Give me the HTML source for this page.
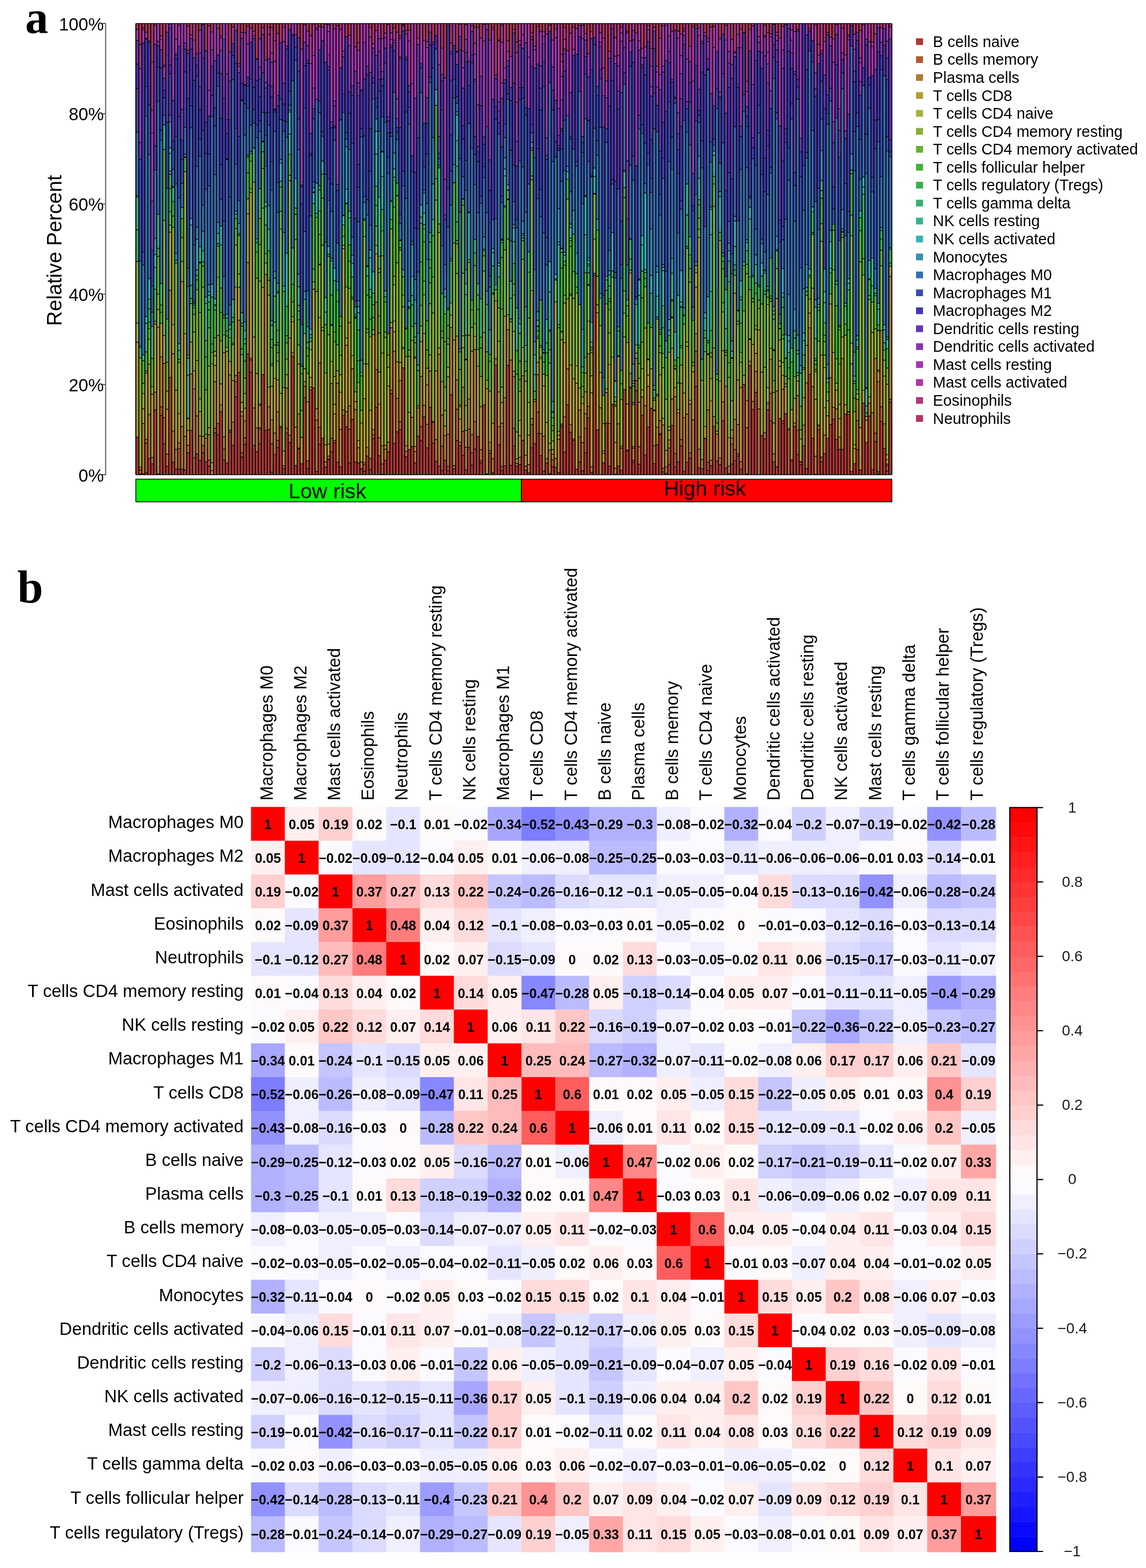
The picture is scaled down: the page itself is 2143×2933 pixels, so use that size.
<!DOCTYPE html>
<html><head><meta charset="utf-8"><title>Figure</title>
<style>html,body{margin:0;padding:0;background:#fff;width:2143px;height:2933px;overflow:hidden}body{position:relative}</style>
</head><body>
<svg width="2143" height="2933" viewBox="0 0 2143 2933" style="position:absolute;left:0;top:0">
<rect width="2143" height="2933" fill="#fff"/>
<path fill="#B23636" d="M254 818h5.6v70h-5.6zM259.6 886.9h5.6v1.1h-5.6zM265.2 886.2h5.6v1.8h-5.6zM270.8 884.3h5.6v3.7h-5.6zM276.4 857.4h5.6v30.6h-5.6zM281.9 867.8h5.6v20.2h-5.6zM287.5 766.9h5.6v121.1h-5.6zM293.1 886.5h5.6v1.5h-5.6zM298.7 777h5.6v111h-5.6zM304.3 830.2h5.6v57.8h-5.6zM309.9 872.2h5.6v15.8h-5.6zM315.5 706.2h5.6v181.8h-5.6zM321.1 864.8h5.6v23.2h-5.6zM326.6 877.3h5.6v10.7h-5.6zM332.2 878.3h5.6v9.7h-5.6zM337.8 877.8h5.6v10.2h-5.6zM343.4 878.9h5.6v9.1h-5.6zM349 847h5.6v41h-5.6zM354.6 805.1h5.6v82.9h-5.6zM360.2 887.8h5.6v0.2h-5.6zM365.8 849h5.6v39h-5.6zM371.3 861.1h5.6v26.9h-5.6zM376.9 846.9h5.6v41.1h-5.6zM382.5 864.2h5.6v23.8h-5.6zM388.1 871.9h5.6v16.1h-5.6zM393.7 887.6h5.6v0.4h-5.6zM399.3 809.5h5.6v78.5h-5.6zM404.9 813.5h5.6v74.5h-5.6zM410.5 770.3h5.6v117.7h-5.6zM416 860.5h5.6v27.5h-5.6zM421.6 865.6h5.6v22.4h-5.6zM427.2 808.3h5.6v79.7h-5.6zM432.8 833h5.6v55h-5.6zM438.4 741.9h5.6v146.1h-5.6zM444 696.5h5.6v191.5h-5.6zM449.6 854.9h5.6v33.1h-5.6zM455.2 830.9h5.6v57.1h-5.6zM460.7 662h5.6v226h-5.6zM466.3 696.5h5.6v191.5h-5.6zM471.9 832.9h5.6v55.1h-5.6zM477.5 845.2h5.6v42.8h-5.6zM483.1 829.6h5.6v58.4h-5.6zM488.7 700.7h5.6v187.3h-5.6zM494.3 805h5.6v83h-5.6zM499.9 803.5h5.6v84.5h-5.6zM505.4 883.3h5.6v4.7h-5.6zM511 850.1h5.6v37.9h-5.6zM516.6 837.3h5.6v50.7h-5.6zM522.2 800.3h5.6v87.7h-5.6zM527.8 876.2h5.6v11.8h-5.6zM533.4 810.1h5.6v77.9h-5.6zM539 827.8h5.6v60.2h-5.6zM544.6 666.9h5.6v221.1h-5.6zM550.2 870.8h5.6v17.2h-5.6zM555.7 839.7h5.6v48.3h-5.6zM561.3 867.4h5.6v20.6h-5.6zM566.9 744.3h5.6v143.7h-5.6zM572.5 876.4h5.6v11.6h-5.6zM578.1 729.5h5.6v158.5h-5.6zM583.7 725.4h5.6v162.6h-5.6zM589.3 881.8h5.6v6.2h-5.6zM594.9 830.9h5.6v57.1h-5.6zM600.4 819.9h5.6v68.1h-5.6zM606 873.8h5.6v14.2h-5.6zM611.6 860.2h5.6v27.8h-5.6zM617.2 845.2h5.6v42.8h-5.6zM622.8 827.6h5.6v60.4h-5.6zM628.4 864.5h5.6v23.5h-5.6zM634 873.2h5.6v14.8h-5.6zM639.6 777.1h5.6v110.9h-5.6zM645.1 798.4h5.6v89.6h-5.6zM650.7 866.1h5.6v21.9h-5.6zM656.3 784.8h5.6v103.2h-5.6zM661.9 864.3h5.6v23.7h-5.6zM667.5 866.2h5.6v21.8h-5.6zM673.1 877.3h5.6v10.7h-5.6zM678.7 881.3h5.6v6.7h-5.6zM684.3 853.3h5.6v34.7h-5.6zM689.8 878.8h5.6v9.2h-5.6zM695.4 820.5h5.6v67.5h-5.6zM701 762.2h5.6v125.8h-5.6zM706.6 852.5h5.6v35.5h-5.6zM712.2 887.1h5.6v0.9h-5.6zM717.8 861.1h5.6v26.9h-5.6zM723.4 845.3h5.6v42.7h-5.6zM729 736.4h5.6v151.6h-5.6zM734.5 829.4h5.6v58.6h-5.6zM740.1 807.7h5.6v80.3h-5.6zM745.7 804.3h5.6v83.7h-5.6zM751.3 687.9h5.6v200.1h-5.6zM756.9 854.3h5.6v33.7h-5.6zM762.5 840.9h5.6v47.1h-5.6zM768.1 835.4h5.6v52.6h-5.6zM773.7 866h5.6v22h-5.6zM779.2 816.2h5.6v71.8h-5.6zM784.8 824.3h5.6v63.7h-5.6zM790.4 779.7h5.6v108.3h-5.6zM796 837.7h5.6v50.3h-5.6zM801.6 762h5.6v126h-5.6zM807.2 828.9h5.6v59.1h-5.6zM812.8 862.9h5.6v25.1h-5.6zM818.4 871.8h5.6v16.2h-5.6zM824 879.9h5.6v8.1h-5.6zM829.5 860.8h5.6v27.2h-5.6zM835.1 880.7h5.6v7.3h-5.6zM840.7 738.5h5.6v149.5h-5.6zM846.3 877h5.6v11h-5.6zM851.9 824.3h5.6v63.7h-5.6zM857.5 833.4h5.6v54.6h-5.6zM863.1 852.2h5.6v35.8h-5.6zM868.7 878.8h5.6v9.2h-5.6zM874.2 837.3h5.6v50.7h-5.6zM879.8 870.2h5.6v17.8h-5.6zM885.4 839.9h5.6v48.1h-5.6zM891 816.5h5.6v71.5h-5.6zM896.6 865.7h5.6v22.3h-5.6zM902.2 757.1h5.6v130.9h-5.6zM913.4 847.7h5.6v40.3h-5.6zM918.9 884.5h5.6v3.5h-5.6zM924.5 683.1h5.6v204.9h-5.6zM930.1 832.3h5.6v55.7h-5.6zM935.7 879.9h5.6v8.1h-5.6zM941.3 871.1h5.6v16.9h-5.6zM946.9 683.4h5.6v204.6h-5.6zM952.5 870.4h5.6v17.6h-5.6zM958.1 834.3h5.6v53.7h-5.6zM963.6 872.2h5.6v15.8h-5.6zM969.2 868.7h5.6v19.3h-5.6zM974.8 823.8h5.6v64.2h-5.6zM980.4 879.5h5.6v8.5h-5.6zM986 884.7h5.6v3.3h-5.6zM991.6 837.6h5.6v50.4h-5.6zM997.2 830.1h5.6v57.9h-5.6zM1002.8 810.8h5.6v77.2h-5.6zM1008.3 852.1h5.6v35.9h-5.6zM1013.9 881.3h5.6v6.7h-5.6zM1019.5 865.9h5.6v22.1h-5.6zM1025.1 885.8h5.6v2.2h-5.6zM1030.7 873h5.6v15h-5.6zM1036.3 874.3h5.6v13.7h-5.6zM1041.9 883.9h5.6v4.1h-5.6zM1047.5 797.2h5.6v90.8h-5.6zM1053 845.7h5.6v42.3h-5.6zM1058.6 757.2h5.6v130.8h-5.6zM1064.2 808.5h5.6v79.5h-5.6zM1069.8 823.7h5.6v64.3h-5.6zM1075.4 877.7h5.6v10.3h-5.6zM1081 864.5h5.6v23.5h-5.6zM1086.6 880.7h5.6v7.3h-5.6zM1092.2 847.1h5.6v40.9h-5.6zM1097.7 781.6h5.6v106.4h-5.6zM1103.3 883.4h5.6v4.6h-5.6zM1108.9 514.4h5.6v373.6h-5.6zM1114.5 804.2h5.6v83.8h-5.6zM1120.1 887.7h5.6v0.3h-5.6zM1125.7 865.7h5.6v22.3h-5.6zM1131.3 791.5h5.6v96.5h-5.6zM1136.9 871.9h5.6v16.1h-5.6zM1142.5 756.8h5.6v131.2h-5.6zM1148 887h5.6v1h-5.6zM1153.6 871.7h5.6v16.3h-5.6zM1159.2 880.1h5.6v7.9h-5.6zM1164.8 728.7h5.6v159.3h-5.6zM1170.4 843.7h5.6v44.3h-5.6zM1176 725.9h5.6v162.1h-5.6zM1181.6 864.6h5.6v23.4h-5.6zM1187.2 730.8h5.6v157.2h-5.6zM1192.7 868.3h5.6v19.7h-5.6zM1198.3 776.6h5.6v111.4h-5.6zM1203.9 851h5.6v37h-5.6zM1209.5 798.9h5.6v89.1h-5.6zM1215.1 763.7h5.6v124.3h-5.6zM1220.7 867.2h5.6v20.8h-5.6zM1226.3 831.9h5.6v56.1h-5.6zM1231.9 813.2h5.6v74.8h-5.6zM1237.4 882.5h5.6v5.5h-5.6zM1243 885.4h5.6v2.6h-5.6zM1248.6 868.5h5.6v19.5h-5.6zM1254.2 795.7h5.6v92.3h-5.6zM1259.8 873.6h5.6v14.4h-5.6zM1265.4 863.7h5.6v24.3h-5.6zM1271 834h5.6v54h-5.6zM1276.6 881.6h5.6v6.4h-5.6zM1282.1 864.8h5.6v23.2h-5.6zM1287.7 856.8h5.6v31.2h-5.6zM1293.3 887.8h5.6v0.2h-5.6zM1298.9 722.7h5.6v165.3h-5.6zM1304.5 875.2h5.6v12.8h-5.6zM1310.1 876.8h5.6v11.2h-5.6zM1315.7 820.8h5.6v67.2h-5.6zM1321.3 879.6h5.6v8.4h-5.6zM1326.8 871.3h5.6v16.7h-5.6zM1332.4 797.6h5.6v90.4h-5.6zM1338 862.2h5.6v25.8h-5.6zM1343.6 868.9h5.6v19.1h-5.6zM1349.2 787.2h5.6v100.8h-5.6zM1354.8 875.5h5.6v12.5h-5.6zM1360.4 886h5.6v2h-5.6zM1366 867.9h5.6v20.1h-5.6zM1371.5 862.1h5.6v25.9h-5.6zM1377.1 853h5.6v35h-5.6zM1382.7 877.6h5.6v10.4h-5.6zM1388.3 719.3h5.6v168.7h-5.6zM1393.9 886.1h5.6v1.9h-5.6zM1399.5 684h5.6v204h-5.6zM1405.1 765.6h5.6v122.4h-5.6zM1410.7 733.7h5.6v154.3h-5.6zM1416.3 887.6h5.6v0.4h-5.6zM1421.8 814.4h5.6v73.6h-5.6zM1427.4 820.6h5.6v67.4h-5.6zM1433 766.4h5.6v121.6h-5.6zM1438.6 787.2h5.6v100.8h-5.6zM1444.2 863.9h5.6v24.1h-5.6zM1449.8 872.9h5.6v15.1h-5.6zM1455.4 782.9h5.6v105.1h-5.6zM1461 792.1h5.6v95.9h-5.6zM1466.5 774h5.6v114h-5.6zM1472.1 887.6h5.6v0.4h-5.6zM1477.7 862.6h5.6v25.4h-5.6zM1483.3 797.9h5.6v90.1h-5.6zM1488.9 850.4h5.6v37.6h-5.6zM1494.5 869.2h5.6v18.8h-5.6zM1500.1 834.1h5.6v53.9h-5.6zM1505.7 876.5h5.6v11.5h-5.6zM1511.2 700.2h5.6v187.8h-5.6zM1516.8 819.7h5.6v68.3h-5.6zM1522.4 887.3h5.6v0.7h-5.6zM1528 803h5.6v85h-5.6zM1533.6 863.8h5.6v24.2h-5.6zM1539.2 848.7h5.6v39.3h-5.6zM1544.8 820.1h5.6v67.9h-5.6zM1550.4 794h5.6v94h-5.6zM1555.9 783.9h5.6v104.1h-5.6zM1561.5 821.6h5.6v66.4h-5.6zM1567.1 840.4h5.6v47.6h-5.6zM1572.7 840.7h5.6v47.3h-5.6zM1578.3 774.4h5.6v113.6h-5.6zM1583.9 775.2h5.6v112.8h-5.6zM1589.5 881.6h5.6v6.4h-5.6zM1595.1 867.1h5.6v20.9h-5.6zM1600.6 840.9h5.6v47.1h-5.6zM1606.2 879.2h5.6v8.8h-5.6zM1611.8 753.9h5.6v134.1h-5.6zM1617.4 827.6h5.6v60.4h-5.6zM1623 778.2h5.6v109.8h-5.6zM1628.6 878.5h5.6v9.5h-5.6zM1634.2 826.3h5.6v61.7h-5.6zM1639.8 886.8h5.6v1.2h-5.6zM1645.3 788.6h5.6v99.4h-5.6zM1650.9 838.6h5.6v49.4h-5.6zM1656.5 880.8h5.6v7.2h-5.6zM1662.1 752.3h5.6v135.7h-5.6z"/>
<path fill="#B25836" d="M259.6 879h5.6v7.8h-5.6zM270.8 828.8h5.6v55.5h-5.6zM298.7 761h5.6v16h-5.6zM304.3 781.2h5.6v49h-5.6zM332.2 839.1h5.6v39.2h-5.6zM360.2 856.3h5.6v31.5h-5.6zM376.9 832.9h5.6v14h-5.6zM388.1 860.7h5.6v11.2h-5.6zM399.3 801.2h5.6v8.3h-5.6zM404.9 792.5h5.6v21h-5.6zM416 839.9h5.6v20.6h-5.6zM427.2 804.8h5.6v3.4h-5.6zM438.4 714h5.6v27.9h-5.6zM449.6 846.7h5.6v8.2h-5.6zM455.2 818.9h5.6v12.1h-5.6zM466.3 673.2h5.6v23.3h-5.6zM483.1 802.6h5.6v26.9h-5.6zM505.4 830.2h5.6v53.1h-5.6zM516.6 823.7h5.6v13.6h-5.6zM533.4 801.1h5.6v9h-5.6zM555.7 838.2h5.6v1.5h-5.6zM566.9 722.5h5.6v21.8h-5.6zM572.5 862h5.6v14.4h-5.6zM594.9 799.2h5.6v31.6h-5.6zM611.6 858.1h5.6v2.1h-5.6zM617.2 819.6h5.6v25.6h-5.6zM650.7 803h5.6v63h-5.6zM656.3 784.5h5.6v0.3h-5.6zM678.7 869.1h5.6v12.2h-5.6zM689.8 857.4h5.6v21.5h-5.6zM695.4 813.2h5.6v7.3h-5.6zM701 691.5h5.6v70.7h-5.6zM712.2 868h5.6v19h-5.6zM729 729.6h5.6v6.7h-5.6zM745.7 789h5.6v15.4h-5.6zM784.8 797.9h5.6v26.4h-5.6zM807.2 790.1h5.6v38.7h-5.6zM824 834.5h5.6v45.4h-5.6zM835.1 872.1h5.6v8.6h-5.6zM851.9 765.4h5.6v58.9h-5.6zM863.1 806.9h5.6v45.3h-5.6zM874.2 803h5.6v34.3h-5.6zM879.8 847.2h5.6v22.9h-5.6zM885.4 788.6h5.6v51.4h-5.6zM896.6 861.6h5.6v4h-5.6zM913.4 842.5h5.6v5.2h-5.6zM935.7 872.8h5.6v7.1h-5.6zM958.1 801.3h5.6v33h-5.6zM991.6 794.3h5.6v43.3h-5.6zM1002.8 770.7h5.6v40.1h-5.6zM1030.7 860.3h5.6v12.7h-5.6zM1047.5 793.2h5.6v3.9h-5.6zM1081 817.1h5.6v47.4h-5.6zM1092.2 801.1h5.6v46h-5.6zM1097.7 760.2h5.6v21.4h-5.6zM1176 723.6h5.6v2.4h-5.6zM1181.6 861.3h5.6v3.3h-5.6zM1187.2 712h5.6v18.8h-5.6zM1231.9 811.2h5.6v2h-5.6zM1237.4 875.7h5.6v6.8h-5.6zM1248.6 838h5.6v30.5h-5.6zM1259.8 848.2h5.6v25.4h-5.6zM1271 822.3h5.6v11.7h-5.6zM1287.7 847.3h5.6v9.5h-5.6zM1298.9 656.8h5.6v65.9h-5.6zM1321.3 864.7h5.6v14.9h-5.6zM1366 830.6h5.6v37.3h-5.6zM1371.5 840.8h5.6v21.2h-5.6zM1377.1 848.8h5.6v4.2h-5.6zM1438.6 735.7h5.6v51.5h-5.6zM1461 787.4h5.6v4.7h-5.6zM1472.1 803.9h5.6v83.7h-5.6zM1477.7 859.6h5.6v3h-5.6zM1488.9 805.1h5.6v45.3h-5.6zM1494.5 864.5h5.6v4.7h-5.6zM1533.6 854.9h5.6v8.9h-5.6zM1600.6 786.7h5.6v54.2h-5.6zM1634.2 810.5h5.6v15.8h-5.6zM1639.8 882.4h5.6v4.3h-5.6zM1645.3 760.8h5.6v27.8h-5.6zM1656.5 871h5.6v9.8h-5.6zM1662.1 747h5.6v5.3h-5.6z"/>
<path fill="#B27A36" d="M259.6 873.6h5.6v5.5h-5.6zM265.2 792.3h5.6v93.9h-5.6zM270.8 822.2h5.6v6.5h-5.6zM276.4 775.4h5.6v82h-5.6zM281.9 855.8h5.6v12h-5.6zM287.5 733.4h5.6v33.5h-5.6zM298.7 667.6h5.6v93.4h-5.6zM304.3 679.8h5.6v101.4h-5.6zM309.9 849.4h5.6v22.8h-5.6zM315.5 542.9h5.6v163.3h-5.6zM321.1 806.3h5.6v58.4h-5.6zM326.6 840.4h5.6v36.9h-5.6zM332.2 828.8h5.6v10.3h-5.6zM337.8 797.7h5.6v80.1h-5.6zM343.4 816h5.6v62.9h-5.6zM349 832.7h5.6v14.3h-5.6zM354.6 699.5h5.6v105.6h-5.6zM360.2 727.6h5.6v128.7h-5.6zM365.8 778h5.6v71h-5.6zM371.3 815.5h5.6v45.6h-5.6zM382.5 819.6h5.6v44.6h-5.6zM388.1 813.3h5.6v47.3h-5.6zM399.3 714h5.6v87.2h-5.6zM410.5 757.1h5.6v13.2h-5.6zM416 816.9h5.6v23h-5.6zM427.2 701.2h5.6v103.6h-5.6zM432.8 789.6h5.6v43.4h-5.6zM438.4 702.5h5.6v11.6h-5.6zM444 598.9h5.6v97.6h-5.6zM449.6 778.1h5.6v68.6h-5.6zM455.2 787.4h5.6v31.5h-5.6zM460.7 491.3h5.6v170.7h-5.6zM466.3 670.3h5.6v3h-5.6zM471.9 763.3h5.6v69.6h-5.6zM477.5 800.4h5.6v44.9h-5.6zM483.1 800.2h5.6v2.4h-5.6zM494.3 513.3h5.6v291.7h-5.6zM499.9 760.8h5.6v42.7h-5.6zM505.4 785.1h5.6v45.1h-5.6zM511 810.2h5.6v39.9h-5.6zM516.6 770.5h5.6v53.2h-5.6zM522.2 797.4h5.6v2.9h-5.6zM527.8 871.3h5.6v4.9h-5.6zM533.4 725.8h5.6v75.3h-5.6zM539 814h5.6v13.8h-5.6zM544.6 659.1h5.6v7.9h-5.6zM555.7 774.4h5.6v63.8h-5.6zM566.9 713.6h5.6v8.9h-5.6zM578.1 724h5.6v5.5h-5.6zM589.3 785.7h5.6v96.1h-5.6zM594.9 679.2h5.6v120h-5.6zM606 863.8h5.6v10.1h-5.6zM611.6 853.1h5.6v5h-5.6zM617.2 717.5h5.6v102.1h-5.6zM622.8 824h5.6v3.6h-5.6zM628.4 716.9h5.6v147.7h-5.6zM634 803.2h5.6v70h-5.6zM639.6 766.8h5.6v10.3h-5.6zM645.1 769.9h5.6v28.5h-5.6zM650.7 759.5h5.6v43.5h-5.6zM656.3 689.7h5.6v94.8h-5.6zM661.9 766h5.6v98.4h-5.6zM667.5 837.5h5.6v28.7h-5.6zM673.1 863.7h5.6v13.5h-5.6zM678.7 865.6h5.6v3.5h-5.6zM684.3 837.1h5.6v16.3h-5.6zM695.4 803.5h5.6v9.7h-5.6zM701 565.2h5.6v126.3h-5.6zM706.6 819h5.6v33.5h-5.6zM712.2 833.7h5.6v34.4h-5.6zM717.8 840.2h5.6v20.9h-5.6zM723.4 826.9h5.6v18.4h-5.6zM729 613.3h5.6v116.4h-5.6zM734.5 657.2h5.6v172.2h-5.6zM740.1 745.3h5.6v62.4h-5.6zM745.7 711.6h5.6v77.4h-5.6zM756.9 844.3h5.6v10h-5.6zM768.1 780.6h5.6v54.7h-5.6zM773.7 844.5h5.6v21.5h-5.6zM779.2 763h5.6v53.1h-5.6zM784.8 704.3h5.6v93.5h-5.6zM790.4 758.2h5.6v21.5h-5.6zM796 793.6h5.6v44.1h-5.6zM801.6 694h5.6v68h-5.6zM807.2 788.5h5.6v1.7h-5.6zM812.8 822.2h5.6v40.7h-5.6zM818.4 662.8h5.6v209h-5.6zM824 776.2h5.6v58.3h-5.6zM829.5 814.7h5.6v46.2h-5.6zM835.1 812.3h5.6v59.8h-5.6zM840.7 612.5h5.6v126h-5.6zM846.3 870.9h5.6v6.1h-5.6zM851.9 710.5h5.6v54.9h-5.6zM857.5 827.1h5.6v6.4h-5.6zM863.1 724.4h5.6v82.5h-5.6zM868.7 836.5h5.6v42.4h-5.6zM874.2 746.3h5.6v56.7h-5.6zM879.8 813.1h5.6v34.1h-5.6zM885.4 653.7h5.6v134.9h-5.6zM896.6 841h5.6v20.7h-5.6zM907.8 886.4h5.6v1.5h-5.6zM913.4 827.1h5.6v15.4h-5.6zM918.9 857.9h5.6v26.5h-5.6zM924.5 670.9h5.6v12.2h-5.6zM930.1 798.2h5.6v34.2h-5.6zM935.7 791.8h5.6v81.1h-5.6zM941.3 744.1h5.6v127.1h-5.6zM946.9 617h5.6v66.4h-5.6zM952.5 673.5h5.6v196.9h-5.6zM958.1 704.2h5.6v97.1h-5.6zM963.6 866.7h5.6v5.4h-5.6zM969.2 855.4h5.6v13.3h-5.6zM974.8 702.7h5.6v121.1h-5.6zM980.4 872h5.6v7.4h-5.6zM986 869.2h5.6v15.5h-5.6zM991.6 782.9h5.6v11.4h-5.6zM997.2 751.2h5.6v78.9h-5.6zM1002.8 700.8h5.6v69.9h-5.6zM1008.3 810.9h5.6v41.3h-5.6zM1013.9 816.3h5.6v65h-5.6zM1019.5 858h5.6v7.9h-5.6zM1025.1 841.7h5.6v44.1h-5.6zM1030.7 849.5h5.6v10.8h-5.6zM1036.3 857.4h5.6v17h-5.6zM1041.9 821.5h5.6v62.4h-5.6zM1053 779.6h5.6v66.1h-5.6zM1058.6 689.7h5.6v67.5h-5.6zM1064.2 794.1h5.6v14.4h-5.6zM1069.8 821.3h5.6v2.4h-5.6zM1081 767h5.6v50.1h-5.6zM1086.6 828h5.6v52.7h-5.6zM1092.2 774h5.6v27.1h-5.6zM1097.7 661.8h5.6v98.4h-5.6zM1103.3 873.4h5.6v10h-5.6zM1108.9 511.2h5.6v3.1h-5.6zM1120.1 762.7h5.6v125h-5.6zM1131.3 734.5h5.6v57h-5.6zM1136.9 792.3h5.6v79.6h-5.6zM1142.5 756.4h5.6v0.5h-5.6zM1148 875.8h5.6v11.3h-5.6zM1153.6 792.8h5.6v78.9h-5.6zM1159.2 838.4h5.6v41.7h-5.6zM1170.4 842h5.6v1.7h-5.6zM1176 698.4h5.6v25.2h-5.6zM1181.6 838.3h5.6v23h-5.6zM1187.2 670.3h5.6v41.7h-5.6zM1192.7 835.7h5.6v32.6h-5.6zM1198.3 742.7h5.6v33.9h-5.6zM1203.9 759h5.6v92h-5.6zM1209.5 722.7h5.6v76.3h-5.6zM1220.7 833.5h5.6v33.7h-5.6zM1226.3 799.1h5.6v32.8h-5.6zM1231.9 786.7h5.6v24.5h-5.6zM1237.4 794.9h5.6v80.8h-5.6zM1243 873.1h5.6v12.2h-5.6zM1248.6 822.7h5.6v15.3h-5.6zM1254.2 746.2h5.6v49.5h-5.6zM1259.8 741.8h5.6v106.4h-5.6zM1265.4 772.1h5.6v91.6h-5.6zM1271 717h5.6v105.4h-5.6zM1276.6 781.1h5.6v100.5h-5.6zM1282.1 774.7h5.6v90.1h-5.6zM1287.7 755.9h5.6v91.4h-5.6zM1293.3 785.4h5.6v102.4h-5.6zM1298.9 624.1h5.6v32.7h-5.6zM1304.5 840.4h5.6v34.8h-5.6zM1310.1 859.7h5.6v17.1h-5.6zM1315.7 819.6h5.6v1.2h-5.6zM1321.3 766.8h5.6v97.9h-5.6zM1326.8 861h5.6v10.3h-5.6zM1332.4 778.9h5.6v18.7h-5.6zM1338 811.9h5.6v50.3h-5.6zM1343.6 856.6h5.6v12.2h-5.6zM1349.2 751.6h5.6v35.6h-5.6zM1354.8 722.6h5.6v152.9h-5.6zM1360.4 872h5.6v14.1h-5.6zM1366 819.4h5.6v11.2h-5.6zM1371.5 784.4h5.6v56.4h-5.6zM1377.1 793.8h5.6v55h-5.6zM1382.7 863.4h5.6v14.2h-5.6zM1393.9 799.7h5.6v86.4h-5.6zM1399.5 675.6h5.6v8.4h-5.6zM1405.1 750.7h5.6v14.8h-5.6zM1410.7 694.8h5.6v38.9h-5.6zM1416.3 764.9h5.6v122.7h-5.6zM1427.4 809.4h5.6v11.2h-5.6zM1433 756.1h5.6v10.3h-5.6zM1438.6 672.1h5.6v63.6h-5.6zM1444.2 848.7h5.6v15.2h-5.6zM1449.8 731.2h5.6v141.7h-5.6zM1461 728h5.6v59.5h-5.6zM1483.3 791.2h5.6v6.7h-5.6zM1488.9 740h5.6v65h-5.6zM1500.1 795.2h5.6v38.9h-5.6zM1505.7 716.3h5.6v160.3h-5.6zM1511.2 613.1h5.6v87.1h-5.6zM1516.8 723.3h5.6v96.4h-5.6zM1522.4 853.4h5.6v33.9h-5.6zM1528 797.5h5.6v5.5h-5.6zM1539.2 813.8h5.6v34.8h-5.6zM1550.4 706.5h5.6v87.5h-5.6zM1555.9 762h5.6v21.9h-5.6zM1561.5 764.9h5.6v56.6h-5.6zM1567.1 817.4h5.6v23h-5.6zM1572.7 670.8h5.6v169.8h-5.6zM1600.6 746.9h5.6v39.8h-5.6zM1623 754.3h5.6v23.9h-5.6zM1628.6 771.9h5.6v106.6h-5.6zM1634.2 670.4h5.6v140.1h-5.6zM1639.8 714.1h5.6v168.4h-5.6zM1645.3 618.3h5.6v142.5h-5.6zM1650.9 792.6h5.6v46h-5.6zM1656.5 868h5.6v3h-5.6zM1662.1 516.9h5.6v230.1h-5.6z"/>
<path fill="#B29C36" d="M254 640.3h5.6v177.7h-5.6zM265.2 764.7h5.6v27.6h-5.6zM270.8 698h5.6v124.2h-5.6zM276.4 681.5h5.6v93.9h-5.6zM281.9 737.4h5.6v118.3h-5.6zM287.5 606h5.6v127.4h-5.6zM293.1 612.1h5.6v274.5h-5.6zM298.7 604.6h5.6v63h-5.6zM304.3 627.4h5.6v52.4h-5.6zM309.9 765.5h5.6v83.9h-5.6zM315.5 434.2h5.6v108.6h-5.6zM321.1 661.5h5.6v144.9h-5.6zM326.6 729.9h5.6v110.5h-5.6zM332.2 773.6h5.6v55.2h-5.6zM337.8 526.7h5.6v271h-5.6zM343.4 624.3h5.6v191.7h-5.6zM349 805.2h5.6v27.5h-5.6zM354.6 639.9h5.6v59.5h-5.6zM360.2 693.6h5.6v34h-5.6zM365.8 674.2h5.6v103.8h-5.6zM371.3 769.8h5.6v45.7h-5.6zM376.9 816.3h5.6v16.6h-5.6zM382.5 812.5h5.6v7.1h-5.6zM388.1 800h5.6v13.3h-5.6zM393.7 880.2h5.6v7.4h-5.6zM399.3 683.4h5.6v30.7h-5.6zM404.9 627.4h5.6v165.1h-5.6zM410.5 717.9h5.6v39.2h-5.6zM416 659.8h5.6v157.1h-5.6zM421.6 657.4h5.6v208.3h-5.6zM427.2 676.3h5.6v24.9h-5.6zM432.8 711.8h5.6v77.8h-5.6zM438.4 536.6h5.6v165.9h-5.6zM444 537.4h5.6v61.5h-5.6zM449.6 770.2h5.6v8h-5.6zM455.2 763.4h5.6v24h-5.6zM460.7 400h5.6v91.3h-5.6zM466.3 360.3h5.6v310h-5.6zM471.9 630.5h5.6v132.8h-5.6zM477.5 699h5.6v101.3h-5.6zM483.1 758.5h5.6v41.8h-5.6zM488.7 537.4h5.6v163.3h-5.6zM499.9 723.8h5.6v36.9h-5.6zM505.4 722.7h5.6v62.4h-5.6zM511 707.7h5.6v102.5h-5.6zM516.6 710.6h5.6v59.9h-5.6zM522.2 735.8h5.6v61.6h-5.6zM527.8 843.4h5.6v27.8h-5.6zM533.4 701h5.6v24.8h-5.6zM539 632.4h5.6v181.5h-5.6zM544.6 601.6h5.6v57.5h-5.6zM550.2 799.3h5.6v71.5h-5.6zM555.7 680.9h5.6v93.5h-5.6zM561.3 818h5.6v49.5h-5.6zM566.9 689.8h5.6v23.8h-5.6zM572.5 751.7h5.6v110.3h-5.6zM578.1 706h5.6v18h-5.6zM583.7 540.9h5.6v184.5h-5.6zM589.3 764.8h5.6v21h-5.6zM594.9 593.8h5.6v85.4h-5.6zM600.4 618.2h5.6v201.7h-5.6zM606 832.3h5.6v31.5h-5.6zM611.6 830.5h5.6v22.6h-5.6zM617.2 676.1h5.6v41.3h-5.6zM622.8 774.2h5.6v49.8h-5.6zM628.4 693.5h5.6v23.4h-5.6zM634 733.6h5.6v69.6h-5.6zM639.6 465.2h5.6v301.6h-5.6zM645.1 645.8h5.6v124.1h-5.6zM650.7 603.4h5.6v156.2h-5.6zM656.3 665.1h5.6v24.6h-5.6zM661.9 751.3h5.6v14.7h-5.6zM667.5 823.8h5.6v13.7h-5.6zM673.1 791.1h5.6v72.6h-5.6zM678.7 745.8h5.6v119.7h-5.6zM684.3 680.8h5.6v156.2h-5.6zM689.8 767.5h5.6v89.9h-5.6zM695.4 625.8h5.6v177.7h-5.6zM701 475.1h5.6v90.1h-5.6zM706.6 756.1h5.6v62.9h-5.6zM712.2 660.4h5.6v173.3h-5.6zM717.8 833.5h5.6v6.7h-5.6zM723.4 722.2h5.6v104.7h-5.6zM729 603.2h5.6v10h-5.6zM734.5 620.4h5.6v36.8h-5.6zM740.1 676.9h5.6v68.3h-5.6zM745.7 678.2h5.6v33.4h-5.6zM751.3 652.3h5.6v35.6h-5.6zM756.9 833.7h5.6v10.6h-5.6zM762.5 771.2h5.6v69.6h-5.6zM768.1 636.7h5.6v143.9h-5.6zM773.7 835.3h5.6v9.2h-5.6zM779.2 759.3h5.6v3.8h-5.6zM784.8 638.8h5.6v65.5h-5.6zM790.4 623.9h5.6v134.3h-5.6zM796 720.2h5.6v73.4h-5.6zM801.6 663.7h5.6v30.3h-5.6zM812.8 693.8h5.6v128.4h-5.6zM818.4 650.7h5.6v12.1h-5.6zM824 713.9h5.6v62.3h-5.6zM829.5 797h5.6v17.7h-5.6zM835.1 704.8h5.6v107.5h-5.6zM840.7 589.5h5.6v23.1h-5.6zM846.3 636h5.6v234.9h-5.6zM851.9 628.6h5.6v81.9h-5.6zM857.5 783.6h5.6v43.5h-5.6zM863.1 650.2h5.6v74.1h-5.6zM868.7 805.3h5.6v31.2h-5.6zM874.2 627.3h5.6v119h-5.6zM879.8 656.7h5.6v156.4h-5.6zM885.4 629.1h5.6v24.5h-5.6zM891 685.1h5.6v131.5h-5.6zM896.6 760.5h5.6v80.5h-5.6zM902.2 622h5.6v135.1h-5.6zM907.8 727.3h5.6v159.1h-5.6zM913.4 731.6h5.6v95.5h-5.6zM918.9 791.6h5.6v66.3h-5.6zM924.5 562.6h5.6v108.3h-5.6zM930.1 732.9h5.6v65.2h-5.6zM935.7 753h5.6v38.7h-5.6zM941.3 591.4h5.6v152.7h-5.6zM946.9 588.6h5.6v28.4h-5.6zM958.1 694.4h5.6v9.8h-5.6zM963.6 858.2h5.6v8.5h-5.6zM969.2 814.7h5.6v40.7h-5.6zM974.8 649.7h5.6v53h-5.6zM980.4 851.5h5.6v20.5h-5.6zM986 813.9h5.6v55.4h-5.6zM991.6 543.6h5.6v239.3h-5.6zM997.2 747.5h5.6v3.7h-5.6zM1002.8 678h5.6v22.8h-5.6zM1008.3 670.6h5.6v140.2h-5.6zM1013.9 721.7h5.6v94.6h-5.6zM1019.5 790.2h5.6v67.8h-5.6zM1025.1 829.5h5.6v12.2h-5.6zM1030.7 841h5.6v8.5h-5.6zM1036.3 564.5h5.6v292.9h-5.6zM1041.9 814.2h5.6v7.3h-5.6zM1047.5 635.4h5.6v157.8h-5.6zM1053 640.7h5.6v139h-5.6zM1058.6 558.9h5.6v130.8h-5.6zM1064.2 682.7h5.6v111.3h-5.6zM1069.8 708.4h5.6v112.9h-5.6zM1075.4 716.7h5.6v161h-5.6zM1081 726.3h5.6v40.7h-5.6zM1086.6 754.6h5.6v73.4h-5.6zM1092.2 732.9h5.6v41.2h-5.6zM1097.7 600.6h5.6v61.2h-5.6zM1103.3 734.7h5.6v138.8h-5.6zM1108.9 447.1h5.6v64.1h-5.6zM1114.5 585.3h5.6v218.9h-5.6zM1120.1 696.5h5.6v66.2h-5.6zM1125.7 848h5.6v17.7h-5.6zM1131.3 727.5h5.6v7h-5.6zM1136.9 681.6h5.6v110.7h-5.6zM1142.5 668.1h5.6v88.3h-5.6zM1148 827.7h5.6v48.1h-5.6zM1153.6 667h5.6v125.8h-5.6zM1159.2 834.9h5.6v3.6h-5.6zM1164.8 629.9h5.6v98.8h-5.6zM1170.4 755.7h5.6v86.3h-5.6zM1176 510.6h5.6v187.8h-5.6zM1181.6 835.1h5.6v3.2h-5.6zM1187.2 660.5h5.6v9.8h-5.6zM1192.7 752.3h5.6v83.5h-5.6zM1198.3 729.5h5.6v13.2h-5.6zM1203.9 613.4h5.6v145.5h-5.6zM1209.5 701.4h5.6v21.2h-5.6zM1215.1 690h5.6v73.7h-5.6zM1220.7 768.5h5.6v65h-5.6zM1226.3 740.4h5.6v58.7h-5.6zM1231.9 701h5.6v85.7h-5.6zM1237.4 782.5h5.6v12.4h-5.6zM1243 842.4h5.6v30.7h-5.6zM1248.6 805h5.6v17.7h-5.6zM1254.2 651.4h5.6v94.8h-5.6zM1259.8 725h5.6v16.8h-5.6zM1271 682.9h5.6v34h-5.6zM1276.6 735.3h5.6v45.8h-5.6zM1282.1 647.8h5.6v126.8h-5.6zM1287.7 748.6h5.6v7.3h-5.6zM1293.3 695.5h5.6v89.9h-5.6zM1298.9 536.9h5.6v87.1h-5.6zM1304.5 444.3h5.6v396.1h-5.6zM1315.7 797.6h5.6v22h-5.6zM1321.3 663.4h5.6v103.4h-5.6zM1326.8 750.1h5.6v110.9h-5.6zM1332.4 650.8h5.6v128.1h-5.6zM1343.6 712.6h5.6v144h-5.6zM1349.2 655.9h5.6v95.6h-5.6zM1360.4 818.6h5.6v53.4h-5.6zM1366 804.2h5.6v15.1h-5.6zM1371.5 548.4h5.6v236h-5.6zM1377.1 710.8h5.6v83h-5.6zM1382.7 724.8h5.6v138.6h-5.6zM1388.3 701.9h5.6v17.4h-5.6zM1393.9 749.4h5.6v50.3h-5.6zM1399.5 635.2h5.6v40.4h-5.6zM1405.1 644.2h5.6v106.6h-5.6zM1410.7 661.2h5.6v33.6h-5.6zM1416.3 617.4h5.6v147.4h-5.6zM1421.8 696.3h5.6v118.1h-5.6zM1433 752.6h5.6v3.5h-5.6zM1438.6 651.4h5.6v20.7h-5.6zM1444.2 791.3h5.6v57.4h-5.6zM1449.8 558.4h5.6v172.8h-5.6zM1455.4 685.4h5.6v97.4h-5.6zM1461 701.6h5.6v26.4h-5.6zM1466.5 723.3h5.6v50.7h-5.6zM1472.1 801.6h5.6v2.2h-5.6zM1477.7 766.6h5.6v93h-5.6zM1483.3 745.3h5.6v45.9h-5.6zM1488.9 712.7h5.6v27.3h-5.6zM1494.5 863.7h5.6v0.8h-5.6zM1500.1 744h5.6v51.2h-5.6zM1505.7 646h5.6v70.3h-5.6zM1511.2 585.7h5.6v27.3h-5.6zM1516.8 539.3h5.6v184.1h-5.6zM1522.4 747h5.6v106.4h-5.6zM1528 795h5.6v2.6h-5.6zM1533.6 664.1h5.6v190.8h-5.6zM1539.2 762.6h5.6v51.2h-5.6zM1544.8 777.8h5.6v42.3h-5.6zM1550.4 568.5h5.6v138h-5.6zM1555.9 659.3h5.6v102.7h-5.6zM1561.5 729.9h5.6v35h-5.6zM1567.1 782.9h5.6v34.5h-5.6zM1572.7 630.4h5.6v40.4h-5.6zM1578.3 757.2h5.6v17.2h-5.6zM1589.5 680.4h5.6v201.2h-5.6zM1595.1 838.9h5.6v28.2h-5.6zM1606.2 799.7h5.6v79.5h-5.6zM1611.8 730.1h5.6v23.8h-5.6zM1617.4 785.9h5.6v41.7h-5.6zM1623 742.4h5.6v11.9h-5.6zM1628.6 622.3h5.6v149.6h-5.6zM1639.8 694.7h5.6v19.4h-5.6zM1650.9 703.5h5.6v89.1h-5.6zM1656.5 859.6h5.6v8.4h-5.6zM1662.1 498.1h5.6v18.7h-5.6z"/>
<path fill="#A7B236" d="M254 604.1h5.6v36.2h-5.6zM293.1 578.9h5.6v33.2h-5.6zM321.1 607.1h5.6v54.4h-5.6zM393.7 865.4h5.6v14.8h-5.6zM399.3 665.6h5.6v17.7h-5.6zM421.6 649.6h5.6v7.8h-5.6zM449.6 752.8h5.6v17.4h-5.6zM483.1 755.9h5.6v2.5h-5.6zM578.1 654.1h5.6v51.8h-5.6zM600.4 612.5h5.6v5.7h-5.6zM622.8 756.4h5.6v17.8h-5.6zM645.1 632.4h5.6v13.4h-5.6zM678.7 680.4h5.6v65.4h-5.6zM734.5 600.6h5.6v19.8h-5.6zM751.3 649.5h5.6v2.7h-5.6zM835.1 686.9h5.6v17.9h-5.6zM863.1 628.2h5.6v22.1h-5.6zM958.1 620.3h5.6v74.1h-5.6zM969.2 786.5h5.6v28.2h-5.6zM1008.3 667.6h5.6v3.1h-5.6zM1075.4 684.1h5.6v32.6h-5.6zM1125.7 843.7h5.6v4.3h-5.6zM1220.7 766.7h5.6v1.8h-5.6zM1226.3 737.7h5.6v2.7h-5.6zM1248.6 798.4h5.6v6.6h-5.6zM1265.4 766.1h5.6v6h-5.6zM1282.1 639.8h5.6v8.1h-5.6zM1298.9 510.3h5.6v26.6h-5.6zM1399.5 633.7h5.6v1.5h-5.6zM1410.7 615.9h5.6v45.3h-5.6zM1433 725.2h5.6v27.5h-5.6zM1455.4 675.2h5.6v10.3h-5.6zM1461 677.8h5.6v23.8h-5.6zM1539.2 687.6h5.6v75h-5.6zM1589.5 642.1h5.6v38.3h-5.6zM1595.1 831.7h5.6v7.2h-5.6zM1600.6 736.7h5.6v10.2h-5.6zM1639.8 692.2h5.6v2.5h-5.6zM1656.5 850.4h5.6v9.2h-5.6z"/>
<path fill="#85B236" d="M254 489.2h5.6v114.9h-5.6zM259.6 669.5h5.6v204h-5.6zM265.2 736.1h5.6v28.6h-5.6zM276.4 634.6h5.6v47h-5.6zM281.9 723.6h5.6v13.9h-5.6zM287.5 601h5.6v5h-5.6zM293.1 550.3h5.6v28.6h-5.6zM304.3 412.3h5.6v215.1h-5.6zM309.9 731.5h5.6v34h-5.6zM315.5 421h5.6v13.2h-5.6zM321.1 425.3h5.6v181.7h-5.6zM326.6 491.9h5.6v238h-5.6zM332.2 678.3h5.6v95.4h-5.6zM337.8 489.3h5.6v37.4h-5.6zM343.4 321.2h5.6v303.1h-5.6zM349 783.1h5.6v22.2h-5.6zM354.6 567.9h5.6v72h-5.6zM360.2 620.8h5.6v72.9h-5.6zM365.8 541.8h5.6v132.4h-5.6zM371.3 745.9h5.6v23.9h-5.6zM376.9 536.9h5.6v279.5h-5.6zM388.1 684.8h5.6v115.3h-5.6zM393.7 680.6h5.6v184.9h-5.6zM399.3 657h5.6v8.6h-5.6zM404.9 518.6h5.6v108.8h-5.6zM410.5 637.4h5.6v80.5h-5.6zM416 626.6h5.6v33.2h-5.6zM432.8 645h5.6v66.8h-5.6zM438.4 458.4h5.6v78.1h-5.6zM444 512.5h5.6v24.9h-5.6zM449.6 663.2h5.6v89.6h-5.6zM455.2 736.2h5.6v27.2h-5.6zM460.7 372h5.6v28h-5.6zM466.3 352.6h5.6v7.7h-5.6zM471.9 340.4h5.6v290.1h-5.6zM477.5 520.5h5.6v178.5h-5.6zM483.1 525.9h5.6v230h-5.6zM488.7 389.3h5.6v148.1h-5.6zM494.3 491.8h5.6v21.6h-5.6zM499.9 551.9h5.6v171.9h-5.6zM505.4 683.7h5.6v39h-5.6zM511 645.4h5.6v62.3h-5.6zM516.6 675.6h5.6v35h-5.6zM522.2 428.6h5.6v307.2h-5.6zM527.8 724.9h5.6v118.5h-5.6zM533.4 671.6h5.6v29.4h-5.6zM539 337.8h5.6v294.6h-5.6zM544.6 592.3h5.6v9.3h-5.6zM550.2 448.2h5.6v351.1h-5.6zM555.7 645.4h5.6v35.5h-5.6zM566.9 624.1h5.6v65.7h-5.6zM572.5 698.4h5.6v53.3h-5.6zM578.1 638.8h5.6v15.3h-5.6zM583.7 527.1h5.6v13.8h-5.6zM589.3 545h5.6v219.7h-5.6zM594.9 495.6h5.6v98.2h-5.6zM600.4 458.4h5.6v154.1h-5.6zM606 697.6h5.6v134.7h-5.6zM611.6 626.3h5.6v204.2h-5.6zM617.2 608.8h5.6v67.3h-5.6zM622.8 704.3h5.6v52.1h-5.6zM628.4 644.7h5.6v48.8h-5.6zM634 700.7h5.6v32.9h-5.6zM639.6 459h5.6v6.2h-5.6zM645.1 536.6h5.6v95.8h-5.6zM650.7 539.3h5.6v64.1h-5.6zM656.3 559.4h5.6v105.6h-5.6zM661.9 732.9h5.6v18.4h-5.6zM667.5 715.4h5.6v108.3h-5.6zM673.1 767.5h5.6v23.6h-5.6zM678.7 442.6h5.6v237.9h-5.6zM684.3 622.1h5.6v58.7h-5.6zM689.8 630.1h5.6v137.4h-5.6zM695.4 616.7h5.6v9.2h-5.6zM701 459.1h5.6v16h-5.6zM706.6 695.8h5.6v60.3h-5.6zM712.2 478.4h5.6v182h-5.6zM717.8 630.9h5.6v202.6h-5.6zM723.4 686.9h5.6v35.3h-5.6zM729 428.2h5.6v175.1h-5.6zM734.5 532.7h5.6v67.8h-5.6zM740.1 491.4h5.6v185.5h-5.6zM745.7 468h5.6v210.3h-5.6zM751.3 573.9h5.6v75.6h-5.6zM756.9 666.6h5.6v167.1h-5.6zM762.5 666.5h5.6v104.7h-5.6zM768.1 610.4h5.6v26.3h-5.6zM773.7 669.9h5.6v165.4h-5.6zM784.8 609.6h5.6v29.2h-5.6zM790.4 551.5h5.6v72.4h-5.6zM796 688.7h5.6v31.4h-5.6zM801.6 567.9h5.6v95.8h-5.6zM807.2 585.5h5.6v203h-5.6zM812.8 374.3h5.6v319.5h-5.6zM818.4 435.2h5.6v215.4h-5.6zM824 632h5.6v81.9h-5.6zM829.5 767.8h5.6v29.1h-5.6zM835.1 643.7h5.6v43.1h-5.6zM840.7 566.6h5.6v22.9h-5.6zM846.3 454.7h5.6v181.3h-5.6zM851.9 511.4h5.6v117.3h-5.6zM857.5 760.4h5.6v23.2h-5.6zM863.1 511h5.6v117.2h-5.6zM868.7 758.5h5.6v46.8h-5.6zM874.2 491.1h5.6v136.1h-5.6zM879.8 612.5h5.6v44.2h-5.6zM885.4 605.6h5.6v23.6h-5.6zM891 653.6h5.6v31.5h-5.6zM896.6 703.9h5.6v56.6h-5.6zM902.2 506.8h5.6v115.2h-5.6zM907.8 711.1h5.6v16.2h-5.6zM918.9 550.4h5.6v241.2h-5.6zM924.5 541.8h5.6v20.7h-5.6zM930.1 638.4h5.6v94.5h-5.6zM935.7 723.9h5.6v29.1h-5.6zM941.3 467.4h5.6v124h-5.6zM946.9 447.4h5.6v141.2h-5.6zM952.5 601.9h5.6v71.6h-5.6zM958.1 551.6h5.6v68.7h-5.6zM963.6 807.9h5.6v50.4h-5.6zM969.2 732.5h5.6v54h-5.6zM974.8 485.3h5.6v164.4h-5.6zM980.4 713.2h5.6v138.3h-5.6zM986 752.4h5.6v61.5h-5.6zM991.6 336.3h5.6v207.2h-5.6zM1002.8 632.7h5.6v45.3h-5.6zM1008.3 650.1h5.6v17.5h-5.6zM1013.9 699.7h5.6v22h-5.6zM1019.5 702.4h5.6v87.8h-5.6zM1025.1 678.9h5.6v150.6h-5.6zM1030.7 824.9h5.6v16.1h-5.6zM1036.3 523.8h5.6v40.7h-5.6zM1041.9 807h5.6v7.2h-5.6zM1047.5 620.9h5.6v14.5h-5.6zM1053 567h5.6v73.7h-5.6zM1058.6 372.3h5.6v186.6h-5.6zM1064.2 552.5h5.6v130.2h-5.6zM1069.8 558.3h5.6v150.1h-5.6zM1075.4 548.1h5.6v136.1h-5.6zM1081 569.7h5.6v156.6h-5.6zM1086.6 742.5h5.6v12.1h-5.6zM1092.2 698h5.6v34.9h-5.6zM1097.7 534h5.6v66.6h-5.6zM1103.3 703h5.6v31.7h-5.6zM1108.9 363.2h5.6v83.9h-5.6zM1114.5 570.2h5.6v15.1h-5.6zM1120.1 608.9h5.6v87.6h-5.6zM1125.7 792.4h5.6v51.3h-5.6zM1131.3 568.5h5.6v159.1h-5.6zM1136.9 622.7h5.6v58.9h-5.6zM1142.5 518.4h5.6v149.7h-5.6zM1148 760.3h5.6v67.4h-5.6zM1153.6 665.5h5.6v1.5h-5.6zM1159.2 747.4h5.6v87.4h-5.6zM1164.8 585.6h5.6v44.3h-5.6zM1170.4 640.7h5.6v115h-5.6zM1176 505.5h5.6v5.2h-5.6zM1181.6 756.8h5.6v78.3h-5.6zM1187.2 645.1h5.6v15.4h-5.6zM1192.7 707.4h5.6v44.9h-5.6zM1198.3 689.8h5.6v39.7h-5.6zM1203.9 536.3h5.6v77.2h-5.6zM1209.5 672.9h5.6v28.6h-5.6zM1215.1 612.4h5.6v77.5h-5.6zM1220.7 748.8h5.6v17.9h-5.6zM1226.3 596.8h5.6v140.9h-5.6zM1231.9 659.7h5.6v41.3h-5.6zM1237.4 687.8h5.6v94.8h-5.6zM1243 746.8h5.6v95.6h-5.6zM1248.6 659.1h5.6v139.3h-5.6zM1254.2 594.4h5.6v57h-5.6zM1259.8 690.4h5.6v34.6h-5.6zM1276.6 606.5h5.6v128.8h-5.6zM1282.1 464.4h5.6v175.4h-5.6zM1287.7 527.8h5.6v220.8h-5.6zM1293.3 684.2h5.6v11.3h-5.6zM1304.5 428.8h5.6v15.5h-5.6zM1310.1 711.4h5.6v148.3h-5.6zM1315.7 657.7h5.6v140h-5.6zM1321.3 661.5h5.6v1.9h-5.6zM1326.8 708.1h5.6v42h-5.6zM1332.4 386.1h5.6v264.7h-5.6zM1338 806.4h5.6v5.5h-5.6zM1343.6 450.1h5.6v262.5h-5.6zM1349.2 583.5h5.6v72.4h-5.6zM1360.4 705.8h5.6v112.7h-5.6zM1366 749.7h5.6v54.5h-5.6zM1371.5 515.1h5.6v33.3h-5.6zM1377.1 606.4h5.6v104.4h-5.6zM1382.7 677.8h5.6v47h-5.6zM1388.3 581.6h5.6v120.3h-5.6zM1393.9 512.1h5.6v237.3h-5.6zM1399.5 541.7h5.6v92h-5.6zM1405.1 564.9h5.6v79.3h-5.6zM1410.7 609.1h5.6v6.8h-5.6zM1416.3 577.3h5.6v40.2h-5.6zM1421.8 569h5.6v127.3h-5.6zM1427.4 686.7h5.6v122.7h-5.6zM1433 569.6h5.6v155.6h-5.6zM1438.6 563.8h5.6v87.7h-5.6zM1444.2 733.9h5.6v57.4h-5.6zM1449.8 502.4h5.6v56h-5.6zM1455.4 636h5.6v39.2h-5.6zM1461 633.8h5.6v43.9h-5.6zM1466.5 717.9h5.6v5.4h-5.6zM1472.1 708.4h5.6v93.3h-5.6zM1477.7 766.1h5.6v0.5h-5.6zM1483.3 704.4h5.6v40.9h-5.6zM1488.9 702.6h5.6v10.1h-5.6zM1494.5 821h5.6v42.7h-5.6zM1500.1 690.7h5.6v53.3h-5.6zM1505.7 552.5h5.6v93.5h-5.6zM1511.2 559.5h5.6v26.2h-5.6zM1516.8 438.4h5.6v100.9h-5.6zM1522.4 695.5h5.6v51.5h-5.6zM1528 638h5.6v156.9h-5.6zM1533.6 451.5h5.6v212.6h-5.6zM1539.2 664.2h5.6v23.4h-5.6zM1544.8 749.6h5.6v28.2h-5.6zM1550.4 549.7h5.6v18.8h-5.6zM1555.9 504.6h5.6v154.7h-5.6zM1561.5 716.7h5.6v13.2h-5.6zM1567.1 756.3h5.6v26.7h-5.6zM1572.7 444.2h5.6v186.2h-5.6zM1578.3 627h5.6v130.2h-5.6zM1583.9 771.1h5.6v4h-5.6zM1589.5 440.8h5.6v201.4h-5.6zM1595.1 769.9h5.6v61.8h-5.6zM1600.6 728.8h5.6v7.9h-5.6zM1606.2 489.9h5.6v309.8h-5.6zM1611.8 514.3h5.6v215.8h-5.6zM1617.4 779.3h5.6v6.5h-5.6zM1623 560.3h5.6v182.1h-5.6zM1628.6 565.2h5.6v57.1h-5.6zM1634.2 614.9h5.6v55.5h-5.6zM1639.8 618.5h5.6v73.7h-5.6zM1645.3 496.9h5.6v121.4h-5.6zM1650.9 673.7h5.6v29.8h-5.6zM1656.5 718.8h5.6v131.6h-5.6z"/>
<path fill="#63B236" d="M265.2 716.9h5.6v19.2h-5.6zM270.8 694h5.6v4h-5.6zM276.4 614.6h5.6v20h-5.6zM293.1 479.5h5.6v70.8h-5.6zM309.9 677.4h5.6v54.1h-5.6zM315.5 396.1h5.6v24.9h-5.6zM337.8 444.2h5.6v45.1h-5.6zM360.2 588h5.6v32.7h-5.6zM371.3 584.6h5.6v161.3h-5.6zM376.9 497.4h5.6v39.5h-5.6zM382.5 729.3h5.6v83.2h-5.6zM388.1 613.3h5.6v71.5h-5.6zM393.7 659.1h5.6v21.4h-5.6zM399.3 631.7h5.6v25.3h-5.6zM404.9 460.4h5.6v58.1h-5.6zM427.2 631.6h5.6v44.7h-5.6zM432.8 641.8h5.6v3.1h-5.6zM438.4 427.6h5.6v30.8h-5.6zM444 440.5h5.6v72h-5.6zM449.6 652.7h5.6v10.5h-5.6zM455.2 707.3h5.6v28.9h-5.6zM466.3 301.4h5.6v51.2h-5.6zM483.1 457.5h5.6v68.4h-5.6zM488.7 315.2h5.6v74.1h-5.6zM494.3 474.6h5.6v17.2h-5.6zM499.9 524.4h5.6v27.6h-5.6zM505.4 680.1h5.6v3.6h-5.6zM511 602.4h5.6v43h-5.6zM516.6 659.6h5.6v16h-5.6zM522.2 395.3h5.6v33.3h-5.6zM533.4 641.2h5.6v30.4h-5.6zM539 328h5.6v9.9h-5.6zM544.6 564.6h5.6v27.7h-5.6zM550.2 401.3h5.6v46.9h-5.6zM561.3 767.8h5.6v50.1h-5.6zM583.7 503.4h5.6v23.7h-5.6zM589.3 406.6h5.6v138.5h-5.6zM594.9 494.2h5.6v1.5h-5.6zM600.4 370.8h5.6v87.5h-5.6zM611.6 479.4h5.6v146.9h-5.6zM617.2 607h5.6v1.9h-5.6zM622.8 638.7h5.6v65.6h-5.6zM634 664.5h5.6v36.2h-5.6zM639.6 441.9h5.6v17.1h-5.6zM650.7 488.8h5.6v50.5h-5.6zM678.7 412h5.6v30.6h-5.6zM684.3 615.7h5.6v6.4h-5.6zM701 423h5.6v36.2h-5.6zM706.6 622.9h5.6v72.9h-5.6zM712.2 431.6h5.6v46.8h-5.6zM717.8 621h5.6v9.9h-5.6zM723.4 663.9h5.6v22.9h-5.6zM734.5 516.8h5.6v16h-5.6zM740.1 366.3h5.6v125.1h-5.6zM751.3 552.1h5.6v21.8h-5.6zM762.5 654.4h5.6v12.1h-5.6zM773.7 667.8h5.6v2.1h-5.6zM784.8 571.1h5.6v38.5h-5.6zM790.4 526h5.6v25.5h-5.6zM801.6 528.9h5.6v39h-5.6zM807.2 518h5.6v67.5h-5.6zM812.8 334.5h5.6v39.8h-5.6zM824 619.4h5.6v12.5h-5.6zM829.5 724h5.6v43.8h-5.6zM835.1 632.6h5.6v11.1h-5.6zM851.9 456.2h5.6v55.2h-5.6zM857.5 757.3h5.6v3.1h-5.6zM863.1 384.2h5.6v126.7h-5.6zM868.7 673.2h5.6v85.3h-5.6zM874.2 485.6h5.6v5.5h-5.6zM879.8 580.1h5.6v32.4h-5.6zM885.4 496.8h5.6v108.8h-5.6zM902.2 478.4h5.6v28.3h-5.6zM913.4 675.6h5.6v56h-5.6zM930.1 576h5.6v62.4h-5.6zM935.7 578.3h5.6v145.6h-5.6zM958.1 531h5.6v20.6h-5.6zM963.6 699.7h5.6v108.2h-5.6zM974.8 450.3h5.6v35h-5.6zM980.4 694.3h5.6v19h-5.6zM986 594.8h5.6v157.6h-5.6zM991.6 329.3h5.6v7h-5.6zM1002.8 629.1h5.6v3.6h-5.6zM1008.3 646.4h5.6v3.7h-5.6zM1025.1 654.2h5.6v24.8h-5.6zM1030.7 805.5h5.6v19.4h-5.6zM1047.5 619.9h5.6v1h-5.6zM1053 552.4h5.6v14.6h-5.6zM1064.2 550.1h5.6v2.4h-5.6zM1069.8 508h5.6v50.3h-5.6zM1086.6 723h5.6v19.5h-5.6zM1092.2 668.4h5.6v29.6h-5.6zM1097.7 532.2h5.6v1.8h-5.6zM1103.3 659.6h5.6v43.4h-5.6zM1108.9 361.6h5.6v1.7h-5.6zM1114.5 517h5.6v53.2h-5.6zM1120.1 557.6h5.6v51.3h-5.6zM1125.7 739.8h5.6v52.6h-5.6zM1136.9 579.1h5.6v43.6h-5.6zM1148 757.3h5.6v3h-5.6zM1164.8 544h5.6v41.6h-5.6zM1181.6 753.2h5.6v3.7h-5.6zM1192.7 680.3h5.6v27h-5.6zM1198.3 640.2h5.6v49.6h-5.6zM1209.5 671.8h5.6v1.1h-5.6zM1231.9 647.3h5.6v12.4h-5.6zM1237.4 661.1h5.6v26.6h-5.6zM1254.2 593h5.6v1.3h-5.6zM1259.8 689.8h5.6v0.7h-5.6zM1265.4 716.3h5.6v49.8h-5.6zM1271 650.6h5.6v32.4h-5.6zM1287.7 502.5h5.6v25.3h-5.6zM1293.3 677.4h5.6v6.8h-5.6zM1298.9 497h5.6v13.3h-5.6zM1304.5 407.8h5.6v21h-5.6zM1315.7 632.3h5.6v25.4h-5.6zM1321.3 640.9h5.6v20.6h-5.6zM1326.8 668h5.6v40h-5.6zM1332.4 344.1h5.6v42h-5.6zM1338 790.9h5.6v15.6h-5.6zM1349.2 566.3h5.6v17.2h-5.6zM1354.8 664.7h5.6v57.8h-5.6zM1360.4 678.5h5.6v27.3h-5.6zM1377.1 601h5.6v5.4h-5.6zM1382.7 659.1h5.6v18.7h-5.6zM1393.9 494.4h5.6v17.7h-5.6zM1410.7 548.6h5.6v60.5h-5.6zM1416.3 561.4h5.6v15.9h-5.6zM1421.8 568.1h5.6v1h-5.6zM1427.4 550.5h5.6v136.1h-5.6zM1433 556h5.6v13.6h-5.6zM1438.6 558.5h5.6v5.3h-5.6zM1444.2 711.9h5.6v22h-5.6zM1449.8 469.4h5.6v33h-5.6zM1455.4 615.3h5.6v20.7h-5.6zM1461 626.6h5.6v7.2h-5.6zM1466.5 704h5.6v13.9h-5.6zM1494.5 803.9h5.6v17.1h-5.6zM1500.1 687.5h5.6v3.2h-5.6zM1511.2 518.6h5.6v41h-5.6zM1522.4 691.3h5.6v4.2h-5.6zM1533.6 418.5h5.6v33h-5.6zM1539.2 639.3h5.6v24.9h-5.6zM1544.8 733.2h5.6v16.4h-5.6zM1555.9 430.8h5.6v73.8h-5.6zM1561.5 671.3h5.6v45.4h-5.6zM1567.1 681.1h5.6v75.2h-5.6zM1583.9 770h5.6v1.1h-5.6zM1589.5 402.3h5.6v38.4h-5.6zM1606.2 431.4h5.6v58.5h-5.6zM1623 552.7h5.6v7.6h-5.6zM1634.2 553.1h5.6v61.8h-5.6zM1645.3 468h5.6v28.9h-5.6zM1650.9 654.6h5.6v19.1h-5.6zM1656.5 688.5h5.6v30.3h-5.6z"/>
<path fill="#41B236" d="M265.2 674.5h5.6v42.4h-5.6zM270.8 658.3h5.6v35.7h-5.6zM276.4 602.4h5.6v12.2h-5.6zM281.9 670.5h5.6v53.1h-5.6zM287.5 541.1h5.6v59.9h-5.6zM298.7 584.1h5.6v20.5h-5.6zM304.3 279.4h5.6v133h-5.6zM315.5 352.6h5.6v43.5h-5.6zM321.1 404.3h5.6v21.1h-5.6zM332.2 672.2h5.6v6.1h-5.6zM337.8 408.9h5.6v35.2h-5.6zM343.4 294.5h5.6v26.7h-5.6zM349 782.1h5.6v0.9h-5.6zM354.6 558.3h5.6v9.6h-5.6zM365.8 523.5h5.6v18.3h-5.6zM371.3 491.8h5.6v92.8h-5.6zM376.9 489.6h5.6v7.8h-5.6zM382.5 667.7h5.6v61.5h-5.6zM388.1 579.7h5.6v33.6h-5.6zM393.7 643.5h5.6v15.7h-5.6zM399.3 580.3h5.6v51.4h-5.6zM410.5 584.1h5.6v53.3h-5.6zM416 594.9h5.6v31.7h-5.6zM421.6 628.5h5.6v21.1h-5.6zM432.8 601.9h5.6v40h-5.6zM438.4 408.6h5.6v19h-5.6zM444 437.4h5.6v3.1h-5.6zM449.6 609.7h5.6v43h-5.6zM455.2 675.4h5.6v31.9h-5.6zM460.7 323.3h5.6v48.7h-5.6zM466.3 287.1h5.6v14.3h-5.6zM477.5 471.1h5.6v49.4h-5.6zM483.1 408.8h5.6v48.7h-5.6zM488.7 283.8h5.6v31.4h-5.6zM505.4 650.3h5.6v29.8h-5.6zM511 554h5.6v48.4h-5.6zM516.6 645.5h5.6v14.1h-5.6zM522.2 349.8h5.6v45.5h-5.6zM527.8 545h5.6v180h-5.6zM533.4 627.7h5.6v13.5h-5.6zM539 289.1h5.6v38.9h-5.6zM550.2 400.8h5.6v0.4h-5.6zM555.7 598.1h5.6v47.4h-5.6zM561.3 699.3h5.6v68.5h-5.6zM572.5 665.9h5.6v32.5h-5.6zM578.1 631.6h5.6v7.3h-5.6zM583.7 380.9h5.6v122.6h-5.6zM594.9 438.5h5.6v55.7h-5.6zM600.4 325.7h5.6v45.1h-5.6zM606 607.5h5.6v90.1h-5.6zM611.6 475.4h5.6v4h-5.6zM617.2 551.8h5.6v55.2h-5.6zM622.8 621.1h5.6v17.6h-5.6zM628.4 564.2h5.6v80.5h-5.6zM634 610h5.6v54.5h-5.6zM639.6 420.6h5.6v21.2h-5.6zM645.1 381.3h5.6v155.4h-5.6zM650.7 457.9h5.6v30.9h-5.6zM656.3 555.9h5.6v3.6h-5.6zM661.9 595.4h5.6v137.5h-5.6zM667.5 674.6h5.6v40.8h-5.6zM673.1 703h5.6v64.5h-5.6zM678.7 409.4h5.6v2.6h-5.6zM684.3 551.8h5.6v64h-5.6zM689.8 596.9h5.6v33.2h-5.6zM695.4 593.9h5.6v22.8h-5.6zM701 384.3h5.6v38.6h-5.6zM706.6 591.1h5.6v31.8h-5.6zM712.2 391.7h5.6v39.9h-5.6zM717.8 564.6h5.6v56.4h-5.6zM723.4 623.7h5.6v40.3h-5.6zM729 410.6h5.6v17.5h-5.6zM734.5 387.5h5.6v129.2h-5.6zM740.1 365.7h5.6v0.5h-5.6zM745.7 463.4h5.6v4.6h-5.6zM751.3 517.5h5.6v34.5h-5.6zM756.9 615.3h5.6v51.3h-5.6zM762.5 577h5.6v77.4h-5.6zM768.1 570.5h5.6v39.9h-5.6zM773.7 641.3h5.6v26.5h-5.6zM779.2 693.3h5.6v66h-5.6zM784.8 490.1h5.6v81.1h-5.6zM790.4 451.9h5.6v74.1h-5.6zM796 654.8h5.6v33.9h-5.6zM801.6 500.9h5.6v28h-5.6zM807.2 441h5.6v77h-5.6zM812.8 197.2h5.6v137.3h-5.6zM818.4 418.9h5.6v16.3h-5.6zM824 548.7h5.6v70.7h-5.6zM829.5 639.2h5.6v84.8h-5.6zM835.1 608.7h5.6v23.9h-5.6zM846.3 341.7h5.6v113.1h-5.6zM851.9 449.9h5.6v6.2h-5.6zM857.5 690.9h5.6v66.4h-5.6zM863.1 372.4h5.6v11.8h-5.6zM868.7 672h5.6v1.3h-5.6zM879.8 561.4h5.6v18.7h-5.6zM885.4 473.3h5.6v23.5h-5.6zM891 578.5h5.6v75.1h-5.6zM896.6 650.9h5.6v53h-5.6zM902.2 469.1h5.6v9.3h-5.6zM907.8 658h5.6v53.1h-5.6zM913.4 663h5.6v12.6h-5.6zM918.9 547.9h5.6v2.5h-5.6zM930.1 518.1h5.6v57.9h-5.6zM935.7 481.4h5.6v96.9h-5.6zM941.3 387.2h5.6v80.1h-5.6zM946.9 373.5h5.6v74h-5.6zM963.6 655.7h5.6v44h-5.6zM969.2 709.9h5.6v22.6h-5.6zM986 509.1h5.6v85.7h-5.6zM1002.8 618.8h5.6v10.4h-5.6zM1008.3 561.3h5.6v85.1h-5.6zM1013.9 676.9h5.6v22.8h-5.6zM1019.5 660.3h5.6v42.1h-5.6zM1025.1 619.7h5.6v34.5h-5.6zM1030.7 796.3h5.6v9.2h-5.6zM1041.9 612.9h5.6v194.1h-5.6zM1047.5 501.4h5.6v118.5h-5.6zM1053 495.9h5.6v56.5h-5.6zM1058.6 335.1h5.6v37.1h-5.6zM1064.2 460.7h5.6v89.4h-5.6zM1069.8 438.2h5.6v69.8h-5.6zM1075.4 537.1h5.6v10.9h-5.6zM1086.6 696.6h5.6v26.4h-5.6zM1092.2 510.1h5.6v158.3h-5.6zM1097.7 510.2h5.6v22h-5.6zM1103.3 654.3h5.6v5.2h-5.6zM1114.5 430.6h5.6v86.4h-5.6zM1131.3 543.2h5.6v25.3h-5.6zM1136.9 563.8h5.6v15.3h-5.6zM1148 750.8h5.6v6.5h-5.6zM1153.6 619.3h5.6v46.2h-5.6zM1159.2 717.8h5.6v29.7h-5.6zM1164.8 369.4h5.6v174.6h-5.6zM1170.4 590.6h5.6v50.1h-5.6zM1176 484.7h5.6v20.7h-5.6zM1181.6 722.3h5.6v30.9h-5.6zM1198.3 557.3h5.6v82.9h-5.6zM1203.9 521h5.6v15.3h-5.6zM1209.5 604.2h5.6v67.6h-5.6zM1231.9 624.9h5.6v22.4h-5.6zM1237.4 613.3h5.6v47.9h-5.6zM1243 669.3h5.6v77.5h-5.6zM1248.6 627.6h5.6v31.4h-5.6zM1254.2 563h5.6v30h-5.6zM1259.8 684.1h5.6v5.7h-5.6zM1265.4 669.2h5.6v47.1h-5.6zM1271 646.5h5.6v4.1h-5.6zM1282.1 461h5.6v3.4h-5.6zM1287.7 476.6h5.6v25.9h-5.6zM1293.3 599.3h5.6v78.1h-5.6zM1304.5 383.2h5.6v24.6h-5.6zM1315.7 618.1h5.6v14.1h-5.6zM1326.8 660.1h5.6v7.9h-5.6zM1332.4 329.7h5.6v14.5h-5.6zM1338 710.3h5.6v80.5h-5.6zM1343.6 434.4h5.6v15.7h-5.6zM1349.2 502.4h5.6v63.9h-5.6zM1354.8 659h5.6v5.7h-5.6zM1360.4 526.6h5.6v151.9h-5.6zM1366 670h5.6v79.7h-5.6zM1371.5 505.1h5.6v10h-5.6zM1377.1 581.5h5.6v19.5h-5.6zM1382.7 604.3h5.6v54.9h-5.6zM1388.3 496.7h5.6v84.9h-5.6zM1405.1 558.3h5.6v6.6h-5.6zM1410.7 529.5h5.6v19.1h-5.6zM1433 544.5h5.6v11.5h-5.6zM1438.6 553.6h5.6v4.8h-5.6zM1444.2 655.7h5.6v56.1h-5.6zM1449.8 466.7h5.6v2.7h-5.6zM1455.4 614.4h5.6v0.9h-5.6zM1461 575h5.6v51.6h-5.6zM1472.1 688.1h5.6v20.3h-5.6zM1477.7 677.5h5.6v88.6h-5.6zM1483.3 632.4h5.6v72.1h-5.6zM1488.9 696.8h5.6v5.8h-5.6zM1494.5 760.3h5.6v43.6h-5.6zM1505.7 544.7h5.6v7.9h-5.6zM1516.8 435h5.6v3.3h-5.6zM1522.4 682h5.6v9.3h-5.6zM1528 580.7h5.6v57.3h-5.6zM1533.6 371h5.6v47.5h-5.6zM1539.2 627.2h5.6v12.1h-5.6zM1544.8 715.6h5.6v17.7h-5.6zM1555.9 419.6h5.6v11.1h-5.6zM1561.5 572h5.6v99.3h-5.6zM1567.1 616.6h5.6v64.4h-5.6zM1572.7 434.4h5.6v9.9h-5.6zM1578.3 606.3h5.6v20.6h-5.6zM1583.9 617h5.6v153.1h-5.6zM1589.5 325.3h5.6v77.1h-5.6zM1595.1 744.9h5.6v25h-5.6zM1600.6 653.1h5.6v75.6h-5.6zM1606.2 407.2h5.6v24.2h-5.6zM1611.8 483.7h5.6v30.6h-5.6zM1623 522.9h5.6v29.8h-5.6zM1634.2 548.4h5.6v4.7h-5.6zM1639.8 618h5.6v0.6h-5.6zM1645.3 447.1h5.6v21h-5.6zM1662.1 492.1h5.6v6h-5.6z"/>
<path fill="#36B24C" d="M254 429.8h5.6v59.4h-5.6zM276.4 577.4h5.6v25h-5.6zM293.1 464.5h5.6v15h-5.6zM298.7 570.4h5.6v13.7h-5.6zM315.5 325.8h5.6v26.8h-5.6zM321.1 377h5.6v27.3h-5.6zM343.4 293.2h5.6v1.3h-5.6zM354.6 533.7h5.6v24.7h-5.6zM360.2 576.1h5.6v11.9h-5.6zM365.8 515h5.6v8.5h-5.6zM371.3 490h5.6v1.8h-5.6zM382.5 637.3h5.6v30.4h-5.6zM388.1 564.8h5.6v14.9h-5.6zM393.7 555.5h5.6v87.9h-5.6zM399.3 571.6h5.6v8.7h-5.6zM410.5 538.7h5.6v45.4h-5.6zM416 591.3h5.6v3.6h-5.6zM421.6 619.2h5.6v9.3h-5.6zM432.8 594h5.6v7.9h-5.6zM455.2 643.3h5.6v32.1h-5.6zM460.7 293.4h5.6v29.9h-5.6zM477.5 454h5.6v17h-5.6zM488.7 265.5h5.6v18.3h-5.6zM494.3 420.9h5.6v53.7h-5.6zM499.9 469.5h5.6v54.9h-5.6zM505.4 634.8h5.6v15.5h-5.6zM516.6 640.4h5.6v5.1h-5.6zM522.2 338.9h5.6v10.9h-5.6zM533.4 573.2h5.6v54.6h-5.6zM544.6 531.6h5.6v32.9h-5.6zM550.2 389.2h5.6v11.6h-5.6zM555.7 581.8h5.6v16.2h-5.6zM561.3 685.2h5.6v14.1h-5.6zM566.9 560h5.6v64.1h-5.6zM572.5 651h5.6v14.9h-5.6zM600.4 325.6h5.6v0.2h-5.6zM622.8 525.2h5.6v95.9h-5.6zM628.4 542.6h5.6v21.6h-5.6zM634 592h5.6v18h-5.6zM656.3 517.7h5.6v38.2h-5.6zM661.9 593.5h5.6v1.9h-5.6zM667.5 617.4h5.6v57.2h-5.6zM684.3 516h5.6v35.8h-5.6zM689.8 555.9h5.6v40.9h-5.6zM695.4 570h5.6v23.9h-5.6zM701 348.3h5.6v36h-5.6zM706.6 509.7h5.6v81.4h-5.6zM717.8 554.7h5.6v9.9h-5.6zM734.5 331.4h5.6v56.1h-5.6zM740.1 342.5h5.6v23.2h-5.6zM745.7 449.9h5.6v13.4h-5.6zM762.5 574.6h5.6v2.4h-5.6zM773.7 630.1h5.6v11.2h-5.6zM784.8 417.7h5.6v72.3h-5.6zM790.4 428.1h5.6v23.8h-5.6zM796 600.3h5.6v54.5h-5.6zM801.6 485.6h5.6v15.3h-5.6zM829.5 587.1h5.6v52.2h-5.6zM835.1 578.7h5.6v30h-5.6zM840.7 487.9h5.6v78.7h-5.6zM846.3 341.4h5.6v0.3h-5.6zM851.9 414.9h5.6v35h-5.6zM857.5 658.3h5.6v32.5h-5.6zM868.7 626.7h5.6v45.3h-5.6zM891 551.7h5.6v26.8h-5.6zM896.6 630.6h5.6v20.4h-5.6zM902.2 466.1h5.6v3h-5.6zM918.9 497.3h5.6v50.5h-5.6zM935.7 454.1h5.6v27.3h-5.6zM941.3 387.2h5.6v0.1h-5.6zM946.9 372.5h5.6v1h-5.6zM952.5 596.5h5.6v5.3h-5.6zM958.1 493.1h5.6v37.9h-5.6zM969.2 675.5h5.6v34.3h-5.6zM974.8 445.2h5.6v5.1h-5.6zM980.4 676.1h5.6v18.1h-5.6zM986 470.9h5.6v38.1h-5.6zM991.6 281h5.6v48.3h-5.6zM997.2 732h5.6v15.5h-5.6zM1013.9 660.8h5.6v16.1h-5.6zM1019.5 641.3h5.6v19h-5.6zM1025.1 616.9h5.6v2.8h-5.6zM1030.7 781.1h5.6v15.2h-5.6zM1041.9 607h5.6v5.9h-5.6zM1047.5 472.2h5.6v29.3h-5.6zM1053 488.7h5.6v7.2h-5.6zM1064.2 450.3h5.6v10.4h-5.6zM1075.4 511.8h5.6v25.3h-5.6zM1097.7 497.1h5.6v13.1h-5.6zM1103.3 649.4h5.6v4.9h-5.6zM1131.3 523.8h5.6v19.4h-5.6zM1136.9 558.6h5.6v5.2h-5.6zM1142.5 506.7h5.6v11.7h-5.6zM1153.6 611.2h5.6v8.1h-5.6zM1159.2 692.5h5.6v25.3h-5.6zM1164.8 351h5.6v18.4h-5.6zM1176 448.1h5.6v36.7h-5.6zM1192.7 650.4h5.6v29.9h-5.6zM1198.3 507.2h5.6v50.1h-5.6zM1203.9 509.8h5.6v11.2h-5.6zM1215.1 548.6h5.6v63.8h-5.6zM1220.7 744.4h5.6v4.4h-5.6zM1231.9 621.5h5.6v3.4h-5.6zM1237.4 571.6h5.6v41.7h-5.6zM1254.2 560.5h5.6v2.5h-5.6zM1259.8 673.5h5.6v10.6h-5.6zM1271 574.9h5.6v71.6h-5.6zM1276.6 590.8h5.6v15.7h-5.6zM1282.1 402.3h5.6v58.7h-5.6zM1304.5 373.4h5.6v9.8h-5.6zM1310.1 672h5.6v39.4h-5.6zM1321.3 637.2h5.6v3.7h-5.6zM1326.8 618.6h5.6v41.5h-5.6zM1338 699.9h5.6v10.4h-5.6zM1349.2 489.3h5.6v13.1h-5.6zM1354.8 655.2h5.6v3.9h-5.6zM1371.5 495.4h5.6v9.7h-5.6zM1393.9 468.9h5.6v25.5h-5.6zM1405.1 517.5h5.6v40.8h-5.6zM1421.8 516.5h5.6v51.6h-5.6zM1427.4 544.2h5.6v6.3h-5.6zM1433 541.9h5.6v2.6h-5.6zM1438.6 482.6h5.6v71h-5.6zM1444.2 654h5.6v1.8h-5.6zM1455.4 605.4h5.6v9h-5.6zM1461 556.1h5.6v18.9h-5.6zM1466.5 670.5h5.6v33.5h-5.6zM1472.1 659.6h5.6v28.5h-5.6zM1483.3 618.7h5.6v13.7h-5.6zM1511.2 514.9h5.6v3.7h-5.6zM1516.8 396.1h5.6v38.9h-5.6zM1522.4 674.2h5.6v7.9h-5.6zM1528 574.9h5.6v5.8h-5.6zM1539.2 603.6h5.6v23.5h-5.6zM1550.4 510.6h5.6v39.1h-5.6zM1567.1 611.5h5.6v5.2h-5.6zM1583.9 542.3h5.6v74.7h-5.6zM1589.5 318.3h5.6v7h-5.6zM1595.1 717.2h5.6v27.7h-5.6zM1600.6 649h5.6v4.1h-5.6zM1611.8 363.3h5.6v120.4h-5.6zM1617.4 772.2h5.6v7.2h-5.6zM1623 521.4h5.6v1.5h-5.6zM1639.8 607.7h5.6v10.3h-5.6zM1645.3 431.1h5.6v15.9h-5.6zM1650.9 641.2h5.6v13.4h-5.6zM1656.5 652.3h5.6v36.2h-5.6zM1662.1 466.3h5.6v25.8h-5.6z"/>
<path fill="#36B26E" d="M254 368.5h5.6v61.2h-5.6zM259.6 650h5.6v19.6h-5.6zM276.4 559.7h5.6v17.7h-5.6zM315.5 320h5.6v5.8h-5.6zM404.9 455.8h5.6v4.6h-5.6zM421.6 594.9h5.6v24.3h-5.6zM438.4 400.5h5.6v8.1h-5.6zM449.6 604.2h5.6v5.4h-5.6zM455.2 634.3h5.6v9h-5.6zM516.6 617.6h5.6v22.8h-5.6zM555.7 571.3h5.6v10.6h-5.6zM594.9 394.7h5.6v43.8h-5.6zM689.8 541.5h5.6v14.5h-5.6zM695.4 548.5h5.6v21.5h-5.6zM706.6 502.3h5.6v7.4h-5.6zM729 377h5.6v33.6h-5.6zM768.1 552.7h5.6v17.8h-5.6zM773.7 605.3h5.6v24.8h-5.6zM779.2 693h5.6v0.2h-5.6zM790.4 420.3h5.6v7.8h-5.6zM801.6 452.7h5.6v32.8h-5.6zM851.9 311.1h5.6v103.8h-5.6zM885.4 448.1h5.6v25.2h-5.6zM935.7 449.6h5.6v4.5h-5.6zM941.3 384.6h5.6v2.6h-5.6zM946.9 356h5.6v16.4h-5.6zM969.2 623.8h5.6v51.7h-5.6zM1002.8 611.1h5.6v7.6h-5.6zM1097.7 493.8h5.6v3.3h-5.6zM1136.9 534.8h5.6v23.9h-5.6zM1148 742.6h5.6v8.2h-5.6zM1170.4 571.7h5.6v18.9h-5.6zM1192.7 645.8h5.6v4.6h-5.6zM1226.3 593.2h5.6v3.5h-5.6zM1271 573.1h5.6v1.9h-5.6zM1326.8 545.2h5.6v73.3h-5.6zM1349.2 478.9h5.6v10.5h-5.6zM1360.4 488.5h5.6v38.1h-5.6zM1382.7 560.7h5.6v43.6h-5.6zM1399.5 518.1h5.6v23.7h-5.6zM1416.3 536.3h5.6v25.1h-5.6zM1444.2 596.7h5.6v57.3h-5.6zM1500.1 663.8h5.6v23.6h-5.6zM1522.4 670.6h5.6v3.6h-5.6zM1533.6 356.5h5.6v14.4h-5.6zM1578.3 572.8h5.6v33.5h-5.6zM1628.6 534.8h5.6v30.4h-5.6z"/>
<path fill="#36B290" d="M254 365.6h5.6v3h-5.6zM270.8 605h5.6v53.3h-5.6zM281.9 610.6h5.6v59.9h-5.6zM287.5 500.4h5.6v40.8h-5.6zM293.1 400.7h5.6v63.8h-5.6zM298.7 530.5h5.6v39.9h-5.6zM304.3 233.7h5.6v45.6h-5.6zM309.9 597.1h5.6v80.2h-5.6zM315.5 287.3h5.6v32.7h-5.6zM321.1 350.6h5.6v26.5h-5.6zM326.6 486.8h5.6v5.1h-5.6zM332.2 655.4h5.6v16.8h-5.6zM337.8 388.3h5.6v20.7h-5.6zM349 701.5h5.6v80.6h-5.6zM354.6 421.1h5.6v112.6h-5.6zM360.2 571.5h5.6v4.6h-5.6zM365.8 504.7h5.6v10.3h-5.6zM371.3 461.5h5.6v28.6h-5.6zM376.9 469.3h5.6v20.3h-5.6zM382.5 568h5.6v69.3h-5.6zM388.1 552.2h5.6v12.6h-5.6zM399.3 569.6h5.6v2h-5.6zM404.9 436.5h5.6v19.3h-5.6zM410.5 458.1h5.6v80.6h-5.6zM416 588.1h5.6v3.2h-5.6zM427.2 615.7h5.6v15.9h-5.6zM432.8 559.9h5.6v34.1h-5.6zM449.6 585h5.6v19.3h-5.6zM460.7 290.4h5.6v3h-5.6zM471.9 277h5.6v63.4h-5.6zM483.1 352.8h5.6v56h-5.6zM488.7 263.9h5.6v1.7h-5.6zM494.3 386.2h5.6v34.7h-5.6zM499.9 429h5.6v40.5h-5.6zM505.4 608.7h5.6v26.1h-5.6zM511 520.5h5.6v33.5h-5.6zM516.6 547.9h5.6v69.7h-5.6zM527.8 534.9h5.6v10.1h-5.6zM539 250.5h5.6v38.6h-5.6zM544.6 463.8h5.6v67.8h-5.6zM550.2 333.5h5.6v55.8h-5.6zM555.7 536.2h5.6v35.1h-5.6zM561.3 684.8h5.6v0.4h-5.6zM572.5 640.9h5.6v10.1h-5.6zM578.1 625.7h5.6v5.9h-5.6zM583.7 360.6h5.6v20.3h-5.6zM589.3 399.2h5.6v7.3h-5.6zM594.9 355.5h5.6v39.2h-5.6zM600.4 301.5h5.6v24.1h-5.6zM606 583.7h5.6v23.8h-5.6zM617.2 488.1h5.6v63.7h-5.6zM645.1 380.1h5.6v1.2h-5.6zM650.7 407.5h5.6v50.4h-5.6zM656.3 493h5.6v24.7h-5.6zM661.9 591.6h5.6v1.9h-5.6zM667.5 584.7h5.6v32.7h-5.6zM673.1 696.6h5.6v6.4h-5.6zM684.3 498.7h5.6v17.3h-5.6zM689.8 482h5.6v59.4h-5.6zM701 288h5.6v60.3h-5.6zM706.6 479.1h5.6v23.1h-5.6zM712.2 329.9h5.6v61.8h-5.6zM729 375.1h5.6v1.8h-5.6zM734.5 316h5.6v15.4h-5.6zM745.7 448.8h5.6v1.2h-5.6zM751.3 504.4h5.6v13.1h-5.6zM756.9 613.6h5.6v1.7h-5.6zM762.5 573.7h5.6v1h-5.6zM768.1 517.1h5.6v35.6h-5.6zM779.2 683h5.6v10h-5.6zM784.8 406.3h5.6v11.4h-5.6zM790.4 398.7h5.6v21.6h-5.6zM801.6 434.9h5.6v17.9h-5.6zM807.2 410.4h5.6v30.6h-5.6zM818.4 314h5.6v105h-5.6zM835.1 576.4h5.6v2.3h-5.6zM840.7 484.3h5.6v3.6h-5.6zM851.9 263.1h5.6v48.1h-5.6zM868.7 551h5.6v75.7h-5.6zM874.2 397.8h5.6v87.8h-5.6zM891 530.7h5.6v21h-5.6zM896.6 559h5.6v71.5h-5.6zM907.8 569.6h5.6v88.4h-5.6zM918.9 472.5h5.6v24.9h-5.6zM930.1 497h5.6v21.1h-5.6zM935.7 448.9h5.6v0.7h-5.6zM941.3 329.1h5.6v55.5h-5.6zM946.9 355.2h5.6v0.8h-5.6zM952.5 558h5.6v38.6h-5.6zM958.1 451.9h5.6v41.2h-5.6zM963.6 576h5.6v79.6h-5.6zM969.2 623.3h5.6v0.5h-5.6zM974.8 440.5h5.6v4.6h-5.6zM980.4 646.1h5.6v30h-5.6zM991.6 276.9h5.6v4.1h-5.6zM997.2 700.8h5.6v31.2h-5.6zM1002.8 609.6h5.6v1.5h-5.6zM1019.5 597.5h5.6v43.9h-5.6zM1025.1 546h5.6v71h-5.6zM1030.7 771.8h5.6v9.3h-5.6zM1036.3 521.5h5.6v2.3h-5.6zM1041.9 457.8h5.6v149.2h-5.6zM1047.5 465.4h5.6v6.7h-5.6zM1053 477.5h5.6v11.2h-5.6zM1058.6 320.9h5.6v14.3h-5.6zM1064.2 445.3h5.6v5.1h-5.6zM1086.6 686.3h5.6v10.3h-5.6zM1092.2 439.2h5.6v70.8h-5.6zM1097.7 486.9h5.6v6.9h-5.6zM1103.3 640.1h5.6v9.3h-5.6zM1108.9 330h5.6v31.5h-5.6zM1131.3 516.6h5.6v7.2h-5.6zM1136.9 514.4h5.6v20.4h-5.6zM1142.5 435h5.6v71.8h-5.6zM1164.8 320.9h5.6v30.1h-5.6zM1170.4 560.9h5.6v10.9h-5.6zM1181.6 717.3h5.6v4.9h-5.6zM1187.2 569.6h5.6v75.5h-5.6zM1192.7 552.4h5.6v93.4h-5.6zM1198.3 458.2h5.6v49h-5.6zM1203.9 504.5h5.6v5.3h-5.6zM1220.7 729.4h5.6v15h-5.6zM1226.3 554.1h5.6v39h-5.6zM1237.4 506.3h5.6v65.3h-5.6zM1248.6 617.4h5.6v10.2h-5.6zM1254.2 511.2h5.6v49.3h-5.6zM1265.4 552.5h5.6v116.7h-5.6zM1271 564.6h5.6v8.5h-5.6zM1282.1 344.2h5.6v58.1h-5.6zM1287.7 442.6h5.6v34.1h-5.6zM1304.5 333.7h5.6v39.7h-5.6zM1315.7 594.9h5.6v23.2h-5.6zM1326.8 438.9h5.6v106.3h-5.6zM1332.4 290.4h5.6v39.3h-5.6zM1354.8 614.8h5.6v40.4h-5.6zM1366 669h5.6v1h-5.6zM1371.5 460.9h5.6v34.6h-5.6zM1377.1 580.2h5.6v1.3h-5.6zM1382.7 555.6h5.6v5.2h-5.6zM1388.3 489.7h5.6v7h-5.6zM1393.9 453.8h5.6v15.1h-5.6zM1399.5 409.6h5.6v108.4h-5.6zM1410.7 494.7h5.6v34.8h-5.6zM1416.3 533.2h5.6v3.1h-5.6zM1427.4 511h5.6v33.2h-5.6zM1444.2 587.7h5.6v9h-5.6zM1461 548.1h5.6v8h-5.6zM1466.5 669.6h5.6v0.8h-5.6zM1472.1 638h5.6v21.7h-5.6zM1477.7 651h5.6v26.5h-5.6zM1488.9 661.8h5.6v35h-5.6zM1494.5 698.2h5.6v62.1h-5.6zM1500.1 637.3h5.6v26.5h-5.6zM1505.7 537.8h5.6v6.9h-5.6zM1516.8 387.3h5.6v8.8h-5.6zM1522.4 633.5h5.6v37.1h-5.6zM1533.6 337.4h5.6v19.1h-5.6zM1539.2 566h5.6v37.6h-5.6zM1550.4 501.6h5.6v8.9h-5.6zM1561.5 531.7h5.6v40.3h-5.6zM1572.7 432.2h5.6v2.2h-5.6zM1578.3 567.3h5.6v5.5h-5.6zM1583.9 530h5.6v12.3h-5.6zM1595.1 712.7h5.6v4.5h-5.6zM1600.6 635.7h5.6v13.3h-5.6zM1611.8 350h5.6v13.2h-5.6zM1617.4 759.2h5.6v13h-5.6zM1623 486.9h5.6v34.5h-5.6zM1628.6 482.6h5.6v52.2h-5.6zM1639.8 578.4h5.6v29.3h-5.6zM1650.9 617.2h5.6v24h-5.6zM1662.1 463.3h5.6v3h-5.6z"/>
<path fill="#36B2B2" d="M259.6 647.2h5.6v2.8h-5.6zM265.2 663.8h5.6v10.8h-5.6zM270.8 591.9h5.6v13.1h-5.6zM276.4 521.2h5.6v38.5h-5.6zM287.5 476h5.6v24.4h-5.6zM315.5 276.4h5.6v10.9h-5.6zM321.1 349.3h5.6v1.3h-5.6zM332.2 643.1h5.6v12.2h-5.6zM349 669.9h5.6v31.6h-5.6zM354.6 409h5.6v12.1h-5.6zM360.2 568.4h5.6v3.2h-5.6zM365.8 447.4h5.6v57.3h-5.6zM382.5 555.6h5.6v12.4h-5.6zM388.1 545.8h5.6v6.4h-5.6zM393.7 531.4h5.6v24.1h-5.6zM399.3 558.7h5.6v10.8h-5.6zM410.5 422.8h5.6v35.3h-5.6zM421.6 588.1h5.6v6.9h-5.6zM427.2 607.9h5.6v7.8h-5.6zM438.4 395.3h5.6v5.2h-5.6zM455.2 618.5h5.6v15.8h-5.6zM471.9 276.5h5.6v0.5h-5.6zM494.3 377.9h5.6v8.3h-5.6zM516.6 545.3h5.6v2.7h-5.6zM522.2 305.1h5.6v33.8h-5.6zM533.4 473.5h5.6v99.7h-5.6zM539 209.6h5.6v40.9h-5.6zM561.3 681.5h5.6v3.3h-5.6zM578.1 615.6h5.6v10.1h-5.6zM583.7 359.2h5.6v1.3h-5.6zM589.3 342.5h5.6v56.7h-5.6zM606 556.4h5.6v27.3h-5.6zM611.6 460.7h5.6v14.6h-5.6zM622.8 501.5h5.6v23.7h-5.6zM639.6 403.6h5.6v17.1h-5.6zM645.1 353.9h5.6v26.1h-5.6zM650.7 395.3h5.6v12.2h-5.6zM661.9 588.2h5.6v3.4h-5.6zM667.5 573.8h5.6v10.9h-5.6zM684.3 496.7h5.6v1.9h-5.6zM689.8 467.7h5.6v14.3h-5.6zM695.4 508.5h5.6v40h-5.6zM701 245.7h5.6v42.3h-5.6zM706.6 369.1h5.6v110.1h-5.6zM712.2 284.5h5.6v45.3h-5.6zM717.8 544h5.6v10.7h-5.6zM762.5 563.3h5.6v10.3h-5.6zM784.8 383.2h5.6v23.1h-5.6zM812.8 167.7h5.6v29.5h-5.6zM829.5 555.5h5.6v31.6h-5.6zM851.9 215.2h5.6v47.9h-5.6zM863.1 371.7h5.6v0.7h-5.6zM868.7 531.1h5.6v19.9h-5.6zM874.2 396.8h5.6v1h-5.6zM918.9 464.7h5.6v7.8h-5.6zM924.5 532.6h5.6v9.2h-5.6zM930.1 492.4h5.6v4.6h-5.6zM935.7 447.3h5.6v1.6h-5.6zM941.3 315.9h5.6v13.2h-5.6zM946.9 346.1h5.6v9.1h-5.6zM952.5 526.2h5.6v31.8h-5.6zM958.1 426.6h5.6v25.3h-5.6zM969.2 605.4h5.6v17.8h-5.6zM974.8 436.7h5.6v3.8h-5.6zM997.2 663.6h5.6v37.2h-5.6zM1002.8 598.9h5.6v10.7h-5.6zM1013.9 659.2h5.6v1.5h-5.6zM1025.1 489.3h5.6v56.6h-5.6zM1030.7 769.6h5.6v2.2h-5.6zM1036.3 513.3h5.6v8.2h-5.6zM1041.9 452.8h5.6v5h-5.6zM1053 472.3h5.6v5.2h-5.6zM1064.2 425.6h5.6v19.7h-5.6zM1092.2 367.5h5.6v71.7h-5.6zM1097.7 482.5h5.6v4.4h-5.6zM1103.3 603.1h5.6v37h-5.6zM1108.9 314.4h5.6v15.6h-5.6zM1148 713.3h5.6v29.3h-5.6zM1181.6 712.5h5.6v4.8h-5.6zM1192.7 524h5.6v28.4h-5.6zM1198.3 440.7h5.6v17.5h-5.6zM1203.9 361.3h5.6v143.2h-5.6zM1215.1 515h5.6v33.6h-5.6zM1220.7 729h5.6v0.4h-5.6zM1226.3 509.3h5.6v44.8h-5.6zM1231.9 617.1h5.6v4.4h-5.6zM1237.4 500.3h5.6v6h-5.6zM1248.6 597.8h5.6v19.6h-5.6zM1259.8 621h5.6v52.5h-5.6zM1271 505.9h5.6v58.7h-5.6zM1276.6 588.6h5.6v2.2h-5.6zM1315.7 585.2h5.6v9.6h-5.6zM1321.3 555h5.6v82.2h-5.6zM1326.8 391.6h5.6v47.4h-5.6zM1332.4 282.6h5.6v7.8h-5.6zM1343.6 367.8h5.6v66.6h-5.6zM1354.8 542h5.6v72.8h-5.6zM1360.4 469.3h5.6v19.1h-5.6zM1366 657.2h5.6v11.8h-5.6zM1371.5 412.9h5.6v48h-5.6zM1382.7 525.2h5.6v30.4h-5.6zM1399.5 387.8h5.6v21.8h-5.6zM1421.8 491.8h5.6v24.7h-5.6zM1427.4 506.9h5.6v4.2h-5.6zM1444.2 581.6h5.6v6.1h-5.6zM1461 502.3h5.6v45.8h-5.6zM1466.5 626.1h5.6v43.5h-5.6zM1472.1 627.5h5.6v10.4h-5.6zM1488.9 655.4h5.6v6.4h-5.6zM1500.1 623.3h5.6v14.1h-5.6zM1511.2 503.2h5.6v11.7h-5.6zM1522.4 574.1h5.6v59.4h-5.6zM1528 569.4h5.6v5.4h-5.6zM1539.2 545.7h5.6v20.3h-5.6zM1544.8 708h5.6v7.6h-5.6zM1550.4 451.9h5.6v49.8h-5.6zM1561.5 525.7h5.6v6h-5.6zM1567.1 609h5.6v2.5h-5.6zM1572.7 428h5.6v4.1h-5.6zM1583.9 521.5h5.6v8.5h-5.6zM1595.1 703.5h5.6v9.2h-5.6zM1606.2 394.4h5.6v12.8h-5.6zM1611.8 331.2h5.6v18.8h-5.6zM1617.4 727h5.6v32.2h-5.6zM1634.2 539.4h5.6v9h-5.6zM1639.8 567.4h5.6v10.9h-5.6zM1650.9 607.7h5.6v9.5h-5.6zM1656.5 634.9h5.6v17.4h-5.6z"/>
<path fill="#3690B2" d="M287.5 446h5.6v30h-5.6zM315.5 228.1h5.6v48.3h-5.6zM326.6 473.6h5.6v13.2h-5.6zM343.4 288.4h5.6v4.8h-5.6zM349 664.1h5.6v5.8h-5.6zM360.2 565.8h5.6v2.6h-5.6zM365.8 424.5h5.6v22.9h-5.6zM376.9 432.4h5.6v36.9h-5.6zM388.1 532.4h5.6v13.4h-5.6zM404.9 415.7h5.6v20.8h-5.6zM444 417.7h5.6v19.7h-5.6zM455.2 602.2h5.6v16.4h-5.6zM466.3 283.2h5.6v3.8h-5.6zM477.5 446.6h5.6v7.4h-5.6zM499.9 383.9h5.6v45.1h-5.6zM505.4 599.4h5.6v9.3h-5.6zM511 508.1h5.6v12.4h-5.6zM516.6 529.7h5.6v15.6h-5.6zM522.2 297.9h5.6v7.1h-5.6zM527.8 434.8h5.6v100.1h-5.6zM539 206.1h5.6v3.5h-5.6zM555.7 512.4h5.6v23.8h-5.6zM566.9 544.9h5.6v15.1h-5.6zM572.5 610.9h5.6v30.1h-5.6zM583.7 351.3h5.6v7.9h-5.6zM594.9 346.9h5.6v8.6h-5.6zM606 556.2h5.6v0.2h-5.6zM617.2 482.9h5.6v5.3h-5.6zM628.4 526.6h5.6v16h-5.6zM639.6 402.5h5.6v1.1h-5.6zM645.1 274.5h5.6v79.4h-5.6zM656.3 477.2h5.6v15.8h-5.6zM661.9 573.9h5.6v14.4h-5.6zM667.5 562.8h5.6v11h-5.6zM673.1 673.7h5.6v22.9h-5.6zM678.7 378.5h5.6v30.9h-5.6zM701 222.4h5.6v23.3h-5.6zM712.2 282.7h5.6v1.9h-5.6zM734.5 286.5h5.6v29.5h-5.6zM768.1 457.4h5.6v59.7h-5.6zM773.7 561.1h5.6v44.2h-5.6zM779.2 623.1h5.6v59.9h-5.6zM790.4 361.1h5.6v37.6h-5.6zM796 485.1h5.6v115.2h-5.6zM807.2 343.9h5.6v66.5h-5.6zM829.5 540.6h5.6v14.8h-5.6zM846.3 308.1h5.6v33.3h-5.6zM851.9 209.2h5.6v5.9h-5.6zM857.5 652.2h5.6v6.1h-5.6zM868.7 504.6h5.6v26.5h-5.6zM902.2 443.2h5.6v22.9h-5.6zM907.8 544.1h5.6v25.5h-5.6zM913.4 617.3h5.6v45.7h-5.6zM941.3 295.3h5.6v20.6h-5.6zM958.1 420.1h5.6v6.5h-5.6zM969.2 595.6h5.6v9.8h-5.6zM974.8 413.4h5.6v23.3h-5.6zM980.4 573.8h5.6v72.3h-5.6zM991.6 266.4h5.6v10.4h-5.6zM997.2 639.2h5.6v24.4h-5.6zM1002.8 582.8h5.6v16.1h-5.6zM1013.9 653.8h5.6v5.4h-5.6zM1030.7 751h5.6v18.6h-5.6zM1041.9 390.4h5.6v62.4h-5.6zM1047.5 464.3h5.6v1.2h-5.6zM1058.6 311.3h5.6v9.6h-5.6zM1064.2 419h5.6v6.6h-5.6zM1069.8 393.9h5.6v44.3h-5.6zM1075.4 473.6h5.6v38.2h-5.6zM1086.6 616.1h5.6v70.2h-5.6zM1092.2 366.2h5.6v1.3h-5.6zM1114.5 410.2h5.6v20.4h-5.6zM1120.1 548.8h5.6v8.8h-5.6zM1136.9 506.4h5.6v7.9h-5.6zM1148 712.4h5.6v0.8h-5.6zM1164.8 318.3h5.6v2.6h-5.6zM1176 446.5h5.6v1.5h-5.6zM1181.6 680.7h5.6v31.8h-5.6zM1187.2 560.1h5.6v9.5h-5.6zM1192.7 521.9h5.6v2.1h-5.6zM1215.1 428.1h5.6v86.9h-5.6zM1220.7 721.3h5.6v7.7h-5.6zM1226.3 497.8h5.6v11.5h-5.6zM1237.4 494.9h5.6v5.5h-5.6zM1243 637.7h5.6v31.6h-5.6zM1254.2 483.1h5.6v28.1h-5.6zM1276.6 575.5h5.6v13.1h-5.6zM1298.9 489.6h5.6v7.4h-5.6zM1304.5 292.2h5.6v41.4h-5.6zM1326.8 387.3h5.6v4.3h-5.6zM1343.6 358.3h5.6v9.5h-5.6zM1349.2 473.2h5.6v5.7h-5.6zM1360.4 454.8h5.6v14.5h-5.6zM1366 637.7h5.6v19.5h-5.6zM1371.5 404.4h5.6v8.5h-5.6zM1393.9 448.3h5.6v5.5h-5.6zM1405.1 514.5h5.6v3h-5.6zM1410.7 476.5h5.6v18.2h-5.6zM1421.8 455.7h5.6v36.1h-5.6zM1427.4 504.8h5.6v2.1h-5.6zM1433 535.5h5.6v6.4h-5.6zM1444.2 573.2h5.6v8.4h-5.6zM1449.8 442.1h5.6v24.6h-5.6zM1472.1 551h5.6v76.5h-5.6zM1483.3 578.6h5.6v40.2h-5.6zM1488.9 626.7h5.6v28.7h-5.6zM1494.5 683.8h5.6v14.4h-5.6zM1500.1 540h5.6v83.3h-5.6zM1505.7 494.6h5.6v43.2h-5.6zM1522.4 560.4h5.6v13.7h-5.6zM1528 557.5h5.6v11.9h-5.6zM1533.6 281.7h5.6v55.7h-5.6zM1539.2 503.3h5.6v42.4h-5.6zM1544.8 681.4h5.6v26.5h-5.6zM1550.4 431.3h5.6v20.5h-5.6zM1572.7 391.9h5.6v36.1h-5.6zM1589.5 287.7h5.6v30.6h-5.6zM1595.1 658.8h5.6v44.7h-5.6zM1600.6 627.8h5.6v7.9h-5.6zM1617.4 724.9h5.6v2.1h-5.6zM1645.3 425.5h5.6v5.7h-5.6zM1656.5 630.5h5.6v4.5h-5.6z"/>
<path fill="#366EB2" d="M254 246.9h5.6v118.6h-5.6zM259.6 487.9h5.6v159.3h-5.6zM265.2 495.5h5.6v168.3h-5.6zM270.8 216.7h5.6v375.2h-5.6zM276.4 288.9h5.6v232.3h-5.6zM281.9 584.1h5.6v26.5h-5.6zM287.5 318h5.6v128h-5.6zM293.1 189.5h5.6v211.2h-5.6zM298.7 262.6h5.6v267.9h-5.6zM304.3 215.1h5.6v18.7h-5.6zM309.9 352.4h5.6v244.7h-5.6zM315.5 215.6h5.6v12.5h-5.6zM321.1 316.5h5.6v32.7h-5.6zM326.6 343.9h5.6v129.7h-5.6zM332.2 370.5h5.6v272.6h-5.6zM337.8 342.9h5.6v45.4h-5.6zM343.4 237.9h5.6v50.6h-5.6zM349 535.7h5.6v128.5h-5.6zM354.6 239h5.6v170h-5.6zM360.2 562.7h5.6v3.1h-5.6zM365.8 311h5.6v113.5h-5.6zM371.3 292.2h5.6v169.3h-5.6zM376.9 383.8h5.6v48.5h-5.6zM382.5 354.2h5.6v201.4h-5.6zM388.1 347.8h5.6v184.6h-5.6zM393.7 218h5.6v313.4h-5.6zM399.3 326.6h5.6v232.1h-5.6zM404.9 161.3h5.6v254.4h-5.6zM410.5 372.4h5.6v50.4h-5.6zM416 517.2h5.6v70.9h-5.6zM421.6 298.7h5.6v289.4h-5.6zM427.2 570.4h5.6v37.5h-5.6zM432.8 149.2h5.6v410.6h-5.6zM438.4 307.6h5.6v87.7h-5.6zM444 374.9h5.6v42.7h-5.6zM449.6 188.7h5.6v396.3h-5.6zM455.2 252.5h5.6v349.7h-5.6zM460.7 201.9h5.6v88.6h-5.6zM466.3 233.9h5.6v49.3h-5.6zM471.9 230.2h5.6v46.3h-5.6zM477.5 257.4h5.6v189.2h-5.6zM483.1 246.1h5.6v106.7h-5.6zM488.7 210h5.6v53.9h-5.6zM494.3 310.6h5.6v67.2h-5.6zM499.9 233.7h5.6v150.2h-5.6zM505.4 356.1h5.6v243.2h-5.6zM511 245.9h5.6v262.2h-5.6zM516.6 397.5h5.6v132.2h-5.6zM522.2 223.8h5.6v74.2h-5.6zM527.8 245.3h5.6v189.4h-5.6zM533.4 256.8h5.6v216.7h-5.6zM539 196.9h5.6v9.2h-5.6zM544.6 151.1h5.6v312.7h-5.6zM550.2 112.4h5.6v221.1h-5.6zM555.7 280h5.6v232.3h-5.6zM561.3 607.4h5.6v74.1h-5.6zM566.9 433.2h5.6v111.7h-5.6zM572.5 543.9h5.6v67h-5.6zM578.1 403.7h5.6v211.9h-5.6zM583.7 339.9h5.6v11.4h-5.6zM589.3 185.9h5.6v156.6h-5.6zM594.9 211.2h5.6v135.7h-5.6zM600.4 254.7h5.6v46.9h-5.6zM606 452.8h5.6v103.5h-5.6zM611.6 374.6h5.6v86.2h-5.6zM617.2 395.7h5.6v87.2h-5.6zM622.8 261.8h5.6v239.7h-5.6zM628.4 454.7h5.6v71.9h-5.6zM634 224.5h5.6v367.5h-5.6zM639.6 210.1h5.6v192.4h-5.6zM645.1 260h5.6v14.6h-5.6zM650.7 279.5h5.6v115.8h-5.6zM656.3 443.4h5.6v33.8h-5.6zM667.5 414.4h5.6v148.4h-5.6zM673.1 256.4h5.6v417.4h-5.6zM678.7 367.6h5.6v10.9h-5.6zM684.3 401.9h5.6v94.8h-5.6zM689.8 421.2h5.6v46.5h-5.6zM695.4 185.1h5.6v323.4h-5.6zM706.6 245.2h5.6v123.9h-5.6zM712.2 218.5h5.6v64.2h-5.6zM717.8 229.1h5.6v314.9h-5.6zM723.4 324.2h5.6v299.4h-5.6zM729 255h5.6v120.2h-5.6zM734.5 172.9h5.6v113.6h-5.6zM740.1 261.2h5.6v81.3h-5.6zM745.7 418.4h5.6v30.3h-5.6zM751.3 347.4h5.6v157h-5.6zM756.9 371.2h5.6v242.4h-5.6zM762.5 232.6h5.6v330.8h-5.6zM768.1 451.5h5.6v5.9h-5.6zM773.7 523.3h5.6v37.7h-5.6zM779.2 508.7h5.6v114.5h-5.6zM784.8 172.9h5.6v210.3h-5.6zM790.4 355.5h5.6v5.6h-5.6zM796 380.4h5.6v104.6h-5.6zM801.6 154.5h5.6v280.4h-5.6zM807.2 257h5.6v86.9h-5.6zM812.8 92.1h5.6v75.6h-5.6zM818.4 309.4h5.6v4.5h-5.6zM824 459.6h5.6v89.1h-5.6zM829.5 494.8h5.6v45.8h-5.6zM835.1 424.4h5.6v152h-5.6zM840.7 383.5h5.6v100.8h-5.6zM846.3 183.3h5.6v124.7h-5.6zM851.9 192.8h5.6v16.4h-5.6zM857.5 396.9h5.6v255.3h-5.6zM863.1 330.7h5.6v41h-5.6zM868.7 355.7h5.6v148.9h-5.6zM874.2 231.3h5.6v165.5h-5.6zM879.8 277.6h5.6v283.8h-5.6zM885.4 345.1h5.6v103.1h-5.6zM891 397.7h5.6v133h-5.6zM896.6 380.3h5.6v178.7h-5.6zM902.2 332.1h5.6v111.2h-5.6zM907.8 397.4h5.6v146.6h-5.6zM913.4 537.1h5.6v80.2h-5.6zM918.9 411.1h5.6v53.6h-5.6zM924.5 409.1h5.6v123.5h-5.6zM930.1 251.1h5.6v241.3h-5.6zM935.7 378.4h5.6v69h-5.6zM941.3 257.3h5.6v38h-5.6zM946.9 185.7h5.6v160.4h-5.6zM952.5 451h5.6v75.1h-5.6zM958.1 377.2h5.6v42.9h-5.6zM963.6 426.3h5.6v149.7h-5.6zM969.2 301.1h5.6v294.5h-5.6zM974.8 311.9h5.6v101.5h-5.6zM980.4 396.9h5.6v176.9h-5.6zM986 344.2h5.6v126.7h-5.6zM991.6 248.2h5.6v18.2h-5.6zM997.2 504.1h5.6v135.1h-5.6zM1002.8 371.5h5.6v211.3h-5.6zM1008.3 405.4h5.6v155.9h-5.6zM1013.9 435.7h5.6v218.1h-5.6zM1019.5 495.5h5.6v101.9h-5.6zM1025.1 154.5h5.6v334.9h-5.6zM1030.7 301.9h5.6v449.1h-5.6zM1036.3 293.5h5.6v219.8h-5.6zM1041.9 281.8h5.6v108.6h-5.6zM1047.5 339.2h5.6v125.1h-5.6zM1053 318.8h5.6v153.6h-5.6zM1058.6 216.1h5.6v95.3h-5.6zM1064.2 358.7h5.6v60.4h-5.6zM1069.8 278.4h5.6v115.5h-5.6zM1075.4 311h5.6v162.5h-5.6zM1081 171.5h5.6v398.2h-5.6zM1086.6 381.2h5.6v234.9h-5.6zM1092.2 221.9h5.6v144.3h-5.6zM1097.7 301.7h5.6v180.8h-5.6zM1103.3 331.2h5.6v271.9h-5.6zM1108.9 239.7h5.6v74.7h-5.6zM1114.5 290.3h5.6v119.9h-5.6zM1120.1 238.1h5.6v310.7h-5.6zM1125.7 706h5.6v33.8h-5.6zM1131.3 266.4h5.6v250.2h-5.6zM1136.9 467.9h5.6v38.5h-5.6zM1142.5 344.2h5.6v90.8h-5.6zM1148 520.3h5.6v192.1h-5.6zM1153.6 353.4h5.6v257.9h-5.6zM1159.2 520.4h5.6v172.1h-5.6zM1164.8 157.9h5.6v160.3h-5.6zM1170.4 495.5h5.6v65.3h-5.6zM1176 309.2h5.6v137.4h-5.6zM1181.6 336.7h5.6v344.1h-5.6zM1192.7 241.6h5.6v280.3h-5.6zM1198.3 249.6h5.6v191.1h-5.6zM1203.9 343.6h5.6v17.8h-5.6zM1209.5 308.1h5.6v296h-5.6zM1215.1 359.7h5.6v68.4h-5.6zM1220.7 241h5.6v480.3h-5.6zM1226.3 246.6h5.6v251.2h-5.6zM1231.9 401.9h5.6v215.2h-5.6zM1237.4 333.4h5.6v161.5h-5.6zM1248.6 302.1h5.6v295.6h-5.6zM1254.2 316.6h5.6v166.4h-5.6zM1259.8 192.8h5.6v428.2h-5.6zM1265.4 436.1h5.6v116.4h-5.6zM1271 391h5.6v114.8h-5.6zM1276.6 225.6h5.6v349.9h-5.6zM1282.1 247.6h5.6v96.6h-5.6zM1287.7 271.3h5.6v171.3h-5.6zM1293.3 574.3h5.6v25.1h-5.6zM1298.9 363.6h5.6v126h-5.6zM1304.5 229.3h5.6v63h-5.6zM1310.1 313.9h5.6v358.1h-5.6zM1315.7 423.6h5.6v161.7h-5.6zM1321.3 131.1h5.6v423.9h-5.6zM1326.8 303.1h5.6v84.1h-5.6zM1332.4 271.6h5.6v11h-5.6zM1338 203.2h5.6v496.8h-5.6zM1343.6 305.7h5.6v52.5h-5.6zM1349.2 267h5.6v206.2h-5.6zM1354.8 517.2h5.6v24.7h-5.6zM1360.4 414.2h5.6v40.6h-5.6zM1366 512h5.6v125.8h-5.6zM1371.5 237.2h5.6v167.2h-5.6zM1377.1 413.1h5.6v167.1h-5.6zM1382.7 316.8h5.6v208.4h-5.6zM1388.3 208.6h5.6v281.1h-5.6zM1393.9 313.7h5.6v134.6h-5.6zM1399.5 370.5h5.6v17.3h-5.6zM1405.1 296.7h5.6v217.8h-5.6zM1410.7 428.7h5.6v47.8h-5.6zM1416.3 249h5.6v284.2h-5.6zM1421.8 447.2h5.6v8.5h-5.6zM1427.4 471.3h5.6v33.5h-5.6zM1433 363.4h5.6v172.2h-5.6zM1438.6 323.6h5.6v159h-5.6zM1444.2 146.7h5.6v426.4h-5.6zM1449.8 222.3h5.6v219.7h-5.6zM1455.4 588.3h5.6v17.1h-5.6zM1461 448.5h5.6v53.8h-5.6zM1466.5 410.2h5.6v215.9h-5.6zM1472.1 337.4h5.6v213.7h-5.6zM1477.7 222.5h5.6v428.5h-5.6zM1483.3 413.9h5.6v164.7h-5.6zM1488.9 185.5h5.6v441.2h-5.6zM1494.5 500.6h5.6v183.2h-5.6zM1500.1 393.2h5.6v146.8h-5.6zM1505.7 295.7h5.6v198.8h-5.6zM1511.2 95.2h5.6v408h-5.6zM1516.8 244.3h5.6v143.1h-5.6zM1522.4 376.9h5.6v183.5h-5.6zM1528 429.3h5.6v128.2h-5.6zM1533.6 222.5h5.6v59.2h-5.6zM1544.8 232h5.6v449.5h-5.6zM1550.4 189.3h5.6v242.1h-5.6zM1561.5 220.6h5.6v305.2h-5.6zM1567.1 449.7h5.6v159.2h-5.6zM1572.7 166h5.6v226h-5.6zM1578.3 441.1h5.6v126.2h-5.6zM1583.9 434.6h5.6v86.9h-5.6zM1589.5 85.8h5.6v201.9h-5.6zM1595.1 319.3h5.6v339.5h-5.6zM1600.6 236.6h5.6v391.2h-5.6zM1606.2 334.9h5.6v59.5h-5.6zM1611.8 160.2h5.6v171h-5.6zM1617.4 324.2h5.6v400.6h-5.6zM1623 202.8h5.6v284.1h-5.6zM1628.6 358.9h5.6v123.7h-5.6zM1634.2 502.5h5.6v36.9h-5.6zM1639.8 264.8h5.6v302.6h-5.6zM1645.3 330.3h5.6v95.1h-5.6zM1650.9 142h5.6v465.7h-5.6zM1656.5 282.1h5.6v348.3h-5.6zM1662.1 292.8h5.6v170.6h-5.6z"/>
<path fill="#364CB2" d="M254 166h5.6v81h-5.6zM259.6 297.7h5.6v190.2h-5.6zM265.2 471h5.6v24.5h-5.6zM270.8 161.6h5.6v55.1h-5.6zM276.4 196.5h5.6v92.4h-5.6zM281.9 534.7h5.6v49.5h-5.6zM293.1 125.2h5.6v64.3h-5.6zM298.7 244.2h5.6v18.3h-5.6zM304.3 182.8h5.6v32.2h-5.6zM315.5 138h5.6v77.6h-5.6zM321.1 279.3h5.6v37.2h-5.6zM326.6 254.9h5.6v89h-5.6zM332.2 217.9h5.6v152.6h-5.6zM337.8 298.5h5.6v44.4h-5.6zM343.4 134.4h5.6v103.5h-5.6zM349 501.6h5.6v34.1h-5.6zM354.6 197.8h5.6v41.2h-5.6zM360.2 458h5.6v104.7h-5.6zM365.8 142.3h5.6v168.7h-5.6zM371.3 260.5h5.6v31.7h-5.6zM376.9 244.3h5.6v139.5h-5.6zM382.5 287.5h5.6v66.7h-5.6zM388.1 287.9h5.6v59.9h-5.6zM393.7 178.7h5.6v39.3h-5.6zM399.3 235.4h5.6v91.2h-5.6zM404.9 136.6h5.6v24.7h-5.6zM410.5 307.7h5.6v64.7h-5.6zM416 413.4h5.6v103.8h-5.6zM421.6 297h5.6v1.7h-5.6zM427.2 368.4h5.6v201.9h-5.6zM432.8 103.9h5.6v45.3h-5.6zM438.4 239.8h5.6v67.8h-5.6zM449.6 186.4h5.6v2.3h-5.6zM455.2 194.2h5.6v58.3h-5.6zM460.7 161h5.6v40.8h-5.6zM466.3 147.6h5.6v86.3h-5.6zM471.9 204.8h5.6v25.4h-5.6zM477.5 233.5h5.6v23.9h-5.6zM483.1 225.7h5.6v20.4h-5.6zM488.7 136h5.6v74h-5.6zM494.3 253.1h5.6v57.5h-5.6zM499.9 210.2h5.6v23.5h-5.6zM505.4 302.6h5.6v53.5h-5.6zM511 209.4h5.6v36.5h-5.6zM516.6 341.5h5.6v56h-5.6zM522.2 185.6h5.6v38.2h-5.6zM527.8 225.8h5.6v19.6h-5.6zM533.4 227.6h5.6v29.2h-5.6zM539 170h5.6v26.9h-5.6zM550.2 88.7h5.6v23.8h-5.6zM555.7 222.5h5.6v57.5h-5.6zM566.9 201.6h5.6v231.6h-5.6zM578.1 290.5h5.6v113.2h-5.6zM583.7 222.2h5.6v117.7h-5.6zM594.9 188.7h5.6v22.4h-5.6zM600.4 246.4h5.6v8.2h-5.6zM606 325.7h5.6v127.1h-5.6zM611.6 334.4h5.6v40.2h-5.6zM617.2 344.2h5.6v51.5h-5.6zM622.8 239h5.6v22.8h-5.6zM645.1 248.1h5.6v11.9h-5.6zM650.7 212.3h5.6v67.2h-5.6zM656.3 268.6h5.6v174.8h-5.6zM661.9 562.5h5.6v11.3h-5.6zM667.5 350.3h5.6v64.1h-5.6zM673.1 240.8h5.6v15.5h-5.6zM678.7 254.4h5.6v113.2h-5.6zM684.3 373.3h5.6v28.6h-5.6zM689.8 320.1h5.6v101.1h-5.6zM695.4 155.3h5.6v29.8h-5.6zM701 201.1h5.6v21.3h-5.6zM706.6 170.4h5.6v74.8h-5.6zM717.8 117.6h5.6v111.5h-5.6zM723.4 294.2h5.6v30.1h-5.6zM729 248.2h5.6v6.8h-5.6zM740.1 247.4h5.6v13.8h-5.6zM745.7 401.6h5.6v16.8h-5.6zM751.3 320h5.6v27.4h-5.6zM756.9 209.4h5.6v161.8h-5.6zM762.5 200.7h5.6v31.9h-5.6zM768.1 320.9h5.6v130.6h-5.6zM773.7 427.2h5.6v96.1h-5.6zM779.2 427.6h5.6v81.1h-5.6zM784.8 127.1h5.6v45.8h-5.6zM790.4 313.6h5.6v41.9h-5.6zM796 287.8h5.6v92.7h-5.6zM801.6 143.9h5.6v10.6h-5.6zM807.2 127.3h5.6v129.6h-5.6zM818.4 297.1h5.6v12.3h-5.6zM824 205.6h5.6v254h-5.6zM829.5 410.5h5.6v84.3h-5.6zM835.1 352.6h5.6v71.7h-5.6zM840.7 319.9h5.6v63.6h-5.6zM846.3 148.1h5.6v35.2h-5.6zM851.9 181h5.6v11.8h-5.6zM857.5 296.5h5.6v100.4h-5.6zM863.1 260h5.6v70.7h-5.6zM868.7 300.2h5.6v55.5h-5.6zM879.8 117.3h5.6v160.2h-5.6zM885.4 288.5h5.6v56.6h-5.6zM891 302.4h5.6v95.2h-5.6zM896.6 367.3h5.6v13h-5.6zM902.2 311.6h5.6v20.4h-5.6zM907.8 236.6h5.6v160.9h-5.6zM913.4 516.8h5.6v20.3h-5.6zM924.5 223.3h5.6v185.8h-5.6zM935.7 367.5h5.6v10.9h-5.6zM941.3 232.1h5.6v25.2h-5.6zM946.9 175.3h5.6v10.4h-5.6zM952.5 281.2h5.6v169.8h-5.6zM958.1 308.4h5.6v68.8h-5.6zM963.6 410.6h5.6v15.7h-5.6zM969.2 186.8h5.6v114.3h-5.6zM974.8 183.7h5.6v128.2h-5.6zM980.4 214.8h5.6v182.1h-5.6zM991.6 232.8h5.6v15.4h-5.6zM997.2 295.1h5.6v209h-5.6zM1002.8 277.9h5.6v93.6h-5.6zM1008.3 354.6h5.6v50.9h-5.6zM1013.9 161.5h5.6v274.2h-5.6zM1019.5 444.4h5.6v51.1h-5.6zM1030.7 205.4h5.6v96.5h-5.6zM1041.9 278h5.6v3.8h-5.6zM1047.5 278.7h5.6v60.5h-5.6zM1053 224.7h5.6v94.1h-5.6zM1064.2 259.7h5.6v98.9h-5.6zM1075.4 302.2h5.6v8.8h-5.6zM1086.6 285h5.6v96.2h-5.6zM1092.2 138.5h5.6v83.3h-5.6zM1097.7 225.5h5.6v76.1h-5.6zM1103.3 328.9h5.6v2.3h-5.6zM1108.9 83.4h5.6v156.3h-5.6zM1114.5 263h5.6v27.3h-5.6zM1120.1 146.9h5.6v91.2h-5.6zM1125.7 552h5.6v154h-5.6zM1131.3 241h5.6v25.4h-5.6zM1136.9 427.1h5.6v40.9h-5.6zM1142.5 335.7h5.6v8.5h-5.6zM1148 509.7h5.6v10.6h-5.6zM1159.2 494.6h5.6v25.8h-5.6zM1176 124.4h5.6v184.8h-5.6zM1181.6 291.8h5.6v44.8h-5.6zM1187.2 555.2h5.6v4.8h-5.6zM1192.7 215.7h5.6v25.9h-5.6zM1198.3 233.2h5.6v16.3h-5.6zM1203.9 267.4h5.6v76.2h-5.6zM1209.5 286.7h5.6v21.4h-5.6zM1215.1 333.8h5.6v25.9h-5.6zM1220.7 174.1h5.6v66.9h-5.6zM1231.9 364.3h5.6v37.6h-5.6zM1237.4 296.1h5.6v37.3h-5.6zM1243 507.5h5.6v130.3h-5.6zM1248.6 190.8h5.6v111.4h-5.6zM1254.2 256.3h5.6v60.4h-5.6zM1259.8 183.8h5.6v9h-5.6zM1265.4 324.6h5.6v111.5h-5.6zM1271 375.7h5.6v15.4h-5.6zM1282.1 203.4h5.6v44.3h-5.6zM1287.7 190.8h5.6v80.5h-5.6zM1293.3 394.2h5.6v180h-5.6zM1298.9 226.3h5.6v137.4h-5.6zM1304.5 215.5h5.6v13.8h-5.6zM1310.1 263.3h5.6v50.5h-5.6zM1321.3 129.8h5.6v1.3h-5.6zM1326.8 265.6h5.6v37.5h-5.6zM1332.4 259.7h5.6v12h-5.6zM1338 166.4h5.6v36.8h-5.6zM1349.2 138h5.6v129h-5.6zM1360.4 323h5.6v91.2h-5.6zM1366 475h5.6v37h-5.6zM1382.7 255.5h5.6v61.2h-5.6zM1388.3 177.3h5.6v31.4h-5.6zM1393.9 236.6h5.6v77.1h-5.6zM1399.5 367.1h5.6v3.4h-5.6zM1405.1 276.4h5.6v20.3h-5.6zM1410.7 309.1h5.6v119.6h-5.6zM1416.3 197.2h5.6v51.8h-5.6zM1421.8 326.5h5.6v120.8h-5.6zM1427.4 358.5h5.6v112.8h-5.6zM1433 272.8h5.6v90.6h-5.6zM1438.6 313.1h5.6v10.5h-5.6zM1444.2 107.1h5.6v39.6h-5.6zM1449.8 211.2h5.6v11.2h-5.6zM1455.4 453.1h5.6v135.2h-5.6zM1461 424h5.6v24.4h-5.6zM1466.5 266.6h5.6v143.6h-5.6zM1472.1 277.1h5.6v60.2h-5.6zM1477.7 194.4h5.6v28.1h-5.6zM1483.3 347h5.6v66.9h-5.6zM1488.9 162.6h5.6v22.9h-5.6zM1494.5 330.4h5.6v170.2h-5.6zM1500.1 309.7h5.6v83.5h-5.6zM1505.7 285.2h5.6v10.5h-5.6zM1516.8 115.6h5.6v128.7h-5.6zM1528 352.1h5.6v77.2h-5.6zM1533.6 151.8h5.6v70.7h-5.6zM1544.8 212.6h5.6v19.3h-5.6zM1550.4 164.9h5.6v24.4h-5.6zM1555.9 390.7h5.6v28.9h-5.6zM1572.7 136.1h5.6v29.9h-5.6zM1578.3 343.3h5.6v97.8h-5.6zM1583.9 395.6h5.6v38.9h-5.6zM1595.1 246.2h5.6v73h-5.6zM1600.6 211.5h5.6v25.1h-5.6zM1606.2 260.7h5.6v74.1h-5.6zM1617.4 251h5.6v73.2h-5.6zM1623 158.5h5.6v44.4h-5.6zM1628.6 332h5.6v26.9h-5.6zM1634.2 277.7h5.6v224.8h-5.6zM1639.8 223.6h5.6v41.3h-5.6zM1645.3 130.1h5.6v200.3h-5.6zM1656.5 255.7h5.6v26.4h-5.6zM1662.1 284.3h5.6v8.5h-5.6z"/>
<path fill="#4136B2" d="M254 119.8h5.6v46.2h-5.6zM265.2 80.3h5.6v390.8h-5.6zM270.8 73.6h5.6v88h-5.6zM276.4 78.9h5.6v117.5h-5.6zM281.9 468.1h5.6v66.6h-5.6zM287.5 272.9h5.6v45.1h-5.6zM293.1 85.8h5.6v39.4h-5.6zM298.7 127.2h5.6v117h-5.6zM304.3 168.7h5.6v14.1h-5.6zM309.9 228.8h5.6v123.6h-5.6zM315.5 121.5h5.6v16.5h-5.6zM321.1 264.5h5.6v14.8h-5.6zM326.6 110.2h5.6v144.7h-5.6zM332.2 86.7h5.6v131.2h-5.6zM337.8 261.6h5.6v36.9h-5.6zM343.4 92.1h5.6v42.2h-5.6zM349 184h5.6v317.7h-5.6zM354.6 91.6h5.6v106.2h-5.6zM360.2 150.4h5.6v307.5h-5.6zM365.8 122.1h5.6v20.2h-5.6zM371.3 205.7h5.6v54.8h-5.6zM376.9 108.5h5.6v135.8h-5.6zM382.5 229h5.6v58.5h-5.6zM388.1 217.4h5.6v70.5h-5.6zM393.7 124.4h5.6v54.3h-5.6zM399.3 201.7h5.6v33.6h-5.6zM404.9 103h5.6v33.6h-5.6zM410.5 221.5h5.6v86.2h-5.6zM416 183.8h5.6v229.6h-5.6zM421.6 249.6h5.6v47.4h-5.6zM427.2 224.1h5.6v144.3h-5.6zM432.8 81.1h5.6v22.8h-5.6zM438.4 118.4h5.6v121.3h-5.6zM444 254.9h5.6v120.1h-5.6zM449.6 155.9h5.6v30.5h-5.6zM455.2 159.8h5.6v34.4h-5.6zM460.7 144.4h5.6v16.6h-5.6zM466.3 79.1h5.6v68.5h-5.6zM471.9 162.9h5.6v41.9h-5.6zM477.5 150.6h5.6v82.9h-5.6zM483.1 181.3h5.6v44.5h-5.6zM494.3 211.2h5.6v41.9h-5.6zM499.9 159.4h5.6v50.8h-5.6zM505.4 180.6h5.6v122h-5.6zM511 205.8h5.6v3.5h-5.6zM516.6 198.4h5.6v143.1h-5.6zM522.2 80h5.6v105.6h-5.6zM527.8 194.4h5.6v31.4h-5.6zM533.4 91.8h5.6v135.8h-5.6zM539 55.2h5.6v114.8h-5.6zM544.6 66.6h5.6v84.5h-5.6zM555.7 133.1h5.6v89.4h-5.6zM561.3 381.5h5.6v225.9h-5.6zM566.9 122.7h5.6v79h-5.6zM572.5 118.3h5.6v425.6h-5.6zM578.1 286.9h5.6v3.7h-5.6zM583.7 203.2h5.6v19h-5.6zM594.9 93.2h5.6v95.5h-5.6zM600.4 75.8h5.6v170.7h-5.6zM606 116.4h5.6v209.3h-5.6zM611.6 130.7h5.6v203.7h-5.6zM617.2 239.3h5.6v104.9h-5.6zM622.8 236h5.6v3h-5.6zM628.4 356.7h5.6v98h-5.6zM634 127h5.6v97.5h-5.6zM639.6 176.1h5.6v33.9h-5.6zM645.1 68.5h5.6v179.6h-5.6zM650.7 172.3h5.6v40h-5.6zM656.3 178.1h5.6v90.5h-5.6zM661.9 408.4h5.6v154.1h-5.6zM667.5 307.5h5.6v42.7h-5.6zM673.1 169.6h5.6v71.2h-5.6zM678.7 148.2h5.6v106.2h-5.6zM684.3 139.8h5.6v233.4h-5.6zM689.8 240.7h5.6v79.4h-5.6zM695.4 146h5.6v9.3h-5.6zM701 182.6h5.6v18.5h-5.6zM706.6 148.7h5.6v21.7h-5.6zM712.2 159.8h5.6v58.7h-5.6zM717.8 90h5.6v27.5h-5.6zM723.4 248.7h5.6v45.4h-5.6zM729 88.9h5.6v159.3h-5.6zM734.5 94.7h5.6v78.3h-5.6zM740.1 238.5h5.6v9h-5.6zM745.7 238.2h5.6v163.5h-5.6zM751.3 58.5h5.6v261.5h-5.6zM756.9 111.5h5.6v97.9h-5.6zM762.5 171.3h5.6v29.5h-5.6zM768.1 291.4h5.6v29.4h-5.6zM773.7 322.5h5.6v104.6h-5.6zM779.2 257.7h5.6v169.9h-5.6zM784.8 118.6h5.6v8.5h-5.6zM790.4 230.5h5.6v83.1h-5.6zM796 231.4h5.6v56.4h-5.6zM801.6 84.3h5.6v59.6h-5.6zM807.2 82.4h5.6v45h-5.6zM812.8 66.9h5.6v25.3h-5.6zM818.4 286.6h5.6v10.5h-5.6zM824 151.1h5.6v54.5h-5.6zM835.1 47.9h5.6v304.7h-5.6zM840.7 252.3h5.6v67.6h-5.6zM846.3 85.3h5.6v62.8h-5.6zM851.9 120.4h5.6v60.5h-5.6zM857.5 93.5h5.6v203h-5.6zM863.1 235.2h5.6v24.8h-5.6zM868.7 116.1h5.6v184.1h-5.6zM874.2 159.6h5.6v71.7h-5.6zM879.8 102.8h5.6v14.6h-5.6zM885.4 255h5.6v33.5h-5.6zM891 284.1h5.6v18.3h-5.6zM896.6 197.7h5.6v169.6h-5.6zM902.2 270h5.6v41.6h-5.6zM913.4 355.8h5.6v160.9h-5.6zM918.9 185.5h5.6v225.6h-5.6zM924.5 199.1h5.6v24.2h-5.6zM930.1 229.8h5.6v21.3h-5.6zM935.7 275.3h5.6v92.2h-5.6zM941.3 155.5h5.6v76.6h-5.6zM946.9 123.1h5.6v52.2h-5.6zM952.5 187.9h5.6v93.3h-5.6zM958.1 155.5h5.6v152.9h-5.6zM963.6 311h5.6v99.6h-5.6zM969.2 164h5.6v22.8h-5.6zM974.8 163.7h5.6v20h-5.6zM980.4 201.8h5.6v13h-5.6zM986 203.2h5.6v141h-5.6zM991.6 124.6h5.6v108.2h-5.6zM1002.8 119.6h5.6v158.3h-5.6zM1008.3 205.9h5.6v148.7h-5.6zM1013.9 115.3h5.6v46.3h-5.6zM1019.5 298.2h5.6v146.2h-5.6zM1025.1 59h5.6v95.5h-5.6zM1030.7 168.8h5.6v36.6h-5.6zM1036.3 264.8h5.6v28.7h-5.6zM1041.9 272.1h5.6v5.9h-5.6zM1047.5 244.4h5.6v34.2h-5.6zM1053 133.1h5.6v91.6h-5.6zM1064.2 254.8h5.6v4.9h-5.6zM1069.8 103.4h5.6v175h-5.6zM1075.4 101.2h5.6v201h-5.6zM1081 68.5h5.6v103h-5.6zM1086.6 266.7h5.6v18.2h-5.6zM1092.2 105.7h5.6v32.8h-5.6zM1097.7 224.4h5.6v1.1h-5.6zM1103.3 130.6h5.6v198.4h-5.6zM1108.9 69.6h5.6v13.8h-5.6zM1114.5 179.1h5.6v83.9h-5.6zM1120.1 129.9h5.6v17h-5.6zM1125.7 237.6h5.6v314.5h-5.6zM1136.9 198.4h5.6v228.7h-5.6zM1142.5 150.1h5.6v185.7h-5.6zM1148 339.2h5.6v170.6h-5.6zM1153.6 204.3h5.6v149.1h-5.6zM1159.2 413.8h5.6v80.7h-5.6zM1164.8 136h5.6v21.9h-5.6zM1176 97.3h5.6v27.1h-5.6zM1181.6 117h5.6v174.8h-5.6zM1187.2 310.5h5.6v244.7h-5.6zM1198.3 125.8h5.6v107.5h-5.6zM1203.9 139.9h5.6v127.4h-5.6zM1209.5 78.3h5.6v208.5h-5.6zM1215.1 261h5.6v72.8h-5.6zM1220.7 91.1h5.6v83h-5.6zM1226.3 197h5.6v49.6h-5.6zM1231.9 282.6h5.6v81.7h-5.6zM1237.4 228.9h5.6v67.2h-5.6zM1243 208.7h5.6v298.8h-5.6zM1248.6 117.2h5.6v73.6h-5.6zM1254.2 153.5h5.6v102.8h-5.6zM1259.8 181.9h5.6v1.9h-5.6zM1265.4 279.6h5.6v45h-5.6zM1271 236.4h5.6v139.3h-5.6zM1276.6 83h5.6v142.6h-5.6zM1287.7 154.5h5.6v36.2h-5.6zM1293.3 385.4h5.6v8.8h-5.6zM1298.9 122.7h5.6v103.5h-5.6zM1304.5 206.5h5.6v9h-5.6zM1310.1 134.6h5.6v128.8h-5.6zM1315.7 140.5h5.6v283h-5.6zM1321.3 128.7h5.6v1.1h-5.6zM1332.4 197.6h5.6v62.1h-5.6zM1338 96.6h5.6v69.8h-5.6zM1343.6 181.5h5.6v124.3h-5.6zM1349.2 64h5.6v74h-5.6zM1354.8 356.7h5.6v160.5h-5.6zM1360.4 163.4h5.6v159.7h-5.6zM1366 334.9h5.6v140.2h-5.6zM1371.5 105.7h5.6v131.5h-5.6zM1377.1 163.4h5.6v249.7h-5.6zM1388.3 61.5h5.6v115.7h-5.6zM1393.9 217.6h5.6v19h-5.6zM1399.5 95h5.6v272.1h-5.6zM1405.1 276.2h5.6v0.3h-5.6zM1410.7 113.2h5.6v195.8h-5.6zM1416.3 96h5.6v101.2h-5.6zM1421.8 128h5.6v198.5h-5.6zM1427.4 295.7h5.6v62.8h-5.6zM1433 243.5h5.6v29.3h-5.6zM1438.6 202.9h5.6v110.2h-5.6zM1444.2 83.8h5.6v23.3h-5.6zM1449.8 116.2h5.6v95h-5.6zM1455.4 411h5.6v42h-5.6zM1461 301.4h5.6v122.6h-5.6zM1466.5 240.9h5.6v25.7h-5.6zM1472.1 96h5.6v181.1h-5.6zM1477.7 128.2h5.6v66.2h-5.6zM1483.3 322.8h5.6v24.2h-5.6zM1488.9 148.5h5.6v14.1h-5.6zM1494.5 284.2h5.6v46.1h-5.6zM1500.1 44.1h5.6v265.6h-5.6zM1505.7 129.8h5.6v155.4h-5.6zM1511.2 58.3h5.6v36.8h-5.6zM1516.8 76.2h5.6v39.4h-5.6zM1522.4 179.9h5.6v197h-5.6zM1528 119h5.6v233.1h-5.6zM1533.6 99.8h5.6v52h-5.6zM1539.2 203.1h5.6v300.2h-5.6zM1544.8 177.6h5.6v35h-5.6zM1555.9 349.5h5.6v41.2h-5.6zM1561.5 121h5.6v99.6h-5.6zM1567.1 294.1h5.6v155.6h-5.6zM1572.7 111.3h5.6v24.8h-5.6zM1578.3 258.9h5.6v84.3h-5.6zM1583.9 213.7h5.6v182h-5.6zM1589.5 48.1h5.6v37.7h-5.6zM1595.1 153h5.6v93.2h-5.6zM1600.6 75.7h5.6v135.8h-5.6zM1606.2 178.1h5.6v82.6h-5.6zM1611.8 126.7h5.6v33.5h-5.6zM1617.4 83.8h5.6v167.2h-5.6zM1623 144.6h5.6v13.8h-5.6zM1628.6 141.5h5.6v190.5h-5.6zM1634.2 224.5h5.6v53.2h-5.6zM1639.8 97.2h5.6v126.4h-5.6zM1645.3 104.1h5.6v25.9h-5.6zM1650.9 85.3h5.6v56.7h-5.6zM1656.5 149.2h5.6v106.6h-5.6zM1662.1 261.1h5.6v23.1h-5.6z"/>
<path fill="#6336B2" d="M254 75.9h5.6v43.9h-5.6zM287.5 82.9h5.6v190.1h-5.6zM298.7 93.2h5.6v34h-5.6zM304.3 146.5h5.6v22.2h-5.6zM309.9 60.2h5.6v168.6h-5.6zM315.5 52.4h5.6v69.1h-5.6zM321.1 187.9h5.6v76.6h-5.6zM326.6 103.7h5.6v6.5h-5.6zM343.4 80.3h5.6v11.8h-5.6zM349 99.7h5.6v84.3h-5.6zM354.6 72h5.6v19.6h-5.6zM360.2 108.3h5.6v42.1h-5.6zM365.8 100.1h5.6v22h-5.6zM371.3 161.8h5.6v43.9h-5.6zM376.9 46.1h5.6v62.4h-5.6zM382.5 95h5.6v134h-5.6zM399.3 113.4h5.6v88.3h-5.6zM410.5 137.7h5.6v83.8h-5.6zM416 74.1h5.6v109.7h-5.6zM421.6 223.6h5.6v26h-5.6zM427.2 151.6h5.6v72.5h-5.6zM438.4 57h5.6v61.5h-5.6zM444 135.9h5.6v119h-5.6zM449.6 71.4h5.6v84.5h-5.6zM471.9 72.3h5.6v90.6h-5.6zM477.5 110.7h5.6v39.9h-5.6zM483.1 147.6h5.6v33.6h-5.6zM488.7 64.5h5.6v71.5h-5.6zM494.3 164.7h5.6v46.5h-5.6zM499.9 110.2h5.6v49.2h-5.6zM505.4 161.8h5.6v18.8h-5.6zM516.6 178.6h5.6v19.8h-5.6zM527.8 155.7h5.6v38.7h-5.6zM533.4 85.9h5.6v6h-5.6zM544.6 64.7h5.6v1.9h-5.6zM550.2 64.8h5.6v23.9h-5.6zM555.7 70.6h5.6v62.6h-5.6zM561.3 349h5.6v32.5h-5.6zM566.9 78.9h5.6v43.8h-5.6zM572.5 113h5.6v5.3h-5.6zM578.1 249.8h5.6v37.1h-5.6zM611.6 124.4h5.6v6.3h-5.6zM617.2 228.2h5.6v11h-5.6zM622.8 198.3h5.6v37.7h-5.6zM628.4 344.8h5.6v11.9h-5.6zM639.6 106.3h5.6v69.9h-5.6zM656.3 159.9h5.6v18.2h-5.6zM661.9 133.5h5.6v274.9h-5.6zM667.5 179.1h5.6v128.4h-5.6zM684.3 123.7h5.6v16.1h-5.6zM689.8 135.7h5.6v105h-5.6zM695.4 89.9h5.6v56.2h-5.6zM701 103.5h5.6v79.1h-5.6zM706.6 96h5.6v52.8h-5.6zM712.2 147.7h5.6v12h-5.6zM723.4 225.9h5.6v22.9h-5.6zM729 84.2h5.6v4.7h-5.6zM734.5 79.6h5.6v15h-5.6zM745.7 109.6h5.6v128.6h-5.6zM756.9 106.9h5.6v4.6h-5.6zM762.5 160.3h5.6v11h-5.6zM773.7 184.3h5.6v138.2h-5.6zM779.2 83.2h5.6v174.5h-5.6zM796 182.7h5.6v48.7h-5.6zM801.6 59.7h5.6v24.6h-5.6zM818.4 255.8h5.6v30.8h-5.6zM824 139.3h5.6v11.8h-5.6zM829.5 402.2h5.6v8.3h-5.6zM840.7 149.6h5.6v102.7h-5.6zM857.5 67.9h5.6v25.6h-5.6zM863.1 164.8h5.6v70.4h-5.6zM868.7 98.4h5.6v17.7h-5.6zM874.2 114.4h5.6v45.3h-5.6zM879.8 59h5.6v43.8h-5.6zM885.4 151.7h5.6v103.3h-5.6zM891 274.3h5.6v9.8h-5.6zM896.6 142.4h5.6v55.3h-5.6zM902.2 256.3h5.6v13.8h-5.6zM907.8 55.3h5.6v181.3h-5.6zM913.4 298.9h5.6v56.9h-5.6zM924.5 147.4h5.6v51.7h-5.6zM930.1 207.5h5.6v22.3h-5.6zM935.7 184h5.6v91.3h-5.6zM941.3 149.2h5.6v6.3h-5.6zM946.9 113.6h5.6v9.5h-5.6zM952.5 163.7h5.6v24.2h-5.6zM958.1 61.7h5.6v93.8h-5.6zM969.2 83.6h5.6v80.4h-5.6zM974.8 90.2h5.6v73.4h-5.6zM980.4 79.9h5.6v121.9h-5.6zM991.6 74h5.6v50.6h-5.6zM997.2 127.5h5.6v167.6h-5.6zM1008.3 164.8h5.6v41.2h-5.6zM1013.9 82.1h5.6v33.2h-5.6zM1019.5 290.7h5.6v7.4h-5.6zM1030.7 124.9h5.6v43.9h-5.6zM1036.3 187.7h5.6v77h-5.6zM1041.9 253.3h5.6v18.8h-5.6zM1047.5 240.8h5.6v3.6h-5.6zM1053 91.6h5.6v41.5h-5.6zM1064.2 173.2h5.6v81.6h-5.6zM1086.6 255.7h5.6v11h-5.6zM1092.2 74.9h5.6v30.8h-5.6zM1097.7 143.8h5.6v80.6h-5.6zM1103.3 71.9h5.6v58.7h-5.6zM1114.5 161.6h5.6v17.5h-5.6zM1120.1 87.1h5.6v42.9h-5.6zM1136.9 109h5.6v89.4h-5.6zM1142.5 53.7h5.6v96.3h-5.6zM1148 119h5.6v220.2h-5.6zM1153.6 170.4h5.6v33.9h-5.6zM1159.2 173.4h5.6v240.4h-5.6zM1164.8 88.9h5.6v47.1h-5.6zM1170.4 409.1h5.6v86.4h-5.6zM1181.6 74.8h5.6v42.2h-5.6zM1192.7 93.7h5.6v122h-5.6zM1198.3 121.4h5.6v4.4h-5.6zM1203.9 108h5.6v32h-5.6zM1215.1 179.7h5.6v81.3h-5.6zM1220.7 59.1h5.6v32h-5.6zM1231.9 167.7h5.6v114.9h-5.6zM1237.4 134.7h5.6v94.2h-5.6zM1243 113.2h5.6v95.5h-5.6zM1248.6 96.3h5.6v20.9h-5.6zM1259.8 56.8h5.6v125h-5.6zM1265.4 249.9h5.6v29.7h-5.6zM1271 184.8h5.6v51.6h-5.6zM1276.6 65.9h5.6v17.1h-5.6zM1287.7 114.9h5.6v39.6h-5.6zM1293.3 324.7h5.6v60.8h-5.6zM1298.9 52.9h5.6v69.8h-5.6zM1304.5 167.3h5.6v39.2h-5.6zM1310.1 81.5h5.6v53h-5.6zM1315.7 67h5.6v73.5h-5.6zM1321.3 109.8h5.6v18.8h-5.6zM1326.8 175.3h5.6v90.3h-5.6zM1354.8 211.7h5.6v145h-5.6zM1360.4 117.6h5.6v45.7h-5.6zM1366 146.6h5.6v188.3h-5.6zM1377.1 89.3h5.6v74h-5.6zM1382.7 235.8h5.6v19.8h-5.6zM1388.3 60.8h5.6v0.7h-5.6zM1393.9 199.5h5.6v18.1h-5.6zM1405.1 257.7h5.6v18.4h-5.6zM1410.7 44h5.6v69.2h-5.6zM1427.4 104.4h5.6v191.3h-5.6zM1433 155.5h5.6v88h-5.6zM1444.2 45.7h5.6v38.1h-5.6zM1449.8 93.4h5.6v22.8h-5.6zM1455.4 235.9h5.6v175.1h-5.6zM1461 128h5.6v173.4h-5.6zM1466.5 46.2h5.6v194.7h-5.6zM1472.1 53.5h5.6v42.5h-5.6zM1477.7 98.9h5.6v29.3h-5.6zM1483.3 138.8h5.6v184h-5.6zM1488.9 58.2h5.6v90.3h-5.6zM1494.5 258.5h5.6v25.8h-5.6zM1505.7 65.3h5.6v64.5h-5.6zM1522.4 166.2h5.6v13.7h-5.6zM1539.2 140.5h5.6v62.6h-5.6zM1544.8 65.3h5.6v112.3h-5.6zM1550.4 85.7h5.6v79.2h-5.6zM1555.9 266.9h5.6v82.6h-5.6zM1561.5 64.4h5.6v56.6h-5.6zM1567.1 243.6h5.6v50.5h-5.6zM1578.3 244.8h5.6v14.2h-5.6zM1595.1 132.5h5.6v20.6h-5.6zM1600.6 60.4h5.6v15.2h-5.6zM1617.4 73.3h5.6v10.5h-5.6zM1634.2 129.6h5.6v94.9h-5.6zM1639.8 52.1h5.6v45.1h-5.6zM1650.9 54.3h5.6v31h-5.6zM1656.5 108.6h5.6v40.6h-5.6zM1662.1 72.6h5.6v188.5h-5.6z"/>
<path fill="#8536B2" d="M259.6 266.6h5.6v31.1h-5.6zM270.8 71.5h5.6v2.1h-5.6zM281.9 376.1h5.6v92h-5.6zM293.1 77.3h5.6v8.5h-5.6zM315.5 45.1h5.6v7.2h-5.6zM326.6 100.6h5.6v3.1h-5.6zM337.8 204.4h5.6v57.3h-5.6zM371.3 99.3h5.6v62.5h-5.6zM376.9 44.4h5.6v1.7h-5.6zM388.1 216.9h5.6v0.5h-5.6zM393.7 93.5h5.6v30.9h-5.6zM410.5 94.1h5.6v43.6h-5.6zM421.6 138.3h5.6v85.3h-5.6zM427.2 96.7h5.6v54.9h-5.6zM455.2 157.7h5.6v2.1h-5.6zM471.9 66.5h5.6v5.8h-5.6zM483.1 125.5h5.6v22.2h-5.6zM494.3 154.2h5.6v10.5h-5.6zM505.4 116.7h5.6v45.1h-5.6zM561.3 346.3h5.6v2.7h-5.6zM572.5 85.8h5.6v27.1h-5.6zM583.7 164.5h5.6v38.7h-5.6zM611.6 102.1h5.6v22.2h-5.6zM622.8 189h5.6v9.3h-5.6zM639.6 95.4h5.6v10.9h-5.6zM650.7 85.1h5.6v87.1h-5.6zM667.5 155h5.6v24.1h-5.6zM673.1 168.1h5.6v1.6h-5.6zM678.7 79.6h5.6v68.6h-5.6zM706.6 72.2h5.6v23.7h-5.6zM712.2 133.7h5.6v14h-5.6zM717.8 70.4h5.6v19.6h-5.6zM723.4 218.9h5.6v7h-5.6zM740.1 221.5h5.6v17h-5.6zM745.7 106.5h5.6v3.1h-5.6zM751.3 48h5.6v10.5h-5.6zM818.4 121.2h5.6v134.6h-5.6zM829.5 335.5h5.6v66.7h-5.6zM840.7 100.9h5.6v48.7h-5.6zM868.7 73.7h5.6v24.7h-5.6zM885.4 148.2h5.6v3.6h-5.6zM891 196h5.6v78.3h-5.6zM924.5 141.3h5.6v6h-5.6zM930.1 190.7h5.6v16.8h-5.6zM963.6 264.4h5.6v46.6h-5.6zM991.6 68.3h5.6v5.7h-5.6zM1008.3 123.3h5.6v41.5h-5.6zM1013.9 68.1h5.6v14h-5.6zM1019.5 257.9h5.6v32.9h-5.6zM1041.9 202.6h5.6v50.6h-5.6zM1047.5 187h5.6v53.8h-5.6zM1081 47.5h5.6v21h-5.6zM1120.1 79.1h5.6v8h-5.6zM1125.7 179.1h5.6v58.5h-5.6zM1131.3 183h5.6v58h-5.6zM1142.5 44h5.6v9.7h-5.6zM1153.6 122.9h5.6v47.5h-5.6zM1159.2 76.9h5.6v96.5h-5.6zM1164.8 44h5.6v44.9h-5.6zM1170.4 301h5.6v108.2h-5.6zM1181.6 56.9h5.6v17.9h-5.6zM1198.3 107.9h5.6v13.5h-5.6zM1209.5 55.9h5.6v22.4h-5.6zM1226.3 162.5h5.6v34.5h-5.6zM1237.4 124h5.6v10.7h-5.6zM1248.6 67h5.6v29.2h-5.6zM1254.2 148.6h5.6v4.8h-5.6zM1265.4 211h5.6v38.9h-5.6zM1271 137.6h5.6v47.2h-5.6zM1282.1 190.2h5.6v13.2h-5.6zM1310.1 77.4h5.6v4.1h-5.6zM1343.6 171.7h5.6v9.8h-5.6zM1360.4 96.2h5.6v21.4h-5.6zM1366 120.4h5.6v26.2h-5.6zM1405.1 158.2h5.6v99.6h-5.6zM1416.3 79.2h5.6v16.9h-5.6zM1421.8 97.7h5.6v30.3h-5.6zM1427.4 68.7h5.6v35.6h-5.6zM1433 119.6h5.6v35.9h-5.6zM1438.6 170h5.6v32.9h-5.6zM1449.8 75.8h5.6v17.6h-5.6zM1461 93.5h5.6v34.5h-5.6zM1472.1 44h5.6v9.5h-5.6zM1477.7 74.9h5.6v24h-5.6zM1483.3 134h5.6v4.7h-5.6zM1500.1 44h5.6v0.1h-5.6zM1511.2 52.9h5.6v5.5h-5.6zM1522.4 136.4h5.6v29.8h-5.6zM1555.9 227.8h5.6v39.1h-5.6zM1567.1 203.5h5.6v40.1h-5.6zM1572.7 99.3h5.6v11.9h-5.6zM1583.9 74.5h5.6v139.2h-5.6zM1589.5 44h5.6v4.1h-5.6zM1595.1 92.2h5.6v40.3h-5.6zM1606.2 152.5h5.6v25.6h-5.6zM1645.3 79.3h5.6v24.8h-5.6zM1656.5 77.3h5.6v31.3h-5.6z"/>
<path fill="#A736B2" d="M254 55h5.6v20.9h-5.6zM259.6 128.3h5.6v138.3h-5.6zM265.2 55.5h5.6v24.8h-5.6zM270.8 60.3h5.6v11.2h-5.6zM281.9 248.6h5.6v127.5h-5.6zM287.5 47.5h5.6v35.4h-5.6zM293.1 44h5.6v33.3h-5.6zM298.7 74.1h5.6v19.2h-5.6zM309.9 44h5.6v16.2h-5.6zM321.1 44h5.6v143.9h-5.6zM326.6 73.2h5.6v27.4h-5.6zM332.2 47.3h5.6v39.5h-5.6zM337.8 44h5.6v160.4h-5.6zM343.4 44h5.6v36.3h-5.6zM349 94.4h5.6v5.3h-5.6zM354.6 65.6h5.6v6.4h-5.6zM360.2 74.8h5.6v33.5h-5.6zM371.3 56.3h5.6v43h-5.6zM388.1 168.9h5.6v48.1h-5.6zM393.7 59.6h5.6v33.9h-5.6zM399.3 44h5.6v69.4h-5.6zM404.9 53h5.6v50.1h-5.6zM410.5 70.7h5.6v23.4h-5.6zM416 44h5.6v30.1h-5.6zM421.6 44h5.6v94.3h-5.6zM438.4 44h5.6v13h-5.6zM444 124.4h5.6v11.5h-5.6zM449.6 60.7h5.6v10.7h-5.6zM455.2 60.9h5.6v96.8h-5.6zM460.7 82h5.6v62.5h-5.6zM466.3 52.6h5.6v26.5h-5.6zM477.5 109.1h5.6v1.6h-5.6zM483.1 72.4h5.6v53.1h-5.6zM488.7 52h5.6v12.5h-5.6zM494.3 112.3h5.6v41.9h-5.6zM505.4 99.5h5.6v17.2h-5.6zM511 203.8h5.6v2h-5.6zM516.6 62.5h5.6v116.1h-5.6zM527.8 77.7h5.6v78h-5.6zM533.4 44h5.6v41.9h-5.6zM544.6 44h5.6v20.7h-5.6zM550.2 44h5.6v20.8h-5.6zM561.3 92h5.6v254.3h-5.6zM566.9 46.6h5.6v32.3h-5.6zM572.5 58.3h5.6v27.6h-5.6zM578.1 118.8h5.6v131h-5.6zM583.7 103.6h5.6v60.9h-5.6zM589.3 55.2h5.6v130.7h-5.6zM594.9 48.9h5.6v44.3h-5.6zM600.4 50.7h5.6v25.1h-5.6zM606 45.2h5.6v71.2h-5.6zM611.6 59.2h5.6v43h-5.6zM617.2 44h5.6v184.2h-5.6zM622.8 54.1h5.6v134.9h-5.6zM628.4 48.3h5.6v296.5h-5.6zM639.6 44h5.6v51.4h-5.6zM656.3 44h5.6v115.9h-5.6zM661.9 87.4h5.6v46.2h-5.6zM667.5 94.3h5.6v60.6h-5.6zM673.1 44h5.6v124.1h-5.6zM684.3 44h5.6v79.7h-5.6zM689.8 69.2h5.6v66.4h-5.6zM695.4 81.8h5.6v8.1h-5.6zM701 56.9h5.6v46.7h-5.6zM706.6 44h5.6v28.2h-5.6zM712.2 72.2h5.6v61.5h-5.6zM717.8 62h5.6v8.4h-5.6zM723.4 45.8h5.6v173.1h-5.6zM729 73.9h5.6v10.3h-5.6zM734.5 75.2h5.6v4.4h-5.6zM740.1 184.8h5.6v36.7h-5.6zM745.7 71.5h5.6v34.9h-5.6zM751.3 45.7h5.6v2.3h-5.6zM756.9 63.4h5.6v43.5h-5.6zM762.5 76.5h5.6v83.8h-5.6zM768.1 156.5h5.6v135h-5.6zM773.7 44h5.6v140.3h-5.6zM784.8 44h5.6v74.6h-5.6zM790.4 75.5h5.6v155h-5.6zM796 89.1h5.6v93.6h-5.6zM801.6 44.1h5.6v15.7h-5.6zM812.8 66.7h5.6v0.1h-5.6zM818.4 44h5.6v77.2h-5.6zM824 89.9h5.6v49.4h-5.6zM829.5 145.8h5.6v189.6h-5.6zM835.1 44.4h5.6v3.5h-5.6zM840.7 96.8h5.6v4.1h-5.6zM846.3 44h5.6v41.3h-5.6zM851.9 97.9h5.6v22.5h-5.6zM857.5 45.2h5.6v22.7h-5.6zM863.1 126.8h5.6v38h-5.6zM868.7 46.2h5.6v27.5h-5.6zM874.2 44h5.6v70.4h-5.6zM879.8 47.8h5.6v11.2h-5.6zM885.4 101.4h5.6v46.8h-5.6zM891 50.8h5.6v145.2h-5.6zM896.6 71h5.6v71.4h-5.6zM902.2 76.8h5.6v179.5h-5.6zM907.8 44.9h5.6v10.4h-5.6zM913.4 75.3h5.6v223.7h-5.6zM918.9 55.1h5.6v130.4h-5.6zM930.1 76.6h5.6v114.1h-5.6zM935.7 155.3h5.6v28.7h-5.6zM941.3 127.2h5.6v22h-5.6zM946.9 95.9h5.6v17.6h-5.6zM952.5 105.6h5.6v58.1h-5.6zM958.1 55.2h5.6v6.5h-5.6zM963.6 191.4h5.6v73h-5.6zM969.2 75.9h5.6v7.7h-5.6zM974.8 64.8h5.6v25.4h-5.6zM980.4 44h5.6v35.9h-5.6zM986 106.9h5.6v96.3h-5.6zM991.6 61.4h5.6v6.9h-5.6zM997.2 92.8h5.6v34.7h-5.6zM1002.8 49.6h5.6v70h-5.6zM1008.3 58.8h5.6v64.5h-5.6zM1013.9 59.1h5.6v9h-5.6zM1019.5 63.6h5.6v194.2h-5.6zM1025.1 47.3h5.6v11.7h-5.6zM1030.7 74.9h5.6v50h-5.6zM1036.3 70.4h5.6v117.3h-5.6zM1041.9 44h5.6v158.6h-5.6zM1047.5 143h5.6v44h-5.6zM1053 74h5.6v17.6h-5.6zM1058.6 94.7h5.6v121.3h-5.6zM1064.2 62h5.6v111.2h-5.6zM1069.8 92.3h5.6v11.1h-5.6zM1075.4 53.5h5.6v47.7h-5.6zM1086.6 71.9h5.6v183.8h-5.6zM1092.2 62.8h5.6v12.1h-5.6zM1097.7 100.4h5.6v43.5h-5.6zM1114.5 44h5.6v117.6h-5.6zM1120.1 61.3h5.6v17.7h-5.6zM1125.7 127.3h5.6v51.8h-5.6zM1131.3 151.5h5.6v31.5h-5.6zM1148 105h5.6v14h-5.6zM1153.6 103.8h5.6v19.1h-5.6zM1159.2 62h5.6v14.9h-5.6zM1170.4 61.2h5.6v239.8h-5.6zM1176 76.4h5.6v20.9h-5.6zM1181.6 44h5.6v12.9h-5.6zM1187.2 61.6h5.6v248.9h-5.6zM1192.7 76.6h5.6v17.1h-5.6zM1198.3 90.5h5.6v17.5h-5.6zM1203.9 87.6h5.6v20.4h-5.6zM1209.5 47.7h5.6v8.2h-5.6zM1215.1 162.1h5.6v17.7h-5.6zM1220.7 51h5.6v8.1h-5.6zM1226.3 134.6h5.6v27.9h-5.6zM1231.9 139.6h5.6v28.1h-5.6zM1237.4 48h5.6v76h-5.6zM1243 47.6h5.6v65.6h-5.6zM1248.6 44h5.6v23h-5.6zM1254.2 58.4h5.6v90.2h-5.6zM1265.4 70.9h5.6v140.2h-5.6zM1271 104h5.6v33.5h-5.6zM1276.6 58h5.6v7.9h-5.6zM1282.1 110.4h5.6v79.8h-5.6zM1287.7 86.3h5.6v28.6h-5.6zM1293.3 151.8h5.6v172.9h-5.6zM1298.9 47.6h5.6v5.3h-5.6zM1304.5 66.4h5.6v100.9h-5.6zM1310.1 44h5.6v33.4h-5.6zM1315.7 61.1h5.6v5.9h-5.6zM1321.3 77.8h5.6v32.1h-5.6zM1326.8 50.5h5.6v124.8h-5.6zM1332.4 88.4h5.6v109.1h-5.6zM1338 44h5.6v52.6h-5.6zM1343.6 72.6h5.6v99.1h-5.6zM1354.8 75.1h5.6v136.6h-5.6zM1360.4 44h5.6v52.2h-5.6zM1366 73.8h5.6v46.6h-5.6zM1371.5 99.2h5.6v6.4h-5.6zM1377.1 64.1h5.6v25.2h-5.6zM1382.7 89.1h5.6v146.6h-5.6zM1393.9 171.2h5.6v28.3h-5.6zM1399.5 54.6h5.6v40.4h-5.6zM1405.1 48.5h5.6v109.6h-5.6zM1416.3 68.4h5.6v10.7h-5.6zM1427.4 66.4h5.6v2.3h-5.6zM1433 98h5.6v21.6h-5.6zM1438.6 69h5.6v101.1h-5.6zM1444.2 45.4h5.6v0.4h-5.6zM1449.8 66.4h5.6v9.4h-5.6zM1455.4 71.1h5.6v164.8h-5.6zM1461 49.6h5.6v43.9h-5.6zM1466.5 44h5.6v2.2h-5.6zM1477.7 55.9h5.6v19.1h-5.6zM1483.3 58.8h5.6v75.3h-5.6zM1488.9 55.2h5.6v3h-5.6zM1494.5 44h5.6v214.5h-5.6zM1505.7 44h5.6v21.3h-5.6zM1528 103.3h5.6v15.6h-5.6zM1533.6 95.3h5.6v4.5h-5.6zM1539.2 77.5h5.6v63h-5.6zM1544.8 60.7h5.6v4.6h-5.6zM1550.4 69.4h5.6v16.3h-5.6zM1555.9 116.4h5.6v111.5h-5.6zM1561.5 46h5.6v18.5h-5.6zM1567.1 44.5h5.6v159h-5.6zM1572.7 52.6h5.6v46.8h-5.6zM1578.3 102.8h5.6v142h-5.6zM1583.9 68.5h5.6v6h-5.6zM1595.1 63.9h5.6v28.3h-5.6zM1606.2 117h5.6v35.5h-5.6zM1611.8 46.8h5.6v80h-5.6zM1617.4 44h5.6v29.3h-5.6zM1623 77.9h5.6v66.8h-5.6zM1628.6 87h5.6v54.5h-5.6zM1634.2 63.4h5.6v66.1h-5.6zM1639.8 44h5.6v8h-5.6zM1645.3 51.8h5.6v27.5h-5.6zM1656.5 44h5.6v33.3h-5.6zM1662.1 50.2h5.6v22.4h-5.6z"/>
<path fill="#B2369C" d="M265.2 52.2h5.6v3.3h-5.6zM281.9 206.5h5.6v42.1h-5.6zM298.7 66.9h5.6v7.2h-5.6zM304.3 125.3h5.6v21.2h-5.6zM326.6 44h5.6v29.2h-5.6zM332.2 44h5.6v3.3h-5.6zM349 48.9h5.6v45.5h-5.6zM354.6 65.5h5.6v0.1h-5.6zM360.2 44h5.6v30.8h-5.6zM388.1 48.3h5.6v120.6h-5.6zM404.9 44h5.6v9h-5.6zM432.8 50.5h5.6v30.7h-5.6zM460.7 49.1h5.6v32.9h-5.6zM471.9 58.6h5.6v7.9h-5.6zM499.9 64.5h5.6v45.6h-5.6zM505.4 51.4h5.6v48.1h-5.6zM511 114.8h5.6v89h-5.6zM527.8 51.1h5.6v26.6h-5.6zM578.1 66.8h5.6v52h-5.6zM583.7 44.8h5.6v58.9h-5.6zM589.3 52.2h5.6v3h-5.6zM611.6 46.8h5.6v12.4h-5.6zM634 54.7h5.6v72.3h-5.6zM650.7 65.8h5.6v19.3h-5.6zM678.7 44h5.6v35.6h-5.6zM689.8 51.1h5.6v18.1h-5.6zM729 61.5h5.6v12.4h-5.6zM734.5 51.9h5.6v23.3h-5.6zM740.1 60h5.6v124.8h-5.6zM745.7 66.8h5.6v4.8h-5.6zM762.5 56.6h5.6v19.8h-5.6zM768.1 44h5.6v112.5h-5.6zM779.2 71.3h5.6v12h-5.6zM796 77.8h5.6v11.3h-5.6zM807.2 78.8h5.6v3.6h-5.6zM835.1 44h5.6v0.4h-5.6zM857.5 44h5.6v1.2h-5.6zM863.1 95.6h5.6v31.2h-5.6zM879.8 44h5.6v3.8h-5.6zM885.4 81h5.6v20.4h-5.6zM902.2 46.2h5.6v30.6h-5.6zM918.9 51.1h5.6v4h-5.6zM930.1 74.7h5.6v1.9h-5.6zM935.7 79.2h5.6v76.1h-5.6zM941.3 44h5.6v83.2h-5.6zM946.9 75.9h5.6v20.1h-5.6zM963.6 98.2h5.6v93.2h-5.6zM969.2 44h5.6v31.9h-5.6zM974.8 44h5.6v20.8h-5.6zM986 44h5.6v62.9h-5.6zM997.2 86.4h5.6v6.4h-5.6zM1036.3 54.4h5.6v16h-5.6zM1047.5 114.9h5.6v28.2h-5.6zM1053 51.6h5.6v22.4h-5.6zM1069.8 50.4h5.6v41.9h-5.6zM1081 44h5.6v3.5h-5.6zM1086.6 47.7h5.6v24.1h-5.6zM1103.3 59.1h5.6v12.8h-5.6zM1125.7 71.1h5.6v56.2h-5.6zM1136.9 95.9h5.6v13.1h-5.6zM1148 70.4h5.6v34.6h-5.6zM1153.6 44.6h5.6v59.2h-5.6zM1159.2 50.7h5.6v11.3h-5.6zM1170.4 58.5h5.6v2.7h-5.6zM1192.7 44h5.6v32.6h-5.6zM1209.5 44h5.6v3.7h-5.6zM1215.1 123.6h5.6v38.5h-5.6zM1226.3 123.4h5.6v11.3h-5.6zM1231.9 71.7h5.6v67.8h-5.6zM1237.4 44h5.6v4h-5.6zM1243 44h5.6v3.6h-5.6zM1265.4 58.2h5.6v12.6h-5.6zM1271 63.7h5.6v40.3h-5.6zM1276.6 53.8h5.6v4.2h-5.6zM1282.1 44.6h5.6v65.9h-5.6zM1293.3 49.7h5.6v102.1h-5.6zM1304.5 52.1h5.6v14.3h-5.6zM1321.3 71.5h5.6v6.2h-5.6zM1332.4 49.5h5.6v38.9h-5.6zM1354.8 47.6h5.6v27.5h-5.6zM1371.5 96.8h5.6v2.4h-5.6zM1377.1 44h5.6v20.1h-5.6zM1382.7 54.5h5.6v34.7h-5.6zM1405.1 44h5.6v4.5h-5.6zM1416.3 44h5.6v24.4h-5.6zM1421.8 44h5.6v53.7h-5.6zM1427.4 47.4h5.6v19h-5.6zM1433 61.2h5.6v36.8h-5.6zM1438.6 63.4h5.6v5.6h-5.6zM1449.8 60.5h5.6v5.9h-5.6zM1477.7 44h5.6v11.9h-5.6zM1483.3 44h5.6v14.8h-5.6zM1516.8 44h5.6v32.2h-5.6zM1522.4 47.1h5.6v89.3h-5.6zM1533.6 44h5.6v51.3h-5.6zM1555.9 72.4h5.6v44h-5.6zM1583.9 65.4h5.6v3h-5.6zM1606.2 108.2h5.6v8.8h-5.6zM1623 44h5.6v33.9h-5.6zM1628.6 78.4h5.6v8.6h-5.6zM1634.2 44h5.6v19.4h-5.6z"/>
<path fill="#B2367A" d="M259.6 83.3h5.6v45h-5.6zM276.4 76.5h5.6v2.5h-5.6zM281.9 116.1h5.6v90.4h-5.6zM304.3 122h5.6v3.3h-5.6zM315.5 44h5.6v1.1h-5.6zM410.5 66.9h5.6v3.8h-5.6zM444 119.3h5.6v5.1h-5.6zM499.9 50.8h5.6v13.7h-5.6zM511 76.3h5.6v38.5h-5.6zM667.5 80.1h5.6v14.2h-5.6zM756.9 56.5h5.6v6.9h-5.6zM840.7 80.2h5.6v16.7h-5.6zM851.9 95.9h5.6v2h-5.6zM885.4 50.4h5.6v30.6h-5.6zM902.2 44h5.6v2.2h-5.6zM935.7 47.3h5.6v31.9h-5.6zM963.6 78.6h5.6v19.6h-5.6zM1047.5 101.8h5.6v13.1h-5.6zM1125.7 44h5.6v27.1h-5.6zM1198.3 44h5.6v46.5h-5.6zM1215.1 90.6h5.6v33h-5.6zM1259.8 44h5.6v12.8h-5.6zM1371.5 44h5.6v52.8h-5.6zM1393.9 152h5.6v19.2h-5.6zM1444.2 44h5.6v1.4h-5.6zM1528 82.8h5.6v20.6h-5.6zM1578.3 44h5.6v58.8h-5.6zM1606.2 56.9h5.6v51.3h-5.6zM1650.9 44h5.6v10.3h-5.6z"/>
<path fill="#B23658" d="M254 44h5.6v11h-5.6zM259.6 44h5.6v39.3h-5.6zM265.2 44h5.6v8.2h-5.6zM270.8 44h5.6v16.3h-5.6zM276.4 44h5.6v32.5h-5.6zM281.9 44h5.6v72.1h-5.6zM287.5 44h5.6v3.5h-5.6zM298.7 44h5.6v22.9h-5.6zM304.3 44h5.6v78h-5.6zM349 44h5.6v4.9h-5.6zM354.6 44h5.6v21.5h-5.6zM365.8 44h5.6v56.1h-5.6zM371.3 44h5.6v12.3h-5.6zM376.9 44h5.6v0.4h-5.6zM382.5 44h5.6v51h-5.6zM388.1 44h5.6v4.3h-5.6zM393.7 44h5.6v15.6h-5.6zM410.5 44h5.6v22.9h-5.6zM427.2 44h5.6v52.7h-5.6zM432.8 44h5.6v6.5h-5.6zM444 44h5.6v75.3h-5.6zM449.6 44h5.6v16.7h-5.6zM455.2 44h5.6v16.9h-5.6zM460.7 44h5.6v5.1h-5.6zM466.3 44h5.6v8.6h-5.6zM471.9 44h5.6v14.6h-5.6zM477.5 44h5.6v65.1h-5.6zM483.1 44h5.6v28.4h-5.6zM488.7 44h5.6v8h-5.6zM494.3 44h5.6v68.3h-5.6zM499.9 44h5.6v6.8h-5.6zM505.4 44h5.6v7.4h-5.6zM511 44h5.6v32.3h-5.6zM516.6 44h5.6v18.5h-5.6zM522.2 44h5.6v36h-5.6zM527.8 44h5.6v7.1h-5.6zM539 44h5.6v11.2h-5.6zM555.7 44h5.6v26.6h-5.6zM561.3 44h5.6v48h-5.6zM566.9 44h5.6v2.6h-5.6zM572.5 44h5.6v14.3h-5.6zM578.1 44h5.6v22.8h-5.6zM583.7 44h5.6v0.8h-5.6zM589.3 44h5.6v8.2h-5.6zM594.9 44h5.6v4.9h-5.6zM600.4 44h5.6v6.7h-5.6zM606 44h5.6v1.2h-5.6zM611.6 44h5.6v2.8h-5.6zM622.8 44h5.6v10.1h-5.6zM628.4 44h5.6v4.3h-5.6zM634 44h5.6v10.7h-5.6zM645.1 44h5.6v24.5h-5.6zM650.7 44h5.6v21.8h-5.6zM661.9 44h5.6v43.4h-5.6zM667.5 44h5.6v36.1h-5.6zM689.8 44h5.6v7.1h-5.6zM695.4 44h5.6v37.8h-5.6zM701 44h5.6v12.9h-5.6zM712.2 44h5.6v28.2h-5.6zM717.8 44h5.6v18h-5.6zM723.4 44h5.6v1.8h-5.6zM729 44h5.6v17.5h-5.6zM734.5 44h5.6v7.9h-5.6zM740.1 44h5.6v16h-5.6zM745.7 44h5.6v22.8h-5.6zM751.3 44h5.6v1.7h-5.6zM756.9 44h5.6v12.5h-5.6zM762.5 44h5.6v12.6h-5.6zM779.2 44h5.6v27.3h-5.6zM790.4 44h5.6v31.5h-5.6zM796 44h5.6v33.8h-5.6zM801.6 44h5.6v0.1h-5.6zM807.2 44h5.6v34.8h-5.6zM812.8 44h5.6v22.7h-5.6zM824 44h5.6v45.9h-5.6zM829.5 44h5.6v101.8h-5.6zM840.7 44h5.6v36.2h-5.6zM851.9 44h5.6v51.9h-5.6zM863.1 44h5.6v51.6h-5.6zM868.7 44h5.6v2.2h-5.6zM885.4 44h5.6v6.4h-5.6zM891 44h5.6v6.8h-5.6zM896.6 44h5.6v27h-5.6zM907.8 44h5.6v0.9h-5.6zM913.4 44h5.6v31.3h-5.6zM918.9 44h5.6v7.1h-5.6zM924.5 44h5.6v97.3h-5.6zM930.1 44h5.6v30.7h-5.6zM935.7 44h5.6v3.3h-5.6zM946.9 44h5.6v31.9h-5.6zM952.5 44h5.6v61.6h-5.6zM958.1 44h5.6v11.2h-5.6zM963.6 44h5.6v34.6h-5.6zM991.6 44h5.6v17.4h-5.6zM997.2 44h5.6v42.4h-5.6zM1002.8 44h5.6v5.6h-5.6zM1008.3 44h5.6v14.8h-5.6zM1013.9 44h5.6v15.1h-5.6zM1019.5 44h5.6v19.6h-5.6zM1025.1 44h5.6v3.3h-5.6zM1030.7 44h5.6v30.9h-5.6zM1036.3 44h5.6v10.4h-5.6zM1047.5 44h5.6v57.8h-5.6zM1053 44h5.6v7.6h-5.6zM1058.6 44h5.6v50.7h-5.6zM1064.2 44h5.6v18h-5.6zM1069.8 44h5.6v6.4h-5.6zM1075.4 44h5.6v9.5h-5.6zM1086.6 44h5.6v3.7h-5.6zM1092.2 44h5.6v18.8h-5.6zM1097.7 44h5.6v56.4h-5.6zM1103.3 44h5.6v15.1h-5.6zM1108.9 44h5.6v25.6h-5.6zM1120.1 44h5.6v17.3h-5.6zM1131.3 44h5.6v107.5h-5.6zM1136.9 44h5.6v51.9h-5.6zM1148 44h5.6v26.4h-5.6zM1153.6 44h5.6v0.6h-5.6zM1159.2 44h5.6v6.7h-5.6zM1170.4 44h5.6v14.5h-5.6zM1176 44h5.6v32.4h-5.6zM1187.2 44h5.6v17.6h-5.6zM1203.9 44h5.6v43.6h-5.6zM1215.1 44h5.6v46.6h-5.6zM1220.7 44h5.6v7h-5.6zM1226.3 44h5.6v79.4h-5.6zM1231.9 44h5.6v27.7h-5.6zM1254.2 44h5.6v14.4h-5.6zM1265.4 44h5.6v14.2h-5.6zM1271 44h5.6v19.7h-5.6zM1276.6 44h5.6v9.8h-5.6zM1282.1 44h5.6v0.6h-5.6zM1287.7 44h5.6v42.3h-5.6zM1293.3 44h5.6v5.7h-5.6zM1298.9 44h5.6v3.6h-5.6zM1304.5 44h5.6v8.1h-5.6zM1315.7 44h5.6v17.1h-5.6zM1321.3 44h5.6v27.5h-5.6zM1326.8 44h5.6v6.5h-5.6zM1332.4 44h5.6v5.5h-5.6zM1343.6 44h5.6v28.6h-5.6zM1349.2 44h5.6v20h-5.6zM1354.8 44h5.6v3.6h-5.6zM1366 44h5.6v29.8h-5.6zM1382.7 44h5.6v10.5h-5.6zM1388.3 44h5.6v16.8h-5.6zM1393.9 44h5.6v108h-5.6zM1399.5 44h5.6v10.6h-5.6zM1427.4 44h5.6v3.4h-5.6zM1433 44h5.6v17.2h-5.6zM1438.6 44h5.6v19.4h-5.6zM1449.8 44h5.6v16.5h-5.6zM1455.4 44h5.6v27.1h-5.6zM1461 44h5.6v5.6h-5.6zM1488.9 44h5.6v11.2h-5.6zM1511.2 44h5.6v8.9h-5.6zM1522.4 44h5.6v3.1h-5.6zM1528 44h5.6v38.8h-5.6zM1539.2 44h5.6v33.5h-5.6zM1544.8 44h5.6v16.7h-5.6zM1550.4 44h5.6v25.4h-5.6zM1555.9 44h5.6v28.4h-5.6zM1561.5 44h5.6v2h-5.6zM1567.1 44h5.6v0.5h-5.6zM1572.7 44h5.6v8.6h-5.6zM1583.9 44h5.6v21.4h-5.6zM1595.1 44h5.6v19.9h-5.6zM1600.6 44h5.6v16.4h-5.6zM1606.2 44h5.6v12.9h-5.6zM1611.8 44h5.6v2.8h-5.6zM1628.6 44h5.6v34.4h-5.6zM1645.3 44h5.6v7.8h-5.6zM1662.1 44h5.6v6.2h-5.6z"/>
<path fill="none" stroke="#0a0a0a" stroke-width="2.0" d="M254 44V888M259.6 44V888M265.2 44V888M270.8 44V888M276.4 44V888M281.9 44V888M287.5 44V888M293.1 44V888M298.7 44V888M304.3 44V888M309.9 44V888M315.5 44V888M321.1 44V888M326.6 44V888M332.2 44V888M337.8 44V888M343.4 44V888M349 44V888M354.6 44V888M360.2 44V888M365.8 44V888M371.3 44V888M376.9 44V888M382.5 44V888M388.1 44V888M393.7 44V888M399.3 44V888M404.9 44V888M410.5 44V888M416 44V888M421.6 44V888M427.2 44V888M432.8 44V888M438.4 44V888M444 44V888M449.6 44V888M455.2 44V888M460.7 44V888M466.3 44V888M471.9 44V888M477.5 44V888M483.1 44V888M488.7 44V888M494.3 44V888M499.9 44V888M505.4 44V888M511 44V888M516.6 44V888M522.2 44V888M527.8 44V888M533.4 44V888M539 44V888M544.6 44V888M550.2 44V888M555.7 44V888M561.3 44V888M566.9 44V888M572.5 44V888M578.1 44V888M583.7 44V888M589.3 44V888M594.9 44V888M600.4 44V888M606 44V888M611.6 44V888M617.2 44V888M622.8 44V888M628.4 44V888M634 44V888M639.6 44V888M645.1 44V888M650.7 44V888M656.3 44V888M661.9 44V888M667.5 44V888M673.1 44V888M678.7 44V888M684.3 44V888M689.8 44V888M695.4 44V888M701 44V888M706.6 44V888M712.2 44V888M717.8 44V888M723.4 44V888M729 44V888M734.5 44V888M740.1 44V888M745.7 44V888M751.3 44V888M756.9 44V888M762.5 44V888M768.1 44V888M773.7 44V888M779.2 44V888M784.8 44V888M790.4 44V888M796 44V888M801.6 44V888M807.2 44V888M812.8 44V888M818.4 44V888M824 44V888M829.5 44V888M835.1 44V888M840.7 44V888M846.3 44V888M851.9 44V888M857.5 44V888M863.1 44V888M868.7 44V888M874.2 44V888M879.8 44V888M885.4 44V888M891 44V888M896.6 44V888M902.2 44V888M907.8 44V888M913.4 44V888M918.9 44V888M924.5 44V888M930.1 44V888M935.7 44V888M941.3 44V888M946.9 44V888M952.5 44V888M958.1 44V888M963.6 44V888M969.2 44V888M974.8 44V888M980.4 44V888M986 44V888M991.6 44V888M997.2 44V888M1002.8 44V888M1008.3 44V888M1013.9 44V888M1019.5 44V888M1025.1 44V888M1030.7 44V888M1036.3 44V888M1041.9 44V888M1047.5 44V888M1053 44V888M1058.6 44V888M1064.2 44V888M1069.8 44V888M1075.4 44V888M1081 44V888M1086.6 44V888M1092.2 44V888M1097.7 44V888M1103.3 44V888M1108.9 44V888M1114.5 44V888M1120.1 44V888M1125.7 44V888M1131.3 44V888M1136.9 44V888M1142.5 44V888M1148 44V888M1153.6 44V888M1159.2 44V888M1164.8 44V888M1170.4 44V888M1176 44V888M1181.6 44V888M1187.2 44V888M1192.7 44V888M1198.3 44V888M1203.9 44V888M1209.5 44V888M1215.1 44V888M1220.7 44V888M1226.3 44V888M1231.9 44V888M1237.4 44V888M1243 44V888M1248.6 44V888M1254.2 44V888M1259.8 44V888M1265.4 44V888M1271 44V888M1276.6 44V888M1282.1 44V888M1287.7 44V888M1293.3 44V888M1298.9 44V888M1304.5 44V888M1310.1 44V888M1315.7 44V888M1321.3 44V888M1326.8 44V888M1332.4 44V888M1338 44V888M1343.6 44V888M1349.2 44V888M1354.8 44V888M1360.4 44V888M1366 44V888M1371.5 44V888M1377.1 44V888M1382.7 44V888M1388.3 44V888M1393.9 44V888M1399.5 44V888M1405.1 44V888M1410.7 44V888M1416.3 44V888M1421.8 44V888M1427.4 44V888M1433 44V888M1438.6 44V888M1444.2 44V888M1449.8 44V888M1455.4 44V888M1461 44V888M1466.5 44V888M1472.1 44V888M1477.7 44V888M1483.3 44V888M1488.9 44V888M1494.5 44V888M1500.1 44V888M1505.7 44V888M1511.2 44V888M1516.8 44V888M1522.4 44V888M1528 44V888M1533.6 44V888M1539.2 44V888M1544.8 44V888M1550.4 44V888M1555.9 44V888M1561.5 44V888M1567.1 44V888M1572.7 44V888M1578.3 44V888M1583.9 44V888M1589.5 44V888M1595.1 44V888M1600.6 44V888M1606.2 44V888M1611.8 44V888M1617.4 44V888M1623 44V888M1628.6 44V888M1634.2 44V888M1639.8 44V888M1645.3 44V888M1650.9 44V888M1656.5 44V888M1662.1 44V888M1667.7 44V888"/>
<path fill="none" stroke="#0a0a0a" stroke-width="1.45" d="M254 55h5.6M254 75.9h5.6M254 119.8h5.6M254 166h5.6M254 246.9h5.6M254 365.6h5.6M254 368.5h5.6M254 429.8h5.6M254 489.2h5.6M254 604.1h5.6M254 640.3h5.6M254 818h5.6M259.6 83.3h5.6M259.6 128.3h5.6M259.6 266.6h5.6M259.6 297.7h5.6M259.6 487.9h5.6M259.6 647.2h5.6M259.6 650h5.6M259.6 669.5h5.6M259.6 873.6h5.6M259.6 879h5.6M259.6 886.9h5.6M265.2 52.2h5.6M265.2 55.5h5.6M265.2 80.3h5.6M265.2 471h5.6M265.2 495.5h5.6M265.2 663.8h5.6M265.2 674.5h5.6M265.2 716.9h5.6M265.2 736.1h5.6M265.2 764.7h5.6M265.2 792.3h5.6M265.2 886.2h5.6M270.8 60.3h5.6M270.8 71.5h5.6M270.8 73.6h5.6M270.8 161.6h5.6M270.8 216.7h5.6M270.8 591.9h5.6M270.8 605h5.6M270.8 658.3h5.6M270.8 694h5.6M270.8 698h5.6M270.8 822.2h5.6M270.8 828.8h5.6M270.8 884.3h5.6M276.4 76.5h5.6M276.4 78.9h5.6M276.4 196.5h5.6M276.4 288.9h5.6M276.4 521.2h5.6M276.4 559.7h5.6M276.4 577.4h5.6M276.4 602.4h5.6M276.4 614.6h5.6M276.4 634.6h5.6M276.4 681.5h5.6M276.4 775.4h5.6M276.4 857.4h5.6M281.9 116.1h5.6M281.9 206.5h5.6M281.9 248.6h5.6M281.9 376.1h5.6M281.9 468.1h5.6M281.9 534.7h5.6M281.9 584.1h5.6M281.9 610.6h5.6M281.9 670.5h5.6M281.9 723.6h5.6M281.9 737.4h5.6M281.9 855.8h5.6M281.9 867.8h5.6M287.5 47.5h5.6M287.5 82.9h5.6M287.5 272.9h5.6M287.5 318h5.6M287.5 446h5.6M287.5 476h5.6M287.5 500.4h5.6M287.5 541.1h5.6M287.5 601h5.6M287.5 606h5.6M287.5 733.4h5.6M287.5 766.9h5.6M293.1 44h5.6M293.1 77.3h5.6M293.1 85.8h5.6M293.1 125.2h5.6M293.1 189.5h5.6M293.1 400.7h5.6M293.1 464.5h5.6M293.1 479.5h5.6M293.1 550.3h5.6M293.1 578.9h5.6M293.1 612.1h5.6M293.1 886.5h5.6M298.7 66.9h5.6M298.7 74.1h5.6M298.7 93.2h5.6M298.7 127.2h5.6M298.7 244.2h5.6M298.7 262.6h5.6M298.7 530.5h5.6M298.7 570.4h5.6M298.7 584.1h5.6M298.7 604.6h5.6M298.7 667.6h5.6M298.7 761h5.6M298.7 777h5.6M304.3 122h5.6M304.3 125.3h5.6M304.3 146.5h5.6M304.3 168.7h5.6M304.3 182.8h5.6M304.3 215.1h5.6M304.3 233.7h5.6M304.3 279.4h5.6M304.3 412.3h5.6M304.3 627.4h5.6M304.3 679.8h5.6M304.3 781.2h5.6M304.3 830.2h5.6M309.9 44h5.6M309.9 60.2h5.6M309.9 228.8h5.6M309.9 352.4h5.6M309.9 597.1h5.6M309.9 677.4h5.6M309.9 731.5h5.6M309.9 765.5h5.6M309.9 849.4h5.6M309.9 872.2h5.6M315.5 44h5.6M315.5 45.1h5.6M315.5 52.4h5.6M315.5 121.5h5.6M315.5 138h5.6M315.5 215.6h5.6M315.5 228.1h5.6M315.5 276.4h5.6M315.5 287.3h5.6M315.5 320h5.6M315.5 325.8h5.6M315.5 352.6h5.6M315.5 396.1h5.6M315.5 421h5.6M315.5 434.2h5.6M315.5 542.9h5.6M315.5 706.2h5.6M321.1 44h5.6M321.1 187.9h5.6M321.1 264.5h5.6M321.1 279.3h5.6M321.1 316.5h5.6M321.1 349.3h5.6M321.1 350.6h5.6M321.1 377h5.6M321.1 404.3h5.6M321.1 425.3h5.6M321.1 607.1h5.6M321.1 661.5h5.6M321.1 806.3h5.6M321.1 864.8h5.6M326.6 44h5.6M326.6 73.2h5.6M326.6 100.6h5.6M326.6 103.7h5.6M326.6 110.2h5.6M326.6 254.9h5.6M326.6 343.9h5.6M326.6 473.6h5.6M326.6 486.8h5.6M326.6 491.9h5.6M326.6 729.9h5.6M326.6 840.4h5.6M326.6 877.3h5.6M332.2 44h5.6M332.2 47.3h5.6M332.2 86.7h5.6M332.2 217.9h5.6M332.2 370.5h5.6M332.2 643.1h5.6M332.2 655.4h5.6M332.2 672.2h5.6M332.2 678.3h5.6M332.2 773.6h5.6M332.2 828.8h5.6M332.2 839.1h5.6M332.2 878.3h5.6M337.8 44h5.6M337.8 204.4h5.6M337.8 261.6h5.6M337.8 298.5h5.6M337.8 342.9h5.6M337.8 388.3h5.6M337.8 408.9h5.6M337.8 444.2h5.6M337.8 489.3h5.6M337.8 526.7h5.6M337.8 797.7h5.6M337.8 877.8h5.6M343.4 44h5.6M343.4 80.3h5.6M343.4 92.1h5.6M343.4 134.4h5.6M343.4 237.9h5.6M343.4 288.4h5.6M343.4 293.2h5.6M343.4 294.5h5.6M343.4 321.2h5.6M343.4 624.3h5.6M343.4 816h5.6M343.4 878.9h5.6M349 48.9h5.6M349 94.4h5.6M349 99.7h5.6M349 184h5.6M349 501.6h5.6M349 535.7h5.6M349 664.1h5.6M349 669.9h5.6M349 701.5h5.6M349 782.1h5.6M349 783.1h5.6M349 805.2h5.6M349 832.7h5.6M349 847h5.6M354.6 65.5h5.6M354.6 65.6h5.6M354.6 72h5.6M354.6 91.6h5.6M354.6 197.8h5.6M354.6 239h5.6M354.6 409h5.6M354.6 421.1h5.6M354.6 533.7h5.6M354.6 558.3h5.6M354.6 567.9h5.6M354.6 639.9h5.6M354.6 699.5h5.6M354.6 805.1h5.6M360.2 44h5.6M360.2 74.8h5.6M360.2 108.3h5.6M360.2 150.4h5.6M360.2 458h5.6M360.2 562.7h5.6M360.2 565.8h5.6M360.2 568.4h5.6M360.2 571.5h5.6M360.2 576.1h5.6M360.2 588h5.6M360.2 620.8h5.6M360.2 693.6h5.6M360.2 727.6h5.6M360.2 856.3h5.6M360.2 887.8h5.6M365.8 100.1h5.6M365.8 122.1h5.6M365.8 142.3h5.6M365.8 311h5.6M365.8 424.5h5.6M365.8 447.4h5.6M365.8 504.7h5.6M365.8 515h5.6M365.8 523.5h5.6M365.8 541.8h5.6M365.8 674.2h5.6M365.8 778h5.6M365.8 849h5.6M371.3 56.3h5.6M371.3 99.3h5.6M371.3 161.8h5.6M371.3 205.7h5.6M371.3 260.5h5.6M371.3 292.2h5.6M371.3 461.5h5.6M371.3 490h5.6M371.3 491.8h5.6M371.3 584.6h5.6M371.3 745.9h5.6M371.3 769.8h5.6M371.3 815.5h5.6M371.3 861.1h5.6M376.9 44.4h5.6M376.9 46.1h5.6M376.9 108.5h5.6M376.9 244.3h5.6M376.9 383.8h5.6M376.9 432.4h5.6M376.9 469.3h5.6M376.9 489.6h5.6M376.9 497.4h5.6M376.9 536.9h5.6M376.9 816.3h5.6M376.9 832.9h5.6M376.9 846.9h5.6M382.5 95h5.6M382.5 229h5.6M382.5 287.5h5.6M382.5 354.2h5.6M382.5 555.6h5.6M382.5 568h5.6M382.5 637.3h5.6M382.5 667.7h5.6M382.5 729.3h5.6M382.5 812.5h5.6M382.5 819.6h5.6M382.5 864.2h5.6M388.1 48.3h5.6M388.1 168.9h5.6M388.1 216.9h5.6M388.1 217.4h5.6M388.1 287.9h5.6M388.1 347.8h5.6M388.1 532.4h5.6M388.1 545.8h5.6M388.1 552.2h5.6M388.1 564.8h5.6M388.1 579.7h5.6M388.1 613.3h5.6M388.1 684.8h5.6M388.1 800h5.6M388.1 813.3h5.6M388.1 860.7h5.6M388.1 871.9h5.6M393.7 59.6h5.6M393.7 93.5h5.6M393.7 124.4h5.6M393.7 178.7h5.6M393.7 218h5.6M393.7 531.4h5.6M393.7 555.5h5.6M393.7 643.5h5.6M393.7 659.1h5.6M393.7 680.6h5.6M393.7 865.4h5.6M393.7 880.2h5.6M393.7 887.6h5.6M399.3 44h5.6M399.3 113.4h5.6M399.3 201.7h5.6M399.3 235.4h5.6M399.3 326.6h5.6M399.3 558.7h5.6M399.3 569.6h5.6M399.3 571.6h5.6M399.3 580.3h5.6M399.3 631.7h5.6M399.3 657h5.6M399.3 665.6h5.6M399.3 683.4h5.6M399.3 714h5.6M399.3 801.2h5.6M399.3 809.5h5.6M404.9 44h5.6M404.9 53h5.6M404.9 103h5.6M404.9 136.6h5.6M404.9 161.3h5.6M404.9 415.7h5.6M404.9 436.5h5.6M404.9 455.8h5.6M404.9 460.4h5.6M404.9 518.6h5.6M404.9 627.4h5.6M404.9 792.5h5.6M404.9 813.5h5.6M410.5 66.9h5.6M410.5 70.7h5.6M410.5 94.1h5.6M410.5 137.7h5.6M410.5 221.5h5.6M410.5 307.7h5.6M410.5 372.4h5.6M410.5 422.8h5.6M410.5 458.1h5.6M410.5 538.7h5.6M410.5 584.1h5.6M410.5 637.4h5.6M410.5 717.9h5.6M410.5 757.1h5.6M410.5 770.3h5.6M416 44h5.6M416 74.1h5.6M416 183.8h5.6M416 413.4h5.6M416 517.2h5.6M416 588.1h5.6M416 591.3h5.6M416 594.9h5.6M416 626.6h5.6M416 659.8h5.6M416 816.9h5.6M416 839.9h5.6M416 860.5h5.6M421.6 44h5.6M421.6 138.3h5.6M421.6 223.6h5.6M421.6 249.6h5.6M421.6 297h5.6M421.6 298.7h5.6M421.6 588.1h5.6M421.6 594.9h5.6M421.6 619.2h5.6M421.6 628.5h5.6M421.6 649.6h5.6M421.6 657.4h5.6M421.6 865.6h5.6M427.2 96.7h5.6M427.2 151.6h5.6M427.2 224.1h5.6M427.2 368.4h5.6M427.2 570.4h5.6M427.2 607.9h5.6M427.2 615.7h5.6M427.2 631.6h5.6M427.2 676.3h5.6M427.2 701.2h5.6M427.2 804.8h5.6M427.2 808.3h5.6M432.8 50.5h5.6M432.8 81.1h5.6M432.8 103.9h5.6M432.8 149.2h5.6M432.8 559.8h5.6M432.8 559.9h5.6M432.8 594h5.6M432.8 601.9h5.6M432.8 641.8h5.6M432.8 645h5.6M432.8 711.8h5.6M432.8 789.6h5.6M432.8 833h5.6M438.4 44h5.6M438.4 57h5.6M438.4 118.4h5.6M438.4 239.8h5.6M438.4 307.6h5.6M438.4 395.3h5.6M438.4 400.5h5.6M438.4 408.6h5.6M438.4 427.6h5.6M438.4 458.4h5.6M438.4 536.6h5.6M438.4 702.5h5.6M438.4 714h5.6M438.4 741.9h5.6M444 119.3h5.6M444 124.4h5.6M444 135.9h5.6M444 254.9h5.6M444 374.9h5.6M444 417.7h5.6M444 437.4h5.6M444 440.5h5.6M444 512.5h5.6M444 537.4h5.6M444 598.9h5.6M444 696.5h5.6M449.6 60.7h5.6M449.6 71.4h5.6M449.6 155.9h5.6M449.6 186.4h5.6M449.6 188.7h5.6M449.6 585h5.6M449.6 604.2h5.6M449.6 609.7h5.6M449.6 652.7h5.6M449.6 663.2h5.6M449.6 752.8h5.6M449.6 770.2h5.6M449.6 778.1h5.6M449.6 846.7h5.6M449.6 854.9h5.6M455.2 60.9h5.6M455.2 157.7h5.6M455.2 159.8h5.6M455.2 194.2h5.6M455.2 252.5h5.6M455.2 602.2h5.6M455.2 618.5h5.6M455.2 634.3h5.6M455.2 643.3h5.6M455.2 675.4h5.6M455.2 707.3h5.6M455.2 736.2h5.6M455.2 763.4h5.6M455.2 787.4h5.6M455.2 818.9h5.6M455.2 830.9h5.6M460.7 49.1h5.6M460.7 82h5.6M460.7 144.4h5.6M460.7 161h5.6M460.7 201.9h5.6M460.7 290.4h5.6M460.7 293.4h5.6M460.7 323.3h5.6M460.7 372h5.6M460.7 400h5.6M460.7 491.3h5.6M460.7 662h5.6M466.3 52.6h5.6M466.3 79.1h5.6M466.3 147.6h5.6M466.3 233.9h5.6M466.3 283.2h5.6M466.3 287.1h5.6M466.3 301.4h5.6M466.3 352.6h5.6M466.3 360.3h5.6M466.3 670.3h5.6M466.3 673.2h5.6M466.3 696.5h5.6M471.9 58.6h5.6M471.9 66.5h5.6M471.9 72.3h5.6M471.9 162.9h5.6M471.9 204.8h5.6M471.9 230.2h5.6M471.9 276.5h5.6M471.9 277h5.6M471.9 340.4h5.6M471.9 630.5h5.6M471.9 763.3h5.6M471.9 832.9h5.6M477.5 109.1h5.6M477.5 110.7h5.6M477.5 150.6h5.6M477.5 233.5h5.6M477.5 257.4h5.6M477.5 446.6h5.6M477.5 454h5.6M477.5 471.1h5.6M477.5 520.5h5.6M477.5 699h5.6M477.5 800.4h5.6M477.5 845.2h5.6M483.1 72.4h5.6M483.1 125.5h5.6M483.1 147.6h5.6M483.1 181.3h5.6M483.1 225.7h5.6M483.1 246.1h5.6M483.1 352.8h5.6M483.1 408.8h5.6M483.1 457.5h5.6M483.1 525.9h5.6M483.1 755.9h5.6M483.1 758.5h5.6M483.1 800.2h5.6M483.1 802.6h5.6M483.1 829.6h5.6M488.7 52h5.6M488.7 64.5h5.6M488.7 136h5.6M488.7 210h5.6M488.7 263.9h5.6M488.7 265.5h5.6M488.7 283.8h5.6M488.7 315.2h5.6M488.7 389.3h5.6M488.7 537.4h5.6M488.7 700.7h5.6M494.3 112.3h5.6M494.3 154.2h5.6M494.3 164.7h5.6M494.3 211.2h5.6M494.3 253.1h5.6M494.3 310.6h5.6M494.3 377.9h5.6M494.3 386.2h5.6M494.3 420.9h5.6M494.3 474.6h5.6M494.3 491.8h5.6M494.3 513.3h5.6M494.3 805h5.6M499.9 50.8h5.6M499.9 64.5h5.6M499.9 110.2h5.6M499.9 159.4h5.6M499.9 210.2h5.6M499.9 233.7h5.6M499.9 383.9h5.6M499.9 429h5.6M499.9 469.5h5.6M499.9 524.4h5.6M499.9 551.9h5.6M499.9 723.8h5.6M499.9 760.8h5.6M499.9 803.5h5.6M505.4 51.4h5.6M505.4 99.5h5.6M505.4 116.7h5.6M505.4 161.8h5.6M505.4 180.6h5.6M505.4 302.6h5.6M505.4 356.1h5.6M505.4 599.4h5.6M505.4 608.7h5.6M505.4 634.8h5.6M505.4 650.3h5.6M505.4 680.1h5.6M505.4 683.7h5.6M505.4 722.7h5.6M505.4 785.1h5.6M505.4 830.2h5.6M505.4 883.3h5.6M511 76.3h5.6M511 114.8h5.6M511 203.8h5.6M511 205.8h5.6M511 209.4h5.6M511 245.9h5.6M511 508.1h5.6M511 520.5h5.6M511 554h5.6M511 602.4h5.6M511 645.4h5.6M511 707.7h5.6M511 810.2h5.6M511 850.1h5.6M516.6 62.5h5.6M516.6 178.6h5.6M516.6 198.4h5.6M516.6 341.5h5.6M516.6 397.5h5.6M516.6 529.7h5.6M516.6 545.3h5.6M516.6 547.9h5.6M516.6 617.6h5.6M516.6 640.4h5.6M516.6 645.5h5.6M516.6 659.6h5.6M516.6 675.6h5.6M516.6 710.6h5.6M516.6 770.5h5.6M516.6 823.7h5.6M516.6 837.3h5.6M522.2 80h5.6M522.2 185.6h5.6M522.2 223.8h5.6M522.2 297.9h5.6M522.2 305.1h5.6M522.2 338.9h5.6M522.2 349.8h5.6M522.2 395.3h5.6M522.2 428.6h5.6M522.2 735.8h5.6M522.2 797.4h5.6M522.2 800.3h5.6M527.8 51.1h5.6M527.8 77.7h5.6M527.8 155.7h5.6M527.8 194.4h5.6M527.8 225.8h5.6M527.8 245.3h5.6M527.8 434.8h5.6M527.8 534.9h5.6M527.8 545h5.6M527.8 724.9h5.6M527.8 843.4h5.6M527.8 871.3h5.6M527.8 876.2h5.6M533.4 44h5.6M533.4 85.9h5.6M533.4 91.8h5.6M533.4 227.6h5.6M533.4 256.8h5.6M533.4 473.5h5.6M533.4 573.2h5.6M533.4 627.7h5.6M533.4 641.2h5.6M533.4 671.6h5.6M533.4 701h5.6M533.4 725.8h5.6M533.4 801.1h5.6M533.4 810.1h5.6M539 55.2h5.6M539 170h5.6M539 196.9h5.6M539 206.1h5.6M539 209.6h5.6M539 250.5h5.6M539 289.1h5.6M539 328h5.6M539 337.8h5.6M539 632.4h5.6M539 814h5.6M539 827.8h5.6M544.6 44h5.6M544.6 64.7h5.6M544.6 66.6h5.6M544.6 151.1h5.6M544.6 463.8h5.6M544.6 531.6h5.6M544.6 564.6h5.6M544.6 592.3h5.6M544.6 601.6h5.6M544.6 659.1h5.6M544.6 666.9h5.6M550.2 44h5.6M550.2 64.8h5.6M550.2 88.7h5.6M550.2 112.4h5.6M550.2 333.5h5.6M550.2 389.2h5.6M550.2 400.8h5.6M550.2 401.3h5.6M550.2 448.2h5.6M550.2 799.3h5.6M550.2 870.8h5.6M555.7 70.6h5.6M555.7 133.1h5.6M555.7 222.5h5.6M555.7 280h5.6M555.7 512.4h5.6M555.7 536.2h5.6M555.7 571.3h5.6M555.7 581.8h5.6M555.7 598.1h5.6M555.7 645.4h5.6M555.7 680.9h5.6M555.7 774.4h5.6M555.7 838.2h5.6M555.7 839.7h5.6M561.3 92h5.6M561.3 346.3h5.6M561.3 349h5.6M561.3 381.5h5.6M561.3 607.4h5.6M561.3 681.5h5.6M561.3 684.8h5.6M561.3 685.2h5.6M561.3 699.3h5.6M561.3 767.8h5.6M561.3 818h5.6M561.3 867.4h5.6M566.9 46.6h5.6M566.9 78.9h5.6M566.9 122.7h5.6M566.9 201.6h5.6M566.9 433.2h5.6M566.9 544.9h5.6M566.9 560h5.6M566.9 624.1h5.6M566.9 689.8h5.6M566.9 713.6h5.6M566.9 722.5h5.6M566.9 744.3h5.6M572.5 58.3h5.6M572.5 85.8h5.6M572.5 113h5.6M572.5 118.3h5.6M572.5 543.9h5.6M572.5 610.9h5.6M572.5 640.9h5.6M572.5 651h5.6M572.5 665.9h5.6M572.5 698.4h5.6M572.5 751.7h5.6M572.5 862h5.6M572.5 876.4h5.6M578.1 66.8h5.6M578.1 118.8h5.6M578.1 249.8h5.6M578.1 286.9h5.6M578.1 290.5h5.6M578.1 403.7h5.6M578.1 615.6h5.6M578.1 625.7h5.6M578.1 631.6h5.6M578.1 638.8h5.6M578.1 654.1h5.6M578.1 706h5.6M578.1 724h5.6M578.1 729.5h5.6M583.7 44.8h5.6M583.7 103.6h5.6M583.7 164.5h5.6M583.7 203.2h5.6M583.7 222.2h5.6M583.7 339.9h5.6M583.7 351.3h5.6M583.7 359.2h5.6M583.7 360.6h5.6M583.7 380.9h5.6M583.7 503.4h5.6M583.7 527.1h5.6M583.7 540.9h5.6M583.7 725.4h5.6M589.3 52.2h5.6M589.3 55.2h5.6M589.3 185.9h5.6M589.3 342.5h5.6M589.3 399.2h5.6M589.3 406.6h5.6M589.3 545h5.6M589.3 764.8h5.6M589.3 785.7h5.6M589.3 881.8h5.6M594.9 48.9h5.6M594.9 93.2h5.6M594.9 188.7h5.6M594.9 211.2h5.6M594.9 346.9h5.6M594.9 355.5h5.6M594.9 394.7h5.6M594.9 438.5h5.6M594.9 494.2h5.6M594.9 495.6h5.6M594.9 593.8h5.6M594.9 679.2h5.6M594.9 799.2h5.6M594.9 830.9h5.6M600.4 50.7h5.6M600.4 75.8h5.6M600.4 246.4h5.6M600.4 254.7h5.6M600.4 301.5h5.6M600.4 325.6h5.6M600.4 325.7h5.6M600.4 370.8h5.6M600.4 458.4h5.6M600.4 612.5h5.6M600.4 618.2h5.6M600.4 819.9h5.6M606 45.2h5.6M606 116.4h5.6M606 325.7h5.6M606 452.8h5.6M606 556.2h5.6M606 556.4h5.6M606 583.7h5.6M606 607.5h5.6M606 697.6h5.6M606 832.3h5.6M606 863.8h5.6M606 873.8h5.6M611.6 46.8h5.6M611.6 59.2h5.6M611.6 102.1h5.6M611.6 124.4h5.6M611.6 130.7h5.6M611.6 334.4h5.6M611.6 374.6h5.6M611.6 460.7h5.6M611.6 475.4h5.6M611.6 479.4h5.6M611.6 626.3h5.6M611.6 830.5h5.6M611.6 853.1h5.6M611.6 858.1h5.6M611.6 860.2h5.6M617.2 44h5.6M617.2 228.2h5.6M617.2 239.3h5.6M617.2 344.2h5.6M617.2 395.7h5.6M617.2 482.9h5.6M617.2 488.1h5.6M617.2 551.8h5.6M617.2 607h5.6M617.2 608.8h5.6M617.2 676.1h5.6M617.2 717.5h5.6M617.2 819.6h5.6M617.2 845.2h5.6M622.8 54.1h5.6M622.8 189h5.6M622.8 198.3h5.6M622.8 236h5.6M622.8 239h5.6M622.8 261.8h5.6M622.8 501.5h5.6M622.8 525.2h5.6M622.8 621.1h5.6M622.8 638.7h5.6M622.8 704.3h5.6M622.8 756.4h5.6M622.8 774.2h5.6M622.8 824h5.6M622.8 827.6h5.6M628.4 48.3h5.6M628.4 344.8h5.6M628.4 356.7h5.6M628.4 454.7h5.6M628.4 526.6h5.6M628.4 542.6h5.6M628.4 564.2h5.6M628.4 644.7h5.6M628.4 693.5h5.6M628.4 716.9h5.6M628.4 864.5h5.6M634 54.7h5.6M634 127h5.6M634 224.5h5.6M634 592h5.6M634 610h5.6M634 664.5h5.6M634 700.7h5.6M634 733.6h5.6M634 803.2h5.6M634 873.2h5.6M639.6 44h5.6M639.6 95.4h5.6M639.6 106.3h5.6M639.6 176.1h5.6M639.6 210.1h5.6M639.6 402.5h5.6M639.6 403.6h5.6M639.6 420.6h5.6M639.6 441.9h5.6M639.6 459h5.6M639.6 465.2h5.6M639.6 766.8h5.6M639.6 777.1h5.6M645.1 68.5h5.6M645.1 248.1h5.6M645.1 260h5.6M645.1 274.5h5.6M645.1 353.9h5.6M645.1 380.1h5.6M645.1 381.3h5.6M645.1 536.6h5.6M645.1 632.4h5.6M645.1 645.8h5.6M645.1 769.9h5.6M645.1 798.4h5.6M650.7 65.8h5.6M650.7 85.1h5.6M650.7 172.3h5.6M650.7 212.3h5.6M650.7 279.5h5.6M650.7 395.3h5.6M650.7 407.5h5.6M650.7 457.9h5.6M650.7 488.8h5.6M650.7 539.3h5.6M650.7 603.4h5.6M650.7 759.5h5.6M650.7 803h5.6M650.7 866.1h5.6M656.3 44h5.6M656.3 159.9h5.6M656.3 178.1h5.6M656.3 268.6h5.6M656.3 443.4h5.6M656.3 477.2h5.6M656.3 493h5.6M656.3 517.7h5.6M656.3 555.9h5.6M656.3 559.4h5.6M656.3 665.1h5.6M656.3 689.7h5.6M656.3 784.5h5.6M656.3 784.8h5.6M661.9 87.4h5.6M661.9 133.5h5.6M661.9 408.4h5.6M661.9 562.5h5.6M661.9 573.9h5.6M661.9 588.2h5.6M661.9 591.6h5.6M661.9 593.5h5.6M661.9 595.4h5.6M661.9 732.9h5.6M661.9 751.3h5.6M661.9 766h5.6M661.9 864.3h5.6M667.5 80.1h5.6M667.5 94.3h5.6M667.5 155h5.6M667.5 179.1h5.6M667.5 307.5h5.6M667.5 350.3h5.6M667.5 414.4h5.6M667.5 562.8h5.6M667.5 573.8h5.6M667.5 584.7h5.6M667.5 617.4h5.6M667.5 674.6h5.6M667.5 715.4h5.6M667.5 823.8h5.6M667.5 837.5h5.6M667.5 866.2h5.6M673.1 44h5.6M673.1 168.1h5.6M673.1 169.6h5.6M673.1 240.8h5.6M673.1 256.4h5.6M673.1 673.7h5.6M673.1 696.6h5.6M673.1 703h5.6M673.1 767.5h5.6M673.1 791.1h5.6M673.1 863.7h5.6M673.1 877.3h5.6M678.7 44h5.6M678.7 79.6h5.6M678.7 148.2h5.6M678.7 254.4h5.6M678.7 367.6h5.6M678.7 378.5h5.6M678.7 409.4h5.6M678.7 412h5.6M678.7 442.6h5.6M678.7 680.4h5.6M678.7 745.8h5.6M678.7 865.6h5.6M678.7 869.1h5.6M678.7 881.3h5.6M684.3 44h5.6M684.3 123.7h5.6M684.3 139.8h5.6M684.3 373.3h5.6M684.3 401.9h5.6M684.3 496.7h5.6M684.3 498.7h5.6M684.3 516h5.6M684.3 551.8h5.6M684.3 615.7h5.6M684.3 622.1h5.6M684.3 680.8h5.6M684.3 837.1h5.6M684.3 853.3h5.6M689.8 51.1h5.6M689.8 69.2h5.6M689.8 135.7h5.6M689.8 240.7h5.6M689.8 320.1h5.6M689.8 421.2h5.6M689.8 467.7h5.6M689.8 482h5.6M689.8 541.5h5.6M689.8 555.9h5.6M689.8 596.9h5.6M689.8 630.1h5.6M689.8 767.5h5.6M689.8 857.4h5.6M689.8 878.8h5.6M695.4 81.8h5.6M695.4 89.9h5.6M695.4 146h5.6M695.4 155.3h5.6M695.4 185.1h5.6M695.4 508.5h5.6M695.4 548.5h5.6M695.4 570h5.6M695.4 593.9h5.6M695.4 616.7h5.6M695.4 625.8h5.6M695.4 803.5h5.6M695.4 813.2h5.6M695.4 820.5h5.6M701 56.9h5.6M701 103.5h5.6M701 182.6h5.6M701 201.1h5.6M701 222.4h5.6M701 245.7h5.6M701 288h5.6M701 348.3h5.6M701 384.3h5.6M701 423h5.6M701 459.1h5.6M701 475.1h5.6M701 565.2h5.6M701 691.5h5.6M701 762.2h5.6M706.6 44h5.6M706.6 72.2h5.6M706.6 96h5.6M706.6 148.7h5.6M706.6 170.4h5.6M706.6 245.2h5.6M706.6 369.1h5.6M706.6 479.1h5.6M706.6 502.3h5.6M706.6 509.7h5.6M706.6 591.1h5.6M706.6 622.9h5.6M706.6 695.8h5.6M706.6 756.1h5.6M706.6 819h5.6M706.6 852.5h5.6M712.2 72.2h5.6M712.2 133.7h5.6M712.2 147.7h5.6M712.2 159.8h5.6M712.2 218.5h5.6M712.2 282.7h5.6M712.2 284.5h5.6M712.2 329.9h5.6M712.2 391.7h5.6M712.2 431.6h5.6M712.2 478.4h5.6M712.2 660.4h5.6M712.2 833.7h5.6M712.2 868h5.6M712.2 887.1h5.6M717.8 62h5.6M717.8 70.4h5.6M717.8 90h5.6M717.8 117.6h5.6M717.8 229.1h5.6M717.8 544h5.6M717.8 554.7h5.6M717.8 564.6h5.6M717.8 621h5.6M717.8 630.9h5.6M717.8 833.5h5.6M717.8 840.2h5.6M717.8 861.1h5.6M723.4 45.8h5.6M723.4 218.9h5.6M723.4 225.9h5.6M723.4 248.7h5.6M723.4 294.2h5.6M723.4 324.2h5.6M723.4 623.7h5.6M723.4 663.9h5.6M723.4 686.9h5.6M723.4 722.2h5.6M723.4 826.9h5.6M723.4 845.3h5.6M729 61.5h5.6M729 73.9h5.6M729 84.2h5.6M729 88.9h5.6M729 248.2h5.6M729 255h5.6M729 375.1h5.6M729 377h5.6M729 410.6h5.6M729 428.2h5.6M729 603.2h5.6M729 613.3h5.6M729 729.6h5.6M729 736.4h5.6M734.5 51.9h5.6M734.5 75.2h5.6M734.5 79.6h5.6M734.5 94.7h5.6M734.5 172.9h5.6M734.5 286.5h5.6M734.5 316h5.6M734.5 331.4h5.6M734.5 387.5h5.6M734.5 516.8h5.6M734.5 532.7h5.6M734.5 600.6h5.6M734.5 620.4h5.6M734.5 657.2h5.6M734.5 829.4h5.6M740.1 60h5.6M740.1 184.8h5.6M740.1 221.5h5.6M740.1 238.5h5.6M740.1 247.4h5.6M740.1 261.2h5.6M740.1 342.5h5.6M740.1 365.7h5.6M740.1 366.3h5.6M740.1 491.4h5.6M740.1 676.9h5.6M740.1 745.3h5.6M740.1 807.7h5.6M745.7 66.8h5.6M745.7 71.5h5.6M745.7 106.5h5.6M745.7 109.6h5.6M745.7 238.2h5.6M745.7 401.6h5.6M745.7 418.4h5.6M745.7 448.8h5.6M745.7 449.9h5.6M745.7 463.4h5.6M745.7 468h5.6M745.7 678.2h5.6M745.7 711.6h5.6M745.7 789h5.6M745.7 804.3h5.6M751.3 45.7h5.6M751.3 48h5.6M751.3 58.5h5.6M751.3 320h5.6M751.3 347.4h5.6M751.3 504.4h5.6M751.3 517.5h5.6M751.3 552.1h5.6M751.3 573.9h5.6M751.3 649.5h5.6M751.3 652.3h5.6M751.3 687.9h5.6M756.9 56.5h5.6M756.9 63.4h5.6M756.9 106.9h5.6M756.9 111.5h5.6M756.9 209.4h5.6M756.9 371.2h5.6M756.9 613.6h5.6M756.9 615.3h5.6M756.9 666.6h5.6M756.9 833.7h5.6M756.9 844.3h5.6M756.9 854.3h5.6M762.5 56.6h5.6M762.5 76.5h5.6M762.5 160.3h5.6M762.5 171.3h5.6M762.5 200.7h5.6M762.5 232.6h5.6M762.5 563.3h5.6M762.5 573.7h5.6M762.5 574.6h5.6M762.5 577h5.6M762.5 654.4h5.6M762.5 666.5h5.6M762.5 771.2h5.6M762.5 840.9h5.6M768.1 44h5.6M768.1 156.5h5.6M768.1 291.4h5.6M768.1 320.9h5.6M768.1 451.5h5.6M768.1 457.4h5.6M768.1 517.1h5.6M768.1 552.7h5.6M768.1 570.5h5.6M768.1 610.4h5.6M768.1 636.7h5.6M768.1 780.6h5.6M768.1 835.4h5.6M773.7 44h5.6M773.7 184.3h5.6M773.7 322.5h5.6M773.7 427.2h5.6M773.7 523.3h5.6M773.7 561.1h5.6M773.7 605.3h5.6M773.7 630.1h5.6M773.7 641.3h5.6M773.7 667.8h5.6M773.7 669.9h5.6M773.7 835.3h5.6M773.7 844.5h5.6M773.7 866h5.6M779.2 71.3h5.6M779.2 83.2h5.6M779.2 257.7h5.6M779.2 427.6h5.6M779.2 508.7h5.6M779.2 623.1h5.6M779.2 683h5.6M779.2 693h5.6M779.2 693.3h5.6M779.2 759.3h5.6M779.2 763h5.6M779.2 816.2h5.6M784.8 44h5.6M784.8 118.6h5.6M784.8 127.1h5.6M784.8 172.9h5.6M784.8 383.2h5.6M784.8 406.3h5.6M784.8 417.7h5.6M784.8 490.1h5.6M784.8 571.1h5.6M784.8 609.6h5.6M784.8 638.8h5.6M784.8 704.3h5.6M784.8 797.9h5.6M784.8 824.3h5.6M790.4 75.5h5.6M790.4 230.5h5.6M790.4 313.6h5.6M790.4 355.5h5.6M790.4 361.1h5.6M790.4 398.7h5.6M790.4 420.3h5.6M790.4 428.1h5.6M790.4 451.9h5.6M790.4 526h5.6M790.4 551.5h5.6M790.4 623.9h5.6M790.4 758.2h5.6M790.4 779.7h5.6M796 77.8h5.6M796 89.1h5.6M796 182.7h5.6M796 231.4h5.6M796 287.8h5.6M796 380.4h5.6M796 485.1h5.6M796 600.3h5.6M796 654.8h5.6M796 688.7h5.6M796 720.2h5.6M796 793.6h5.6M796 837.7h5.6M801.6 44.1h5.6M801.6 59.7h5.6M801.6 84.3h5.6M801.6 143.9h5.6M801.6 154.5h5.6M801.6 434.9h5.6M801.6 452.7h5.6M801.6 485.6h5.6M801.6 500.9h5.6M801.6 528.9h5.6M801.6 567.9h5.6M801.6 663.7h5.6M801.6 694h5.6M801.6 762h5.6M807.2 78.8h5.6M807.2 82.4h5.6M807.2 127.3h5.6M807.2 257h5.6M807.2 343.9h5.6M807.2 410.4h5.6M807.2 441h5.6M807.2 518h5.6M807.2 585.5h5.6M807.2 788.5h5.6M807.2 790.1h5.6M807.2 828.9h5.6M812.8 66.7h5.6M812.8 66.9h5.6M812.8 92.1h5.6M812.8 167.7h5.6M812.8 197.2h5.6M812.8 334.5h5.6M812.8 374.3h5.6M812.8 693.8h5.6M812.8 822.2h5.6M812.8 862.9h5.6M818.4 44h5.6M818.4 121.2h5.6M818.4 255.8h5.6M818.4 286.6h5.6M818.4 297.1h5.6M818.4 309.4h5.6M818.4 314h5.6M818.4 418.9h5.6M818.4 435.2h5.6M818.4 650.7h5.6M818.4 662.8h5.6M818.4 871.8h5.6M824 89.9h5.6M824 139.3h5.6M824 151.1h5.6M824 205.6h5.6M824 459.6h5.6M824 548.7h5.6M824 619.4h5.6M824 632h5.6M824 713.9h5.6M824 776.2h5.6M824 834.5h5.6M824 879.9h5.6M829.5 145.8h5.6M829.5 335.5h5.6M829.5 402.2h5.6M829.5 410.5h5.6M829.5 494.8h5.6M829.5 540.6h5.6M829.5 555.5h5.6M829.5 587.1h5.6M829.5 639.2h5.6M829.5 724h5.6M829.5 767.8h5.6M829.5 797h5.6M829.5 814.7h5.6M829.5 860.8h5.6M835.1 44h5.6M835.1 44.4h5.6M835.1 47.9h5.6M835.1 352.6h5.6M835.1 424.4h5.6M835.1 576.4h5.6M835.1 578.7h5.6M835.1 608.7h5.6M835.1 632.6h5.6M835.1 643.7h5.6M835.1 686.9h5.6M835.1 704.8h5.6M835.1 812.3h5.6M835.1 872.1h5.6M835.1 880.7h5.6M840.7 80.2h5.6M840.7 96.8h5.6M840.7 100.9h5.6M840.7 149.6h5.6M840.7 252.3h5.6M840.7 319.9h5.6M840.7 383.5h5.6M840.7 484.3h5.6M840.7 487.9h5.6M840.7 566.6h5.6M840.7 589.5h5.6M840.7 612.5h5.6M840.7 738.5h5.6M846.3 44h5.6M846.3 85.3h5.6M846.3 148.1h5.6M846.3 183.3h5.6M846.3 308.1h5.6M846.3 341.4h5.6M846.3 341.7h5.6M846.3 454.7h5.6M846.3 636h5.6M846.3 870.9h5.6M846.3 877h5.6M851.9 95.9h5.6M851.9 97.9h5.6M851.9 120.4h5.6M851.9 181h5.6M851.9 192.8h5.6M851.9 209.2h5.6M851.9 215.2h5.6M851.9 263.1h5.6M851.9 311.1h5.6M851.9 414.9h5.6M851.9 449.9h5.6M851.9 456.2h5.6M851.9 511.4h5.6M851.9 628.6h5.6M851.9 710.5h5.6M851.9 765.4h5.6M851.9 824.3h5.6M857.5 44h5.6M857.5 45.2h5.6M857.5 67.9h5.6M857.5 93.5h5.6M857.5 296.5h5.6M857.5 396.9h5.6M857.5 652.2h5.6M857.5 658.3h5.6M857.5 690.9h5.6M857.5 757.3h5.6M857.5 760.4h5.6M857.5 783.6h5.6M857.5 827.1h5.6M857.5 833.4h5.6M863.1 95.6h5.6M863.1 126.8h5.6M863.1 164.8h5.6M863.1 235.2h5.6M863.1 260h5.6M863.1 330.7h5.6M863.1 371.7h5.6M863.1 372.4h5.6M863.1 384.2h5.6M863.1 511h5.6M863.1 628.2h5.6M863.1 650.2h5.6M863.1 724.4h5.6M863.1 806.9h5.6M863.1 852.2h5.6M868.7 46.2h5.6M868.7 73.7h5.6M868.7 98.4h5.6M868.7 116.1h5.6M868.7 300.2h5.6M868.7 355.7h5.6M868.7 504.6h5.6M868.7 531.1h5.6M868.7 551h5.6M868.7 626.7h5.6M868.7 672h5.6M868.7 673.2h5.6M868.7 758.5h5.6M868.7 805.3h5.6M868.7 836.5h5.6M868.7 878.8h5.6M874.2 44h5.6M874.2 114.4h5.6M874.2 159.6h5.6M874.2 231.3h5.6M874.2 396.8h5.6M874.2 397.8h5.6M874.2 485.6h5.6M874.2 491.1h5.6M874.2 627.3h5.6M874.2 746.3h5.6M874.2 803h5.6M874.2 837.3h5.6M879.8 44h5.6M879.8 47.8h5.6M879.8 59h5.6M879.8 102.8h5.6M879.8 117.3h5.6M879.8 277.6h5.6M879.8 561.4h5.6M879.8 580.1h5.6M879.8 612.5h5.6M879.8 656.7h5.6M879.8 813.1h5.6M879.8 847.2h5.6M879.8 870.2h5.6M885.4 50.4h5.6M885.4 81h5.6M885.4 101.4h5.6M885.4 148.2h5.6M885.4 151.7h5.6M885.4 255h5.6M885.4 288.5h5.6M885.4 345.1h5.6M885.4 448.1h5.6M885.4 473.3h5.6M885.4 496.8h5.6M885.4 605.6h5.6M885.4 629.1h5.6M885.4 653.7h5.6M885.4 788.6h5.6M885.4 839.9h5.6M891 50.8h5.6M891 196h5.6M891 274.3h5.6M891 284.1h5.6M891 302.4h5.6M891 397.7h5.6M891 530.7h5.6M891 551.7h5.6M891 578.5h5.6M891 653.6h5.6M891 685.1h5.6M891 816.5h5.6M896.6 71h5.6M896.6 142.4h5.6M896.6 197.7h5.6M896.6 367.3h5.6M896.6 380.3h5.6M896.6 559h5.6M896.6 630.6h5.6M896.6 650.9h5.6M896.6 703.9h5.6M896.6 760.5h5.6M896.6 841h5.6M896.6 861.6h5.6M896.6 865.7h5.6M902.2 44h5.6M902.2 46.2h5.6M902.2 76.8h5.6M902.2 256.3h5.6M902.2 270h5.6M902.2 311.6h5.6M902.2 332.1h5.6M902.2 443.2h5.6M902.2 466.1h5.6M902.2 469.1h5.6M902.2 478.4h5.6M902.2 506.8h5.6M902.2 622h5.6M902.2 757.1h5.6M907.8 44.9h5.6M907.8 55.3h5.6M907.8 236.6h5.6M907.8 397.4h5.6M907.8 544.1h5.6M907.8 569.6h5.6M907.8 658h5.6M907.8 711.1h5.6M907.8 727.3h5.6M907.8 886.4h5.6M907.8 888h5.6M913.4 75.3h5.6M913.4 298.9h5.6M913.4 355.8h5.6M913.4 516.8h5.6M913.4 537.1h5.6M913.4 617.3h5.6M913.4 663h5.6M913.4 675.6h5.6M913.4 731.6h5.6M913.4 827.1h5.6M913.4 842.5h5.6M913.4 847.7h5.6M918.9 51.1h5.6M918.9 55.1h5.6M918.9 185.5h5.6M918.9 411.1h5.6M918.9 464.7h5.6M918.9 472.5h5.6M918.9 497.3h5.6M918.9 547.9h5.6M918.9 550.4h5.6M918.9 791.6h5.6M918.9 857.9h5.6M918.9 884.5h5.6M924.5 141.3h5.6M924.5 147.4h5.6M924.5 199.1h5.6M924.5 223.3h5.6M924.5 409.1h5.6M924.5 532.6h5.6M924.5 541.8h5.6M924.5 562.6h5.6M924.5 670.9h5.6M924.5 683.1h5.6M930.1 74.7h5.6M930.1 76.6h5.6M930.1 190.7h5.6M930.1 207.5h5.6M930.1 229.8h5.6M930.1 251.1h5.6M930.1 492.4h5.6M930.1 497h5.6M930.1 518.1h5.6M930.1 576h5.6M930.1 638.4h5.6M930.1 732.9h5.6M930.1 798.2h5.6M930.1 832.3h5.6M935.7 47.3h5.6M935.7 79.2h5.6M935.7 155.3h5.6M935.7 184h5.6M935.7 275.3h5.6M935.7 367.5h5.6M935.7 378.4h5.6M935.7 447.3h5.6M935.7 448.9h5.6M935.7 449.6h5.6M935.7 454.1h5.6M935.7 481.4h5.6M935.7 578.3h5.6M935.7 723.9h5.6M935.7 753h5.6M935.7 791.8h5.6M935.7 872.8h5.6M935.7 879.9h5.6M941.3 44h5.6M941.3 127.2h5.6M941.3 149.2h5.6M941.3 155.5h5.6M941.3 232.1h5.6M941.3 257.3h5.6M941.3 295.3h5.6M941.3 315.9h5.6M941.3 329.1h5.6M941.3 384.6h5.6M941.3 387.2h5.6M941.3 467.4h5.6M941.3 591.4h5.6M941.3 744.1h5.6M941.3 871.1h5.6M946.9 75.9h5.6M946.9 95.9h5.6M946.9 113.6h5.6M946.9 123.1h5.6M946.9 175.3h5.6M946.9 185.7h5.6M946.9 346.1h5.6M946.9 355.2h5.6M946.9 356h5.6M946.9 372.5h5.6M946.9 373.5h5.6M946.9 447.4h5.6M946.9 588.6h5.6M946.9 617h5.6M946.9 683.4h5.6M952.5 105.6h5.6M952.5 163.7h5.6M952.5 187.9h5.6M952.5 281.2h5.6M952.5 451h5.6M952.5 526.2h5.6M952.5 558h5.6M952.5 596.5h5.6M952.5 601.9h5.6M952.5 673.5h5.6M952.5 870.4h5.6M958.1 55.2h5.6M958.1 61.7h5.6M958.1 155.5h5.6M958.1 308.4h5.6M958.1 377.2h5.6M958.1 420.1h5.6M958.1 426.6h5.6M958.1 451.9h5.6M958.1 493.1h5.6M958.1 531h5.6M958.1 551.6h5.6M958.1 620.3h5.6M958.1 694.4h5.6M958.1 704.2h5.6M958.1 801.3h5.6M958.1 834.3h5.6M963.6 78.6h5.6M963.6 98.2h5.6M963.6 191.4h5.6M963.6 264.4h5.6M963.6 311h5.6M963.6 410.6h5.6M963.6 426.3h5.6M963.6 576h5.6M963.6 655.7h5.6M963.6 699.7h5.6M963.6 807.9h5.6M963.6 858.2h5.6M963.6 866.7h5.6M963.6 872.2h5.6M969.2 44h5.6M969.2 75.9h5.6M969.2 83.6h5.6M969.2 164h5.6M969.2 186.8h5.6M969.2 301.1h5.6M969.2 595.6h5.6M969.2 605.4h5.6M969.2 623.3h5.6M969.2 623.8h5.6M969.2 675.5h5.6M969.2 709.9h5.6M969.2 732.5h5.6M969.2 786.5h5.6M969.2 814.7h5.6M969.2 855.4h5.6M969.2 868.7h5.6M974.8 44h5.6M974.8 64.8h5.6M974.8 90.2h5.6M974.8 163.7h5.6M974.8 183.7h5.6M974.8 311.9h5.6M974.8 413.4h5.6M974.8 436.7h5.6M974.8 440.5h5.6M974.8 445.2h5.6M974.8 450.3h5.6M974.8 485.3h5.6M974.8 649.7h5.6M974.8 702.7h5.6M974.8 823.8h5.6M980.4 44h5.6M980.4 79.9h5.6M980.4 201.8h5.6M980.4 214.8h5.6M980.4 396.9h5.6M980.4 573.8h5.6M980.4 646.1h5.6M980.4 676.1h5.6M980.4 694.3h5.6M980.4 713.2h5.6M980.4 851.5h5.6M980.4 872h5.6M980.4 879.5h5.6M986 44h5.6M986 106.9h5.6M986 203.2h5.6M986 344.2h5.6M986 470.9h5.6M986 509.1h5.6M986 594.8h5.6M986 752.4h5.6M986 813.9h5.6M986 869.2h5.6M986 884.7h5.6M991.6 61.4h5.6M991.6 68.3h5.6M991.6 74h5.6M991.6 124.6h5.6M991.6 232.8h5.6M991.6 248.2h5.6M991.6 266.4h5.6M991.6 276.9h5.6M991.6 281h5.6M991.6 329.3h5.6M991.6 336.3h5.6M991.6 543.6h5.6M991.6 782.9h5.6M991.6 794.3h5.6M991.6 837.6h5.6M997.2 86.4h5.6M997.2 92.8h5.6M997.2 127.5h5.6M997.2 295.1h5.6M997.2 504.1h5.6M997.2 639.2h5.6M997.2 663.6h5.6M997.2 700.8h5.6M997.2 732h5.6M997.2 747.5h5.6M997.2 751.2h5.6M997.2 830.1h5.6M1002.8 49.6h5.6M1002.8 119.6h5.6M1002.8 277.9h5.6M1002.8 371.5h5.6M1002.8 582.8h5.6M1002.8 598.9h5.6M1002.8 609.6h5.6M1002.8 611.1h5.6M1002.8 618.8h5.6M1002.8 629.1h5.6M1002.8 632.7h5.6M1002.8 678h5.6M1002.8 700.8h5.6M1002.8 770.7h5.6M1002.8 810.8h5.6M1008.3 58.8h5.6M1008.3 123.3h5.6M1008.3 164.8h5.6M1008.3 205.9h5.6M1008.3 354.6h5.6M1008.3 405.4h5.6M1008.3 561.3h5.6M1008.3 646.4h5.6M1008.3 650.1h5.6M1008.3 667.6h5.6M1008.3 670.6h5.6M1008.3 810.9h5.6M1008.3 852.1h5.6M1013.9 59.1h5.6M1013.9 68.1h5.6M1013.9 82.1h5.6M1013.9 115.3h5.6M1013.9 161.5h5.6M1013.9 435.7h5.6M1013.9 653.8h5.6M1013.9 659.2h5.6M1013.9 660.8h5.6M1013.9 676.9h5.6M1013.9 699.7h5.6M1013.9 721.7h5.6M1013.9 816.3h5.6M1013.9 881.3h5.6M1019.5 63.6h5.6M1019.5 257.9h5.6M1019.5 290.7h5.6M1019.5 298.2h5.6M1019.5 444.4h5.6M1019.5 495.5h5.6M1019.5 597.5h5.6M1019.5 641.3h5.6M1019.5 660.3h5.6M1019.5 702.4h5.6M1019.5 790.2h5.6M1019.5 858h5.6M1019.5 865.9h5.6M1025.1 47.3h5.6M1025.1 59h5.6M1025.1 154.5h5.6M1025.1 489.3h5.6M1025.1 546h5.6M1025.1 616.9h5.6M1025.1 619.7h5.6M1025.1 654.2h5.6M1025.1 678.9h5.6M1025.1 829.5h5.6M1025.1 841.7h5.6M1025.1 885.8h5.6M1030.7 74.9h5.6M1030.7 124.9h5.6M1030.7 168.8h5.6M1030.7 205.4h5.6M1030.7 301.9h5.6M1030.7 751h5.6M1030.7 769.6h5.6M1030.7 771.8h5.6M1030.7 781.1h5.6M1030.7 796.3h5.6M1030.7 805.5h5.6M1030.7 824.9h5.6M1030.7 841h5.6M1030.7 849.5h5.6M1030.7 860.3h5.6M1030.7 873h5.6M1036.3 54.4h5.6M1036.3 70.4h5.6M1036.3 187.7h5.6M1036.3 264.8h5.6M1036.3 293.5h5.6M1036.3 513.3h5.6M1036.3 521.5h5.6M1036.3 523.8h5.6M1036.3 564.5h5.6M1036.3 857.4h5.6M1036.3 874.3h5.6M1041.9 44h5.6M1041.9 202.6h5.6M1041.9 253.3h5.6M1041.9 272.1h5.6M1041.9 278h5.6M1041.9 281.8h5.6M1041.9 390.4h5.6M1041.9 452.8h5.6M1041.9 457.8h5.6M1041.9 607h5.6M1041.9 612.9h5.6M1041.9 807h5.6M1041.9 814.2h5.6M1041.9 821.5h5.6M1041.9 883.9h5.6M1047.5 101.8h5.6M1047.5 114.9h5.6M1047.5 143h5.6M1047.5 187h5.6M1047.5 240.8h5.6M1047.5 244.4h5.6M1047.5 278.7h5.6M1047.5 339.2h5.6M1047.5 464.3h5.6M1047.5 465.4h5.6M1047.5 472.2h5.6M1047.5 501.4h5.6M1047.5 619.9h5.6M1047.5 620.9h5.6M1047.5 635.4h5.6M1047.5 793.2h5.6M1047.5 797.2h5.6M1053 51.6h5.6M1053 74h5.6M1053 91.6h5.6M1053 133.1h5.6M1053 224.7h5.6M1053 318.8h5.6M1053 472.3h5.6M1053 477.5h5.6M1053 488.7h5.6M1053 495.9h5.6M1053 552.4h5.6M1053 567h5.6M1053 640.7h5.6M1053 779.6h5.6M1053 845.7h5.6M1058.6 94.7h5.6M1058.6 216.1h5.6M1058.6 311.3h5.6M1058.6 320.9h5.6M1058.6 335.1h5.6M1058.6 372.3h5.6M1058.6 558.9h5.6M1058.6 689.7h5.6M1058.6 757.2h5.6M1064.2 62h5.6M1064.2 173.2h5.6M1064.2 254.8h5.6M1064.2 259.7h5.6M1064.2 358.7h5.6M1064.2 419h5.6M1064.2 425.6h5.6M1064.2 445.3h5.6M1064.2 450.3h5.6M1064.2 460.7h5.6M1064.2 550.1h5.6M1064.2 552.5h5.6M1064.2 682.7h5.6M1064.2 794.1h5.6M1064.2 808.5h5.6M1069.8 50.4h5.6M1069.8 92.3h5.6M1069.8 103.4h5.6M1069.8 278.4h5.6M1069.8 393.9h5.6M1069.8 438.2h5.6M1069.8 508h5.6M1069.8 558.3h5.6M1069.8 708.4h5.6M1069.8 821.3h5.6M1069.8 823.7h5.6M1075.4 53.5h5.6M1075.4 101.2h5.6M1075.4 302.2h5.6M1075.4 311h5.6M1075.4 473.6h5.6M1075.4 511.8h5.6M1075.4 537.1h5.6M1075.4 548.1h5.6M1075.4 684.1h5.6M1075.4 716.7h5.6M1075.4 877.7h5.6M1081 44h5.6M1081 47.5h5.6M1081 68.5h5.6M1081 171.5h5.6M1081 569.7h5.6M1081 726.3h5.6M1081 767h5.6M1081 817.1h5.6M1081 864.5h5.6M1086.6 47.7h5.6M1086.6 71.9h5.6M1086.6 255.7h5.6M1086.6 266.7h5.6M1086.6 285h5.6M1086.6 381.2h5.6M1086.6 616.1h5.6M1086.6 686.3h5.6M1086.6 696.6h5.6M1086.6 723h5.6M1086.6 742.5h5.6M1086.6 754.6h5.6M1086.6 828h5.6M1086.6 880.7h5.6M1092.2 62.8h5.6M1092.2 74.9h5.6M1092.2 105.7h5.6M1092.2 138.5h5.6M1092.2 221.9h5.6M1092.2 366.2h5.6M1092.2 367.5h5.6M1092.2 439.2h5.6M1092.2 510.1h5.6M1092.2 668.4h5.6M1092.2 698h5.6M1092.2 732.9h5.6M1092.2 774h5.6M1092.2 801.1h5.6M1092.2 847.1h5.6M1097.7 100.4h5.6M1097.7 143.8h5.6M1097.7 224.4h5.6M1097.7 225.5h5.6M1097.7 301.7h5.6M1097.7 482.5h5.6M1097.7 486.9h5.6M1097.7 493.8h5.6M1097.7 497.1h5.6M1097.7 510.2h5.6M1097.7 532.2h5.6M1097.7 534h5.6M1097.7 600.6h5.6M1097.7 661.8h5.6M1097.7 760.2h5.6M1097.7 781.6h5.6M1103.3 59.1h5.6M1103.3 71.9h5.6M1103.3 130.6h5.6M1103.3 328.9h5.6M1103.3 331.2h5.6M1103.3 603.1h5.6M1103.3 640.1h5.6M1103.3 649.4h5.6M1103.3 654.3h5.6M1103.3 659.6h5.6M1103.3 703h5.6M1103.3 734.7h5.6M1103.3 873.4h5.6M1103.3 883.4h5.6M1108.9 69.6h5.6M1108.9 83.4h5.6M1108.9 239.7h5.6M1108.9 314.4h5.6M1108.9 330h5.6M1108.9 361.6h5.6M1108.9 363.2h5.6M1108.9 447.1h5.6M1108.9 511.2h5.6M1108.9 514.4h5.6M1114.5 44h5.6M1114.5 161.6h5.6M1114.5 179.1h5.6M1114.5 263h5.6M1114.5 290.3h5.6M1114.5 410.2h5.6M1114.5 430.6h5.6M1114.5 517h5.6M1114.5 570.2h5.6M1114.5 585.3h5.6M1114.5 804.2h5.6M1120.1 61.3h5.6M1120.1 79.1h5.6M1120.1 87.1h5.6M1120.1 129.9h5.6M1120.1 146.9h5.6M1120.1 238.1h5.6M1120.1 548.8h5.6M1120.1 557.6h5.6M1120.1 608.9h5.6M1120.1 696.5h5.6M1120.1 762.7h5.6M1120.1 887.7h5.6M1125.7 44h5.6M1125.7 71.1h5.6M1125.7 127.3h5.6M1125.7 179.1h5.6M1125.7 237.6h5.6M1125.7 552h5.6M1125.7 706h5.6M1125.7 739.8h5.6M1125.7 792.4h5.6M1125.7 843.7h5.6M1125.7 848h5.6M1125.7 865.7h5.6M1131.3 151.5h5.6M1131.3 183h5.6M1131.3 241h5.6M1131.3 266.4h5.6M1131.3 516.6h5.6M1131.3 523.8h5.6M1131.3 543.2h5.6M1131.3 568.5h5.6M1131.3 727.5h5.6M1131.3 734.5h5.6M1131.3 791.5h5.6M1136.9 95.9h5.6M1136.9 109h5.6M1136.9 198.4h5.6M1136.9 427.1h5.6M1136.9 467.9h5.6M1136.9 506.4h5.6M1136.9 514.4h5.6M1136.9 534.8h5.6M1136.9 558.6h5.6M1136.9 563.8h5.6M1136.9 579.1h5.6M1136.9 622.7h5.6M1136.9 681.6h5.6M1136.9 792.3h5.6M1136.9 871.9h5.6M1142.5 44h5.6M1142.5 53.7h5.6M1142.5 150.1h5.6M1142.5 335.7h5.6M1142.5 344.2h5.6M1142.5 435h5.6M1142.5 506.7h5.6M1142.5 518.4h5.6M1142.5 668.1h5.6M1142.5 756.4h5.6M1142.5 756.8h5.6M1148 70.4h5.6M1148 105h5.6M1148 119h5.6M1148 339.2h5.6M1148 509.7h5.6M1148 520.3h5.6M1148 712.4h5.6M1148 713.3h5.6M1148 742.6h5.6M1148 750.8h5.6M1148 757.3h5.6M1148 760.3h5.6M1148 827.7h5.6M1148 875.8h5.6M1148 887h5.6M1153.6 44.6h5.6M1153.6 103.8h5.6M1153.6 122.9h5.6M1153.6 170.4h5.6M1153.6 204.3h5.6M1153.6 353.4h5.6M1153.6 611.2h5.6M1153.6 619.3h5.6M1153.6 665.5h5.6M1153.6 667h5.6M1153.6 792.8h5.6M1153.6 871.7h5.6M1159.2 50.7h5.6M1159.2 62h5.6M1159.2 76.9h5.6M1159.2 173.4h5.6M1159.2 413.8h5.6M1159.2 494.6h5.6M1159.2 520.4h5.6M1159.2 692.5h5.6M1159.2 717.8h5.6M1159.2 747.4h5.6M1159.2 834.9h5.6M1159.2 838.4h5.6M1159.2 880.1h5.6M1164.8 44h5.6M1164.8 88.9h5.6M1164.8 136h5.6M1164.8 157.9h5.6M1164.8 318.3h5.6M1164.8 320.9h5.6M1164.8 351h5.6M1164.8 369.4h5.6M1164.8 544h5.6M1164.8 585.6h5.6M1164.8 629.9h5.6M1164.8 728.7h5.6M1170.4 58.5h5.6M1170.4 61.2h5.6M1170.4 301h5.6M1170.4 409.1h5.6M1170.4 495.5h5.6M1170.4 560.9h5.6M1170.4 571.7h5.6M1170.4 590.6h5.6M1170.4 640.7h5.6M1170.4 755.7h5.6M1170.4 842h5.6M1170.4 843.7h5.6M1176 76.4h5.6M1176 97.3h5.6M1176 124.4h5.6M1176 309.2h5.6M1176 446.5h5.6M1176 448.1h5.6M1176 484.7h5.6M1176 505.5h5.6M1176 510.6h5.6M1176 698.4h5.6M1176 723.6h5.6M1176 725.9h5.6M1181.6 44h5.6M1181.6 56.9h5.6M1181.6 74.8h5.6M1181.6 117h5.6M1181.6 291.8h5.6M1181.6 336.7h5.6M1181.6 680.7h5.6M1181.6 712.5h5.6M1181.6 717.3h5.6M1181.6 722.3h5.6M1181.6 753.2h5.6M1181.6 756.8h5.6M1181.6 835.1h5.6M1181.6 838.3h5.6M1181.6 861.3h5.6M1181.6 864.6h5.6M1187.2 61.6h5.6M1187.2 310.5h5.6M1187.2 555.2h5.6M1187.2 560.1h5.6M1187.2 569.6h5.6M1187.2 645.1h5.6M1187.2 660.5h5.6M1187.2 670.3h5.6M1187.2 712h5.6M1187.2 730.8h5.6M1192.7 44h5.6M1192.7 76.6h5.6M1192.7 93.7h5.6M1192.7 215.7h5.6M1192.7 241.6h5.6M1192.7 521.9h5.6M1192.7 524h5.6M1192.7 552.4h5.6M1192.7 645.8h5.6M1192.7 650.4h5.6M1192.7 680.3h5.6M1192.7 707.4h5.6M1192.7 752.3h5.6M1192.7 835.7h5.6M1192.7 868.3h5.6M1198.3 44h5.6M1198.3 90.5h5.6M1198.3 107.9h5.6M1198.3 121.4h5.6M1198.3 125.8h5.6M1198.3 233.2h5.6M1198.3 249.6h5.6M1198.3 440.7h5.6M1198.3 458.2h5.6M1198.3 507.2h5.6M1198.3 557.3h5.6M1198.3 640.2h5.6M1198.3 689.8h5.6M1198.3 729.5h5.6M1198.3 742.7h5.6M1198.3 776.6h5.6M1203.9 87.6h5.6M1203.9 108h5.6M1203.9 139.9h5.6M1203.9 267.4h5.6M1203.9 343.6h5.6M1203.9 361.3h5.6M1203.9 504.5h5.6M1203.9 509.8h5.6M1203.9 521h5.6M1203.9 536.3h5.6M1203.9 613.4h5.6M1203.9 759h5.6M1203.9 851h5.6M1209.5 44h5.6M1209.5 47.7h5.6M1209.5 55.9h5.6M1209.5 78.3h5.6M1209.5 286.7h5.6M1209.5 308.1h5.6M1209.5 604.2h5.6M1209.5 671.8h5.6M1209.5 672.9h5.6M1209.5 701.4h5.6M1209.5 722.7h5.6M1209.5 798.9h5.6M1215.1 90.6h5.6M1215.1 123.6h5.6M1215.1 162.1h5.6M1215.1 179.7h5.6M1215.1 261h5.6M1215.1 333.8h5.6M1215.1 359.7h5.6M1215.1 428.1h5.6M1215.1 515h5.6M1215.1 548.6h5.6M1215.1 612.4h5.6M1215.1 690h5.6M1215.1 763.7h5.6M1220.7 51h5.6M1220.7 59.1h5.6M1220.7 91.1h5.6M1220.7 174.1h5.6M1220.7 241h5.6M1220.7 721.3h5.6M1220.7 729h5.6M1220.7 729.4h5.6M1220.7 744.4h5.6M1220.7 748.8h5.6M1220.7 766.7h5.6M1220.7 768.5h5.6M1220.7 833.5h5.6M1220.7 867.2h5.6M1226.3 123.4h5.6M1226.3 134.6h5.6M1226.3 162.5h5.6M1226.3 197h5.6M1226.3 246.6h5.6M1226.3 497.8h5.6M1226.3 509.3h5.6M1226.3 554.1h5.6M1226.3 593.2h5.6M1226.3 596.7h5.6M1226.3 596.8h5.6M1226.3 737.7h5.6M1226.3 740.4h5.6M1226.3 799.1h5.6M1226.3 831.9h5.6M1231.9 71.7h5.6M1231.9 139.6h5.6M1231.9 167.7h5.6M1231.9 282.6h5.6M1231.9 364.3h5.6M1231.9 401.9h5.6M1231.9 617.1h5.6M1231.9 621.5h5.6M1231.9 624.9h5.6M1231.9 647.3h5.6M1231.9 659.7h5.6M1231.9 701h5.6M1231.9 786.7h5.6M1231.9 811.2h5.6M1231.9 813.2h5.6M1237.4 44h5.6M1237.4 48h5.6M1237.4 124h5.6M1237.4 134.7h5.6M1237.4 228.9h5.6M1237.4 296.1h5.6M1237.4 333.4h5.6M1237.4 494.9h5.6M1237.4 500.3h5.6M1237.4 506.3h5.6M1237.4 571.6h5.6M1237.4 613.3h5.6M1237.4 661.1h5.6M1237.4 687.8h5.6M1237.4 782.5h5.6M1237.4 794.9h5.6M1237.4 875.7h5.6M1237.4 882.5h5.6M1243 44h5.6M1243 47.6h5.6M1243 113.2h5.6M1243 208.7h5.6M1243 507.5h5.6M1243 637.7h5.6M1243 669.3h5.6M1243 746.8h5.6M1243 842.4h5.6M1243 873.1h5.6M1243 885.4h5.6M1248.6 44h5.6M1248.6 67h5.6M1248.6 96.3h5.6M1248.6 117.2h5.6M1248.6 190.8h5.6M1248.6 302.1h5.6M1248.6 597.8h5.6M1248.6 617.4h5.6M1248.6 627.6h5.6M1248.6 659.1h5.6M1248.6 798.4h5.6M1248.6 805h5.6M1248.6 822.7h5.6M1248.6 838h5.6M1248.6 868.5h5.6M1254.2 58.4h5.6M1254.2 148.6h5.6M1254.2 153.5h5.6M1254.2 256.3h5.6M1254.2 316.6h5.6M1254.2 483.1h5.6M1254.2 511.2h5.6M1254.2 560.5h5.6M1254.2 563h5.6M1254.2 593h5.6M1254.2 594.4h5.6M1254.2 651.4h5.6M1254.2 746.2h5.6M1254.2 795.7h5.6M1259.8 44h5.6M1259.8 56.8h5.6M1259.8 181.9h5.6M1259.8 183.8h5.6M1259.8 192.8h5.6M1259.8 621h5.6M1259.8 673.5h5.6M1259.8 684.1h5.6M1259.8 689.8h5.6M1259.8 690.4h5.6M1259.8 725h5.6M1259.8 741.8h5.6M1259.8 848.2h5.6M1259.8 873.6h5.6M1265.4 58.2h5.6M1265.4 70.9h5.6M1265.4 211h5.6M1265.4 249.9h5.6M1265.4 279.6h5.6M1265.4 324.6h5.6M1265.4 436.1h5.6M1265.4 552.5h5.6M1265.4 669.2h5.6M1265.4 716.3h5.6M1265.4 766.1h5.6M1265.4 772.1h5.6M1265.4 863.7h5.6M1271 63.7h5.6M1271 104h5.6M1271 137.6h5.6M1271 184.8h5.6M1271 236.4h5.6M1271 375.7h5.6M1271 391h5.6M1271 505.9h5.6M1271 564.6h5.6M1271 573.1h5.6M1271 574.9h5.6M1271 646.5h5.6M1271 650.6h5.6M1271 682.9h5.6M1271 717h5.6M1271 822.3h5.6M1271 834h5.6M1276.6 53.8h5.6M1276.6 58h5.6M1276.6 65.9h5.6M1276.6 83h5.6M1276.6 225.6h5.6M1276.6 575.5h5.6M1276.6 588.6h5.6M1276.6 590.8h5.6M1276.6 606.5h5.6M1276.6 735.3h5.6M1276.6 781.1h5.6M1276.6 881.6h5.6M1282.1 44.6h5.6M1282.1 110.4h5.6M1282.1 190.2h5.6M1282.1 203.4h5.6M1282.1 247.6h5.6M1282.1 344.2h5.6M1282.1 402.3h5.6M1282.1 461h5.6M1282.1 464.4h5.6M1282.1 639.8h5.6M1282.1 647.8h5.6M1282.1 774.7h5.6M1282.1 864.8h5.6M1287.7 86.3h5.6M1287.7 114.9h5.6M1287.7 154.5h5.6M1287.7 190.8h5.6M1287.7 271.3h5.6M1287.7 442.6h5.6M1287.7 476.6h5.6M1287.7 502.5h5.6M1287.7 527.8h5.6M1287.7 748.6h5.6M1287.7 755.9h5.6M1287.7 847.3h5.6M1287.7 856.8h5.6M1293.3 49.7h5.6M1293.3 151.8h5.6M1293.3 324.7h5.6M1293.3 385.4h5.6M1293.3 394.2h5.6M1293.3 574.3h5.6M1293.3 599.3h5.6M1293.3 677.4h5.6M1293.3 684.2h5.6M1293.3 695.5h5.6M1293.3 785.4h5.6M1293.3 887.8h5.6M1298.9 47.6h5.6M1298.9 52.9h5.6M1298.9 122.7h5.6M1298.9 226.3h5.6M1298.9 363.6h5.6M1298.9 489.6h5.6M1298.9 497h5.6M1298.9 510.3h5.6M1298.9 536.9h5.6M1298.9 624.1h5.6M1298.9 656.8h5.6M1298.9 722.7h5.6M1304.5 52.1h5.6M1304.5 66.4h5.6M1304.5 167.3h5.6M1304.5 206.5h5.6M1304.5 215.5h5.6M1304.5 229.3h5.6M1304.5 292.2h5.6M1304.5 333.7h5.6M1304.5 373.4h5.6M1304.5 383.2h5.6M1304.5 407.8h5.6M1304.5 428.8h5.6M1304.5 444.3h5.6M1304.5 840.4h5.6M1304.5 875.2h5.6M1310.1 44h5.6M1310.1 77.4h5.6M1310.1 81.5h5.6M1310.1 134.6h5.6M1310.1 263.3h5.6M1310.1 313.9h5.6M1310.1 672h5.6M1310.1 711.4h5.6M1310.1 859.7h5.6M1310.1 876.8h5.6M1315.7 61.1h5.6M1315.7 67h5.6M1315.7 140.5h5.6M1315.7 423.6h5.6M1315.7 585.2h5.6M1315.7 594.9h5.6M1315.7 618.1h5.6M1315.7 632.3h5.6M1315.7 657.7h5.6M1315.7 797.6h5.6M1315.7 819.6h5.6M1315.7 820.8h5.6M1321.3 71.5h5.6M1321.3 77.8h5.6M1321.3 109.8h5.6M1321.3 128.7h5.6M1321.3 129.8h5.6M1321.3 131.1h5.6M1321.3 555h5.6M1321.3 637.2h5.6M1321.3 640.9h5.6M1321.3 661.5h5.6M1321.3 663.4h5.6M1321.3 766.8h5.6M1321.3 864.7h5.6M1321.3 879.6h5.6M1326.8 50.5h5.6M1326.8 175.3h5.6M1326.8 265.6h5.6M1326.8 303.1h5.6M1326.8 387.3h5.6M1326.8 391.6h5.6M1326.8 438.9h5.6M1326.8 545.2h5.6M1326.8 618.6h5.6M1326.8 660.1h5.6M1326.8 668h5.6M1326.8 708.1h5.6M1326.8 750.1h5.6M1326.8 861h5.6M1326.8 871.3h5.6M1332.4 49.5h5.6M1332.4 88.4h5.6M1332.4 197.6h5.6M1332.4 259.7h5.6M1332.4 271.6h5.6M1332.4 282.6h5.6M1332.4 290.4h5.6M1332.4 329.7h5.6M1332.4 344.1h5.6M1332.4 386.1h5.6M1332.4 650.8h5.6M1332.4 778.9h5.6M1332.4 797.6h5.6M1338 44h5.6M1338 96.6h5.6M1338 166.4h5.6M1338 203.2h5.6M1338 699.9h5.6M1338 710.3h5.6M1338 790.9h5.6M1338 806.4h5.6M1338 811.9h5.6M1338 862.2h5.6M1343.6 72.6h5.6M1343.6 171.7h5.6M1343.6 181.5h5.6M1343.6 305.7h5.6M1343.6 358.3h5.6M1343.6 367.8h5.6M1343.6 434.4h5.6M1343.6 450.1h5.6M1343.6 712.6h5.6M1343.6 856.6h5.6M1343.6 868.9h5.6M1349.2 64h5.6M1349.2 138h5.6M1349.2 267h5.6M1349.2 473.2h5.6M1349.2 478.9h5.6M1349.2 489.3h5.6M1349.2 502.4h5.6M1349.2 566.3h5.6M1349.2 583.5h5.6M1349.2 655.9h5.6M1349.2 751.6h5.6M1349.2 787.2h5.6M1354.8 47.6h5.6M1354.8 75.1h5.6M1354.8 211.7h5.6M1354.8 356.7h5.6M1354.8 517.2h5.6M1354.8 542h5.6M1354.8 614.8h5.6M1354.8 655.2h5.6M1354.8 659h5.6M1354.8 664.7h5.6M1354.8 722.6h5.6M1354.8 875.5h5.6M1360.4 44h5.6M1360.4 96.2h5.6M1360.4 117.6h5.6M1360.4 163.4h5.6M1360.4 323h5.6M1360.4 414.2h5.6M1360.4 454.8h5.6M1360.4 469.3h5.6M1360.4 488.5h5.6M1360.4 526.6h5.6M1360.4 678.5h5.6M1360.4 705.8h5.6M1360.4 818.6h5.6M1360.4 872h5.6M1360.4 886h5.6M1366 73.8h5.6M1366 120.4h5.6M1366 146.6h5.6M1366 334.9h5.6M1366 475h5.6M1366 512h5.6M1366 637.7h5.6M1366 657.2h5.6M1366 669h5.6M1366 670h5.6M1366 749.7h5.6M1366 804.2h5.6M1366 819.4h5.6M1366 830.6h5.6M1366 867.9h5.6M1371.5 44h5.6M1371.5 96.8h5.6M1371.5 99.2h5.6M1371.5 105.7h5.6M1371.5 237.2h5.6M1371.5 404.4h5.6M1371.5 412.9h5.6M1371.5 460.9h5.6M1371.5 495.4h5.6M1371.5 505.1h5.6M1371.5 515.1h5.6M1371.5 548.4h5.6M1371.5 784.4h5.6M1371.5 840.8h5.6M1371.5 862.1h5.6M1377.1 44h5.6M1377.1 64.1h5.6M1377.1 89.3h5.6M1377.1 163.4h5.6M1377.1 413.1h5.6M1377.1 580.2h5.6M1377.1 581.5h5.6M1377.1 601h5.6M1377.1 606.4h5.6M1377.1 710.8h5.6M1377.1 793.8h5.6M1377.1 848.8h5.6M1377.1 853h5.6M1382.7 54.5h5.6M1382.7 89.1h5.6M1382.7 235.8h5.6M1382.7 255.5h5.6M1382.7 316.8h5.6M1382.7 525.2h5.6M1382.7 555.6h5.6M1382.7 560.7h5.6M1382.7 604.3h5.6M1382.7 659.1h5.6M1382.7 677.8h5.6M1382.7 724.8h5.6M1382.7 863.4h5.6M1382.7 877.6h5.6M1388.3 60.8h5.6M1388.3 61.5h5.6M1388.3 177.3h5.6M1388.3 208.6h5.6M1388.3 489.7h5.6M1388.3 496.7h5.6M1388.3 581.6h5.6M1388.3 701.9h5.6M1388.3 719.3h5.6M1393.9 152h5.6M1393.9 171.2h5.6M1393.9 199.5h5.6M1393.9 217.6h5.6M1393.9 236.6h5.6M1393.9 313.7h5.6M1393.9 448.3h5.6M1393.9 453.8h5.6M1393.9 468.9h5.6M1393.9 494.4h5.6M1393.9 512.1h5.6M1393.9 749.4h5.6M1393.9 799.7h5.6M1393.9 886.1h5.6M1399.5 54.6h5.6M1399.5 95h5.6M1399.5 367.1h5.6M1399.5 370.5h5.6M1399.5 387.8h5.6M1399.5 409.6h5.6M1399.5 518.1h5.6M1399.5 541.7h5.6M1399.5 633.7h5.6M1399.5 635.2h5.6M1399.5 675.6h5.6M1399.5 684h5.6M1405.1 44h5.6M1405.1 48.5h5.6M1405.1 158.2h5.6M1405.1 257.7h5.6M1405.1 276.2h5.6M1405.1 276.4h5.6M1405.1 296.7h5.6M1405.1 514.5h5.6M1405.1 517.5h5.6M1405.1 558.3h5.6M1405.1 564.9h5.6M1405.1 644.2h5.6M1405.1 750.7h5.6M1405.1 765.6h5.6M1410.7 44h5.6M1410.7 113.2h5.6M1410.7 309.1h5.6M1410.7 428.7h5.6M1410.7 476.5h5.6M1410.7 494.7h5.6M1410.7 529.5h5.6M1410.7 548.6h5.6M1410.7 609.1h5.6M1410.7 615.9h5.6M1410.7 661.2h5.6M1410.7 694.8h5.6M1410.7 733.7h5.6M1416.3 44h5.6M1416.3 68.4h5.6M1416.3 79.2h5.6M1416.3 96h5.6M1416.3 197.2h5.6M1416.3 249h5.6M1416.3 533.2h5.6M1416.3 536.3h5.6M1416.3 561.4h5.6M1416.3 577.3h5.6M1416.3 617.4h5.6M1416.3 764.9h5.6M1416.3 887.6h5.6M1421.8 44h5.6M1421.8 97.7h5.6M1421.8 128h5.6M1421.8 326.5h5.6M1421.8 447.2h5.6M1421.8 455.7h5.6M1421.8 491.8h5.6M1421.8 516.5h5.6M1421.8 568.1h5.6M1421.8 569h5.6M1421.8 696.3h5.6M1421.8 814.4h5.6M1427.4 47.4h5.6M1427.4 66.4h5.6M1427.4 68.7h5.6M1427.4 104.4h5.6M1427.4 295.7h5.6M1427.4 358.5h5.6M1427.4 471.3h5.6M1427.4 504.8h5.6M1427.4 506.9h5.6M1427.4 511h5.6M1427.4 544.2h5.6M1427.4 550.5h5.6M1427.4 686.7h5.6M1427.4 809.4h5.6M1427.4 820.6h5.6M1433 61.2h5.6M1433 98h5.6M1433 119.6h5.6M1433 155.5h5.6M1433 243.5h5.6M1433 272.8h5.6M1433 363.4h5.6M1433 535.5h5.6M1433 541.9h5.6M1433 544.5h5.6M1433 556h5.6M1433 569.6h5.6M1433 725.2h5.6M1433 752.6h5.6M1433 756.1h5.6M1433 766.4h5.6M1438.6 63.4h5.6M1438.6 69h5.6M1438.6 170h5.6M1438.6 202.9h5.6M1438.6 313.1h5.6M1438.6 323.6h5.6M1438.6 482.6h5.6M1438.6 553.6h5.6M1438.6 558.5h5.6M1438.6 563.8h5.6M1438.6 651.4h5.6M1438.6 672.1h5.6M1438.6 735.7h5.6M1438.6 787.2h5.6M1444.2 44h5.6M1444.2 45.4h5.6M1444.2 45.7h5.6M1444.2 83.8h5.6M1444.2 107.1h5.6M1444.2 146.7h5.6M1444.2 573.2h5.6M1444.2 581.6h5.6M1444.2 587.7h5.6M1444.2 596.7h5.6M1444.2 654h5.6M1444.2 655.7h5.6M1444.2 711.9h5.6M1444.2 733.9h5.6M1444.2 791.3h5.6M1444.2 848.7h5.6M1444.2 863.9h5.6M1449.8 60.5h5.6M1449.8 66.4h5.6M1449.8 75.8h5.6M1449.8 93.4h5.6M1449.8 116.2h5.6M1449.8 211.2h5.6M1449.8 222.3h5.6M1449.8 442.1h5.6M1449.8 466.7h5.6M1449.8 469.4h5.6M1449.8 502.4h5.6M1449.8 558.4h5.6M1449.8 731.2h5.6M1449.8 872.9h5.6M1455.4 71.1h5.6M1455.4 235.9h5.6M1455.4 411h5.6M1455.4 453.1h5.6M1455.4 588.3h5.6M1455.4 605.4h5.6M1455.4 614.4h5.6M1455.4 615.3h5.6M1455.4 636h5.6M1455.4 675.2h5.6M1455.4 685.4h5.6M1455.4 782.9h5.6M1461 49.6h5.6M1461 93.5h5.6M1461 128h5.6M1461 301.4h5.6M1461 424h5.6M1461 448.5h5.6M1461 502.3h5.6M1461 548.1h5.6M1461 556.1h5.6M1461 575h5.6M1461 626.6h5.6M1461 633.8h5.6M1461 677.8h5.6M1461 701.6h5.6M1461 728h5.6M1461 787.4h5.6M1461 792.1h5.6M1466.5 44h5.6M1466.5 46.2h5.6M1466.5 240.9h5.6M1466.5 266.6h5.6M1466.5 410.2h5.6M1466.5 626.1h5.6M1466.5 669.6h5.6M1466.5 670.5h5.6M1466.5 704h5.6M1466.5 717.9h5.6M1466.5 723.3h5.6M1466.5 774h5.6M1472.1 44h5.6M1472.1 53.5h5.6M1472.1 96h5.6M1472.1 277.1h5.6M1472.1 337.4h5.6M1472.1 551h5.6M1472.1 627.5h5.6M1472.1 638h5.6M1472.1 659.6h5.6M1472.1 688.1h5.6M1472.1 708.4h5.6M1472.1 801.6h5.6M1472.1 803.9h5.6M1472.1 887.6h5.6M1477.7 44h5.6M1477.7 55.9h5.6M1477.7 74.9h5.6M1477.7 98.9h5.6M1477.7 128.2h5.6M1477.7 194.4h5.6M1477.7 222.5h5.6M1477.7 651h5.6M1477.7 677.5h5.6M1477.7 766.1h5.6M1477.7 766.6h5.6M1477.7 859.6h5.6M1477.7 862.6h5.6M1483.3 44h5.6M1483.3 58.8h5.6M1483.3 134h5.6M1483.3 138.8h5.6M1483.3 322.8h5.6M1483.3 347h5.6M1483.3 413.9h5.6M1483.3 578.6h5.6M1483.3 618.7h5.6M1483.3 632.4h5.6M1483.3 704.4h5.6M1483.3 745.3h5.6M1483.3 791.2h5.6M1483.3 797.9h5.6M1488.9 55.2h5.6M1488.9 58.2h5.6M1488.9 148.5h5.6M1488.9 162.6h5.6M1488.9 185.5h5.6M1488.9 626.7h5.6M1488.9 655.4h5.6M1488.9 661.8h5.6M1488.9 696.8h5.6M1488.9 702.6h5.6M1488.9 712.7h5.6M1488.9 740h5.6M1488.9 805.1h5.6M1488.9 850.4h5.6M1494.5 44h5.6M1494.5 258.5h5.6M1494.5 284.2h5.6M1494.5 330.4h5.6M1494.5 500.6h5.6M1494.5 683.8h5.6M1494.5 698.2h5.6M1494.5 760.3h5.6M1494.5 803.9h5.6M1494.5 821h5.6M1494.5 863.7h5.6M1494.5 864.5h5.6M1494.5 869.2h5.6M1500.1 44h5.6M1500.1 44.1h5.6M1500.1 309.7h5.6M1500.1 393.2h5.6M1500.1 540h5.6M1500.1 623.3h5.6M1500.1 637.3h5.6M1500.1 663.8h5.6M1500.1 687.5h5.6M1500.1 690.7h5.6M1500.1 744h5.6M1500.1 795.2h5.6M1500.1 834.1h5.6M1505.7 44h5.6M1505.7 65.3h5.6M1505.7 129.8h5.6M1505.7 285.2h5.6M1505.7 295.7h5.6M1505.7 494.6h5.6M1505.7 537.8h5.6M1505.7 544.7h5.6M1505.7 552.5h5.6M1505.7 646h5.6M1505.7 716.3h5.6M1505.7 876.5h5.6M1511.2 52.9h5.6M1511.2 58.3h5.6M1511.2 95.2h5.6M1511.2 503.2h5.6M1511.2 514.9h5.6M1511.2 518.6h5.6M1511.2 559.5h5.6M1511.2 585.7h5.6M1511.2 613.1h5.6M1511.2 700.2h5.6M1516.8 44h5.6M1516.8 76.2h5.6M1516.8 115.6h5.6M1516.8 244.3h5.6M1516.8 387.3h5.6M1516.8 396.1h5.6M1516.8 435h5.6M1516.8 438.4h5.6M1516.8 539.3h5.6M1516.8 723.3h5.6M1516.8 819.7h5.6M1522.4 47.1h5.6M1522.4 136.4h5.6M1522.4 166.2h5.6M1522.4 179.9h5.6M1522.4 376.9h5.6M1522.4 560.4h5.6M1522.4 574.1h5.6M1522.4 633.5h5.6M1522.4 670.6h5.6M1522.4 674.2h5.6M1522.4 682h5.6M1522.4 691.3h5.6M1522.4 695.5h5.6M1522.4 747h5.6M1522.4 853.4h5.6M1522.4 887.3h5.6M1528 82.8h5.6M1528 103.3h5.6M1528 119h5.6M1528 352.1h5.6M1528 429.3h5.6M1528 557.5h5.6M1528 569.4h5.6M1528 574.9h5.6M1528 580.7h5.6M1528 638h5.6M1528 795h5.6M1528 797.5h5.6M1528 803h5.6M1533.6 44h5.6M1533.6 95.3h5.6M1533.6 99.8h5.6M1533.6 151.8h5.6M1533.6 222.5h5.6M1533.6 281.7h5.6M1533.6 337.4h5.6M1533.6 356.5h5.6M1533.6 371h5.6M1533.6 418.5h5.6M1533.6 451.5h5.6M1533.6 664.1h5.6M1533.6 854.9h5.6M1533.6 863.8h5.6M1539.2 77.5h5.6M1539.2 140.5h5.6M1539.2 203.1h5.6M1539.2 503.3h5.6M1539.2 545.7h5.6M1539.2 566h5.6M1539.2 603.6h5.6M1539.2 627.2h5.6M1539.2 639.3h5.6M1539.2 664.2h5.6M1539.2 687.6h5.6M1539.2 762.6h5.6M1539.2 813.8h5.6M1539.2 848.7h5.6M1544.8 60.7h5.6M1544.8 65.3h5.6M1544.8 177.6h5.6M1544.8 212.6h5.6M1544.8 232h5.6M1544.8 681.4h5.6M1544.8 708h5.6M1544.8 715.6h5.6M1544.8 733.2h5.6M1544.8 749.6h5.6M1544.8 777.8h5.6M1544.8 820.1h5.6M1550.4 69.4h5.6M1550.4 85.7h5.6M1550.4 164.9h5.6M1550.4 189.3h5.6M1550.4 431.3h5.6M1550.4 451.9h5.6M1550.4 501.6h5.6M1550.4 510.6h5.6M1550.4 549.7h5.6M1550.4 568.5h5.6M1550.4 706.5h5.6M1550.4 794h5.6M1555.9 72.4h5.6M1555.9 116.4h5.6M1555.9 227.8h5.6M1555.9 266.9h5.6M1555.9 349.5h5.6M1555.9 390.7h5.6M1555.9 419.6h5.6M1555.9 430.8h5.6M1555.9 504.6h5.6M1555.9 659.3h5.6M1555.9 762h5.6M1555.9 783.9h5.6M1561.5 46h5.6M1561.5 64.4h5.6M1561.5 121h5.6M1561.5 220.6h5.6M1561.5 525.7h5.6M1561.5 531.7h5.6M1561.5 572h5.6M1561.5 671.3h5.6M1561.5 716.7h5.6M1561.5 729.9h5.6M1561.5 764.9h5.6M1561.5 821.6h5.6M1567.1 44.5h5.6M1567.1 203.5h5.6M1567.1 243.6h5.6M1567.1 294.1h5.6M1567.1 449.7h5.6M1567.1 609h5.6M1567.1 611.5h5.6M1567.1 616.6h5.6M1567.1 681.1h5.6M1567.1 756.3h5.6M1567.1 782.9h5.6M1567.1 817.4h5.6M1567.1 840.4h5.6M1572.7 52.6h5.6M1572.7 99.3h5.6M1572.7 111.3h5.6M1572.7 136.1h5.6M1572.7 166h5.6M1572.7 391.9h5.6M1572.7 428h5.6M1572.7 432.2h5.6M1572.7 434.4h5.6M1572.7 444.2h5.6M1572.7 630.4h5.6M1572.7 670.8h5.6M1572.7 840.7h5.6M1578.3 44h5.6M1578.3 102.8h5.6M1578.3 244.8h5.6M1578.3 258.9h5.6M1578.3 343.3h5.6M1578.3 441.1h5.6M1578.3 567.3h5.6M1578.3 572.8h5.6M1578.3 606.3h5.6M1578.3 627h5.6M1578.3 757.2h5.6M1578.3 774.4h5.6M1583.9 65.4h5.6M1583.9 68.5h5.6M1583.9 74.5h5.6M1583.9 213.7h5.6M1583.9 395.6h5.6M1583.9 434.6h5.6M1583.9 521.5h5.6M1583.9 530h5.6M1583.9 542.3h5.6M1583.9 617h5.6M1583.9 770h5.6M1583.9 771.1h5.6M1583.9 775.2h5.6M1589.5 44h5.6M1589.5 48.1h5.6M1589.5 85.8h5.6M1589.5 287.7h5.6M1589.5 318.3h5.6M1589.5 325.3h5.6M1589.5 402.3h5.6M1589.5 440.8h5.6M1589.5 642.1h5.6M1589.5 680.4h5.6M1589.5 881.6h5.6M1595.1 63.9h5.6M1595.1 92.2h5.6M1595.1 132.5h5.6M1595.1 153h5.6M1595.1 246.2h5.6M1595.1 319.3h5.6M1595.1 658.8h5.6M1595.1 703.5h5.6M1595.1 712.7h5.6M1595.1 717.2h5.6M1595.1 744.9h5.6M1595.1 769.9h5.6M1595.1 831.7h5.6M1595.1 838.9h5.6M1595.1 867.1h5.6M1600.6 60.4h5.6M1600.6 75.7h5.6M1600.6 211.5h5.6M1600.6 236.6h5.6M1600.6 627.8h5.6M1600.6 635.7h5.6M1600.6 649h5.6M1600.6 653.1h5.6M1600.6 728.8h5.6M1600.6 736.7h5.6M1600.6 746.9h5.6M1600.6 786.7h5.6M1600.6 840.9h5.6M1606.2 56.9h5.6M1606.2 108.2h5.6M1606.2 117h5.6M1606.2 152.5h5.6M1606.2 178.1h5.6M1606.2 260.7h5.6M1606.2 334.9h5.6M1606.2 394.4h5.6M1606.2 407.2h5.6M1606.2 431.4h5.6M1606.2 489.9h5.6M1606.2 799.7h5.6M1606.2 879.2h5.6M1611.8 46.8h5.6M1611.8 126.7h5.6M1611.8 160.2h5.6M1611.8 331.2h5.6M1611.8 350h5.6M1611.8 363.3h5.6M1611.8 483.7h5.6M1611.8 514.3h5.6M1611.8 730.1h5.6M1611.8 753.9h5.6M1617.4 44h5.6M1617.4 73.3h5.6M1617.4 83.8h5.6M1617.4 251h5.6M1617.4 324.2h5.6M1617.4 724.9h5.6M1617.4 727h5.6M1617.4 759.2h5.6M1617.4 772.2h5.6M1617.4 779.3h5.6M1617.4 785.9h5.6M1617.4 827.6h5.6M1623 44h5.6M1623 77.9h5.6M1623 144.6h5.6M1623 158.5h5.6M1623 202.8h5.6M1623 486.9h5.6M1623 521.4h5.6M1623 522.9h5.6M1623 552.7h5.6M1623 560.3h5.6M1623 742.4h5.6M1623 754.3h5.6M1623 778.2h5.6M1628.6 78.4h5.6M1628.6 87h5.6M1628.6 141.5h5.6M1628.6 332h5.6M1628.6 358.9h5.6M1628.6 482.6h5.6M1628.6 534.8h5.6M1628.6 565.2h5.6M1628.6 622.3h5.6M1628.6 771.9h5.6M1628.6 878.5h5.6M1634.2 44h5.6M1634.2 63.4h5.6M1634.2 129.6h5.6M1634.2 224.5h5.6M1634.2 277.7h5.6M1634.2 502.5h5.6M1634.2 539.4h5.6M1634.2 548.4h5.6M1634.2 553.1h5.6M1634.2 614.9h5.6M1634.2 670.4h5.6M1634.2 810.5h5.6M1634.2 826.3h5.6M1639.8 44h5.6M1639.8 52h5.6M1639.8 52.1h5.6M1639.8 97.2h5.6M1639.8 223.6h5.6M1639.8 264.8h5.6M1639.8 567.4h5.6M1639.8 578.4h5.6M1639.8 607.7h5.6M1639.8 618h5.6M1639.8 618.5h5.6M1639.8 692.2h5.6M1639.8 694.7h5.6M1639.8 714.1h5.6M1639.8 882.4h5.6M1639.8 886.8h5.6M1645.3 51.8h5.6M1645.3 79.3h5.6M1645.3 104.1h5.6M1645.3 130.1h5.6M1645.3 330.3h5.6M1645.3 425.5h5.6M1645.3 431.1h5.6M1645.3 447.1h5.6M1645.3 468h5.6M1645.3 496.9h5.6M1645.3 618.3h5.6M1645.3 760.8h5.6M1645.3 788.6h5.6M1650.9 44h5.6M1650.9 54.3h5.6M1650.9 85.3h5.6M1650.9 142h5.6M1650.9 607.7h5.6M1650.9 617.2h5.6M1650.9 641.2h5.6M1650.9 654.6h5.6M1650.9 673.7h5.6M1650.9 703.5h5.6M1650.9 792.6h5.6M1650.9 838.6h5.6M1656.5 44h5.6M1656.5 77.3h5.6M1656.5 108.6h5.6M1656.5 149.2h5.6M1656.5 255.7h5.6M1656.5 282.1h5.6M1656.5 630.5h5.6M1656.5 634.9h5.6M1656.5 652.3h5.6M1656.5 688.5h5.6M1656.5 718.8h5.6M1656.5 850.4h5.6M1656.5 859.6h5.6M1656.5 868h5.6M1656.5 871h5.6M1656.5 880.8h5.6M1662.1 50.2h5.6M1662.1 72.6h5.6M1662.1 261.1h5.6M1662.1 284.3h5.6M1662.1 292.8h5.6M1662.1 463.3h5.6M1662.1 466.3h5.6M1662.1 492.1h5.6M1662.1 498.1h5.6M1662.1 516.9h5.6M1662.1 747h5.6M1662.1 752.3h5.6M254 44H1667.7M254 888H1667.7"/>
<path fill="none" stroke="#555" stroke-width="1.9" d="M197.5 44V888M191.5 888H198M191.5 719.2H198M191.5 550.4H198M191.5 381.6H198M191.5 212.8H198M191.5 44H198"/>
<text x="194.1" y="900.5" text-anchor="end" font-family="'Liberation Sans', Arial, Helvetica, sans-serif" font-size="32.8">0%</text>
<text x="194.1" y="731.7" text-anchor="end" font-family="'Liberation Sans', Arial, Helvetica, sans-serif" font-size="32.8">20%</text>
<text x="194.1" y="562.9" text-anchor="end" font-family="'Liberation Sans', Arial, Helvetica, sans-serif" font-size="32.8">40%</text>
<text x="194.1" y="394.1" text-anchor="end" font-family="'Liberation Sans', Arial, Helvetica, sans-serif" font-size="32.8">60%</text>
<text x="194.1" y="225.3" text-anchor="end" font-family="'Liberation Sans', Arial, Helvetica, sans-serif" font-size="32.8">80%</text>
<text x="194.1" y="56.5" text-anchor="end" font-family="'Liberation Sans', Arial, Helvetica, sans-serif" font-size="32.8">100%</text>
<text transform="translate(114.8 468.6) rotate(-90)" text-anchor="middle" font-family="'Liberation Sans', Arial, Helvetica, sans-serif" font-size="38.5">Relative Percent</text>
<text x="47.0" y="62.3" font-family="'Liberation Serif', 'Times New Roman', serif" font-weight="bold" font-size="86.5">a</text>
<rect x="254" y="896.3" width="720.8" height="42.4" fill="#00FF00" stroke="#000" stroke-width="1.5"/>
<rect x="974.8" y="896.3" width="692.9" height="42.4" fill="#FF0000" stroke="#000" stroke-width="1.5"/>
<text x="612.1" y="931.8" text-anchor="middle" font-family="'Liberation Sans', Arial, Helvetica, sans-serif" font-size="39.6">Low risk</text>
<text x="1318.2" y="927.3" text-anchor="middle" font-family="'Liberation Sans', Arial, Helvetica, sans-serif" font-size="39.6">High risk</text>
<rect x="1713" y="71.6" width="13" height="12.6" fill="#B23636"/>
<text x="1744.6" y="87.8" font-family="'Liberation Sans', Arial, Helvetica, sans-serif" font-size="28.8">B cells naive</text>
<rect x="1713" y="105.2" width="13" height="12.6" fill="#B25836"/>
<text x="1744.6" y="121.4" font-family="'Liberation Sans', Arial, Helvetica, sans-serif" font-size="28.8">B cells memory</text>
<rect x="1713" y="138.7" width="13" height="12.6" fill="#B27A36"/>
<text x="1744.6" y="154.9" font-family="'Liberation Sans', Arial, Helvetica, sans-serif" font-size="28.8">Plasma cells</text>
<rect x="1713" y="172.3" width="13" height="12.6" fill="#B29C36"/>
<text x="1744.6" y="188.5" font-family="'Liberation Sans', Arial, Helvetica, sans-serif" font-size="28.8">T cells CD8</text>
<rect x="1713" y="205.8" width="13" height="12.6" fill="#A7B236"/>
<text x="1744.6" y="222" font-family="'Liberation Sans', Arial, Helvetica, sans-serif" font-size="28.8">T cells CD4 naive</text>
<rect x="1713" y="239.4" width="13" height="12.6" fill="#85B236"/>
<text x="1744.6" y="255.6" font-family="'Liberation Sans', Arial, Helvetica, sans-serif" font-size="28.8">T cells CD4 memory resting</text>
<rect x="1713" y="273" width="13" height="12.6" fill="#63B236"/>
<text x="1744.6" y="289.2" font-family="'Liberation Sans', Arial, Helvetica, sans-serif" font-size="28.8">T cells CD4 memory activated</text>
<rect x="1713" y="306.5" width="13" height="12.6" fill="#41B236"/>
<text x="1744.6" y="322.7" font-family="'Liberation Sans', Arial, Helvetica, sans-serif" font-size="28.8">T cells follicular helper</text>
<rect x="1713" y="340.1" width="13" height="12.6" fill="#36B24C"/>
<text x="1744.6" y="356.3" font-family="'Liberation Sans', Arial, Helvetica, sans-serif" font-size="28.8">T cells regulatory (Tregs)</text>
<rect x="1713" y="373.6" width="13" height="12.6" fill="#36B26E"/>
<text x="1744.6" y="389.8" font-family="'Liberation Sans', Arial, Helvetica, sans-serif" font-size="28.8">T cells gamma delta</text>
<rect x="1713" y="407.2" width="13" height="12.6" fill="#36B290"/>
<text x="1744.6" y="423.4" font-family="'Liberation Sans', Arial, Helvetica, sans-serif" font-size="28.8">NK cells resting</text>
<rect x="1713" y="440.8" width="13" height="12.6" fill="#36B2B2"/>
<text x="1744.6" y="457" font-family="'Liberation Sans', Arial, Helvetica, sans-serif" font-size="28.8">NK cells activated</text>
<rect x="1713" y="474.3" width="13" height="12.6" fill="#3690B2"/>
<text x="1744.6" y="490.5" font-family="'Liberation Sans', Arial, Helvetica, sans-serif" font-size="28.8">Monocytes</text>
<rect x="1713" y="507.9" width="13" height="12.6" fill="#366EB2"/>
<text x="1744.6" y="524.1" font-family="'Liberation Sans', Arial, Helvetica, sans-serif" font-size="28.8">Macrophages M0</text>
<rect x="1713" y="541.4" width="13" height="12.6" fill="#364CB2"/>
<text x="1744.6" y="557.6" font-family="'Liberation Sans', Arial, Helvetica, sans-serif" font-size="28.8">Macrophages M1</text>
<rect x="1713" y="575" width="13" height="12.6" fill="#4136B2"/>
<text x="1744.6" y="591.2" font-family="'Liberation Sans', Arial, Helvetica, sans-serif" font-size="28.8">Macrophages M2</text>
<rect x="1713" y="608.6" width="13" height="12.6" fill="#6336B2"/>
<text x="1744.6" y="624.8" font-family="'Liberation Sans', Arial, Helvetica, sans-serif" font-size="28.8">Dendritic cells resting</text>
<rect x="1713" y="642.1" width="13" height="12.6" fill="#8536B2"/>
<text x="1744.6" y="658.3" font-family="'Liberation Sans', Arial, Helvetica, sans-serif" font-size="28.8">Dendritic cells activated</text>
<rect x="1713" y="675.7" width="13" height="12.6" fill="#A736B2"/>
<text x="1744.6" y="691.9" font-family="'Liberation Sans', Arial, Helvetica, sans-serif" font-size="28.8">Mast cells resting</text>
<rect x="1713" y="709.2" width="13" height="12.6" fill="#B2369C"/>
<text x="1744.6" y="725.4" font-family="'Liberation Sans', Arial, Helvetica, sans-serif" font-size="28.8">Mast cells activated</text>
<rect x="1713" y="742.8" width="13" height="12.6" fill="#B2367A"/>
<text x="1744.6" y="759" font-family="'Liberation Sans', Arial, Helvetica, sans-serif" font-size="28.8">Eosinophils</text>
<rect x="1713" y="776.4" width="13" height="12.6" fill="#B23658"/>
<text x="1744.6" y="792.6" font-family="'Liberation Sans', Arial, Helvetica, sans-serif" font-size="28.8">Neutrophils</text>
<text x="32.5" y="1126.5" font-family="'Liberation Serif', 'Times New Roman', serif" font-weight="bold" font-size="86.5">b</text>
<rect x="469.4" y="1509.4" width="63.6" height="63.6" fill="#FF0000"/>
<rect x="532.6" y="1509.4" width="63.6" height="63.6" fill="#FFEFEF"/>
<rect x="595.8" y="1509.4" width="63.6" height="63.6" fill="#FFD0D0"/>
<rect x="659.1" y="1509.4" width="63.6" height="63.6" fill="#FFFAFA"/>
<rect x="722.3" y="1509.4" width="63.6" height="63.6" fill="#E5E5FF"/>
<rect x="785.5" y="1509.4" width="63.6" height="63.6" fill="#FFFAFA"/>
<rect x="848.7" y="1509.4" width="63.6" height="63.6" fill="#FAFAFF"/>
<rect x="911.9" y="1509.4" width="63.6" height="63.6" fill="#A7A7FF"/>
<rect x="975.2" y="1509.4" width="63.6" height="63.6" fill="#7D7DFF"/>
<rect x="1038.4" y="1509.4" width="63.6" height="63.6" fill="#9292FF"/>
<rect x="1101.6" y="1509.4" width="63.6" height="63.6" fill="#B1B1FF"/>
<rect x="1164.8" y="1509.4" width="63.6" height="63.6" fill="#B1B1FF"/>
<rect x="1228" y="1509.4" width="63.6" height="63.6" fill="#EFEFFF"/>
<rect x="1291.3" y="1509.4" width="63.6" height="63.6" fill="#FAFAFF"/>
<rect x="1354.5" y="1509.4" width="63.6" height="63.6" fill="#B1B1FF"/>
<rect x="1417.7" y="1509.4" width="63.6" height="63.6" fill="#FAFAFF"/>
<rect x="1480.9" y="1509.4" width="63.6" height="63.6" fill="#D0D0FF"/>
<rect x="1544.1" y="1509.4" width="63.6" height="63.6" fill="#EFEFFF"/>
<rect x="1607.4" y="1509.4" width="63.6" height="63.6" fill="#D0D0FF"/>
<rect x="1670.6" y="1509.4" width="63.6" height="63.6" fill="#FAFAFF"/>
<rect x="1733.8" y="1509.4" width="63.6" height="63.6" fill="#9292FF"/>
<rect x="1797" y="1509.4" width="65.7" height="63.6" fill="#BBBBFF"/>
<rect x="469.4" y="1572.6" width="63.6" height="63.6" fill="#FFEFEF"/>
<rect x="532.6" y="1572.6" width="63.6" height="63.6" fill="#FF0000"/>
<rect x="595.8" y="1572.6" width="63.6" height="63.6" fill="#FAFAFF"/>
<rect x="659.1" y="1572.6" width="63.6" height="63.6" fill="#E5E5FF"/>
<rect x="722.3" y="1572.6" width="63.6" height="63.6" fill="#E5E5FF"/>
<rect x="785.5" y="1572.6" width="63.6" height="63.6" fill="#FAFAFF"/>
<rect x="848.7" y="1572.6" width="63.6" height="63.6" fill="#FFEFEF"/>
<rect x="911.9" y="1572.6" width="63.6" height="63.6" fill="#FFFAFA"/>
<rect x="975.2" y="1572.6" width="63.6" height="63.6" fill="#EFEFFF"/>
<rect x="1038.4" y="1572.6" width="63.6" height="63.6" fill="#EFEFFF"/>
<rect x="1101.6" y="1572.6" width="63.6" height="63.6" fill="#BBBBFF"/>
<rect x="1164.8" y="1572.6" width="63.6" height="63.6" fill="#BBBBFF"/>
<rect x="1228" y="1572.6" width="63.6" height="63.6" fill="#FAFAFF"/>
<rect x="1291.3" y="1572.6" width="63.6" height="63.6" fill="#FAFAFF"/>
<rect x="1354.5" y="1572.6" width="63.6" height="63.6" fill="#E5E5FF"/>
<rect x="1417.7" y="1572.6" width="63.6" height="63.6" fill="#EFEFFF"/>
<rect x="1480.9" y="1572.6" width="63.6" height="63.6" fill="#EFEFFF"/>
<rect x="1544.1" y="1572.6" width="63.6" height="63.6" fill="#EFEFFF"/>
<rect x="1607.4" y="1572.6" width="63.6" height="63.6" fill="#FAFAFF"/>
<rect x="1670.6" y="1572.6" width="63.6" height="63.6" fill="#FFFAFA"/>
<rect x="1733.8" y="1572.6" width="63.6" height="63.6" fill="#DBDBFF"/>
<rect x="1797" y="1572.6" width="65.7" height="63.6" fill="#FAFAFF"/>
<rect x="469.4" y="1635.7" width="63.6" height="63.6" fill="#FFD0D0"/>
<rect x="532.6" y="1635.7" width="63.6" height="63.6" fill="#FAFAFF"/>
<rect x="595.8" y="1635.7" width="63.6" height="63.6" fill="#FF0000"/>
<rect x="659.1" y="1635.7" width="63.6" height="63.6" fill="#FF9C9C"/>
<rect x="722.3" y="1635.7" width="63.6" height="63.6" fill="#FFBBBB"/>
<rect x="785.5" y="1635.7" width="63.6" height="63.6" fill="#FFDBDB"/>
<rect x="848.7" y="1635.7" width="63.6" height="63.6" fill="#FFC6C6"/>
<rect x="911.9" y="1635.7" width="63.6" height="63.6" fill="#C6C6FF"/>
<rect x="975.2" y="1635.7" width="63.6" height="63.6" fill="#BBBBFF"/>
<rect x="1038.4" y="1635.7" width="63.6" height="63.6" fill="#DBDBFF"/>
<rect x="1101.6" y="1635.7" width="63.6" height="63.6" fill="#E5E5FF"/>
<rect x="1164.8" y="1635.7" width="63.6" height="63.6" fill="#E5E5FF"/>
<rect x="1228" y="1635.7" width="63.6" height="63.6" fill="#EFEFFF"/>
<rect x="1291.3" y="1635.7" width="63.6" height="63.6" fill="#EFEFFF"/>
<rect x="1354.5" y="1635.7" width="63.6" height="63.6" fill="#FAFAFF"/>
<rect x="1417.7" y="1635.7" width="63.6" height="63.6" fill="#FFDBDB"/>
<rect x="1480.9" y="1635.7" width="63.6" height="63.6" fill="#DBDBFF"/>
<rect x="1544.1" y="1635.7" width="63.6" height="63.6" fill="#DBDBFF"/>
<rect x="1607.4" y="1635.7" width="63.6" height="63.6" fill="#9292FF"/>
<rect x="1670.6" y="1635.7" width="63.6" height="63.6" fill="#EFEFFF"/>
<rect x="1733.8" y="1635.7" width="63.6" height="63.6" fill="#BBBBFF"/>
<rect x="1797" y="1635.7" width="65.7" height="63.6" fill="#C6C6FF"/>
<rect x="469.4" y="1698.9" width="63.6" height="63.6" fill="#FFFAFA"/>
<rect x="532.6" y="1698.9" width="63.6" height="63.6" fill="#E5E5FF"/>
<rect x="595.8" y="1698.9" width="63.6" height="63.6" fill="#FF9C9C"/>
<rect x="659.1" y="1698.9" width="63.6" height="63.6" fill="#FF0000"/>
<rect x="722.3" y="1698.9" width="63.6" height="63.6" fill="#FF7D7D"/>
<rect x="785.5" y="1698.9" width="63.6" height="63.6" fill="#FFEFEF"/>
<rect x="848.7" y="1698.9" width="63.6" height="63.6" fill="#FFDBDB"/>
<rect x="911.9" y="1698.9" width="63.6" height="63.6" fill="#E5E5FF"/>
<rect x="975.2" y="1698.9" width="63.6" height="63.6" fill="#EFEFFF"/>
<rect x="1038.4" y="1698.9" width="63.6" height="63.6" fill="#FAFAFF"/>
<rect x="1101.6" y="1698.9" width="63.6" height="63.6" fill="#FAFAFF"/>
<rect x="1164.8" y="1698.9" width="63.6" height="63.6" fill="#FFFAFA"/>
<rect x="1228" y="1698.9" width="63.6" height="63.6" fill="#EFEFFF"/>
<rect x="1291.3" y="1698.9" width="63.6" height="63.6" fill="#FAFAFF"/>
<rect x="1354.5" y="1698.9" width="63.6" height="63.6" fill="#FFFAFA"/>
<rect x="1417.7" y="1698.9" width="63.6" height="63.6" fill="#FAFAFF"/>
<rect x="1480.9" y="1698.9" width="63.6" height="63.6" fill="#FAFAFF"/>
<rect x="1544.1" y="1698.9" width="63.6" height="63.6" fill="#E5E5FF"/>
<rect x="1607.4" y="1698.9" width="63.6" height="63.6" fill="#DBDBFF"/>
<rect x="1670.6" y="1698.9" width="63.6" height="63.6" fill="#FAFAFF"/>
<rect x="1733.8" y="1698.9" width="63.6" height="63.6" fill="#DBDBFF"/>
<rect x="1797" y="1698.9" width="65.7" height="63.6" fill="#DBDBFF"/>
<rect x="469.4" y="1762.1" width="63.6" height="63.6" fill="#E5E5FF"/>
<rect x="532.6" y="1762.1" width="63.6" height="63.6" fill="#E5E5FF"/>
<rect x="595.8" y="1762.1" width="63.6" height="63.6" fill="#FFBBBB"/>
<rect x="659.1" y="1762.1" width="63.6" height="63.6" fill="#FF7D7D"/>
<rect x="722.3" y="1762.1" width="63.6" height="63.6" fill="#FF0000"/>
<rect x="785.5" y="1762.1" width="63.6" height="63.6" fill="#FFFAFA"/>
<rect x="848.7" y="1762.1" width="63.6" height="63.6" fill="#FFEFEF"/>
<rect x="911.9" y="1762.1" width="63.6" height="63.6" fill="#DBDBFF"/>
<rect x="975.2" y="1762.1" width="63.6" height="63.6" fill="#E5E5FF"/>
<rect x="1038.4" y="1762.1" width="63.6" height="63.6" fill="#FFFAFA"/>
<rect x="1101.6" y="1762.1" width="63.6" height="63.6" fill="#FFFAFA"/>
<rect x="1164.8" y="1762.1" width="63.6" height="63.6" fill="#FFDBDB"/>
<rect x="1228" y="1762.1" width="63.6" height="63.6" fill="#FAFAFF"/>
<rect x="1291.3" y="1762.1" width="63.6" height="63.6" fill="#EFEFFF"/>
<rect x="1354.5" y="1762.1" width="63.6" height="63.6" fill="#FAFAFF"/>
<rect x="1417.7" y="1762.1" width="63.6" height="63.6" fill="#FFE5E5"/>
<rect x="1480.9" y="1762.1" width="63.6" height="63.6" fill="#FFEFEF"/>
<rect x="1544.1" y="1762.1" width="63.6" height="63.6" fill="#DBDBFF"/>
<rect x="1607.4" y="1762.1" width="63.6" height="63.6" fill="#D0D0FF"/>
<rect x="1670.6" y="1762.1" width="63.6" height="63.6" fill="#FAFAFF"/>
<rect x="1733.8" y="1762.1" width="63.6" height="63.6" fill="#E5E5FF"/>
<rect x="1797" y="1762.1" width="65.7" height="63.6" fill="#EFEFFF"/>
<rect x="469.4" y="1825.2" width="63.6" height="63.6" fill="#FFFAFA"/>
<rect x="532.6" y="1825.2" width="63.6" height="63.6" fill="#FAFAFF"/>
<rect x="595.8" y="1825.2" width="63.6" height="63.6" fill="#FFDBDB"/>
<rect x="659.1" y="1825.2" width="63.6" height="63.6" fill="#FFEFEF"/>
<rect x="722.3" y="1825.2" width="63.6" height="63.6" fill="#FFFAFA"/>
<rect x="785.5" y="1825.2" width="63.6" height="63.6" fill="#FF0000"/>
<rect x="848.7" y="1825.2" width="63.6" height="63.6" fill="#FFDBDB"/>
<rect x="911.9" y="1825.2" width="63.6" height="63.6" fill="#FFEFEF"/>
<rect x="975.2" y="1825.2" width="63.6" height="63.6" fill="#8787FF"/>
<rect x="1038.4" y="1825.2" width="63.6" height="63.6" fill="#BBBBFF"/>
<rect x="1101.6" y="1825.2" width="63.6" height="63.6" fill="#FFEFEF"/>
<rect x="1164.8" y="1825.2" width="63.6" height="63.6" fill="#D0D0FF"/>
<rect x="1228" y="1825.2" width="63.6" height="63.6" fill="#DBDBFF"/>
<rect x="1291.3" y="1825.2" width="63.6" height="63.6" fill="#FAFAFF"/>
<rect x="1354.5" y="1825.2" width="63.6" height="63.6" fill="#FFEFEF"/>
<rect x="1417.7" y="1825.2" width="63.6" height="63.6" fill="#FFEFEF"/>
<rect x="1480.9" y="1825.2" width="63.6" height="63.6" fill="#FAFAFF"/>
<rect x="1544.1" y="1825.2" width="63.6" height="63.6" fill="#E5E5FF"/>
<rect x="1607.4" y="1825.2" width="63.6" height="63.6" fill="#E5E5FF"/>
<rect x="1670.6" y="1825.2" width="63.6" height="63.6" fill="#EFEFFF"/>
<rect x="1733.8" y="1825.2" width="63.6" height="63.6" fill="#9C9CFF"/>
<rect x="1797" y="1825.2" width="65.7" height="63.6" fill="#B1B1FF"/>
<rect x="469.4" y="1888.4" width="63.6" height="63.6" fill="#FAFAFF"/>
<rect x="532.6" y="1888.4" width="63.6" height="63.6" fill="#FFEFEF"/>
<rect x="595.8" y="1888.4" width="63.6" height="63.6" fill="#FFC6C6"/>
<rect x="659.1" y="1888.4" width="63.6" height="63.6" fill="#FFDBDB"/>
<rect x="722.3" y="1888.4" width="63.6" height="63.6" fill="#FFEFEF"/>
<rect x="785.5" y="1888.4" width="63.6" height="63.6" fill="#FFDBDB"/>
<rect x="848.7" y="1888.4" width="63.6" height="63.6" fill="#FF0000"/>
<rect x="911.9" y="1888.4" width="63.6" height="63.6" fill="#FFEFEF"/>
<rect x="975.2" y="1888.4" width="63.6" height="63.6" fill="#FFE5E5"/>
<rect x="1038.4" y="1888.4" width="63.6" height="63.6" fill="#FFC6C6"/>
<rect x="1101.6" y="1888.4" width="63.6" height="63.6" fill="#DBDBFF"/>
<rect x="1164.8" y="1888.4" width="63.6" height="63.6" fill="#D0D0FF"/>
<rect x="1228" y="1888.4" width="63.6" height="63.6" fill="#EFEFFF"/>
<rect x="1291.3" y="1888.4" width="63.6" height="63.6" fill="#FAFAFF"/>
<rect x="1354.5" y="1888.4" width="63.6" height="63.6" fill="#FFFAFA"/>
<rect x="1417.7" y="1888.4" width="63.6" height="63.6" fill="#FAFAFF"/>
<rect x="1480.9" y="1888.4" width="63.6" height="63.6" fill="#C6C6FF"/>
<rect x="1544.1" y="1888.4" width="63.6" height="63.6" fill="#A7A7FF"/>
<rect x="1607.4" y="1888.4" width="63.6" height="63.6" fill="#C6C6FF"/>
<rect x="1670.6" y="1888.4" width="63.6" height="63.6" fill="#EFEFFF"/>
<rect x="1733.8" y="1888.4" width="63.6" height="63.6" fill="#C6C6FF"/>
<rect x="1797" y="1888.4" width="65.7" height="63.6" fill="#BBBBFF"/>
<rect x="469.4" y="1951.6" width="63.6" height="63.6" fill="#A7A7FF"/>
<rect x="532.6" y="1951.6" width="63.6" height="63.6" fill="#FFFAFA"/>
<rect x="595.8" y="1951.6" width="63.6" height="63.6" fill="#C6C6FF"/>
<rect x="659.1" y="1951.6" width="63.6" height="63.6" fill="#E5E5FF"/>
<rect x="722.3" y="1951.6" width="63.6" height="63.6" fill="#DBDBFF"/>
<rect x="785.5" y="1951.6" width="63.6" height="63.6" fill="#FFEFEF"/>
<rect x="848.7" y="1951.6" width="63.6" height="63.6" fill="#FFEFEF"/>
<rect x="911.9" y="1951.6" width="63.6" height="63.6" fill="#FF0000"/>
<rect x="975.2" y="1951.6" width="63.6" height="63.6" fill="#FFBBBB"/>
<rect x="1038.4" y="1951.6" width="63.6" height="63.6" fill="#FFBBBB"/>
<rect x="1101.6" y="1951.6" width="63.6" height="63.6" fill="#BBBBFF"/>
<rect x="1164.8" y="1951.6" width="63.6" height="63.6" fill="#B1B1FF"/>
<rect x="1228" y="1951.6" width="63.6" height="63.6" fill="#EFEFFF"/>
<rect x="1291.3" y="1951.6" width="63.6" height="63.6" fill="#E5E5FF"/>
<rect x="1354.5" y="1951.6" width="63.6" height="63.6" fill="#FAFAFF"/>
<rect x="1417.7" y="1951.6" width="63.6" height="63.6" fill="#EFEFFF"/>
<rect x="1480.9" y="1951.6" width="63.6" height="63.6" fill="#FFEFEF"/>
<rect x="1544.1" y="1951.6" width="63.6" height="63.6" fill="#FFD0D0"/>
<rect x="1607.4" y="1951.6" width="63.6" height="63.6" fill="#FFD0D0"/>
<rect x="1670.6" y="1951.6" width="63.6" height="63.6" fill="#FFEFEF"/>
<rect x="1733.8" y="1951.6" width="63.6" height="63.6" fill="#FFC6C6"/>
<rect x="1797" y="1951.6" width="65.7" height="63.6" fill="#E5E5FF"/>
<rect x="469.4" y="2014.8" width="63.6" height="63.6" fill="#7D7DFF"/>
<rect x="532.6" y="2014.8" width="63.6" height="63.6" fill="#EFEFFF"/>
<rect x="595.8" y="2014.8" width="63.6" height="63.6" fill="#BBBBFF"/>
<rect x="659.1" y="2014.8" width="63.6" height="63.6" fill="#EFEFFF"/>
<rect x="722.3" y="2014.8" width="63.6" height="63.6" fill="#E5E5FF"/>
<rect x="785.5" y="2014.8" width="63.6" height="63.6" fill="#8787FF"/>
<rect x="848.7" y="2014.8" width="63.6" height="63.6" fill="#FFE5E5"/>
<rect x="911.9" y="2014.8" width="63.6" height="63.6" fill="#FFBBBB"/>
<rect x="975.2" y="2014.8" width="63.6" height="63.6" fill="#FF0000"/>
<rect x="1038.4" y="2014.8" width="63.6" height="63.6" fill="#FF5E5E"/>
<rect x="1101.6" y="2014.8" width="63.6" height="63.6" fill="#FFFAFA"/>
<rect x="1164.8" y="2014.8" width="63.6" height="63.6" fill="#FFFAFA"/>
<rect x="1228" y="2014.8" width="63.6" height="63.6" fill="#FFEFEF"/>
<rect x="1291.3" y="2014.8" width="63.6" height="63.6" fill="#EFEFFF"/>
<rect x="1354.5" y="2014.8" width="63.6" height="63.6" fill="#FFDBDB"/>
<rect x="1417.7" y="2014.8" width="63.6" height="63.6" fill="#C6C6FF"/>
<rect x="1480.9" y="2014.8" width="63.6" height="63.6" fill="#EFEFFF"/>
<rect x="1544.1" y="2014.8" width="63.6" height="63.6" fill="#FFEFEF"/>
<rect x="1607.4" y="2014.8" width="63.6" height="63.6" fill="#FFFAFA"/>
<rect x="1670.6" y="2014.8" width="63.6" height="63.6" fill="#FFFAFA"/>
<rect x="1733.8" y="2014.8" width="63.6" height="63.6" fill="#FF9292"/>
<rect x="1797" y="2014.8" width="65.7" height="63.6" fill="#FFD0D0"/>
<rect x="469.4" y="2077.9" width="63.6" height="63.6" fill="#9292FF"/>
<rect x="532.6" y="2077.9" width="63.6" height="63.6" fill="#EFEFFF"/>
<rect x="595.8" y="2077.9" width="63.6" height="63.6" fill="#DBDBFF"/>
<rect x="659.1" y="2077.9" width="63.6" height="63.6" fill="#FAFAFF"/>
<rect x="722.3" y="2077.9" width="63.6" height="63.6" fill="#FFFAFA"/>
<rect x="785.5" y="2077.9" width="63.6" height="63.6" fill="#BBBBFF"/>
<rect x="848.7" y="2077.9" width="63.6" height="63.6" fill="#FFC6C6"/>
<rect x="911.9" y="2077.9" width="63.6" height="63.6" fill="#FFBBBB"/>
<rect x="975.2" y="2077.9" width="63.6" height="63.6" fill="#FF5E5E"/>
<rect x="1038.4" y="2077.9" width="63.6" height="63.6" fill="#FF0000"/>
<rect x="1101.6" y="2077.9" width="63.6" height="63.6" fill="#EFEFFF"/>
<rect x="1164.8" y="2077.9" width="63.6" height="63.6" fill="#FFFAFA"/>
<rect x="1228" y="2077.9" width="63.6" height="63.6" fill="#FFE5E5"/>
<rect x="1291.3" y="2077.9" width="63.6" height="63.6" fill="#FFFAFA"/>
<rect x="1354.5" y="2077.9" width="63.6" height="63.6" fill="#FFDBDB"/>
<rect x="1417.7" y="2077.9" width="63.6" height="63.6" fill="#E5E5FF"/>
<rect x="1480.9" y="2077.9" width="63.6" height="63.6" fill="#E5E5FF"/>
<rect x="1544.1" y="2077.9" width="63.6" height="63.6" fill="#E5E5FF"/>
<rect x="1607.4" y="2077.9" width="63.6" height="63.6" fill="#FAFAFF"/>
<rect x="1670.6" y="2077.9" width="63.6" height="63.6" fill="#FFEFEF"/>
<rect x="1733.8" y="2077.9" width="63.6" height="63.6" fill="#FFC6C6"/>
<rect x="1797" y="2077.9" width="65.7" height="63.6" fill="#EFEFFF"/>
<rect x="469.4" y="2141.1" width="63.6" height="63.6" fill="#B1B1FF"/>
<rect x="532.6" y="2141.1" width="63.6" height="63.6" fill="#BBBBFF"/>
<rect x="595.8" y="2141.1" width="63.6" height="63.6" fill="#E5E5FF"/>
<rect x="659.1" y="2141.1" width="63.6" height="63.6" fill="#FAFAFF"/>
<rect x="722.3" y="2141.1" width="63.6" height="63.6" fill="#FFFAFA"/>
<rect x="785.5" y="2141.1" width="63.6" height="63.6" fill="#FFEFEF"/>
<rect x="848.7" y="2141.1" width="63.6" height="63.6" fill="#DBDBFF"/>
<rect x="911.9" y="2141.1" width="63.6" height="63.6" fill="#BBBBFF"/>
<rect x="975.2" y="2141.1" width="63.6" height="63.6" fill="#FFFAFA"/>
<rect x="1038.4" y="2141.1" width="63.6" height="63.6" fill="#EFEFFF"/>
<rect x="1101.6" y="2141.1" width="63.6" height="63.6" fill="#FF0000"/>
<rect x="1164.8" y="2141.1" width="63.6" height="63.6" fill="#FF8787"/>
<rect x="1228" y="2141.1" width="63.6" height="63.6" fill="#FAFAFF"/>
<rect x="1291.3" y="2141.1" width="63.6" height="63.6" fill="#FFEFEF"/>
<rect x="1354.5" y="2141.1" width="63.6" height="63.6" fill="#FFFAFA"/>
<rect x="1417.7" y="2141.1" width="63.6" height="63.6" fill="#D0D0FF"/>
<rect x="1480.9" y="2141.1" width="63.6" height="63.6" fill="#C6C6FF"/>
<rect x="1544.1" y="2141.1" width="63.6" height="63.6" fill="#D0D0FF"/>
<rect x="1607.4" y="2141.1" width="63.6" height="63.6" fill="#E5E5FF"/>
<rect x="1670.6" y="2141.1" width="63.6" height="63.6" fill="#FAFAFF"/>
<rect x="1733.8" y="2141.1" width="63.6" height="63.6" fill="#FFEFEF"/>
<rect x="1797" y="2141.1" width="65.7" height="63.6" fill="#FFA7A7"/>
<rect x="469.4" y="2204.3" width="63.6" height="63.6" fill="#B1B1FF"/>
<rect x="532.6" y="2204.3" width="63.6" height="63.6" fill="#BBBBFF"/>
<rect x="595.8" y="2204.3" width="63.6" height="63.6" fill="#E5E5FF"/>
<rect x="659.1" y="2204.3" width="63.6" height="63.6" fill="#FFFAFA"/>
<rect x="722.3" y="2204.3" width="63.6" height="63.6" fill="#FFDBDB"/>
<rect x="785.5" y="2204.3" width="63.6" height="63.6" fill="#D0D0FF"/>
<rect x="848.7" y="2204.3" width="63.6" height="63.6" fill="#D0D0FF"/>
<rect x="911.9" y="2204.3" width="63.6" height="63.6" fill="#B1B1FF"/>
<rect x="975.2" y="2204.3" width="63.6" height="63.6" fill="#FFFAFA"/>
<rect x="1038.4" y="2204.3" width="63.6" height="63.6" fill="#FFFAFA"/>
<rect x="1101.6" y="2204.3" width="63.6" height="63.6" fill="#FF8787"/>
<rect x="1164.8" y="2204.3" width="63.6" height="63.6" fill="#FF0000"/>
<rect x="1228" y="2204.3" width="63.6" height="63.6" fill="#FAFAFF"/>
<rect x="1291.3" y="2204.3" width="63.6" height="63.6" fill="#FFFAFA"/>
<rect x="1354.5" y="2204.3" width="63.6" height="63.6" fill="#FFE5E5"/>
<rect x="1417.7" y="2204.3" width="63.6" height="63.6" fill="#EFEFFF"/>
<rect x="1480.9" y="2204.3" width="63.6" height="63.6" fill="#E5E5FF"/>
<rect x="1544.1" y="2204.3" width="63.6" height="63.6" fill="#EFEFFF"/>
<rect x="1607.4" y="2204.3" width="63.6" height="63.6" fill="#FFFAFA"/>
<rect x="1670.6" y="2204.3" width="63.6" height="63.6" fill="#EFEFFF"/>
<rect x="1733.8" y="2204.3" width="63.6" height="63.6" fill="#FFE5E5"/>
<rect x="1797" y="2204.3" width="65.7" height="63.6" fill="#FFE5E5"/>
<rect x="469.4" y="2267.4" width="63.6" height="63.6" fill="#EFEFFF"/>
<rect x="532.6" y="2267.4" width="63.6" height="63.6" fill="#FAFAFF"/>
<rect x="595.8" y="2267.4" width="63.6" height="63.6" fill="#EFEFFF"/>
<rect x="659.1" y="2267.4" width="63.6" height="63.6" fill="#EFEFFF"/>
<rect x="722.3" y="2267.4" width="63.6" height="63.6" fill="#FAFAFF"/>
<rect x="785.5" y="2267.4" width="63.6" height="63.6" fill="#DBDBFF"/>
<rect x="848.7" y="2267.4" width="63.6" height="63.6" fill="#EFEFFF"/>
<rect x="911.9" y="2267.4" width="63.6" height="63.6" fill="#EFEFFF"/>
<rect x="975.2" y="2267.4" width="63.6" height="63.6" fill="#FFEFEF"/>
<rect x="1038.4" y="2267.4" width="63.6" height="63.6" fill="#FFE5E5"/>
<rect x="1101.6" y="2267.4" width="63.6" height="63.6" fill="#FAFAFF"/>
<rect x="1164.8" y="2267.4" width="63.6" height="63.6" fill="#FAFAFF"/>
<rect x="1228" y="2267.4" width="63.6" height="63.6" fill="#FF0000"/>
<rect x="1291.3" y="2267.4" width="63.6" height="63.6" fill="#FF5E5E"/>
<rect x="1354.5" y="2267.4" width="63.6" height="63.6" fill="#FFEFEF"/>
<rect x="1417.7" y="2267.4" width="63.6" height="63.6" fill="#FFEFEF"/>
<rect x="1480.9" y="2267.4" width="63.6" height="63.6" fill="#FAFAFF"/>
<rect x="1544.1" y="2267.4" width="63.6" height="63.6" fill="#FFEFEF"/>
<rect x="1607.4" y="2267.4" width="63.6" height="63.6" fill="#FFE5E5"/>
<rect x="1670.6" y="2267.4" width="63.6" height="63.6" fill="#FAFAFF"/>
<rect x="1733.8" y="2267.4" width="63.6" height="63.6" fill="#FFEFEF"/>
<rect x="1797" y="2267.4" width="65.7" height="63.6" fill="#FFDBDB"/>
<rect x="469.4" y="2330.6" width="63.6" height="63.6" fill="#FAFAFF"/>
<rect x="532.6" y="2330.6" width="63.6" height="63.6" fill="#FAFAFF"/>
<rect x="595.8" y="2330.6" width="63.6" height="63.6" fill="#EFEFFF"/>
<rect x="659.1" y="2330.6" width="63.6" height="63.6" fill="#FAFAFF"/>
<rect x="722.3" y="2330.6" width="63.6" height="63.6" fill="#EFEFFF"/>
<rect x="785.5" y="2330.6" width="63.6" height="63.6" fill="#FAFAFF"/>
<rect x="848.7" y="2330.6" width="63.6" height="63.6" fill="#FAFAFF"/>
<rect x="911.9" y="2330.6" width="63.6" height="63.6" fill="#E5E5FF"/>
<rect x="975.2" y="2330.6" width="63.6" height="63.6" fill="#EFEFFF"/>
<rect x="1038.4" y="2330.6" width="63.6" height="63.6" fill="#FFFAFA"/>
<rect x="1101.6" y="2330.6" width="63.6" height="63.6" fill="#FFEFEF"/>
<rect x="1164.8" y="2330.6" width="63.6" height="63.6" fill="#FFFAFA"/>
<rect x="1228" y="2330.6" width="63.6" height="63.6" fill="#FF5E5E"/>
<rect x="1291.3" y="2330.6" width="63.6" height="63.6" fill="#FF0000"/>
<rect x="1354.5" y="2330.6" width="63.6" height="63.6" fill="#FAFAFF"/>
<rect x="1417.7" y="2330.6" width="63.6" height="63.6" fill="#FFFAFA"/>
<rect x="1480.9" y="2330.6" width="63.6" height="63.6" fill="#EFEFFF"/>
<rect x="1544.1" y="2330.6" width="63.6" height="63.6" fill="#FFEFEF"/>
<rect x="1607.4" y="2330.6" width="63.6" height="63.6" fill="#FFEFEF"/>
<rect x="1670.6" y="2330.6" width="63.6" height="63.6" fill="#FAFAFF"/>
<rect x="1733.8" y="2330.6" width="63.6" height="63.6" fill="#FAFAFF"/>
<rect x="1797" y="2330.6" width="65.7" height="63.6" fill="#FFEFEF"/>
<rect x="469.4" y="2393.8" width="63.6" height="63.6" fill="#B1B1FF"/>
<rect x="532.6" y="2393.8" width="63.6" height="63.6" fill="#E5E5FF"/>
<rect x="595.8" y="2393.8" width="63.6" height="63.6" fill="#FAFAFF"/>
<rect x="659.1" y="2393.8" width="63.6" height="63.6" fill="#FFFAFA"/>
<rect x="722.3" y="2393.8" width="63.6" height="63.6" fill="#FAFAFF"/>
<rect x="785.5" y="2393.8" width="63.6" height="63.6" fill="#FFEFEF"/>
<rect x="848.7" y="2393.8" width="63.6" height="63.6" fill="#FFFAFA"/>
<rect x="911.9" y="2393.8" width="63.6" height="63.6" fill="#FAFAFF"/>
<rect x="975.2" y="2393.8" width="63.6" height="63.6" fill="#FFDBDB"/>
<rect x="1038.4" y="2393.8" width="63.6" height="63.6" fill="#FFDBDB"/>
<rect x="1101.6" y="2393.8" width="63.6" height="63.6" fill="#FFFAFA"/>
<rect x="1164.8" y="2393.8" width="63.6" height="63.6" fill="#FFE5E5"/>
<rect x="1228" y="2393.8" width="63.6" height="63.6" fill="#FFEFEF"/>
<rect x="1291.3" y="2393.8" width="63.6" height="63.6" fill="#FAFAFF"/>
<rect x="1354.5" y="2393.8" width="63.6" height="63.6" fill="#FF0000"/>
<rect x="1417.7" y="2393.8" width="63.6" height="63.6" fill="#FFDBDB"/>
<rect x="1480.9" y="2393.8" width="63.6" height="63.6" fill="#FFEFEF"/>
<rect x="1544.1" y="2393.8" width="63.6" height="63.6" fill="#FFC6C6"/>
<rect x="1607.4" y="2393.8" width="63.6" height="63.6" fill="#FFE5E5"/>
<rect x="1670.6" y="2393.8" width="63.6" height="63.6" fill="#EFEFFF"/>
<rect x="1733.8" y="2393.8" width="63.6" height="63.6" fill="#FFEFEF"/>
<rect x="1797" y="2393.8" width="65.7" height="63.6" fill="#FAFAFF"/>
<rect x="469.4" y="2457" width="63.6" height="63.6" fill="#FAFAFF"/>
<rect x="532.6" y="2457" width="63.6" height="63.6" fill="#EFEFFF"/>
<rect x="595.8" y="2457" width="63.6" height="63.6" fill="#FFDBDB"/>
<rect x="659.1" y="2457" width="63.6" height="63.6" fill="#FAFAFF"/>
<rect x="722.3" y="2457" width="63.6" height="63.6" fill="#FFE5E5"/>
<rect x="785.5" y="2457" width="63.6" height="63.6" fill="#FFEFEF"/>
<rect x="848.7" y="2457" width="63.6" height="63.6" fill="#FAFAFF"/>
<rect x="911.9" y="2457" width="63.6" height="63.6" fill="#EFEFFF"/>
<rect x="975.2" y="2457" width="63.6" height="63.6" fill="#C6C6FF"/>
<rect x="1038.4" y="2457" width="63.6" height="63.6" fill="#E5E5FF"/>
<rect x="1101.6" y="2457" width="63.6" height="63.6" fill="#D0D0FF"/>
<rect x="1164.8" y="2457" width="63.6" height="63.6" fill="#EFEFFF"/>
<rect x="1228" y="2457" width="63.6" height="63.6" fill="#FFEFEF"/>
<rect x="1291.3" y="2457" width="63.6" height="63.6" fill="#FFFAFA"/>
<rect x="1354.5" y="2457" width="63.6" height="63.6" fill="#FFDBDB"/>
<rect x="1417.7" y="2457" width="63.6" height="63.6" fill="#FF0000"/>
<rect x="1480.9" y="2457" width="63.6" height="63.6" fill="#FAFAFF"/>
<rect x="1544.1" y="2457" width="63.6" height="63.6" fill="#FFFAFA"/>
<rect x="1607.4" y="2457" width="63.6" height="63.6" fill="#FFFAFA"/>
<rect x="1670.6" y="2457" width="63.6" height="63.6" fill="#EFEFFF"/>
<rect x="1733.8" y="2457" width="63.6" height="63.6" fill="#E5E5FF"/>
<rect x="1797" y="2457" width="65.7" height="63.6" fill="#EFEFFF"/>
<rect x="469.4" y="2520.1" width="63.6" height="63.6" fill="#D0D0FF"/>
<rect x="532.6" y="2520.1" width="63.6" height="63.6" fill="#EFEFFF"/>
<rect x="595.8" y="2520.1" width="63.6" height="63.6" fill="#DBDBFF"/>
<rect x="659.1" y="2520.1" width="63.6" height="63.6" fill="#FAFAFF"/>
<rect x="722.3" y="2520.1" width="63.6" height="63.6" fill="#FFEFEF"/>
<rect x="785.5" y="2520.1" width="63.6" height="63.6" fill="#FAFAFF"/>
<rect x="848.7" y="2520.1" width="63.6" height="63.6" fill="#C6C6FF"/>
<rect x="911.9" y="2520.1" width="63.6" height="63.6" fill="#FFEFEF"/>
<rect x="975.2" y="2520.1" width="63.6" height="63.6" fill="#EFEFFF"/>
<rect x="1038.4" y="2520.1" width="63.6" height="63.6" fill="#E5E5FF"/>
<rect x="1101.6" y="2520.1" width="63.6" height="63.6" fill="#C6C6FF"/>
<rect x="1164.8" y="2520.1" width="63.6" height="63.6" fill="#E5E5FF"/>
<rect x="1228" y="2520.1" width="63.6" height="63.6" fill="#FAFAFF"/>
<rect x="1291.3" y="2520.1" width="63.6" height="63.6" fill="#EFEFFF"/>
<rect x="1354.5" y="2520.1" width="63.6" height="63.6" fill="#FFEFEF"/>
<rect x="1417.7" y="2520.1" width="63.6" height="63.6" fill="#FAFAFF"/>
<rect x="1480.9" y="2520.1" width="63.6" height="63.6" fill="#FF0000"/>
<rect x="1544.1" y="2520.1" width="63.6" height="63.6" fill="#FFD0D0"/>
<rect x="1607.4" y="2520.1" width="63.6" height="63.6" fill="#FFDBDB"/>
<rect x="1670.6" y="2520.1" width="63.6" height="63.6" fill="#FAFAFF"/>
<rect x="1733.8" y="2520.1" width="63.6" height="63.6" fill="#FFE5E5"/>
<rect x="1797" y="2520.1" width="65.7" height="63.6" fill="#FAFAFF"/>
<rect x="469.4" y="2583.3" width="63.6" height="63.6" fill="#EFEFFF"/>
<rect x="532.6" y="2583.3" width="63.6" height="63.6" fill="#EFEFFF"/>
<rect x="595.8" y="2583.3" width="63.6" height="63.6" fill="#DBDBFF"/>
<rect x="659.1" y="2583.3" width="63.6" height="63.6" fill="#E5E5FF"/>
<rect x="722.3" y="2583.3" width="63.6" height="63.6" fill="#DBDBFF"/>
<rect x="785.5" y="2583.3" width="63.6" height="63.6" fill="#E5E5FF"/>
<rect x="848.7" y="2583.3" width="63.6" height="63.6" fill="#A7A7FF"/>
<rect x="911.9" y="2583.3" width="63.6" height="63.6" fill="#FFD0D0"/>
<rect x="975.2" y="2583.3" width="63.6" height="63.6" fill="#FFEFEF"/>
<rect x="1038.4" y="2583.3" width="63.6" height="63.6" fill="#E5E5FF"/>
<rect x="1101.6" y="2583.3" width="63.6" height="63.6" fill="#D0D0FF"/>
<rect x="1164.8" y="2583.3" width="63.6" height="63.6" fill="#EFEFFF"/>
<rect x="1228" y="2583.3" width="63.6" height="63.6" fill="#FFEFEF"/>
<rect x="1291.3" y="2583.3" width="63.6" height="63.6" fill="#FFEFEF"/>
<rect x="1354.5" y="2583.3" width="63.6" height="63.6" fill="#FFC6C6"/>
<rect x="1417.7" y="2583.3" width="63.6" height="63.6" fill="#FFFAFA"/>
<rect x="1480.9" y="2583.3" width="63.6" height="63.6" fill="#FFD0D0"/>
<rect x="1544.1" y="2583.3" width="63.6" height="63.6" fill="#FF0000"/>
<rect x="1607.4" y="2583.3" width="63.6" height="63.6" fill="#FFC6C6"/>
<rect x="1670.6" y="2583.3" width="63.6" height="63.6" fill="#FFFAFA"/>
<rect x="1733.8" y="2583.3" width="63.6" height="63.6" fill="#FFDBDB"/>
<rect x="1797" y="2583.3" width="65.7" height="63.6" fill="#FFFAFA"/>
<rect x="469.4" y="2646.5" width="63.6" height="63.6" fill="#D0D0FF"/>
<rect x="532.6" y="2646.5" width="63.6" height="63.6" fill="#FAFAFF"/>
<rect x="595.8" y="2646.5" width="63.6" height="63.6" fill="#9292FF"/>
<rect x="659.1" y="2646.5" width="63.6" height="63.6" fill="#DBDBFF"/>
<rect x="722.3" y="2646.5" width="63.6" height="63.6" fill="#D0D0FF"/>
<rect x="785.5" y="2646.5" width="63.6" height="63.6" fill="#E5E5FF"/>
<rect x="848.7" y="2646.5" width="63.6" height="63.6" fill="#C6C6FF"/>
<rect x="911.9" y="2646.5" width="63.6" height="63.6" fill="#FFD0D0"/>
<rect x="975.2" y="2646.5" width="63.6" height="63.6" fill="#FFFAFA"/>
<rect x="1038.4" y="2646.5" width="63.6" height="63.6" fill="#FAFAFF"/>
<rect x="1101.6" y="2646.5" width="63.6" height="63.6" fill="#E5E5FF"/>
<rect x="1164.8" y="2646.5" width="63.6" height="63.6" fill="#FFFAFA"/>
<rect x="1228" y="2646.5" width="63.6" height="63.6" fill="#FFE5E5"/>
<rect x="1291.3" y="2646.5" width="63.6" height="63.6" fill="#FFEFEF"/>
<rect x="1354.5" y="2646.5" width="63.6" height="63.6" fill="#FFE5E5"/>
<rect x="1417.7" y="2646.5" width="63.6" height="63.6" fill="#FFFAFA"/>
<rect x="1480.9" y="2646.5" width="63.6" height="63.6" fill="#FFDBDB"/>
<rect x="1544.1" y="2646.5" width="63.6" height="63.6" fill="#FFC6C6"/>
<rect x="1607.4" y="2646.5" width="63.6" height="63.6" fill="#FF0000"/>
<rect x="1670.6" y="2646.5" width="63.6" height="63.6" fill="#FFDBDB"/>
<rect x="1733.8" y="2646.5" width="63.6" height="63.6" fill="#FFD0D0"/>
<rect x="1797" y="2646.5" width="65.7" height="63.6" fill="#FFE5E5"/>
<rect x="469.4" y="2709.6" width="63.6" height="63.6" fill="#FAFAFF"/>
<rect x="532.6" y="2709.6" width="63.6" height="63.6" fill="#FFFAFA"/>
<rect x="595.8" y="2709.6" width="63.6" height="63.6" fill="#EFEFFF"/>
<rect x="659.1" y="2709.6" width="63.6" height="63.6" fill="#FAFAFF"/>
<rect x="722.3" y="2709.6" width="63.6" height="63.6" fill="#FAFAFF"/>
<rect x="785.5" y="2709.6" width="63.6" height="63.6" fill="#EFEFFF"/>
<rect x="848.7" y="2709.6" width="63.6" height="63.6" fill="#EFEFFF"/>
<rect x="911.9" y="2709.6" width="63.6" height="63.6" fill="#FFEFEF"/>
<rect x="975.2" y="2709.6" width="63.6" height="63.6" fill="#FFFAFA"/>
<rect x="1038.4" y="2709.6" width="63.6" height="63.6" fill="#FFEFEF"/>
<rect x="1101.6" y="2709.6" width="63.6" height="63.6" fill="#FAFAFF"/>
<rect x="1164.8" y="2709.6" width="63.6" height="63.6" fill="#EFEFFF"/>
<rect x="1228" y="2709.6" width="63.6" height="63.6" fill="#FAFAFF"/>
<rect x="1291.3" y="2709.6" width="63.6" height="63.6" fill="#FAFAFF"/>
<rect x="1354.5" y="2709.6" width="63.6" height="63.6" fill="#EFEFFF"/>
<rect x="1417.7" y="2709.6" width="63.6" height="63.6" fill="#EFEFFF"/>
<rect x="1480.9" y="2709.6" width="63.6" height="63.6" fill="#FAFAFF"/>
<rect x="1544.1" y="2709.6" width="63.6" height="63.6" fill="#FFFAFA"/>
<rect x="1607.4" y="2709.6" width="63.6" height="63.6" fill="#FFDBDB"/>
<rect x="1670.6" y="2709.6" width="63.6" height="63.6" fill="#FF0000"/>
<rect x="1733.8" y="2709.6" width="63.6" height="63.6" fill="#FFE5E5"/>
<rect x="1797" y="2709.6" width="65.7" height="63.6" fill="#FFEFEF"/>
<rect x="469.4" y="2772.8" width="63.6" height="63.6" fill="#9292FF"/>
<rect x="532.6" y="2772.8" width="63.6" height="63.6" fill="#DBDBFF"/>
<rect x="595.8" y="2772.8" width="63.6" height="63.6" fill="#BBBBFF"/>
<rect x="659.1" y="2772.8" width="63.6" height="63.6" fill="#DBDBFF"/>
<rect x="722.3" y="2772.8" width="63.6" height="63.6" fill="#E5E5FF"/>
<rect x="785.5" y="2772.8" width="63.6" height="63.6" fill="#9C9CFF"/>
<rect x="848.7" y="2772.8" width="63.6" height="63.6" fill="#C6C6FF"/>
<rect x="911.9" y="2772.8" width="63.6" height="63.6" fill="#FFC6C6"/>
<rect x="975.2" y="2772.8" width="63.6" height="63.6" fill="#FF9292"/>
<rect x="1038.4" y="2772.8" width="63.6" height="63.6" fill="#FFC6C6"/>
<rect x="1101.6" y="2772.8" width="63.6" height="63.6" fill="#FFEFEF"/>
<rect x="1164.8" y="2772.8" width="63.6" height="63.6" fill="#FFE5E5"/>
<rect x="1228" y="2772.8" width="63.6" height="63.6" fill="#FFEFEF"/>
<rect x="1291.3" y="2772.8" width="63.6" height="63.6" fill="#FAFAFF"/>
<rect x="1354.5" y="2772.8" width="63.6" height="63.6" fill="#FFEFEF"/>
<rect x="1417.7" y="2772.8" width="63.6" height="63.6" fill="#E5E5FF"/>
<rect x="1480.9" y="2772.8" width="63.6" height="63.6" fill="#FFE5E5"/>
<rect x="1544.1" y="2772.8" width="63.6" height="63.6" fill="#FFDBDB"/>
<rect x="1607.4" y="2772.8" width="63.6" height="63.6" fill="#FFD0D0"/>
<rect x="1670.6" y="2772.8" width="63.6" height="63.6" fill="#FFE5E5"/>
<rect x="1733.8" y="2772.8" width="63.6" height="63.6" fill="#FF0000"/>
<rect x="1797" y="2772.8" width="65.7" height="63.6" fill="#FF9C9C"/>
<rect x="469.4" y="2836" width="63.6" height="67.4" fill="#BBBBFF"/>
<rect x="532.6" y="2836" width="63.6" height="67.4" fill="#FAFAFF"/>
<rect x="595.8" y="2836" width="63.6" height="67.4" fill="#C6C6FF"/>
<rect x="659.1" y="2836" width="63.6" height="67.4" fill="#DBDBFF"/>
<rect x="722.3" y="2836" width="63.6" height="67.4" fill="#EFEFFF"/>
<rect x="785.5" y="2836" width="63.6" height="67.4" fill="#B1B1FF"/>
<rect x="848.7" y="2836" width="63.6" height="67.4" fill="#BBBBFF"/>
<rect x="911.9" y="2836" width="63.6" height="67.4" fill="#E5E5FF"/>
<rect x="975.2" y="2836" width="63.6" height="67.4" fill="#FFD0D0"/>
<rect x="1038.4" y="2836" width="63.6" height="67.4" fill="#EFEFFF"/>
<rect x="1101.6" y="2836" width="63.6" height="67.4" fill="#FFA7A7"/>
<rect x="1164.8" y="2836" width="63.6" height="67.4" fill="#FFE5E5"/>
<rect x="1228" y="2836" width="63.6" height="67.4" fill="#FFDBDB"/>
<rect x="1291.3" y="2836" width="63.6" height="67.4" fill="#FFEFEF"/>
<rect x="1354.5" y="2836" width="63.6" height="67.4" fill="#FAFAFF"/>
<rect x="1417.7" y="2836" width="63.6" height="67.4" fill="#EFEFFF"/>
<rect x="1480.9" y="2836" width="63.6" height="67.4" fill="#FAFAFF"/>
<rect x="1544.1" y="2836" width="63.6" height="67.4" fill="#FFFAFA"/>
<rect x="1607.4" y="2836" width="63.6" height="67.4" fill="#FFE5E5"/>
<rect x="1670.6" y="2836" width="63.6" height="67.4" fill="#FFEFEF"/>
<rect x="1733.8" y="2836" width="63.6" height="67.4" fill="#FF9C9C"/>
<rect x="1797" y="2836" width="65.7" height="67.4" fill="#FF0000"/>
<text x="501" y="1550.8" text-anchor="middle" font-family="'Liberation Sans', Arial, Helvetica, sans-serif" font-weight="bold" font-size="25">1</text>
<text x="564.2" y="1550.8" text-anchor="middle" font-family="'Liberation Sans', Arial, Helvetica, sans-serif" font-weight="bold" font-size="25">0.05</text>
<text x="627.4" y="1550.8" text-anchor="middle" font-family="'Liberation Sans', Arial, Helvetica, sans-serif" font-weight="bold" font-size="25">0.19</text>
<text x="690.7" y="1550.8" text-anchor="middle" font-family="'Liberation Sans', Arial, Helvetica, sans-serif" font-weight="bold" font-size="25">0.02</text>
<text x="753.9" y="1550.8" text-anchor="middle" font-family="'Liberation Sans', Arial, Helvetica, sans-serif" font-weight="bold" font-size="25">−0.1</text>
<text x="817.1" y="1550.8" text-anchor="middle" font-family="'Liberation Sans', Arial, Helvetica, sans-serif" font-weight="bold" font-size="25">0.01</text>
<text x="880.3" y="1550.8" text-anchor="middle" font-family="'Liberation Sans', Arial, Helvetica, sans-serif" font-weight="bold" font-size="25">−0.02</text>
<text x="943.5" y="1550.8" text-anchor="middle" font-family="'Liberation Sans', Arial, Helvetica, sans-serif" font-weight="bold" font-size="25">−0.34</text>
<text x="1006.8" y="1550.8" text-anchor="middle" font-family="'Liberation Sans', Arial, Helvetica, sans-serif" font-weight="bold" font-size="25">−0.52</text>
<text x="1070" y="1550.8" text-anchor="middle" font-family="'Liberation Sans', Arial, Helvetica, sans-serif" font-weight="bold" font-size="25">−0.43</text>
<text x="1133.2" y="1550.8" text-anchor="middle" font-family="'Liberation Sans', Arial, Helvetica, sans-serif" font-weight="bold" font-size="25">−0.29</text>
<text x="1196.4" y="1550.8" text-anchor="middle" font-family="'Liberation Sans', Arial, Helvetica, sans-serif" font-weight="bold" font-size="25">−0.3</text>
<text x="1259.7" y="1550.8" text-anchor="middle" font-family="'Liberation Sans', Arial, Helvetica, sans-serif" font-weight="bold" font-size="25">−0.08</text>
<text x="1322.9" y="1550.8" text-anchor="middle" font-family="'Liberation Sans', Arial, Helvetica, sans-serif" font-weight="bold" font-size="25">−0.02</text>
<text x="1386.1" y="1550.8" text-anchor="middle" font-family="'Liberation Sans', Arial, Helvetica, sans-serif" font-weight="bold" font-size="25">−0.32</text>
<text x="1449.3" y="1550.8" text-anchor="middle" font-family="'Liberation Sans', Arial, Helvetica, sans-serif" font-weight="bold" font-size="25">−0.04</text>
<text x="1512.5" y="1550.8" text-anchor="middle" font-family="'Liberation Sans', Arial, Helvetica, sans-serif" font-weight="bold" font-size="25">−0.2</text>
<text x="1575.8" y="1550.8" text-anchor="middle" font-family="'Liberation Sans', Arial, Helvetica, sans-serif" font-weight="bold" font-size="25">−0.07</text>
<text x="1639" y="1550.8" text-anchor="middle" font-family="'Liberation Sans', Arial, Helvetica, sans-serif" font-weight="bold" font-size="25">−0.19</text>
<text x="1702.2" y="1550.8" text-anchor="middle" font-family="'Liberation Sans', Arial, Helvetica, sans-serif" font-weight="bold" font-size="25">−0.02</text>
<text x="1765.4" y="1550.8" text-anchor="middle" font-family="'Liberation Sans', Arial, Helvetica, sans-serif" font-weight="bold" font-size="25">−0.42</text>
<text x="1829.7" y="1550.8" text-anchor="middle" font-family="'Liberation Sans', Arial, Helvetica, sans-serif" font-weight="bold" font-size="25">−0.28</text>
<text x="501" y="1614" text-anchor="middle" font-family="'Liberation Sans', Arial, Helvetica, sans-serif" font-weight="bold" font-size="25">0.05</text>
<text x="564.2" y="1614" text-anchor="middle" font-family="'Liberation Sans', Arial, Helvetica, sans-serif" font-weight="bold" font-size="25">1</text>
<text x="627.4" y="1614" text-anchor="middle" font-family="'Liberation Sans', Arial, Helvetica, sans-serif" font-weight="bold" font-size="25">−0.02</text>
<text x="690.7" y="1614" text-anchor="middle" font-family="'Liberation Sans', Arial, Helvetica, sans-serif" font-weight="bold" font-size="25">−0.09</text>
<text x="753.9" y="1614" text-anchor="middle" font-family="'Liberation Sans', Arial, Helvetica, sans-serif" font-weight="bold" font-size="25">−0.12</text>
<text x="817.1" y="1614" text-anchor="middle" font-family="'Liberation Sans', Arial, Helvetica, sans-serif" font-weight="bold" font-size="25">−0.04</text>
<text x="880.3" y="1614" text-anchor="middle" font-family="'Liberation Sans', Arial, Helvetica, sans-serif" font-weight="bold" font-size="25">0.05</text>
<text x="943.5" y="1614" text-anchor="middle" font-family="'Liberation Sans', Arial, Helvetica, sans-serif" font-weight="bold" font-size="25">0.01</text>
<text x="1006.8" y="1614" text-anchor="middle" font-family="'Liberation Sans', Arial, Helvetica, sans-serif" font-weight="bold" font-size="25">−0.06</text>
<text x="1070" y="1614" text-anchor="middle" font-family="'Liberation Sans', Arial, Helvetica, sans-serif" font-weight="bold" font-size="25">−0.08</text>
<text x="1133.2" y="1614" text-anchor="middle" font-family="'Liberation Sans', Arial, Helvetica, sans-serif" font-weight="bold" font-size="25">−0.25</text>
<text x="1196.4" y="1614" text-anchor="middle" font-family="'Liberation Sans', Arial, Helvetica, sans-serif" font-weight="bold" font-size="25">−0.25</text>
<text x="1259.7" y="1614" text-anchor="middle" font-family="'Liberation Sans', Arial, Helvetica, sans-serif" font-weight="bold" font-size="25">−0.03</text>
<text x="1322.9" y="1614" text-anchor="middle" font-family="'Liberation Sans', Arial, Helvetica, sans-serif" font-weight="bold" font-size="25">−0.03</text>
<text x="1386.1" y="1614" text-anchor="middle" font-family="'Liberation Sans', Arial, Helvetica, sans-serif" font-weight="bold" font-size="25">−0.11</text>
<text x="1449.3" y="1614" text-anchor="middle" font-family="'Liberation Sans', Arial, Helvetica, sans-serif" font-weight="bold" font-size="25">−0.06</text>
<text x="1512.5" y="1614" text-anchor="middle" font-family="'Liberation Sans', Arial, Helvetica, sans-serif" font-weight="bold" font-size="25">−0.06</text>
<text x="1575.8" y="1614" text-anchor="middle" font-family="'Liberation Sans', Arial, Helvetica, sans-serif" font-weight="bold" font-size="25">−0.06</text>
<text x="1639" y="1614" text-anchor="middle" font-family="'Liberation Sans', Arial, Helvetica, sans-serif" font-weight="bold" font-size="25">−0.01</text>
<text x="1702.2" y="1614" text-anchor="middle" font-family="'Liberation Sans', Arial, Helvetica, sans-serif" font-weight="bold" font-size="25">0.03</text>
<text x="1765.4" y="1614" text-anchor="middle" font-family="'Liberation Sans', Arial, Helvetica, sans-serif" font-weight="bold" font-size="25">−0.14</text>
<text x="1829.7" y="1614" text-anchor="middle" font-family="'Liberation Sans', Arial, Helvetica, sans-serif" font-weight="bold" font-size="25">−0.01</text>
<text x="501" y="1677.1" text-anchor="middle" font-family="'Liberation Sans', Arial, Helvetica, sans-serif" font-weight="bold" font-size="25">0.19</text>
<text x="564.2" y="1677.1" text-anchor="middle" font-family="'Liberation Sans', Arial, Helvetica, sans-serif" font-weight="bold" font-size="25">−0.02</text>
<text x="627.4" y="1677.1" text-anchor="middle" font-family="'Liberation Sans', Arial, Helvetica, sans-serif" font-weight="bold" font-size="25">1</text>
<text x="690.7" y="1677.1" text-anchor="middle" font-family="'Liberation Sans', Arial, Helvetica, sans-serif" font-weight="bold" font-size="25">0.37</text>
<text x="753.9" y="1677.1" text-anchor="middle" font-family="'Liberation Sans', Arial, Helvetica, sans-serif" font-weight="bold" font-size="25">0.27</text>
<text x="817.1" y="1677.1" text-anchor="middle" font-family="'Liberation Sans', Arial, Helvetica, sans-serif" font-weight="bold" font-size="25">0.13</text>
<text x="880.3" y="1677.1" text-anchor="middle" font-family="'Liberation Sans', Arial, Helvetica, sans-serif" font-weight="bold" font-size="25">0.22</text>
<text x="943.5" y="1677.1" text-anchor="middle" font-family="'Liberation Sans', Arial, Helvetica, sans-serif" font-weight="bold" font-size="25">−0.24</text>
<text x="1006.8" y="1677.1" text-anchor="middle" font-family="'Liberation Sans', Arial, Helvetica, sans-serif" font-weight="bold" font-size="25">−0.26</text>
<text x="1070" y="1677.1" text-anchor="middle" font-family="'Liberation Sans', Arial, Helvetica, sans-serif" font-weight="bold" font-size="25">−0.16</text>
<text x="1133.2" y="1677.1" text-anchor="middle" font-family="'Liberation Sans', Arial, Helvetica, sans-serif" font-weight="bold" font-size="25">−0.12</text>
<text x="1196.4" y="1677.1" text-anchor="middle" font-family="'Liberation Sans', Arial, Helvetica, sans-serif" font-weight="bold" font-size="25">−0.1</text>
<text x="1259.7" y="1677.1" text-anchor="middle" font-family="'Liberation Sans', Arial, Helvetica, sans-serif" font-weight="bold" font-size="25">−0.05</text>
<text x="1322.9" y="1677.1" text-anchor="middle" font-family="'Liberation Sans', Arial, Helvetica, sans-serif" font-weight="bold" font-size="25">−0.05</text>
<text x="1386.1" y="1677.1" text-anchor="middle" font-family="'Liberation Sans', Arial, Helvetica, sans-serif" font-weight="bold" font-size="25">−0.04</text>
<text x="1449.3" y="1677.1" text-anchor="middle" font-family="'Liberation Sans', Arial, Helvetica, sans-serif" font-weight="bold" font-size="25">0.15</text>
<text x="1512.5" y="1677.1" text-anchor="middle" font-family="'Liberation Sans', Arial, Helvetica, sans-serif" font-weight="bold" font-size="25">−0.13</text>
<text x="1575.8" y="1677.1" text-anchor="middle" font-family="'Liberation Sans', Arial, Helvetica, sans-serif" font-weight="bold" font-size="25">−0.16</text>
<text x="1639" y="1677.1" text-anchor="middle" font-family="'Liberation Sans', Arial, Helvetica, sans-serif" font-weight="bold" font-size="25">−0.42</text>
<text x="1702.2" y="1677.1" text-anchor="middle" font-family="'Liberation Sans', Arial, Helvetica, sans-serif" font-weight="bold" font-size="25">−0.06</text>
<text x="1765.4" y="1677.1" text-anchor="middle" font-family="'Liberation Sans', Arial, Helvetica, sans-serif" font-weight="bold" font-size="25">−0.28</text>
<text x="1829.7" y="1677.1" text-anchor="middle" font-family="'Liberation Sans', Arial, Helvetica, sans-serif" font-weight="bold" font-size="25">−0.24</text>
<text x="501" y="1740.3" text-anchor="middle" font-family="'Liberation Sans', Arial, Helvetica, sans-serif" font-weight="bold" font-size="25">0.02</text>
<text x="564.2" y="1740.3" text-anchor="middle" font-family="'Liberation Sans', Arial, Helvetica, sans-serif" font-weight="bold" font-size="25">−0.09</text>
<text x="627.4" y="1740.3" text-anchor="middle" font-family="'Liberation Sans', Arial, Helvetica, sans-serif" font-weight="bold" font-size="25">0.37</text>
<text x="690.7" y="1740.3" text-anchor="middle" font-family="'Liberation Sans', Arial, Helvetica, sans-serif" font-weight="bold" font-size="25">1</text>
<text x="753.9" y="1740.3" text-anchor="middle" font-family="'Liberation Sans', Arial, Helvetica, sans-serif" font-weight="bold" font-size="25">0.48</text>
<text x="817.1" y="1740.3" text-anchor="middle" font-family="'Liberation Sans', Arial, Helvetica, sans-serif" font-weight="bold" font-size="25">0.04</text>
<text x="880.3" y="1740.3" text-anchor="middle" font-family="'Liberation Sans', Arial, Helvetica, sans-serif" font-weight="bold" font-size="25">0.12</text>
<text x="943.5" y="1740.3" text-anchor="middle" font-family="'Liberation Sans', Arial, Helvetica, sans-serif" font-weight="bold" font-size="25">−0.1</text>
<text x="1006.8" y="1740.3" text-anchor="middle" font-family="'Liberation Sans', Arial, Helvetica, sans-serif" font-weight="bold" font-size="25">−0.08</text>
<text x="1070" y="1740.3" text-anchor="middle" font-family="'Liberation Sans', Arial, Helvetica, sans-serif" font-weight="bold" font-size="25">−0.03</text>
<text x="1133.2" y="1740.3" text-anchor="middle" font-family="'Liberation Sans', Arial, Helvetica, sans-serif" font-weight="bold" font-size="25">−0.03</text>
<text x="1196.4" y="1740.3" text-anchor="middle" font-family="'Liberation Sans', Arial, Helvetica, sans-serif" font-weight="bold" font-size="25">0.01</text>
<text x="1259.7" y="1740.3" text-anchor="middle" font-family="'Liberation Sans', Arial, Helvetica, sans-serif" font-weight="bold" font-size="25">−0.05</text>
<text x="1322.9" y="1740.3" text-anchor="middle" font-family="'Liberation Sans', Arial, Helvetica, sans-serif" font-weight="bold" font-size="25">−0.02</text>
<text x="1386.1" y="1740.3" text-anchor="middle" font-family="'Liberation Sans', Arial, Helvetica, sans-serif" font-weight="bold" font-size="25">0</text>
<text x="1449.3" y="1740.3" text-anchor="middle" font-family="'Liberation Sans', Arial, Helvetica, sans-serif" font-weight="bold" font-size="25">−0.01</text>
<text x="1512.5" y="1740.3" text-anchor="middle" font-family="'Liberation Sans', Arial, Helvetica, sans-serif" font-weight="bold" font-size="25">−0.03</text>
<text x="1575.8" y="1740.3" text-anchor="middle" font-family="'Liberation Sans', Arial, Helvetica, sans-serif" font-weight="bold" font-size="25">−0.12</text>
<text x="1639" y="1740.3" text-anchor="middle" font-family="'Liberation Sans', Arial, Helvetica, sans-serif" font-weight="bold" font-size="25">−0.16</text>
<text x="1702.2" y="1740.3" text-anchor="middle" font-family="'Liberation Sans', Arial, Helvetica, sans-serif" font-weight="bold" font-size="25">−0.03</text>
<text x="1765.4" y="1740.3" text-anchor="middle" font-family="'Liberation Sans', Arial, Helvetica, sans-serif" font-weight="bold" font-size="25">−0.13</text>
<text x="1829.7" y="1740.3" text-anchor="middle" font-family="'Liberation Sans', Arial, Helvetica, sans-serif" font-weight="bold" font-size="25">−0.14</text>
<text x="501" y="1803.5" text-anchor="middle" font-family="'Liberation Sans', Arial, Helvetica, sans-serif" font-weight="bold" font-size="25">−0.1</text>
<text x="564.2" y="1803.5" text-anchor="middle" font-family="'Liberation Sans', Arial, Helvetica, sans-serif" font-weight="bold" font-size="25">−0.12</text>
<text x="627.4" y="1803.5" text-anchor="middle" font-family="'Liberation Sans', Arial, Helvetica, sans-serif" font-weight="bold" font-size="25">0.27</text>
<text x="690.7" y="1803.5" text-anchor="middle" font-family="'Liberation Sans', Arial, Helvetica, sans-serif" font-weight="bold" font-size="25">0.48</text>
<text x="753.9" y="1803.5" text-anchor="middle" font-family="'Liberation Sans', Arial, Helvetica, sans-serif" font-weight="bold" font-size="25">1</text>
<text x="817.1" y="1803.5" text-anchor="middle" font-family="'Liberation Sans', Arial, Helvetica, sans-serif" font-weight="bold" font-size="25">0.02</text>
<text x="880.3" y="1803.5" text-anchor="middle" font-family="'Liberation Sans', Arial, Helvetica, sans-serif" font-weight="bold" font-size="25">0.07</text>
<text x="943.5" y="1803.5" text-anchor="middle" font-family="'Liberation Sans', Arial, Helvetica, sans-serif" font-weight="bold" font-size="25">−0.15</text>
<text x="1006.8" y="1803.5" text-anchor="middle" font-family="'Liberation Sans', Arial, Helvetica, sans-serif" font-weight="bold" font-size="25">−0.09</text>
<text x="1070" y="1803.5" text-anchor="middle" font-family="'Liberation Sans', Arial, Helvetica, sans-serif" font-weight="bold" font-size="25">0</text>
<text x="1133.2" y="1803.5" text-anchor="middle" font-family="'Liberation Sans', Arial, Helvetica, sans-serif" font-weight="bold" font-size="25">0.02</text>
<text x="1196.4" y="1803.5" text-anchor="middle" font-family="'Liberation Sans', Arial, Helvetica, sans-serif" font-weight="bold" font-size="25">0.13</text>
<text x="1259.7" y="1803.5" text-anchor="middle" font-family="'Liberation Sans', Arial, Helvetica, sans-serif" font-weight="bold" font-size="25">−0.03</text>
<text x="1322.9" y="1803.5" text-anchor="middle" font-family="'Liberation Sans', Arial, Helvetica, sans-serif" font-weight="bold" font-size="25">−0.05</text>
<text x="1386.1" y="1803.5" text-anchor="middle" font-family="'Liberation Sans', Arial, Helvetica, sans-serif" font-weight="bold" font-size="25">−0.02</text>
<text x="1449.3" y="1803.5" text-anchor="middle" font-family="'Liberation Sans', Arial, Helvetica, sans-serif" font-weight="bold" font-size="25">0.11</text>
<text x="1512.5" y="1803.5" text-anchor="middle" font-family="'Liberation Sans', Arial, Helvetica, sans-serif" font-weight="bold" font-size="25">0.06</text>
<text x="1575.8" y="1803.5" text-anchor="middle" font-family="'Liberation Sans', Arial, Helvetica, sans-serif" font-weight="bold" font-size="25">−0.15</text>
<text x="1639" y="1803.5" text-anchor="middle" font-family="'Liberation Sans', Arial, Helvetica, sans-serif" font-weight="bold" font-size="25">−0.17</text>
<text x="1702.2" y="1803.5" text-anchor="middle" font-family="'Liberation Sans', Arial, Helvetica, sans-serif" font-weight="bold" font-size="25">−0.03</text>
<text x="1765.4" y="1803.5" text-anchor="middle" font-family="'Liberation Sans', Arial, Helvetica, sans-serif" font-weight="bold" font-size="25">−0.11</text>
<text x="1829.7" y="1803.5" text-anchor="middle" font-family="'Liberation Sans', Arial, Helvetica, sans-serif" font-weight="bold" font-size="25">−0.07</text>
<text x="501" y="1866.6" text-anchor="middle" font-family="'Liberation Sans', Arial, Helvetica, sans-serif" font-weight="bold" font-size="25">0.01</text>
<text x="564.2" y="1866.6" text-anchor="middle" font-family="'Liberation Sans', Arial, Helvetica, sans-serif" font-weight="bold" font-size="25">−0.04</text>
<text x="627.4" y="1866.6" text-anchor="middle" font-family="'Liberation Sans', Arial, Helvetica, sans-serif" font-weight="bold" font-size="25">0.13</text>
<text x="690.7" y="1866.6" text-anchor="middle" font-family="'Liberation Sans', Arial, Helvetica, sans-serif" font-weight="bold" font-size="25">0.04</text>
<text x="753.9" y="1866.6" text-anchor="middle" font-family="'Liberation Sans', Arial, Helvetica, sans-serif" font-weight="bold" font-size="25">0.02</text>
<text x="817.1" y="1866.6" text-anchor="middle" font-family="'Liberation Sans', Arial, Helvetica, sans-serif" font-weight="bold" font-size="25">1</text>
<text x="880.3" y="1866.6" text-anchor="middle" font-family="'Liberation Sans', Arial, Helvetica, sans-serif" font-weight="bold" font-size="25">0.14</text>
<text x="943.5" y="1866.6" text-anchor="middle" font-family="'Liberation Sans', Arial, Helvetica, sans-serif" font-weight="bold" font-size="25">0.05</text>
<text x="1006.8" y="1866.6" text-anchor="middle" font-family="'Liberation Sans', Arial, Helvetica, sans-serif" font-weight="bold" font-size="25">−0.47</text>
<text x="1070" y="1866.6" text-anchor="middle" font-family="'Liberation Sans', Arial, Helvetica, sans-serif" font-weight="bold" font-size="25">−0.28</text>
<text x="1133.2" y="1866.6" text-anchor="middle" font-family="'Liberation Sans', Arial, Helvetica, sans-serif" font-weight="bold" font-size="25">0.05</text>
<text x="1196.4" y="1866.6" text-anchor="middle" font-family="'Liberation Sans', Arial, Helvetica, sans-serif" font-weight="bold" font-size="25">−0.18</text>
<text x="1259.7" y="1866.6" text-anchor="middle" font-family="'Liberation Sans', Arial, Helvetica, sans-serif" font-weight="bold" font-size="25">−0.14</text>
<text x="1322.9" y="1866.6" text-anchor="middle" font-family="'Liberation Sans', Arial, Helvetica, sans-serif" font-weight="bold" font-size="25">−0.04</text>
<text x="1386.1" y="1866.6" text-anchor="middle" font-family="'Liberation Sans', Arial, Helvetica, sans-serif" font-weight="bold" font-size="25">0.05</text>
<text x="1449.3" y="1866.6" text-anchor="middle" font-family="'Liberation Sans', Arial, Helvetica, sans-serif" font-weight="bold" font-size="25">0.07</text>
<text x="1512.5" y="1866.6" text-anchor="middle" font-family="'Liberation Sans', Arial, Helvetica, sans-serif" font-weight="bold" font-size="25">−0.01</text>
<text x="1575.8" y="1866.6" text-anchor="middle" font-family="'Liberation Sans', Arial, Helvetica, sans-serif" font-weight="bold" font-size="25">−0.11</text>
<text x="1639" y="1866.6" text-anchor="middle" font-family="'Liberation Sans', Arial, Helvetica, sans-serif" font-weight="bold" font-size="25">−0.11</text>
<text x="1702.2" y="1866.6" text-anchor="middle" font-family="'Liberation Sans', Arial, Helvetica, sans-serif" font-weight="bold" font-size="25">−0.05</text>
<text x="1765.4" y="1866.6" text-anchor="middle" font-family="'Liberation Sans', Arial, Helvetica, sans-serif" font-weight="bold" font-size="25">−0.4</text>
<text x="1829.7" y="1866.6" text-anchor="middle" font-family="'Liberation Sans', Arial, Helvetica, sans-serif" font-weight="bold" font-size="25">−0.29</text>
<text x="501" y="1929.8" text-anchor="middle" font-family="'Liberation Sans', Arial, Helvetica, sans-serif" font-weight="bold" font-size="25">−0.02</text>
<text x="564.2" y="1929.8" text-anchor="middle" font-family="'Liberation Sans', Arial, Helvetica, sans-serif" font-weight="bold" font-size="25">0.05</text>
<text x="627.4" y="1929.8" text-anchor="middle" font-family="'Liberation Sans', Arial, Helvetica, sans-serif" font-weight="bold" font-size="25">0.22</text>
<text x="690.7" y="1929.8" text-anchor="middle" font-family="'Liberation Sans', Arial, Helvetica, sans-serif" font-weight="bold" font-size="25">0.12</text>
<text x="753.9" y="1929.8" text-anchor="middle" font-family="'Liberation Sans', Arial, Helvetica, sans-serif" font-weight="bold" font-size="25">0.07</text>
<text x="817.1" y="1929.8" text-anchor="middle" font-family="'Liberation Sans', Arial, Helvetica, sans-serif" font-weight="bold" font-size="25">0.14</text>
<text x="880.3" y="1929.8" text-anchor="middle" font-family="'Liberation Sans', Arial, Helvetica, sans-serif" font-weight="bold" font-size="25">1</text>
<text x="943.5" y="1929.8" text-anchor="middle" font-family="'Liberation Sans', Arial, Helvetica, sans-serif" font-weight="bold" font-size="25">0.06</text>
<text x="1006.8" y="1929.8" text-anchor="middle" font-family="'Liberation Sans', Arial, Helvetica, sans-serif" font-weight="bold" font-size="25">0.11</text>
<text x="1070" y="1929.8" text-anchor="middle" font-family="'Liberation Sans', Arial, Helvetica, sans-serif" font-weight="bold" font-size="25">0.22</text>
<text x="1133.2" y="1929.8" text-anchor="middle" font-family="'Liberation Sans', Arial, Helvetica, sans-serif" font-weight="bold" font-size="25">−0.16</text>
<text x="1196.4" y="1929.8" text-anchor="middle" font-family="'Liberation Sans', Arial, Helvetica, sans-serif" font-weight="bold" font-size="25">−0.19</text>
<text x="1259.7" y="1929.8" text-anchor="middle" font-family="'Liberation Sans', Arial, Helvetica, sans-serif" font-weight="bold" font-size="25">−0.07</text>
<text x="1322.9" y="1929.8" text-anchor="middle" font-family="'Liberation Sans', Arial, Helvetica, sans-serif" font-weight="bold" font-size="25">−0.02</text>
<text x="1386.1" y="1929.8" text-anchor="middle" font-family="'Liberation Sans', Arial, Helvetica, sans-serif" font-weight="bold" font-size="25">0.03</text>
<text x="1449.3" y="1929.8" text-anchor="middle" font-family="'Liberation Sans', Arial, Helvetica, sans-serif" font-weight="bold" font-size="25">−0.01</text>
<text x="1512.5" y="1929.8" text-anchor="middle" font-family="'Liberation Sans', Arial, Helvetica, sans-serif" font-weight="bold" font-size="25">−0.22</text>
<text x="1575.8" y="1929.8" text-anchor="middle" font-family="'Liberation Sans', Arial, Helvetica, sans-serif" font-weight="bold" font-size="25">−0.36</text>
<text x="1639" y="1929.8" text-anchor="middle" font-family="'Liberation Sans', Arial, Helvetica, sans-serif" font-weight="bold" font-size="25">−0.22</text>
<text x="1702.2" y="1929.8" text-anchor="middle" font-family="'Liberation Sans', Arial, Helvetica, sans-serif" font-weight="bold" font-size="25">−0.05</text>
<text x="1765.4" y="1929.8" text-anchor="middle" font-family="'Liberation Sans', Arial, Helvetica, sans-serif" font-weight="bold" font-size="25">−0.23</text>
<text x="1829.7" y="1929.8" text-anchor="middle" font-family="'Liberation Sans', Arial, Helvetica, sans-serif" font-weight="bold" font-size="25">−0.27</text>
<text x="501" y="1993" text-anchor="middle" font-family="'Liberation Sans', Arial, Helvetica, sans-serif" font-weight="bold" font-size="25">−0.34</text>
<text x="564.2" y="1993" text-anchor="middle" font-family="'Liberation Sans', Arial, Helvetica, sans-serif" font-weight="bold" font-size="25">0.01</text>
<text x="627.4" y="1993" text-anchor="middle" font-family="'Liberation Sans', Arial, Helvetica, sans-serif" font-weight="bold" font-size="25">−0.24</text>
<text x="690.7" y="1993" text-anchor="middle" font-family="'Liberation Sans', Arial, Helvetica, sans-serif" font-weight="bold" font-size="25">−0.1</text>
<text x="753.9" y="1993" text-anchor="middle" font-family="'Liberation Sans', Arial, Helvetica, sans-serif" font-weight="bold" font-size="25">−0.15</text>
<text x="817.1" y="1993" text-anchor="middle" font-family="'Liberation Sans', Arial, Helvetica, sans-serif" font-weight="bold" font-size="25">0.05</text>
<text x="880.3" y="1993" text-anchor="middle" font-family="'Liberation Sans', Arial, Helvetica, sans-serif" font-weight="bold" font-size="25">0.06</text>
<text x="943.5" y="1993" text-anchor="middle" font-family="'Liberation Sans', Arial, Helvetica, sans-serif" font-weight="bold" font-size="25">1</text>
<text x="1006.8" y="1993" text-anchor="middle" font-family="'Liberation Sans', Arial, Helvetica, sans-serif" font-weight="bold" font-size="25">0.25</text>
<text x="1070" y="1993" text-anchor="middle" font-family="'Liberation Sans', Arial, Helvetica, sans-serif" font-weight="bold" font-size="25">0.24</text>
<text x="1133.2" y="1993" text-anchor="middle" font-family="'Liberation Sans', Arial, Helvetica, sans-serif" font-weight="bold" font-size="25">−0.27</text>
<text x="1196.4" y="1993" text-anchor="middle" font-family="'Liberation Sans', Arial, Helvetica, sans-serif" font-weight="bold" font-size="25">−0.32</text>
<text x="1259.7" y="1993" text-anchor="middle" font-family="'Liberation Sans', Arial, Helvetica, sans-serif" font-weight="bold" font-size="25">−0.07</text>
<text x="1322.9" y="1993" text-anchor="middle" font-family="'Liberation Sans', Arial, Helvetica, sans-serif" font-weight="bold" font-size="25">−0.11</text>
<text x="1386.1" y="1993" text-anchor="middle" font-family="'Liberation Sans', Arial, Helvetica, sans-serif" font-weight="bold" font-size="25">−0.02</text>
<text x="1449.3" y="1993" text-anchor="middle" font-family="'Liberation Sans', Arial, Helvetica, sans-serif" font-weight="bold" font-size="25">−0.08</text>
<text x="1512.5" y="1993" text-anchor="middle" font-family="'Liberation Sans', Arial, Helvetica, sans-serif" font-weight="bold" font-size="25">0.06</text>
<text x="1575.8" y="1993" text-anchor="middle" font-family="'Liberation Sans', Arial, Helvetica, sans-serif" font-weight="bold" font-size="25">0.17</text>
<text x="1639" y="1993" text-anchor="middle" font-family="'Liberation Sans', Arial, Helvetica, sans-serif" font-weight="bold" font-size="25">0.17</text>
<text x="1702.2" y="1993" text-anchor="middle" font-family="'Liberation Sans', Arial, Helvetica, sans-serif" font-weight="bold" font-size="25">0.06</text>
<text x="1765.4" y="1993" text-anchor="middle" font-family="'Liberation Sans', Arial, Helvetica, sans-serif" font-weight="bold" font-size="25">0.21</text>
<text x="1829.7" y="1993" text-anchor="middle" font-family="'Liberation Sans', Arial, Helvetica, sans-serif" font-weight="bold" font-size="25">−0.09</text>
<text x="501" y="2056.1" text-anchor="middle" font-family="'Liberation Sans', Arial, Helvetica, sans-serif" font-weight="bold" font-size="25">−0.52</text>
<text x="564.2" y="2056.1" text-anchor="middle" font-family="'Liberation Sans', Arial, Helvetica, sans-serif" font-weight="bold" font-size="25">−0.06</text>
<text x="627.4" y="2056.1" text-anchor="middle" font-family="'Liberation Sans', Arial, Helvetica, sans-serif" font-weight="bold" font-size="25">−0.26</text>
<text x="690.7" y="2056.1" text-anchor="middle" font-family="'Liberation Sans', Arial, Helvetica, sans-serif" font-weight="bold" font-size="25">−0.08</text>
<text x="753.9" y="2056.1" text-anchor="middle" font-family="'Liberation Sans', Arial, Helvetica, sans-serif" font-weight="bold" font-size="25">−0.09</text>
<text x="817.1" y="2056.1" text-anchor="middle" font-family="'Liberation Sans', Arial, Helvetica, sans-serif" font-weight="bold" font-size="25">−0.47</text>
<text x="880.3" y="2056.1" text-anchor="middle" font-family="'Liberation Sans', Arial, Helvetica, sans-serif" font-weight="bold" font-size="25">0.11</text>
<text x="943.5" y="2056.1" text-anchor="middle" font-family="'Liberation Sans', Arial, Helvetica, sans-serif" font-weight="bold" font-size="25">0.25</text>
<text x="1006.8" y="2056.1" text-anchor="middle" font-family="'Liberation Sans', Arial, Helvetica, sans-serif" font-weight="bold" font-size="25">1</text>
<text x="1070" y="2056.1" text-anchor="middle" font-family="'Liberation Sans', Arial, Helvetica, sans-serif" font-weight="bold" font-size="25">0.6</text>
<text x="1133.2" y="2056.1" text-anchor="middle" font-family="'Liberation Sans', Arial, Helvetica, sans-serif" font-weight="bold" font-size="25">0.01</text>
<text x="1196.4" y="2056.1" text-anchor="middle" font-family="'Liberation Sans', Arial, Helvetica, sans-serif" font-weight="bold" font-size="25">0.02</text>
<text x="1259.7" y="2056.1" text-anchor="middle" font-family="'Liberation Sans', Arial, Helvetica, sans-serif" font-weight="bold" font-size="25">0.05</text>
<text x="1322.9" y="2056.1" text-anchor="middle" font-family="'Liberation Sans', Arial, Helvetica, sans-serif" font-weight="bold" font-size="25">−0.05</text>
<text x="1386.1" y="2056.1" text-anchor="middle" font-family="'Liberation Sans', Arial, Helvetica, sans-serif" font-weight="bold" font-size="25">0.15</text>
<text x="1449.3" y="2056.1" text-anchor="middle" font-family="'Liberation Sans', Arial, Helvetica, sans-serif" font-weight="bold" font-size="25">−0.22</text>
<text x="1512.5" y="2056.1" text-anchor="middle" font-family="'Liberation Sans', Arial, Helvetica, sans-serif" font-weight="bold" font-size="25">−0.05</text>
<text x="1575.8" y="2056.1" text-anchor="middle" font-family="'Liberation Sans', Arial, Helvetica, sans-serif" font-weight="bold" font-size="25">0.05</text>
<text x="1639" y="2056.1" text-anchor="middle" font-family="'Liberation Sans', Arial, Helvetica, sans-serif" font-weight="bold" font-size="25">0.01</text>
<text x="1702.2" y="2056.1" text-anchor="middle" font-family="'Liberation Sans', Arial, Helvetica, sans-serif" font-weight="bold" font-size="25">0.03</text>
<text x="1765.4" y="2056.1" text-anchor="middle" font-family="'Liberation Sans', Arial, Helvetica, sans-serif" font-weight="bold" font-size="25">0.4</text>
<text x="1829.7" y="2056.1" text-anchor="middle" font-family="'Liberation Sans', Arial, Helvetica, sans-serif" font-weight="bold" font-size="25">0.19</text>
<text x="501" y="2119.3" text-anchor="middle" font-family="'Liberation Sans', Arial, Helvetica, sans-serif" font-weight="bold" font-size="25">−0.43</text>
<text x="564.2" y="2119.3" text-anchor="middle" font-family="'Liberation Sans', Arial, Helvetica, sans-serif" font-weight="bold" font-size="25">−0.08</text>
<text x="627.4" y="2119.3" text-anchor="middle" font-family="'Liberation Sans', Arial, Helvetica, sans-serif" font-weight="bold" font-size="25">−0.16</text>
<text x="690.7" y="2119.3" text-anchor="middle" font-family="'Liberation Sans', Arial, Helvetica, sans-serif" font-weight="bold" font-size="25">−0.03</text>
<text x="753.9" y="2119.3" text-anchor="middle" font-family="'Liberation Sans', Arial, Helvetica, sans-serif" font-weight="bold" font-size="25">0</text>
<text x="817.1" y="2119.3" text-anchor="middle" font-family="'Liberation Sans', Arial, Helvetica, sans-serif" font-weight="bold" font-size="25">−0.28</text>
<text x="880.3" y="2119.3" text-anchor="middle" font-family="'Liberation Sans', Arial, Helvetica, sans-serif" font-weight="bold" font-size="25">0.22</text>
<text x="943.5" y="2119.3" text-anchor="middle" font-family="'Liberation Sans', Arial, Helvetica, sans-serif" font-weight="bold" font-size="25">0.24</text>
<text x="1006.8" y="2119.3" text-anchor="middle" font-family="'Liberation Sans', Arial, Helvetica, sans-serif" font-weight="bold" font-size="25">0.6</text>
<text x="1070" y="2119.3" text-anchor="middle" font-family="'Liberation Sans', Arial, Helvetica, sans-serif" font-weight="bold" font-size="25">1</text>
<text x="1133.2" y="2119.3" text-anchor="middle" font-family="'Liberation Sans', Arial, Helvetica, sans-serif" font-weight="bold" font-size="25">−0.06</text>
<text x="1196.4" y="2119.3" text-anchor="middle" font-family="'Liberation Sans', Arial, Helvetica, sans-serif" font-weight="bold" font-size="25">0.01</text>
<text x="1259.7" y="2119.3" text-anchor="middle" font-family="'Liberation Sans', Arial, Helvetica, sans-serif" font-weight="bold" font-size="25">0.11</text>
<text x="1322.9" y="2119.3" text-anchor="middle" font-family="'Liberation Sans', Arial, Helvetica, sans-serif" font-weight="bold" font-size="25">0.02</text>
<text x="1386.1" y="2119.3" text-anchor="middle" font-family="'Liberation Sans', Arial, Helvetica, sans-serif" font-weight="bold" font-size="25">0.15</text>
<text x="1449.3" y="2119.3" text-anchor="middle" font-family="'Liberation Sans', Arial, Helvetica, sans-serif" font-weight="bold" font-size="25">−0.12</text>
<text x="1512.5" y="2119.3" text-anchor="middle" font-family="'Liberation Sans', Arial, Helvetica, sans-serif" font-weight="bold" font-size="25">−0.09</text>
<text x="1575.8" y="2119.3" text-anchor="middle" font-family="'Liberation Sans', Arial, Helvetica, sans-serif" font-weight="bold" font-size="25">−0.1</text>
<text x="1639" y="2119.3" text-anchor="middle" font-family="'Liberation Sans', Arial, Helvetica, sans-serif" font-weight="bold" font-size="25">−0.02</text>
<text x="1702.2" y="2119.3" text-anchor="middle" font-family="'Liberation Sans', Arial, Helvetica, sans-serif" font-weight="bold" font-size="25">0.06</text>
<text x="1765.4" y="2119.3" text-anchor="middle" font-family="'Liberation Sans', Arial, Helvetica, sans-serif" font-weight="bold" font-size="25">0.2</text>
<text x="1829.7" y="2119.3" text-anchor="middle" font-family="'Liberation Sans', Arial, Helvetica, sans-serif" font-weight="bold" font-size="25">−0.05</text>
<text x="501" y="2182.5" text-anchor="middle" font-family="'Liberation Sans', Arial, Helvetica, sans-serif" font-weight="bold" font-size="25">−0.29</text>
<text x="564.2" y="2182.5" text-anchor="middle" font-family="'Liberation Sans', Arial, Helvetica, sans-serif" font-weight="bold" font-size="25">−0.25</text>
<text x="627.4" y="2182.5" text-anchor="middle" font-family="'Liberation Sans', Arial, Helvetica, sans-serif" font-weight="bold" font-size="25">−0.12</text>
<text x="690.7" y="2182.5" text-anchor="middle" font-family="'Liberation Sans', Arial, Helvetica, sans-serif" font-weight="bold" font-size="25">−0.03</text>
<text x="753.9" y="2182.5" text-anchor="middle" font-family="'Liberation Sans', Arial, Helvetica, sans-serif" font-weight="bold" font-size="25">0.02</text>
<text x="817.1" y="2182.5" text-anchor="middle" font-family="'Liberation Sans', Arial, Helvetica, sans-serif" font-weight="bold" font-size="25">0.05</text>
<text x="880.3" y="2182.5" text-anchor="middle" font-family="'Liberation Sans', Arial, Helvetica, sans-serif" font-weight="bold" font-size="25">−0.16</text>
<text x="943.5" y="2182.5" text-anchor="middle" font-family="'Liberation Sans', Arial, Helvetica, sans-serif" font-weight="bold" font-size="25">−0.27</text>
<text x="1006.8" y="2182.5" text-anchor="middle" font-family="'Liberation Sans', Arial, Helvetica, sans-serif" font-weight="bold" font-size="25">0.01</text>
<text x="1070" y="2182.5" text-anchor="middle" font-family="'Liberation Sans', Arial, Helvetica, sans-serif" font-weight="bold" font-size="25">−0.06</text>
<text x="1133.2" y="2182.5" text-anchor="middle" font-family="'Liberation Sans', Arial, Helvetica, sans-serif" font-weight="bold" font-size="25">1</text>
<text x="1196.4" y="2182.5" text-anchor="middle" font-family="'Liberation Sans', Arial, Helvetica, sans-serif" font-weight="bold" font-size="25">0.47</text>
<text x="1259.7" y="2182.5" text-anchor="middle" font-family="'Liberation Sans', Arial, Helvetica, sans-serif" font-weight="bold" font-size="25">−0.02</text>
<text x="1322.9" y="2182.5" text-anchor="middle" font-family="'Liberation Sans', Arial, Helvetica, sans-serif" font-weight="bold" font-size="25">0.06</text>
<text x="1386.1" y="2182.5" text-anchor="middle" font-family="'Liberation Sans', Arial, Helvetica, sans-serif" font-weight="bold" font-size="25">0.02</text>
<text x="1449.3" y="2182.5" text-anchor="middle" font-family="'Liberation Sans', Arial, Helvetica, sans-serif" font-weight="bold" font-size="25">−0.17</text>
<text x="1512.5" y="2182.5" text-anchor="middle" font-family="'Liberation Sans', Arial, Helvetica, sans-serif" font-weight="bold" font-size="25">−0.21</text>
<text x="1575.8" y="2182.5" text-anchor="middle" font-family="'Liberation Sans', Arial, Helvetica, sans-serif" font-weight="bold" font-size="25">−0.19</text>
<text x="1639" y="2182.5" text-anchor="middle" font-family="'Liberation Sans', Arial, Helvetica, sans-serif" font-weight="bold" font-size="25">−0.11</text>
<text x="1702.2" y="2182.5" text-anchor="middle" font-family="'Liberation Sans', Arial, Helvetica, sans-serif" font-weight="bold" font-size="25">−0.02</text>
<text x="1765.4" y="2182.5" text-anchor="middle" font-family="'Liberation Sans', Arial, Helvetica, sans-serif" font-weight="bold" font-size="25">0.07</text>
<text x="1829.7" y="2182.5" text-anchor="middle" font-family="'Liberation Sans', Arial, Helvetica, sans-serif" font-weight="bold" font-size="25">0.33</text>
<text x="501" y="2245.7" text-anchor="middle" font-family="'Liberation Sans', Arial, Helvetica, sans-serif" font-weight="bold" font-size="25">−0.3</text>
<text x="564.2" y="2245.7" text-anchor="middle" font-family="'Liberation Sans', Arial, Helvetica, sans-serif" font-weight="bold" font-size="25">−0.25</text>
<text x="627.4" y="2245.7" text-anchor="middle" font-family="'Liberation Sans', Arial, Helvetica, sans-serif" font-weight="bold" font-size="25">−0.1</text>
<text x="690.7" y="2245.7" text-anchor="middle" font-family="'Liberation Sans', Arial, Helvetica, sans-serif" font-weight="bold" font-size="25">0.01</text>
<text x="753.9" y="2245.7" text-anchor="middle" font-family="'Liberation Sans', Arial, Helvetica, sans-serif" font-weight="bold" font-size="25">0.13</text>
<text x="817.1" y="2245.7" text-anchor="middle" font-family="'Liberation Sans', Arial, Helvetica, sans-serif" font-weight="bold" font-size="25">−0.18</text>
<text x="880.3" y="2245.7" text-anchor="middle" font-family="'Liberation Sans', Arial, Helvetica, sans-serif" font-weight="bold" font-size="25">−0.19</text>
<text x="943.5" y="2245.7" text-anchor="middle" font-family="'Liberation Sans', Arial, Helvetica, sans-serif" font-weight="bold" font-size="25">−0.32</text>
<text x="1006.8" y="2245.7" text-anchor="middle" font-family="'Liberation Sans', Arial, Helvetica, sans-serif" font-weight="bold" font-size="25">0.02</text>
<text x="1070" y="2245.7" text-anchor="middle" font-family="'Liberation Sans', Arial, Helvetica, sans-serif" font-weight="bold" font-size="25">0.01</text>
<text x="1133.2" y="2245.7" text-anchor="middle" font-family="'Liberation Sans', Arial, Helvetica, sans-serif" font-weight="bold" font-size="25">0.47</text>
<text x="1196.4" y="2245.7" text-anchor="middle" font-family="'Liberation Sans', Arial, Helvetica, sans-serif" font-weight="bold" font-size="25">1</text>
<text x="1259.7" y="2245.7" text-anchor="middle" font-family="'Liberation Sans', Arial, Helvetica, sans-serif" font-weight="bold" font-size="25">−0.03</text>
<text x="1322.9" y="2245.7" text-anchor="middle" font-family="'Liberation Sans', Arial, Helvetica, sans-serif" font-weight="bold" font-size="25">0.03</text>
<text x="1386.1" y="2245.7" text-anchor="middle" font-family="'Liberation Sans', Arial, Helvetica, sans-serif" font-weight="bold" font-size="25">0.1</text>
<text x="1449.3" y="2245.7" text-anchor="middle" font-family="'Liberation Sans', Arial, Helvetica, sans-serif" font-weight="bold" font-size="25">−0.06</text>
<text x="1512.5" y="2245.7" text-anchor="middle" font-family="'Liberation Sans', Arial, Helvetica, sans-serif" font-weight="bold" font-size="25">−0.09</text>
<text x="1575.8" y="2245.7" text-anchor="middle" font-family="'Liberation Sans', Arial, Helvetica, sans-serif" font-weight="bold" font-size="25">−0.06</text>
<text x="1639" y="2245.7" text-anchor="middle" font-family="'Liberation Sans', Arial, Helvetica, sans-serif" font-weight="bold" font-size="25">0.02</text>
<text x="1702.2" y="2245.7" text-anchor="middle" font-family="'Liberation Sans', Arial, Helvetica, sans-serif" font-weight="bold" font-size="25">−0.07</text>
<text x="1765.4" y="2245.7" text-anchor="middle" font-family="'Liberation Sans', Arial, Helvetica, sans-serif" font-weight="bold" font-size="25">0.09</text>
<text x="1829.7" y="2245.7" text-anchor="middle" font-family="'Liberation Sans', Arial, Helvetica, sans-serif" font-weight="bold" font-size="25">0.11</text>
<text x="501" y="2308.8" text-anchor="middle" font-family="'Liberation Sans', Arial, Helvetica, sans-serif" font-weight="bold" font-size="25">−0.08</text>
<text x="564.2" y="2308.8" text-anchor="middle" font-family="'Liberation Sans', Arial, Helvetica, sans-serif" font-weight="bold" font-size="25">−0.03</text>
<text x="627.4" y="2308.8" text-anchor="middle" font-family="'Liberation Sans', Arial, Helvetica, sans-serif" font-weight="bold" font-size="25">−0.05</text>
<text x="690.7" y="2308.8" text-anchor="middle" font-family="'Liberation Sans', Arial, Helvetica, sans-serif" font-weight="bold" font-size="25">−0.05</text>
<text x="753.9" y="2308.8" text-anchor="middle" font-family="'Liberation Sans', Arial, Helvetica, sans-serif" font-weight="bold" font-size="25">−0.03</text>
<text x="817.1" y="2308.8" text-anchor="middle" font-family="'Liberation Sans', Arial, Helvetica, sans-serif" font-weight="bold" font-size="25">−0.14</text>
<text x="880.3" y="2308.8" text-anchor="middle" font-family="'Liberation Sans', Arial, Helvetica, sans-serif" font-weight="bold" font-size="25">−0.07</text>
<text x="943.5" y="2308.8" text-anchor="middle" font-family="'Liberation Sans', Arial, Helvetica, sans-serif" font-weight="bold" font-size="25">−0.07</text>
<text x="1006.8" y="2308.8" text-anchor="middle" font-family="'Liberation Sans', Arial, Helvetica, sans-serif" font-weight="bold" font-size="25">0.05</text>
<text x="1070" y="2308.8" text-anchor="middle" font-family="'Liberation Sans', Arial, Helvetica, sans-serif" font-weight="bold" font-size="25">0.11</text>
<text x="1133.2" y="2308.8" text-anchor="middle" font-family="'Liberation Sans', Arial, Helvetica, sans-serif" font-weight="bold" font-size="25">−0.02</text>
<text x="1196.4" y="2308.8" text-anchor="middle" font-family="'Liberation Sans', Arial, Helvetica, sans-serif" font-weight="bold" font-size="25">−0.03</text>
<text x="1259.7" y="2308.8" text-anchor="middle" font-family="'Liberation Sans', Arial, Helvetica, sans-serif" font-weight="bold" font-size="25">1</text>
<text x="1322.9" y="2308.8" text-anchor="middle" font-family="'Liberation Sans', Arial, Helvetica, sans-serif" font-weight="bold" font-size="25">0.6</text>
<text x="1386.1" y="2308.8" text-anchor="middle" font-family="'Liberation Sans', Arial, Helvetica, sans-serif" font-weight="bold" font-size="25">0.04</text>
<text x="1449.3" y="2308.8" text-anchor="middle" font-family="'Liberation Sans', Arial, Helvetica, sans-serif" font-weight="bold" font-size="25">0.05</text>
<text x="1512.5" y="2308.8" text-anchor="middle" font-family="'Liberation Sans', Arial, Helvetica, sans-serif" font-weight="bold" font-size="25">−0.04</text>
<text x="1575.8" y="2308.8" text-anchor="middle" font-family="'Liberation Sans', Arial, Helvetica, sans-serif" font-weight="bold" font-size="25">0.04</text>
<text x="1639" y="2308.8" text-anchor="middle" font-family="'Liberation Sans', Arial, Helvetica, sans-serif" font-weight="bold" font-size="25">0.11</text>
<text x="1702.2" y="2308.8" text-anchor="middle" font-family="'Liberation Sans', Arial, Helvetica, sans-serif" font-weight="bold" font-size="25">−0.03</text>
<text x="1765.4" y="2308.8" text-anchor="middle" font-family="'Liberation Sans', Arial, Helvetica, sans-serif" font-weight="bold" font-size="25">0.04</text>
<text x="1829.7" y="2308.8" text-anchor="middle" font-family="'Liberation Sans', Arial, Helvetica, sans-serif" font-weight="bold" font-size="25">0.15</text>
<text x="501" y="2372" text-anchor="middle" font-family="'Liberation Sans', Arial, Helvetica, sans-serif" font-weight="bold" font-size="25">−0.02</text>
<text x="564.2" y="2372" text-anchor="middle" font-family="'Liberation Sans', Arial, Helvetica, sans-serif" font-weight="bold" font-size="25">−0.03</text>
<text x="627.4" y="2372" text-anchor="middle" font-family="'Liberation Sans', Arial, Helvetica, sans-serif" font-weight="bold" font-size="25">−0.05</text>
<text x="690.7" y="2372" text-anchor="middle" font-family="'Liberation Sans', Arial, Helvetica, sans-serif" font-weight="bold" font-size="25">−0.02</text>
<text x="753.9" y="2372" text-anchor="middle" font-family="'Liberation Sans', Arial, Helvetica, sans-serif" font-weight="bold" font-size="25">−0.05</text>
<text x="817.1" y="2372" text-anchor="middle" font-family="'Liberation Sans', Arial, Helvetica, sans-serif" font-weight="bold" font-size="25">−0.04</text>
<text x="880.3" y="2372" text-anchor="middle" font-family="'Liberation Sans', Arial, Helvetica, sans-serif" font-weight="bold" font-size="25">−0.02</text>
<text x="943.5" y="2372" text-anchor="middle" font-family="'Liberation Sans', Arial, Helvetica, sans-serif" font-weight="bold" font-size="25">−0.11</text>
<text x="1006.8" y="2372" text-anchor="middle" font-family="'Liberation Sans', Arial, Helvetica, sans-serif" font-weight="bold" font-size="25">−0.05</text>
<text x="1070" y="2372" text-anchor="middle" font-family="'Liberation Sans', Arial, Helvetica, sans-serif" font-weight="bold" font-size="25">0.02</text>
<text x="1133.2" y="2372" text-anchor="middle" font-family="'Liberation Sans', Arial, Helvetica, sans-serif" font-weight="bold" font-size="25">0.06</text>
<text x="1196.4" y="2372" text-anchor="middle" font-family="'Liberation Sans', Arial, Helvetica, sans-serif" font-weight="bold" font-size="25">0.03</text>
<text x="1259.7" y="2372" text-anchor="middle" font-family="'Liberation Sans', Arial, Helvetica, sans-serif" font-weight="bold" font-size="25">0.6</text>
<text x="1322.9" y="2372" text-anchor="middle" font-family="'Liberation Sans', Arial, Helvetica, sans-serif" font-weight="bold" font-size="25">1</text>
<text x="1386.1" y="2372" text-anchor="middle" font-family="'Liberation Sans', Arial, Helvetica, sans-serif" font-weight="bold" font-size="25">−0.01</text>
<text x="1449.3" y="2372" text-anchor="middle" font-family="'Liberation Sans', Arial, Helvetica, sans-serif" font-weight="bold" font-size="25">0.03</text>
<text x="1512.5" y="2372" text-anchor="middle" font-family="'Liberation Sans', Arial, Helvetica, sans-serif" font-weight="bold" font-size="25">−0.07</text>
<text x="1575.8" y="2372" text-anchor="middle" font-family="'Liberation Sans', Arial, Helvetica, sans-serif" font-weight="bold" font-size="25">0.04</text>
<text x="1639" y="2372" text-anchor="middle" font-family="'Liberation Sans', Arial, Helvetica, sans-serif" font-weight="bold" font-size="25">0.04</text>
<text x="1702.2" y="2372" text-anchor="middle" font-family="'Liberation Sans', Arial, Helvetica, sans-serif" font-weight="bold" font-size="25">−0.01</text>
<text x="1765.4" y="2372" text-anchor="middle" font-family="'Liberation Sans', Arial, Helvetica, sans-serif" font-weight="bold" font-size="25">−0.02</text>
<text x="1829.7" y="2372" text-anchor="middle" font-family="'Liberation Sans', Arial, Helvetica, sans-serif" font-weight="bold" font-size="25">0.05</text>
<text x="501" y="2435.2" text-anchor="middle" font-family="'Liberation Sans', Arial, Helvetica, sans-serif" font-weight="bold" font-size="25">−0.32</text>
<text x="564.2" y="2435.2" text-anchor="middle" font-family="'Liberation Sans', Arial, Helvetica, sans-serif" font-weight="bold" font-size="25">−0.11</text>
<text x="627.4" y="2435.2" text-anchor="middle" font-family="'Liberation Sans', Arial, Helvetica, sans-serif" font-weight="bold" font-size="25">−0.04</text>
<text x="690.7" y="2435.2" text-anchor="middle" font-family="'Liberation Sans', Arial, Helvetica, sans-serif" font-weight="bold" font-size="25">0</text>
<text x="753.9" y="2435.2" text-anchor="middle" font-family="'Liberation Sans', Arial, Helvetica, sans-serif" font-weight="bold" font-size="25">−0.02</text>
<text x="817.1" y="2435.2" text-anchor="middle" font-family="'Liberation Sans', Arial, Helvetica, sans-serif" font-weight="bold" font-size="25">0.05</text>
<text x="880.3" y="2435.2" text-anchor="middle" font-family="'Liberation Sans', Arial, Helvetica, sans-serif" font-weight="bold" font-size="25">0.03</text>
<text x="943.5" y="2435.2" text-anchor="middle" font-family="'Liberation Sans', Arial, Helvetica, sans-serif" font-weight="bold" font-size="25">−0.02</text>
<text x="1006.8" y="2435.2" text-anchor="middle" font-family="'Liberation Sans', Arial, Helvetica, sans-serif" font-weight="bold" font-size="25">0.15</text>
<text x="1070" y="2435.2" text-anchor="middle" font-family="'Liberation Sans', Arial, Helvetica, sans-serif" font-weight="bold" font-size="25">0.15</text>
<text x="1133.2" y="2435.2" text-anchor="middle" font-family="'Liberation Sans', Arial, Helvetica, sans-serif" font-weight="bold" font-size="25">0.02</text>
<text x="1196.4" y="2435.2" text-anchor="middle" font-family="'Liberation Sans', Arial, Helvetica, sans-serif" font-weight="bold" font-size="25">0.1</text>
<text x="1259.7" y="2435.2" text-anchor="middle" font-family="'Liberation Sans', Arial, Helvetica, sans-serif" font-weight="bold" font-size="25">0.04</text>
<text x="1322.9" y="2435.2" text-anchor="middle" font-family="'Liberation Sans', Arial, Helvetica, sans-serif" font-weight="bold" font-size="25">−0.01</text>
<text x="1386.1" y="2435.2" text-anchor="middle" font-family="'Liberation Sans', Arial, Helvetica, sans-serif" font-weight="bold" font-size="25">1</text>
<text x="1449.3" y="2435.2" text-anchor="middle" font-family="'Liberation Sans', Arial, Helvetica, sans-serif" font-weight="bold" font-size="25">0.15</text>
<text x="1512.5" y="2435.2" text-anchor="middle" font-family="'Liberation Sans', Arial, Helvetica, sans-serif" font-weight="bold" font-size="25">0.05</text>
<text x="1575.8" y="2435.2" text-anchor="middle" font-family="'Liberation Sans', Arial, Helvetica, sans-serif" font-weight="bold" font-size="25">0.2</text>
<text x="1639" y="2435.2" text-anchor="middle" font-family="'Liberation Sans', Arial, Helvetica, sans-serif" font-weight="bold" font-size="25">0.08</text>
<text x="1702.2" y="2435.2" text-anchor="middle" font-family="'Liberation Sans', Arial, Helvetica, sans-serif" font-weight="bold" font-size="25">−0.06</text>
<text x="1765.4" y="2435.2" text-anchor="middle" font-family="'Liberation Sans', Arial, Helvetica, sans-serif" font-weight="bold" font-size="25">0.07</text>
<text x="1829.7" y="2435.2" text-anchor="middle" font-family="'Liberation Sans', Arial, Helvetica, sans-serif" font-weight="bold" font-size="25">−0.03</text>
<text x="501" y="2498.3" text-anchor="middle" font-family="'Liberation Sans', Arial, Helvetica, sans-serif" font-weight="bold" font-size="25">−0.04</text>
<text x="564.2" y="2498.3" text-anchor="middle" font-family="'Liberation Sans', Arial, Helvetica, sans-serif" font-weight="bold" font-size="25">−0.06</text>
<text x="627.4" y="2498.3" text-anchor="middle" font-family="'Liberation Sans', Arial, Helvetica, sans-serif" font-weight="bold" font-size="25">0.15</text>
<text x="690.7" y="2498.3" text-anchor="middle" font-family="'Liberation Sans', Arial, Helvetica, sans-serif" font-weight="bold" font-size="25">−0.01</text>
<text x="753.9" y="2498.3" text-anchor="middle" font-family="'Liberation Sans', Arial, Helvetica, sans-serif" font-weight="bold" font-size="25">0.11</text>
<text x="817.1" y="2498.3" text-anchor="middle" font-family="'Liberation Sans', Arial, Helvetica, sans-serif" font-weight="bold" font-size="25">0.07</text>
<text x="880.3" y="2498.3" text-anchor="middle" font-family="'Liberation Sans', Arial, Helvetica, sans-serif" font-weight="bold" font-size="25">−0.01</text>
<text x="943.5" y="2498.3" text-anchor="middle" font-family="'Liberation Sans', Arial, Helvetica, sans-serif" font-weight="bold" font-size="25">−0.08</text>
<text x="1006.8" y="2498.3" text-anchor="middle" font-family="'Liberation Sans', Arial, Helvetica, sans-serif" font-weight="bold" font-size="25">−0.22</text>
<text x="1070" y="2498.3" text-anchor="middle" font-family="'Liberation Sans', Arial, Helvetica, sans-serif" font-weight="bold" font-size="25">−0.12</text>
<text x="1133.2" y="2498.3" text-anchor="middle" font-family="'Liberation Sans', Arial, Helvetica, sans-serif" font-weight="bold" font-size="25">−0.17</text>
<text x="1196.4" y="2498.3" text-anchor="middle" font-family="'Liberation Sans', Arial, Helvetica, sans-serif" font-weight="bold" font-size="25">−0.06</text>
<text x="1259.7" y="2498.3" text-anchor="middle" font-family="'Liberation Sans', Arial, Helvetica, sans-serif" font-weight="bold" font-size="25">0.05</text>
<text x="1322.9" y="2498.3" text-anchor="middle" font-family="'Liberation Sans', Arial, Helvetica, sans-serif" font-weight="bold" font-size="25">0.03</text>
<text x="1386.1" y="2498.3" text-anchor="middle" font-family="'Liberation Sans', Arial, Helvetica, sans-serif" font-weight="bold" font-size="25">0.15</text>
<text x="1449.3" y="2498.3" text-anchor="middle" font-family="'Liberation Sans', Arial, Helvetica, sans-serif" font-weight="bold" font-size="25">1</text>
<text x="1512.5" y="2498.3" text-anchor="middle" font-family="'Liberation Sans', Arial, Helvetica, sans-serif" font-weight="bold" font-size="25">−0.04</text>
<text x="1575.8" y="2498.3" text-anchor="middle" font-family="'Liberation Sans', Arial, Helvetica, sans-serif" font-weight="bold" font-size="25">0.02</text>
<text x="1639" y="2498.3" text-anchor="middle" font-family="'Liberation Sans', Arial, Helvetica, sans-serif" font-weight="bold" font-size="25">0.03</text>
<text x="1702.2" y="2498.3" text-anchor="middle" font-family="'Liberation Sans', Arial, Helvetica, sans-serif" font-weight="bold" font-size="25">−0.05</text>
<text x="1765.4" y="2498.3" text-anchor="middle" font-family="'Liberation Sans', Arial, Helvetica, sans-serif" font-weight="bold" font-size="25">−0.09</text>
<text x="1829.7" y="2498.3" text-anchor="middle" font-family="'Liberation Sans', Arial, Helvetica, sans-serif" font-weight="bold" font-size="25">−0.08</text>
<text x="501" y="2561.5" text-anchor="middle" font-family="'Liberation Sans', Arial, Helvetica, sans-serif" font-weight="bold" font-size="25">−0.2</text>
<text x="564.2" y="2561.5" text-anchor="middle" font-family="'Liberation Sans', Arial, Helvetica, sans-serif" font-weight="bold" font-size="25">−0.06</text>
<text x="627.4" y="2561.5" text-anchor="middle" font-family="'Liberation Sans', Arial, Helvetica, sans-serif" font-weight="bold" font-size="25">−0.13</text>
<text x="690.7" y="2561.5" text-anchor="middle" font-family="'Liberation Sans', Arial, Helvetica, sans-serif" font-weight="bold" font-size="25">−0.03</text>
<text x="753.9" y="2561.5" text-anchor="middle" font-family="'Liberation Sans', Arial, Helvetica, sans-serif" font-weight="bold" font-size="25">0.06</text>
<text x="817.1" y="2561.5" text-anchor="middle" font-family="'Liberation Sans', Arial, Helvetica, sans-serif" font-weight="bold" font-size="25">−0.01</text>
<text x="880.3" y="2561.5" text-anchor="middle" font-family="'Liberation Sans', Arial, Helvetica, sans-serif" font-weight="bold" font-size="25">−0.22</text>
<text x="943.5" y="2561.5" text-anchor="middle" font-family="'Liberation Sans', Arial, Helvetica, sans-serif" font-weight="bold" font-size="25">0.06</text>
<text x="1006.8" y="2561.5" text-anchor="middle" font-family="'Liberation Sans', Arial, Helvetica, sans-serif" font-weight="bold" font-size="25">−0.05</text>
<text x="1070" y="2561.5" text-anchor="middle" font-family="'Liberation Sans', Arial, Helvetica, sans-serif" font-weight="bold" font-size="25">−0.09</text>
<text x="1133.2" y="2561.5" text-anchor="middle" font-family="'Liberation Sans', Arial, Helvetica, sans-serif" font-weight="bold" font-size="25">−0.21</text>
<text x="1196.4" y="2561.5" text-anchor="middle" font-family="'Liberation Sans', Arial, Helvetica, sans-serif" font-weight="bold" font-size="25">−0.09</text>
<text x="1259.7" y="2561.5" text-anchor="middle" font-family="'Liberation Sans', Arial, Helvetica, sans-serif" font-weight="bold" font-size="25">−0.04</text>
<text x="1322.9" y="2561.5" text-anchor="middle" font-family="'Liberation Sans', Arial, Helvetica, sans-serif" font-weight="bold" font-size="25">−0.07</text>
<text x="1386.1" y="2561.5" text-anchor="middle" font-family="'Liberation Sans', Arial, Helvetica, sans-serif" font-weight="bold" font-size="25">0.05</text>
<text x="1449.3" y="2561.5" text-anchor="middle" font-family="'Liberation Sans', Arial, Helvetica, sans-serif" font-weight="bold" font-size="25">−0.04</text>
<text x="1512.5" y="2561.5" text-anchor="middle" font-family="'Liberation Sans', Arial, Helvetica, sans-serif" font-weight="bold" font-size="25">1</text>
<text x="1575.8" y="2561.5" text-anchor="middle" font-family="'Liberation Sans', Arial, Helvetica, sans-serif" font-weight="bold" font-size="25">0.19</text>
<text x="1639" y="2561.5" text-anchor="middle" font-family="'Liberation Sans', Arial, Helvetica, sans-serif" font-weight="bold" font-size="25">0.16</text>
<text x="1702.2" y="2561.5" text-anchor="middle" font-family="'Liberation Sans', Arial, Helvetica, sans-serif" font-weight="bold" font-size="25">−0.02</text>
<text x="1765.4" y="2561.5" text-anchor="middle" font-family="'Liberation Sans', Arial, Helvetica, sans-serif" font-weight="bold" font-size="25">0.09</text>
<text x="1829.7" y="2561.5" text-anchor="middle" font-family="'Liberation Sans', Arial, Helvetica, sans-serif" font-weight="bold" font-size="25">−0.01</text>
<text x="501" y="2624.7" text-anchor="middle" font-family="'Liberation Sans', Arial, Helvetica, sans-serif" font-weight="bold" font-size="25">−0.07</text>
<text x="564.2" y="2624.7" text-anchor="middle" font-family="'Liberation Sans', Arial, Helvetica, sans-serif" font-weight="bold" font-size="25">−0.06</text>
<text x="627.4" y="2624.7" text-anchor="middle" font-family="'Liberation Sans', Arial, Helvetica, sans-serif" font-weight="bold" font-size="25">−0.16</text>
<text x="690.7" y="2624.7" text-anchor="middle" font-family="'Liberation Sans', Arial, Helvetica, sans-serif" font-weight="bold" font-size="25">−0.12</text>
<text x="753.9" y="2624.7" text-anchor="middle" font-family="'Liberation Sans', Arial, Helvetica, sans-serif" font-weight="bold" font-size="25">−0.15</text>
<text x="817.1" y="2624.7" text-anchor="middle" font-family="'Liberation Sans', Arial, Helvetica, sans-serif" font-weight="bold" font-size="25">−0.11</text>
<text x="880.3" y="2624.7" text-anchor="middle" font-family="'Liberation Sans', Arial, Helvetica, sans-serif" font-weight="bold" font-size="25">−0.36</text>
<text x="943.5" y="2624.7" text-anchor="middle" font-family="'Liberation Sans', Arial, Helvetica, sans-serif" font-weight="bold" font-size="25">0.17</text>
<text x="1006.8" y="2624.7" text-anchor="middle" font-family="'Liberation Sans', Arial, Helvetica, sans-serif" font-weight="bold" font-size="25">0.05</text>
<text x="1070" y="2624.7" text-anchor="middle" font-family="'Liberation Sans', Arial, Helvetica, sans-serif" font-weight="bold" font-size="25">−0.1</text>
<text x="1133.2" y="2624.7" text-anchor="middle" font-family="'Liberation Sans', Arial, Helvetica, sans-serif" font-weight="bold" font-size="25">−0.19</text>
<text x="1196.4" y="2624.7" text-anchor="middle" font-family="'Liberation Sans', Arial, Helvetica, sans-serif" font-weight="bold" font-size="25">−0.06</text>
<text x="1259.7" y="2624.7" text-anchor="middle" font-family="'Liberation Sans', Arial, Helvetica, sans-serif" font-weight="bold" font-size="25">0.04</text>
<text x="1322.9" y="2624.7" text-anchor="middle" font-family="'Liberation Sans', Arial, Helvetica, sans-serif" font-weight="bold" font-size="25">0.04</text>
<text x="1386.1" y="2624.7" text-anchor="middle" font-family="'Liberation Sans', Arial, Helvetica, sans-serif" font-weight="bold" font-size="25">0.2</text>
<text x="1449.3" y="2624.7" text-anchor="middle" font-family="'Liberation Sans', Arial, Helvetica, sans-serif" font-weight="bold" font-size="25">0.02</text>
<text x="1512.5" y="2624.7" text-anchor="middle" font-family="'Liberation Sans', Arial, Helvetica, sans-serif" font-weight="bold" font-size="25">0.19</text>
<text x="1575.8" y="2624.7" text-anchor="middle" font-family="'Liberation Sans', Arial, Helvetica, sans-serif" font-weight="bold" font-size="25">1</text>
<text x="1639" y="2624.7" text-anchor="middle" font-family="'Liberation Sans', Arial, Helvetica, sans-serif" font-weight="bold" font-size="25">0.22</text>
<text x="1702.2" y="2624.7" text-anchor="middle" font-family="'Liberation Sans', Arial, Helvetica, sans-serif" font-weight="bold" font-size="25">0</text>
<text x="1765.4" y="2624.7" text-anchor="middle" font-family="'Liberation Sans', Arial, Helvetica, sans-serif" font-weight="bold" font-size="25">0.12</text>
<text x="1829.7" y="2624.7" text-anchor="middle" font-family="'Liberation Sans', Arial, Helvetica, sans-serif" font-weight="bold" font-size="25">0.01</text>
<text x="501" y="2687.8" text-anchor="middle" font-family="'Liberation Sans', Arial, Helvetica, sans-serif" font-weight="bold" font-size="25">−0.19</text>
<text x="564.2" y="2687.8" text-anchor="middle" font-family="'Liberation Sans', Arial, Helvetica, sans-serif" font-weight="bold" font-size="25">−0.01</text>
<text x="627.4" y="2687.8" text-anchor="middle" font-family="'Liberation Sans', Arial, Helvetica, sans-serif" font-weight="bold" font-size="25">−0.42</text>
<text x="690.7" y="2687.8" text-anchor="middle" font-family="'Liberation Sans', Arial, Helvetica, sans-serif" font-weight="bold" font-size="25">−0.16</text>
<text x="753.9" y="2687.8" text-anchor="middle" font-family="'Liberation Sans', Arial, Helvetica, sans-serif" font-weight="bold" font-size="25">−0.17</text>
<text x="817.1" y="2687.8" text-anchor="middle" font-family="'Liberation Sans', Arial, Helvetica, sans-serif" font-weight="bold" font-size="25">−0.11</text>
<text x="880.3" y="2687.8" text-anchor="middle" font-family="'Liberation Sans', Arial, Helvetica, sans-serif" font-weight="bold" font-size="25">−0.22</text>
<text x="943.5" y="2687.8" text-anchor="middle" font-family="'Liberation Sans', Arial, Helvetica, sans-serif" font-weight="bold" font-size="25">0.17</text>
<text x="1006.8" y="2687.8" text-anchor="middle" font-family="'Liberation Sans', Arial, Helvetica, sans-serif" font-weight="bold" font-size="25">0.01</text>
<text x="1070" y="2687.8" text-anchor="middle" font-family="'Liberation Sans', Arial, Helvetica, sans-serif" font-weight="bold" font-size="25">−0.02</text>
<text x="1133.2" y="2687.8" text-anchor="middle" font-family="'Liberation Sans', Arial, Helvetica, sans-serif" font-weight="bold" font-size="25">−0.11</text>
<text x="1196.4" y="2687.8" text-anchor="middle" font-family="'Liberation Sans', Arial, Helvetica, sans-serif" font-weight="bold" font-size="25">0.02</text>
<text x="1259.7" y="2687.8" text-anchor="middle" font-family="'Liberation Sans', Arial, Helvetica, sans-serif" font-weight="bold" font-size="25">0.11</text>
<text x="1322.9" y="2687.8" text-anchor="middle" font-family="'Liberation Sans', Arial, Helvetica, sans-serif" font-weight="bold" font-size="25">0.04</text>
<text x="1386.1" y="2687.8" text-anchor="middle" font-family="'Liberation Sans', Arial, Helvetica, sans-serif" font-weight="bold" font-size="25">0.08</text>
<text x="1449.3" y="2687.8" text-anchor="middle" font-family="'Liberation Sans', Arial, Helvetica, sans-serif" font-weight="bold" font-size="25">0.03</text>
<text x="1512.5" y="2687.8" text-anchor="middle" font-family="'Liberation Sans', Arial, Helvetica, sans-serif" font-weight="bold" font-size="25">0.16</text>
<text x="1575.8" y="2687.8" text-anchor="middle" font-family="'Liberation Sans', Arial, Helvetica, sans-serif" font-weight="bold" font-size="25">0.22</text>
<text x="1639" y="2687.8" text-anchor="middle" font-family="'Liberation Sans', Arial, Helvetica, sans-serif" font-weight="bold" font-size="25">1</text>
<text x="1702.2" y="2687.8" text-anchor="middle" font-family="'Liberation Sans', Arial, Helvetica, sans-serif" font-weight="bold" font-size="25">0.12</text>
<text x="1765.4" y="2687.8" text-anchor="middle" font-family="'Liberation Sans', Arial, Helvetica, sans-serif" font-weight="bold" font-size="25">0.19</text>
<text x="1829.7" y="2687.8" text-anchor="middle" font-family="'Liberation Sans', Arial, Helvetica, sans-serif" font-weight="bold" font-size="25">0.09</text>
<text x="501" y="2751" text-anchor="middle" font-family="'Liberation Sans', Arial, Helvetica, sans-serif" font-weight="bold" font-size="25">−0.02</text>
<text x="564.2" y="2751" text-anchor="middle" font-family="'Liberation Sans', Arial, Helvetica, sans-serif" font-weight="bold" font-size="25">0.03</text>
<text x="627.4" y="2751" text-anchor="middle" font-family="'Liberation Sans', Arial, Helvetica, sans-serif" font-weight="bold" font-size="25">−0.06</text>
<text x="690.7" y="2751" text-anchor="middle" font-family="'Liberation Sans', Arial, Helvetica, sans-serif" font-weight="bold" font-size="25">−0.03</text>
<text x="753.9" y="2751" text-anchor="middle" font-family="'Liberation Sans', Arial, Helvetica, sans-serif" font-weight="bold" font-size="25">−0.03</text>
<text x="817.1" y="2751" text-anchor="middle" font-family="'Liberation Sans', Arial, Helvetica, sans-serif" font-weight="bold" font-size="25">−0.05</text>
<text x="880.3" y="2751" text-anchor="middle" font-family="'Liberation Sans', Arial, Helvetica, sans-serif" font-weight="bold" font-size="25">−0.05</text>
<text x="943.5" y="2751" text-anchor="middle" font-family="'Liberation Sans', Arial, Helvetica, sans-serif" font-weight="bold" font-size="25">0.06</text>
<text x="1006.8" y="2751" text-anchor="middle" font-family="'Liberation Sans', Arial, Helvetica, sans-serif" font-weight="bold" font-size="25">0.03</text>
<text x="1070" y="2751" text-anchor="middle" font-family="'Liberation Sans', Arial, Helvetica, sans-serif" font-weight="bold" font-size="25">0.06</text>
<text x="1133.2" y="2751" text-anchor="middle" font-family="'Liberation Sans', Arial, Helvetica, sans-serif" font-weight="bold" font-size="25">−0.02</text>
<text x="1196.4" y="2751" text-anchor="middle" font-family="'Liberation Sans', Arial, Helvetica, sans-serif" font-weight="bold" font-size="25">−0.07</text>
<text x="1259.7" y="2751" text-anchor="middle" font-family="'Liberation Sans', Arial, Helvetica, sans-serif" font-weight="bold" font-size="25">−0.03</text>
<text x="1322.9" y="2751" text-anchor="middle" font-family="'Liberation Sans', Arial, Helvetica, sans-serif" font-weight="bold" font-size="25">−0.01</text>
<text x="1386.1" y="2751" text-anchor="middle" font-family="'Liberation Sans', Arial, Helvetica, sans-serif" font-weight="bold" font-size="25">−0.06</text>
<text x="1449.3" y="2751" text-anchor="middle" font-family="'Liberation Sans', Arial, Helvetica, sans-serif" font-weight="bold" font-size="25">−0.05</text>
<text x="1512.5" y="2751" text-anchor="middle" font-family="'Liberation Sans', Arial, Helvetica, sans-serif" font-weight="bold" font-size="25">−0.02</text>
<text x="1575.8" y="2751" text-anchor="middle" font-family="'Liberation Sans', Arial, Helvetica, sans-serif" font-weight="bold" font-size="25">0</text>
<text x="1639" y="2751" text-anchor="middle" font-family="'Liberation Sans', Arial, Helvetica, sans-serif" font-weight="bold" font-size="25">0.12</text>
<text x="1702.2" y="2751" text-anchor="middle" font-family="'Liberation Sans', Arial, Helvetica, sans-serif" font-weight="bold" font-size="25">1</text>
<text x="1765.4" y="2751" text-anchor="middle" font-family="'Liberation Sans', Arial, Helvetica, sans-serif" font-weight="bold" font-size="25">0.1</text>
<text x="1829.7" y="2751" text-anchor="middle" font-family="'Liberation Sans', Arial, Helvetica, sans-serif" font-weight="bold" font-size="25">0.07</text>
<text x="501" y="2814.2" text-anchor="middle" font-family="'Liberation Sans', Arial, Helvetica, sans-serif" font-weight="bold" font-size="25">−0.42</text>
<text x="564.2" y="2814.2" text-anchor="middle" font-family="'Liberation Sans', Arial, Helvetica, sans-serif" font-weight="bold" font-size="25">−0.14</text>
<text x="627.4" y="2814.2" text-anchor="middle" font-family="'Liberation Sans', Arial, Helvetica, sans-serif" font-weight="bold" font-size="25">−0.28</text>
<text x="690.7" y="2814.2" text-anchor="middle" font-family="'Liberation Sans', Arial, Helvetica, sans-serif" font-weight="bold" font-size="25">−0.13</text>
<text x="753.9" y="2814.2" text-anchor="middle" font-family="'Liberation Sans', Arial, Helvetica, sans-serif" font-weight="bold" font-size="25">−0.11</text>
<text x="817.1" y="2814.2" text-anchor="middle" font-family="'Liberation Sans', Arial, Helvetica, sans-serif" font-weight="bold" font-size="25">−0.4</text>
<text x="880.3" y="2814.2" text-anchor="middle" font-family="'Liberation Sans', Arial, Helvetica, sans-serif" font-weight="bold" font-size="25">−0.23</text>
<text x="943.5" y="2814.2" text-anchor="middle" font-family="'Liberation Sans', Arial, Helvetica, sans-serif" font-weight="bold" font-size="25">0.21</text>
<text x="1006.8" y="2814.2" text-anchor="middle" font-family="'Liberation Sans', Arial, Helvetica, sans-serif" font-weight="bold" font-size="25">0.4</text>
<text x="1070" y="2814.2" text-anchor="middle" font-family="'Liberation Sans', Arial, Helvetica, sans-serif" font-weight="bold" font-size="25">0.2</text>
<text x="1133.2" y="2814.2" text-anchor="middle" font-family="'Liberation Sans', Arial, Helvetica, sans-serif" font-weight="bold" font-size="25">0.07</text>
<text x="1196.4" y="2814.2" text-anchor="middle" font-family="'Liberation Sans', Arial, Helvetica, sans-serif" font-weight="bold" font-size="25">0.09</text>
<text x="1259.7" y="2814.2" text-anchor="middle" font-family="'Liberation Sans', Arial, Helvetica, sans-serif" font-weight="bold" font-size="25">0.04</text>
<text x="1322.9" y="2814.2" text-anchor="middle" font-family="'Liberation Sans', Arial, Helvetica, sans-serif" font-weight="bold" font-size="25">−0.02</text>
<text x="1386.1" y="2814.2" text-anchor="middle" font-family="'Liberation Sans', Arial, Helvetica, sans-serif" font-weight="bold" font-size="25">0.07</text>
<text x="1449.3" y="2814.2" text-anchor="middle" font-family="'Liberation Sans', Arial, Helvetica, sans-serif" font-weight="bold" font-size="25">−0.09</text>
<text x="1512.5" y="2814.2" text-anchor="middle" font-family="'Liberation Sans', Arial, Helvetica, sans-serif" font-weight="bold" font-size="25">0.09</text>
<text x="1575.8" y="2814.2" text-anchor="middle" font-family="'Liberation Sans', Arial, Helvetica, sans-serif" font-weight="bold" font-size="25">0.12</text>
<text x="1639" y="2814.2" text-anchor="middle" font-family="'Liberation Sans', Arial, Helvetica, sans-serif" font-weight="bold" font-size="25">0.19</text>
<text x="1702.2" y="2814.2" text-anchor="middle" font-family="'Liberation Sans', Arial, Helvetica, sans-serif" font-weight="bold" font-size="25">0.1</text>
<text x="1765.4" y="2814.2" text-anchor="middle" font-family="'Liberation Sans', Arial, Helvetica, sans-serif" font-weight="bold" font-size="25">1</text>
<text x="1829.7" y="2814.2" text-anchor="middle" font-family="'Liberation Sans', Arial, Helvetica, sans-serif" font-weight="bold" font-size="25">0.37</text>
<text x="501" y="2879.3" text-anchor="middle" font-family="'Liberation Sans', Arial, Helvetica, sans-serif" font-weight="bold" font-size="25">−0.28</text>
<text x="564.2" y="2879.3" text-anchor="middle" font-family="'Liberation Sans', Arial, Helvetica, sans-serif" font-weight="bold" font-size="25">−0.01</text>
<text x="627.4" y="2879.3" text-anchor="middle" font-family="'Liberation Sans', Arial, Helvetica, sans-serif" font-weight="bold" font-size="25">−0.24</text>
<text x="690.7" y="2879.3" text-anchor="middle" font-family="'Liberation Sans', Arial, Helvetica, sans-serif" font-weight="bold" font-size="25">−0.14</text>
<text x="753.9" y="2879.3" text-anchor="middle" font-family="'Liberation Sans', Arial, Helvetica, sans-serif" font-weight="bold" font-size="25">−0.07</text>
<text x="817.1" y="2879.3" text-anchor="middle" font-family="'Liberation Sans', Arial, Helvetica, sans-serif" font-weight="bold" font-size="25">−0.29</text>
<text x="880.3" y="2879.3" text-anchor="middle" font-family="'Liberation Sans', Arial, Helvetica, sans-serif" font-weight="bold" font-size="25">−0.27</text>
<text x="943.5" y="2879.3" text-anchor="middle" font-family="'Liberation Sans', Arial, Helvetica, sans-serif" font-weight="bold" font-size="25">−0.09</text>
<text x="1006.8" y="2879.3" text-anchor="middle" font-family="'Liberation Sans', Arial, Helvetica, sans-serif" font-weight="bold" font-size="25">0.19</text>
<text x="1070" y="2879.3" text-anchor="middle" font-family="'Liberation Sans', Arial, Helvetica, sans-serif" font-weight="bold" font-size="25">−0.05</text>
<text x="1133.2" y="2879.3" text-anchor="middle" font-family="'Liberation Sans', Arial, Helvetica, sans-serif" font-weight="bold" font-size="25">0.33</text>
<text x="1196.4" y="2879.3" text-anchor="middle" font-family="'Liberation Sans', Arial, Helvetica, sans-serif" font-weight="bold" font-size="25">0.11</text>
<text x="1259.7" y="2879.3" text-anchor="middle" font-family="'Liberation Sans', Arial, Helvetica, sans-serif" font-weight="bold" font-size="25">0.15</text>
<text x="1322.9" y="2879.3" text-anchor="middle" font-family="'Liberation Sans', Arial, Helvetica, sans-serif" font-weight="bold" font-size="25">0.05</text>
<text x="1386.1" y="2879.3" text-anchor="middle" font-family="'Liberation Sans', Arial, Helvetica, sans-serif" font-weight="bold" font-size="25">−0.03</text>
<text x="1449.3" y="2879.3" text-anchor="middle" font-family="'Liberation Sans', Arial, Helvetica, sans-serif" font-weight="bold" font-size="25">−0.08</text>
<text x="1512.5" y="2879.3" text-anchor="middle" font-family="'Liberation Sans', Arial, Helvetica, sans-serif" font-weight="bold" font-size="25">−0.01</text>
<text x="1575.8" y="2879.3" text-anchor="middle" font-family="'Liberation Sans', Arial, Helvetica, sans-serif" font-weight="bold" font-size="25">0.01</text>
<text x="1639" y="2879.3" text-anchor="middle" font-family="'Liberation Sans', Arial, Helvetica, sans-serif" font-weight="bold" font-size="25">0.09</text>
<text x="1702.2" y="2879.3" text-anchor="middle" font-family="'Liberation Sans', Arial, Helvetica, sans-serif" font-weight="bold" font-size="25">0.07</text>
<text x="1765.4" y="2879.3" text-anchor="middle" font-family="'Liberation Sans', Arial, Helvetica, sans-serif" font-weight="bold" font-size="25">0.37</text>
<text x="1829.7" y="2879.3" text-anchor="middle" font-family="'Liberation Sans', Arial, Helvetica, sans-serif" font-weight="bold" font-size="25">1</text>
<text x="455.6" y="1549.2" text-anchor="end" font-family="'Liberation Sans', Arial, Helvetica, sans-serif" font-size="32.8">Macrophages M0</text>
<text x="455.6" y="1612.4" text-anchor="end" font-family="'Liberation Sans', Arial, Helvetica, sans-serif" font-size="32.8">Macrophages M2</text>
<text x="455.6" y="1675.5" text-anchor="end" font-family="'Liberation Sans', Arial, Helvetica, sans-serif" font-size="32.8">Mast cells activated</text>
<text x="455.6" y="1738.7" text-anchor="end" font-family="'Liberation Sans', Arial, Helvetica, sans-serif" font-size="32.8">Eosinophils</text>
<text x="455.6" y="1801.9" text-anchor="end" font-family="'Liberation Sans', Arial, Helvetica, sans-serif" font-size="32.8">Neutrophils</text>
<text x="455.6" y="1865" text-anchor="end" font-family="'Liberation Sans', Arial, Helvetica, sans-serif" font-size="32.8">T cells CD4 memory resting</text>
<text x="455.6" y="1928.2" text-anchor="end" font-family="'Liberation Sans', Arial, Helvetica, sans-serif" font-size="32.8">NK cells resting</text>
<text x="455.6" y="1991.4" text-anchor="end" font-family="'Liberation Sans', Arial, Helvetica, sans-serif" font-size="32.8">Macrophages M1</text>
<text x="455.6" y="2054.5" text-anchor="end" font-family="'Liberation Sans', Arial, Helvetica, sans-serif" font-size="32.8">T cells CD8</text>
<text x="455.6" y="2117.7" text-anchor="end" font-family="'Liberation Sans', Arial, Helvetica, sans-serif" font-size="32.8">T cells CD4 memory activated</text>
<text x="455.6" y="2180.9" text-anchor="end" font-family="'Liberation Sans', Arial, Helvetica, sans-serif" font-size="32.8">B cells naive</text>
<text x="455.6" y="2244.1" text-anchor="end" font-family="'Liberation Sans', Arial, Helvetica, sans-serif" font-size="32.8">Plasma cells</text>
<text x="455.6" y="2307.2" text-anchor="end" font-family="'Liberation Sans', Arial, Helvetica, sans-serif" font-size="32.8">B cells memory</text>
<text x="455.6" y="2370.4" text-anchor="end" font-family="'Liberation Sans', Arial, Helvetica, sans-serif" font-size="32.8">T cells CD4 naive</text>
<text x="455.6" y="2433.6" text-anchor="end" font-family="'Liberation Sans', Arial, Helvetica, sans-serif" font-size="32.8">Monocytes</text>
<text x="455.6" y="2496.7" text-anchor="end" font-family="'Liberation Sans', Arial, Helvetica, sans-serif" font-size="32.8">Dendritic cells activated</text>
<text x="455.6" y="2559.9" text-anchor="end" font-family="'Liberation Sans', Arial, Helvetica, sans-serif" font-size="32.8">Dendritic cells resting</text>
<text x="455.6" y="2623.1" text-anchor="end" font-family="'Liberation Sans', Arial, Helvetica, sans-serif" font-size="32.8">NK cells activated</text>
<text x="455.6" y="2686.2" text-anchor="end" font-family="'Liberation Sans', Arial, Helvetica, sans-serif" font-size="32.8">Mast cells resting</text>
<text x="455.6" y="2749.4" text-anchor="end" font-family="'Liberation Sans', Arial, Helvetica, sans-serif" font-size="32.8">T cells gamma delta</text>
<text x="455.6" y="2812.6" text-anchor="end" font-family="'Liberation Sans', Arial, Helvetica, sans-serif" font-size="32.8">T cells follicular helper</text>
<text x="455.6" y="2877.7" text-anchor="end" font-family="'Liberation Sans', Arial, Helvetica, sans-serif" font-size="32.8">T cells regulatory (Tregs)</text>
<text transform="translate(509.5 1497.4) rotate(-90)" font-family="'Liberation Sans', Arial, Helvetica, sans-serif" font-size="32.7">Macrophages M0</text>
<text transform="translate(572.7 1497.4) rotate(-90)" font-family="'Liberation Sans', Arial, Helvetica, sans-serif" font-size="32.7">Macrophages M2</text>
<text transform="translate(635.9 1497.4) rotate(-90)" font-family="'Liberation Sans', Arial, Helvetica, sans-serif" font-size="32.7">Mast cells activated</text>
<text transform="translate(699.2 1497.4) rotate(-90)" font-family="'Liberation Sans', Arial, Helvetica, sans-serif" font-size="32.7">Eosinophils</text>
<text transform="translate(762.4 1497.4) rotate(-90)" font-family="'Liberation Sans', Arial, Helvetica, sans-serif" font-size="32.7">Neutrophils</text>
<text transform="translate(825.6 1497.4) rotate(-90)" font-family="'Liberation Sans', Arial, Helvetica, sans-serif" font-size="32.7">T cells CD4 memory resting</text>
<text transform="translate(888.8 1497.4) rotate(-90)" font-family="'Liberation Sans', Arial, Helvetica, sans-serif" font-size="32.7">NK cells resting</text>
<text transform="translate(952 1497.4) rotate(-90)" font-family="'Liberation Sans', Arial, Helvetica, sans-serif" font-size="32.7">Macrophages M1</text>
<text transform="translate(1015.3 1497.4) rotate(-90)" font-family="'Liberation Sans', Arial, Helvetica, sans-serif" font-size="32.7">T cells CD8</text>
<text transform="translate(1078.5 1497.4) rotate(-90)" font-family="'Liberation Sans', Arial, Helvetica, sans-serif" font-size="32.7">T cells CD4 memory activated</text>
<text transform="translate(1141.7 1497.4) rotate(-90)" font-family="'Liberation Sans', Arial, Helvetica, sans-serif" font-size="32.7">B cells naive</text>
<text transform="translate(1204.9 1497.4) rotate(-90)" font-family="'Liberation Sans', Arial, Helvetica, sans-serif" font-size="32.7">Plasma cells</text>
<text transform="translate(1268.2 1497.4) rotate(-90)" font-family="'Liberation Sans', Arial, Helvetica, sans-serif" font-size="32.7">B cells memory</text>
<text transform="translate(1331.4 1497.4) rotate(-90)" font-family="'Liberation Sans', Arial, Helvetica, sans-serif" font-size="32.7">T cells CD4 naive</text>
<text transform="translate(1394.6 1497.4) rotate(-90)" font-family="'Liberation Sans', Arial, Helvetica, sans-serif" font-size="32.7">Monocytes</text>
<text transform="translate(1457.8 1497.4) rotate(-90)" font-family="'Liberation Sans', Arial, Helvetica, sans-serif" font-size="32.7">Dendritic cells activated</text>
<text transform="translate(1521 1497.4) rotate(-90)" font-family="'Liberation Sans', Arial, Helvetica, sans-serif" font-size="32.7">Dendritic cells resting</text>
<text transform="translate(1584.2 1497.4) rotate(-90)" font-family="'Liberation Sans', Arial, Helvetica, sans-serif" font-size="32.7">NK cells activated</text>
<text transform="translate(1647.5 1497.4) rotate(-90)" font-family="'Liberation Sans', Arial, Helvetica, sans-serif" font-size="32.7">Mast cells resting</text>
<text transform="translate(1710.7 1497.4) rotate(-90)" font-family="'Liberation Sans', Arial, Helvetica, sans-serif" font-size="32.7">T cells gamma delta</text>
<text transform="translate(1773.9 1497.4) rotate(-90)" font-family="'Liberation Sans', Arial, Helvetica, sans-serif" font-size="32.7">T cells follicular helper</text>
<text transform="translate(1838.2 1497.4) rotate(-90)" font-family="'Liberation Sans', Arial, Helvetica, sans-serif" font-size="32.7">T cells regulatory (Tregs)</text>
<rect x="1888.3" y="2874.2" width="50.9" height="28.3" fill="#0000FF"/>
<rect x="1888.3" y="2846.3" width="50.9" height="28.3" fill="#0A0AFF"/>
<rect x="1888.3" y="2818.5" width="50.9" height="28.3" fill="#1515FF"/>
<rect x="1888.3" y="2790.7" width="50.9" height="28.3" fill="#1F1FFF"/>
<rect x="1888.3" y="2762.9" width="50.9" height="28.3" fill="#2A2AFF"/>
<rect x="1888.3" y="2735" width="50.9" height="28.3" fill="#3434FF"/>
<rect x="1888.3" y="2707.2" width="50.9" height="28.3" fill="#3E3EFF"/>
<rect x="1888.3" y="2679.4" width="50.9" height="28.3" fill="#4949FF"/>
<rect x="1888.3" y="2651.5" width="50.9" height="28.3" fill="#5353FF"/>
<rect x="1888.3" y="2623.7" width="50.9" height="28.3" fill="#5E5EFF"/>
<rect x="1888.3" y="2595.9" width="50.9" height="28.3" fill="#6868FF"/>
<rect x="1888.3" y="2568.1" width="50.9" height="28.3" fill="#7272FF"/>
<rect x="1888.3" y="2540.2" width="50.9" height="28.3" fill="#7D7DFF"/>
<rect x="1888.3" y="2512.4" width="50.9" height="28.3" fill="#8787FF"/>
<rect x="1888.3" y="2484.6" width="50.9" height="28.3" fill="#9292FF"/>
<rect x="1888.3" y="2456.8" width="50.9" height="28.3" fill="#9C9CFF"/>
<rect x="1888.3" y="2428.9" width="50.9" height="28.3" fill="#A7A7FF"/>
<rect x="1888.3" y="2401.1" width="50.9" height="28.3" fill="#B1B1FF"/>
<rect x="1888.3" y="2373.3" width="50.9" height="28.3" fill="#BBBBFF"/>
<rect x="1888.3" y="2345.4" width="50.9" height="28.3" fill="#C6C6FF"/>
<rect x="1888.3" y="2317.6" width="50.9" height="28.3" fill="#D0D0FF"/>
<rect x="1888.3" y="2289.8" width="50.9" height="28.3" fill="#DBDBFF"/>
<rect x="1888.3" y="2262" width="50.9" height="28.3" fill="#E5E5FF"/>
<rect x="1888.3" y="2234.1" width="50.9" height="28.3" fill="#EFEFFF"/>
<rect x="1888.3" y="2206.3" width="50.9" height="28.3" fill="#FAFAFF"/>
<rect x="1888.3" y="2178.5" width="50.9" height="28.3" fill="#FFFAFA"/>
<rect x="1888.3" y="2150.6" width="50.9" height="28.3" fill="#FFEFEF"/>
<rect x="1888.3" y="2122.8" width="50.9" height="28.3" fill="#FFE5E5"/>
<rect x="1888.3" y="2095" width="50.9" height="28.3" fill="#FFDBDB"/>
<rect x="1888.3" y="2067.2" width="50.9" height="28.3" fill="#FFD0D0"/>
<rect x="1888.3" y="2039.3" width="50.9" height="28.3" fill="#FFC6C6"/>
<rect x="1888.3" y="2011.5" width="50.9" height="28.3" fill="#FFBBBB"/>
<rect x="1888.3" y="1983.7" width="50.9" height="28.3" fill="#FFB1B1"/>
<rect x="1888.3" y="1955.8" width="50.9" height="28.3" fill="#FFA7A7"/>
<rect x="1888.3" y="1928" width="50.9" height="28.3" fill="#FF9C9C"/>
<rect x="1888.3" y="1900.2" width="50.9" height="28.3" fill="#FF9292"/>
<rect x="1888.3" y="1872.4" width="50.9" height="28.3" fill="#FF8787"/>
<rect x="1888.3" y="1844.5" width="50.9" height="28.3" fill="#FF7D7D"/>
<rect x="1888.3" y="1816.7" width="50.9" height="28.3" fill="#FF7272"/>
<rect x="1888.3" y="1788.9" width="50.9" height="28.3" fill="#FF6868"/>
<rect x="1888.3" y="1761.1" width="50.9" height="28.3" fill="#FF5E5E"/>
<rect x="1888.3" y="1733.2" width="50.9" height="28.3" fill="#FF5353"/>
<rect x="1888.3" y="1705.4" width="50.9" height="28.3" fill="#FF4949"/>
<rect x="1888.3" y="1677.6" width="50.9" height="28.3" fill="#FF3E3E"/>
<rect x="1888.3" y="1649.7" width="50.9" height="28.3" fill="#FF3434"/>
<rect x="1888.3" y="1621.9" width="50.9" height="28.3" fill="#FF2A2A"/>
<rect x="1888.3" y="1594.1" width="50.9" height="28.3" fill="#FF1F1F"/>
<rect x="1888.3" y="1566.3" width="50.9" height="28.3" fill="#FF1515"/>
<rect x="1888.3" y="1538.4" width="50.9" height="28.3" fill="#FF0A0A"/>
<rect x="1888.3" y="1510.6" width="50.9" height="28.3" fill="#FF0000"/>
<rect x="1888.3" y="1510.6" width="50.9" height="1391.4" fill="none" stroke="#000" stroke-width="2.2"/>
<text x="2005.1" y="1519.6" text-anchor="middle" font-family="'Liberation Sans', Arial, Helvetica, sans-serif" font-size="28" fill="#1a1a1a">1</text>
<text x="2005.1" y="1658.7" text-anchor="middle" font-family="'Liberation Sans', Arial, Helvetica, sans-serif" font-size="28" fill="#1a1a1a">0.8</text>
<text x="2005.1" y="1797.9" text-anchor="middle" font-family="'Liberation Sans', Arial, Helvetica, sans-serif" font-size="28" fill="#1a1a1a">0.6</text>
<text x="2005.1" y="1937" text-anchor="middle" font-family="'Liberation Sans', Arial, Helvetica, sans-serif" font-size="28" fill="#1a1a1a">0.4</text>
<text x="2005.1" y="2076.2" text-anchor="middle" font-family="'Liberation Sans', Arial, Helvetica, sans-serif" font-size="28" fill="#1a1a1a">0.2</text>
<text x="2005.1" y="2215.3" text-anchor="middle" font-family="'Liberation Sans', Arial, Helvetica, sans-serif" font-size="28" fill="#1a1a1a">0</text>
<text x="2005.1" y="2354.4" text-anchor="middle" font-family="'Liberation Sans', Arial, Helvetica, sans-serif" font-size="28" fill="#1a1a1a">−0.2</text>
<text x="2005.1" y="2493.6" text-anchor="middle" font-family="'Liberation Sans', Arial, Helvetica, sans-serif" font-size="28" fill="#1a1a1a">−0.4</text>
<text x="2005.1" y="2632.7" text-anchor="middle" font-family="'Liberation Sans', Arial, Helvetica, sans-serif" font-size="28" fill="#1a1a1a">−0.6</text>
<text x="2005.1" y="2771.9" text-anchor="middle" font-family="'Liberation Sans', Arial, Helvetica, sans-serif" font-size="28" fill="#1a1a1a">−0.8</text>
<text x="2005.1" y="2911" text-anchor="middle" font-family="'Liberation Sans', Arial, Helvetica, sans-serif" font-size="28" fill="#1a1a1a">−1</text>
<path stroke="#000" stroke-width="2.2" d="M1939.2 1510.6H1950.7M1939.2 1649.7H1950.7M1939.2 1788.9H1950.7M1939.2 1928H1950.7M1939.2 2067.2H1950.7M1939.2 2206.3H1950.7M1939.2 2345.4H1950.7M1939.2 2484.6H1950.7M1939.2 2623.7H1950.7M1939.2 2762.9H1950.7M1939.2 2902H1950.7"/>
</svg>
</body></html>
